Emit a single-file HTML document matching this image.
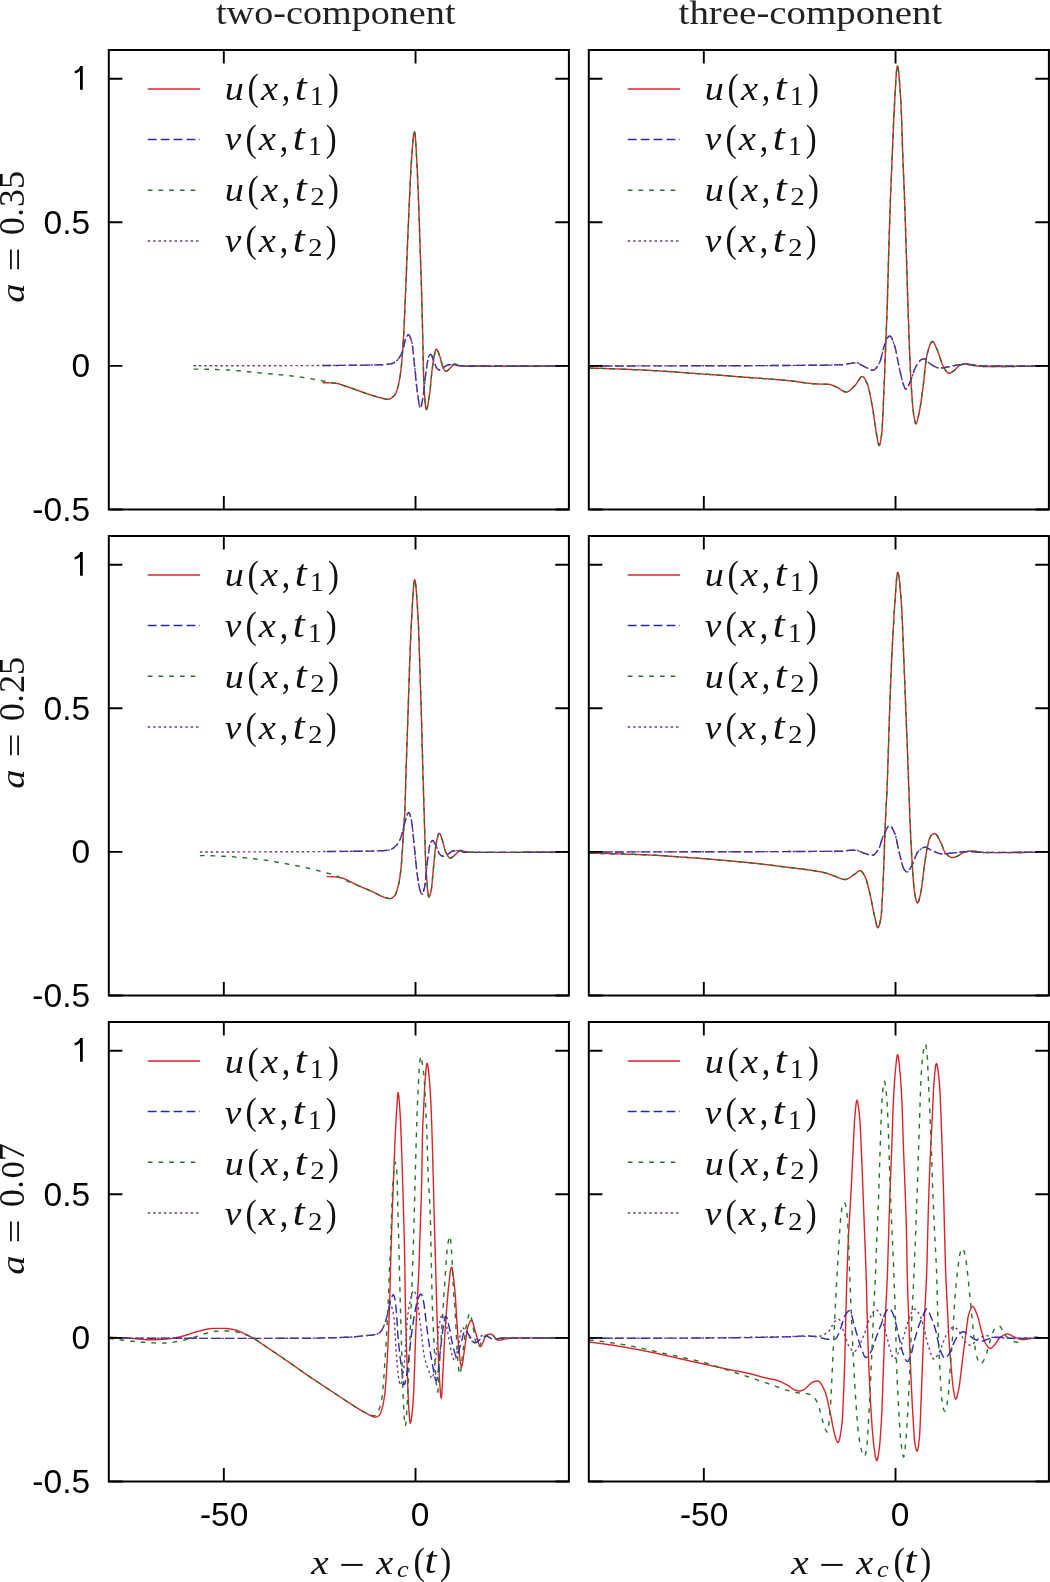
<!DOCTYPE html>
<html><head><meta charset="utf-8"><style>
html,body{margin:0;padding:0;background:#fff;}
svg{display:block;will-change:transform;}
.tl{font-family:"Liberation Sans",sans-serif;font-size:33.5px;fill:#000;}
.ti{font-family:"Liberation Serif",serif;font-size:34px;fill:#222;}
.mt{font-family:"Liberation Serif",serif;font-size:36px;fill:#111;}
</style></head><body>
<svg width="1050" height="1582" viewBox="0 0 1050 1582">
<rect width="1050" height="1582" fill="#fff"/>
<path d="M322.5 382.7 323.0 382.7 323.5 382.7 324.0 382.7 324.5 382.7 325.0 382.7 325.5 382.7 326.0 382.7 326.5 382.8 327.0 382.8 327.5 382.8 328.0 382.8 328.5 382.8 329.0 382.9 329.5 382.9 330.0 382.9 330.5 382.9 331.0 383.0 331.5 383.0 332.0 383.0 332.5 383.0 333.0 383.1 333.5 383.1 334.0 383.1 334.5 383.2 335.0 383.2 335.5 383.2 336.0 383.3 336.5 383.4 337.0 383.5 337.5 383.6 338.0 383.7 338.5 383.8 339.0 383.9 339.5 384.1 340.0 384.2 340.5 384.4 341.0 384.6 341.5 384.7 342.0 384.9 342.5 385.1 343.0 385.3 343.5 385.4 344.0 385.6 344.5 385.8 345.0 386.0 345.5 386.2 346.0 386.3 346.5 386.5 347.0 386.7 347.5 386.8 348.0 387.0 348.5 387.2 349.0 387.3 349.5 387.5 350.0 387.7 350.5 387.8 351.0 388.0 351.5 388.2 352.0 388.4 352.5 388.5 353.0 388.7 353.6 388.9 354.1 389.1 354.6 389.3 355.1 389.4 355.6 389.6 356.1 389.8 356.6 390.0 357.1 390.2 357.6 390.4 358.1 390.5 358.6 390.7 359.1 390.9 359.6 391.1 360.1 391.3 360.6 391.5 361.1 391.7 361.6 391.8 362.1 392.0 362.6 392.2 363.1 392.4 363.6 392.6 364.1 392.7 364.6 392.9 365.1 393.1 365.6 393.3 366.1 393.4 366.6 393.6 367.1 393.8 367.6 393.9 368.1 394.1 368.6 394.3 369.1 394.4 369.6 394.6 370.1 394.7 370.6 394.9 371.1 395.0 371.6 395.2 372.1 395.4 372.6 395.5 373.1 395.7 373.6 395.8 374.1 396.0 374.6 396.1 375.1 396.3 375.6 396.4 376.1 396.6 376.6 396.7 377.1 396.8 377.6 397.0 378.1 397.1 378.6 397.2 379.1 397.4 379.6 397.5 380.1 397.6 380.6 397.8 381.1 397.9 381.6 398.0 382.1 398.2 382.6 398.3 383.1 398.5 383.6 398.6 384.1 398.7 384.6 398.8 385.1 399.0 385.6 399.1 386.1 399.1 386.6 399.2 387.1 399.3 387.6 399.3 388.1 399.3 388.6 399.3 389.1 399.2 389.6 399.0 390.1 398.8 390.6 398.5 391.1 398.2 391.6 397.9 392.1 397.5 392.6 397.1 393.1 396.6 393.6 396.1 394.1 395.6 394.6 395.0 395.1 394.5 395.6 393.6 396.1 392.6 396.6 391.2 397.1 389.7 397.6 388.0 398.1 386.2 398.6 384.2 399.1 381.9 399.6 379.2 400.1 376.1 400.6 372.6 401.1 368.6 401.6 363.6 402.1 357.7 402.6 350.9 403.1 343.8 403.6 335.5 404.1 326.0 404.6 315.0 405.1 303.1 405.6 290.9 406.1 278.8 406.6 266.4 407.1 254.0 407.6 241.9 408.1 229.9 408.6 218.2 409.1 206.9 409.6 195.9 410.1 184.9 410.6 174.4 411.1 165.4 411.6 158.4 412.1 151.6 412.6 145.2 413.1 139.5 413.6 135.1 414.1 132.4 414.6 132.0 415.2 135.4 415.7 141.9 416.2 150.3 416.7 159.2 417.2 168.3 417.7 179.4 418.2 191.8 418.7 204.9 419.2 219.3 419.7 234.8 420.2 249.9 420.7 264.2 421.2 279.1 421.7 296.0 422.2 315.1 422.7 335.7 423.2 360.5 423.7 379.3 424.2 388.6 424.7 396.6 425.2 403.0 425.7 407.5 426.2 409.5 426.7 409.3 427.2 408.0 427.7 405.8 428.2 403.0 428.7 399.9 429.2 396.5 429.7 393.1 430.2 389.1 430.7 384.2 431.2 378.8 431.7 373.5 432.2 368.9 432.7 365.3 433.2 361.8 433.7 358.7 434.2 355.8 434.7 353.5 435.2 351.5 435.7 349.7 436.2 349.1 436.7 349.4 437.2 350.0 437.7 350.9 438.2 352.0 438.7 353.3 439.2 354.7 439.7 356.1 440.2 357.4 440.7 359.2 441.2 361.3 441.7 363.4 442.2 365.2 442.7 366.5 443.2 367.6 443.7 368.6 444.2 369.6 444.7 370.4 445.2 371.0 445.7 371.3 446.2 371.4 446.7 371.2 447.2 371.0 447.7 370.6 448.2 370.1 448.7 369.6 449.2 369.1 449.7 368.5 450.2 368.1 450.7 367.6 451.2 367.1 451.7 366.5 452.2 365.9 452.7 365.3 453.2 364.8 453.7 364.4 454.2 364.2 454.7 364.1 455.2 364.2 455.7 364.3 456.2 364.5 456.7 364.7 457.2 364.9 457.7 365.1 458.2 365.2 458.7 365.4 459.2 365.4 459.7 365.5 460.2 365.6 460.7 365.6 461.2 365.7 461.7 365.8 462.2 365.8 462.7 365.9 463.2 365.9 463.7 366.0 464.2 366.0 464.7 366.1 465.2 366.1 465.7 366.1 466.2 366.2 466.7 366.2 467.2 366.2 467.7 366.3 468.2 366.3 468.7 366.3 469.2 366.3 469.7 366.3 470.2 366.3 470.7 366.3 471.2 366.3 471.7 366.3 472.2 366.3 472.7 366.3 473.2 366.3 473.7 366.3 474.2 366.3 474.7 366.3 475.2 366.3 475.7 366.3 476.2 366.3 476.8 366.3 477.3 366.3 477.8 366.3 478.3 366.3 478.8 366.3 479.3 366.3 479.8 366.3 480.3 366.3 480.8 366.3 481.3 366.3 481.8 366.3 482.3 366.3 482.8 366.3 483.3 366.3 483.8 366.3 484.3 366.3 484.8 366.3 485.3 366.3 485.8 366.3 486.3 366.3 486.8 366.3 487.3 366.3 487.8 366.3 488.3 366.3 488.8 366.3 489.3 366.3 489.8 366.3 490.3 366.3 490.8 366.3 491.3 366.3 491.8 366.3 492.3 366.3 492.8 366.3 493.3 366.3 493.8 366.3 494.3 366.3 494.8 366.3 495.3 366.3 495.8 366.3 496.3 366.3 496.8 366.3 497.3 366.3 497.8 366.3 498.3 366.3 498.8 366.3 499.3 366.3 499.8 366.3 500.3 366.3 500.8 366.3 501.3 366.3 501.8 366.3 502.3 366.3 502.8 366.3 503.3 366.3 503.8 366.3 504.3 366.3 504.8 366.3 505.3 366.3 505.8 366.3 506.3 366.3 506.8 366.3 507.3 366.3 507.8 366.3 508.3 366.3 508.8 366.3 509.3 366.3 509.8 366.3 510.3 366.3 510.8 366.3 511.3 366.3 511.8 366.3 512.3 366.3 512.8 366.3 513.3 366.3 513.8 366.3 514.3 366.3 514.8 366.3 515.3 366.3 515.8 366.3 516.3 366.3 516.8 366.3 517.3 366.3 517.8 366.3 518.3 366.3 518.8 366.3 519.3 366.3 519.8 366.3 520.3 366.3 520.8 366.3 521.3 366.3 521.8 366.3 522.3 366.3 522.8 366.3 523.3 366.3 523.8 366.3 524.3 366.3 524.8 366.2 525.3 366.2 525.8 366.2 526.3 366.2 526.8 366.2 527.3 366.2 527.8 366.2 528.3 366.2 528.8 366.2 529.3 366.2 529.8 366.2 530.3 366.2 530.8 366.2 531.3 366.2 531.8 366.2 532.3 366.2 532.8 366.2 533.3 366.2 533.8 366.2 534.3 366.2 534.8 366.2 535.3 366.2 535.8 366.2 536.3 366.2 536.8 366.2 537.3 366.2 537.8 366.2 538.4 366.2 538.9 366.2 539.4 366.2 539.9 366.2 540.4 366.2 540.9 366.2 541.4 366.2 541.9 366.2 542.4 366.2 542.9 366.2 543.4 366.2 543.9 366.2 544.4 366.2 544.9 366.2 545.4 366.2 545.9 366.2 546.4 366.2 546.9 366.2 547.4 366.2 547.9 366.2 548.4 366.2 548.9 366.1 549.4 366.1 549.9 366.1 550.4 366.1 550.9 366.1 551.4 366.1 551.9 366.1 552.4 366.1 552.9 366.1 553.4 366.1 553.9 366.1 554.4 366.1 554.9 366.1 555.4 366.1 555.9 366.1 556.4 366.1 556.9 366.1 557.4 366.1 557.9 366.1 558.4 366.1 558.9 366.1 559.4 366.1 559.9 366.1 560.4 366.1 560.9 366.1 561.4 366.1 561.9 366.1 562.4 366.1 562.9 366.1 563.4 366.0 563.9 366.0 564.4 366.0 564.9 366.0 565.4 366.0 565.9 366.0 566.4 366.0 566.9 366.0 567.4 366.0 567.9 366.0 568.4 366.0 568.9 366.0" stroke="#dc2428" stroke-width="1.4" fill="none" stroke-linejoin="round"/>
<path d="M322.5 365.5 323.0 365.5 323.5 365.5 324.0 365.5 324.5 365.5 325.0 365.5 325.5 365.5 326.0 365.5 326.5 365.5 327.0 365.5 327.5 365.5 328.0 365.5 328.5 365.5 329.0 365.5 329.5 365.5 330.0 365.5 330.5 365.5 331.0 365.5 331.5 365.5 332.0 365.5 332.5 365.5 333.0 365.5 333.5 365.5 334.0 365.5 334.5 365.5 335.0 365.5 335.5 365.5 336.0 365.5 336.5 365.5 337.0 365.5 337.5 365.5 338.0 365.5 338.5 365.5 339.0 365.4 339.5 365.4 340.0 365.4 340.5 365.4 341.0 365.4 341.5 365.4 342.0 365.4 342.5 365.4 343.0 365.4 343.5 365.4 344.0 365.4 344.5 365.4 345.0 365.4 345.5 365.4 346.0 365.4 346.5 365.4 347.0 365.4 347.5 365.4 348.0 365.4 348.5 365.4 349.0 365.4 349.5 365.4 350.0 365.4 350.5 365.3 351.0 365.3 351.5 365.3 352.0 365.3 352.5 365.3 353.0 365.3 353.6 365.3 354.1 365.3 354.6 365.3 355.1 365.3 355.6 365.3 356.1 365.3 356.6 365.3 357.1 365.3 357.6 365.3 358.1 365.2 358.6 365.2 359.1 365.2 359.6 365.2 360.1 365.2 360.6 365.2 361.1 365.2 361.6 365.2 362.1 365.2 362.6 365.2 363.1 365.2 363.6 365.2 364.1 365.1 364.6 365.1 365.1 365.1 365.6 365.1 366.1 365.1 366.6 365.1 367.1 365.1 367.6 365.1 368.1 365.1 368.6 365.1 369.1 365.1 369.6 365.0 370.1 365.0 370.6 365.0 371.1 365.0 371.6 365.0 372.1 365.0 372.6 365.0 373.1 365.0 373.6 365.0 374.1 364.9 374.6 364.9 375.1 364.9 375.6 364.9 376.1 364.9 376.6 364.9 377.1 364.9 377.6 364.9 378.1 364.8 378.6 364.8 379.1 364.8 379.6 364.8 380.1 364.8 380.6 364.8 381.1 364.8 381.6 364.7 382.1 364.7 382.6 364.7 383.1 364.7 383.6 364.6 384.1 364.6 384.6 364.6 385.1 364.5 385.6 364.5 386.1 364.4 386.6 364.4 387.1 364.3 387.6 364.3 388.1 364.2 388.6 364.2 389.1 364.1 389.6 364.0 390.1 364.0 390.6 363.9 391.1 363.8 391.6 363.7 392.1 363.5 392.6 363.4 393.1 363.1 393.6 362.9 394.1 362.6 394.6 362.2 395.1 361.9 395.6 361.5 396.1 361.1 396.6 360.7 397.1 360.3 397.6 359.8 398.1 359.2 398.6 358.6 399.1 357.9 399.6 357.1 400.1 356.2 400.6 355.3 401.1 354.3 401.6 353.2 402.1 352.1 402.6 350.8 403.1 349.0 403.6 346.9 404.1 344.7 404.6 342.5 405.1 340.5 405.6 339.1 406.1 337.9 406.6 336.8 407.1 335.8 407.6 335.0 408.1 334.6 408.6 334.7 409.1 335.1 409.6 335.9 410.1 336.9 410.6 338.2 411.1 339.6 411.6 341.2 412.1 343.5 412.6 347.2 413.1 351.7 413.6 356.6 414.1 361.5 414.6 366.2 415.2 371.5 415.7 376.9 416.2 382.1 416.7 386.7 417.2 390.5 417.7 394.4 418.2 398.2 418.7 401.7 419.2 404.7 419.7 406.8 420.2 407.8 420.7 407.6 421.2 406.2 421.7 404.0 422.2 401.3 422.7 398.4 423.2 395.5 423.7 391.9 424.2 387.7 424.7 383.2 425.2 378.6 425.7 374.3 426.2 370.6 426.7 367.3 427.2 364.0 427.7 360.9 428.2 358.3 428.7 356.5 429.2 355.6 429.7 354.9 430.2 354.4 430.7 354.3 431.2 354.7 431.7 355.6 432.2 356.9 432.7 358.4 433.2 359.9 433.7 361.2 434.2 362.4 434.7 363.6 435.2 364.8 435.7 366.0 436.2 367.1 436.7 368.0 437.2 368.7 437.7 369.1 438.2 369.4 438.7 369.7 439.2 370.0 439.7 370.1 440.2 370.1 440.7 369.9 441.2 369.7 441.7 369.3 442.2 368.8 442.7 368.3 443.2 367.8 443.7 367.3 444.2 366.9 444.7 366.5 445.2 366.3 445.7 366.0 446.2 365.8 446.7 365.6 447.2 365.4 447.7 365.2 448.2 365.0 448.7 364.8 449.2 364.7 449.7 364.6 450.2 364.6 450.7 364.6 451.2 364.7 451.7 364.8 452.2 364.9 452.7 365.0 453.2 365.1 453.7 365.2 454.2 365.3 454.7 365.3 455.2 365.3 455.7 365.4 456.2 365.4 456.7 365.5 457.2 365.5 457.7 365.5 458.2 365.6 458.7 365.6 459.2 365.6 459.7 365.7 460.2 365.7 460.7 365.7 461.2 365.7 461.7 365.8 462.2 365.8 462.7 365.8 463.2 365.8 463.7 365.9 464.2 365.9 464.7 365.9 465.2 365.9 465.7 365.9 466.2 366.0 466.7 366.0 467.2 366.0 467.7 366.0 468.2 366.0 468.7 366.0 469.2 366.0 469.7 366.0 470.2 366.0 470.7 366.0 471.2 366.0 471.7 366.0 472.2 366.0 472.7 366.0 473.2 366.0 473.7 366.0 474.2 366.0 474.7 366.0 475.2 366.0 475.7 366.0 476.2 366.0 476.8 366.0 477.3 366.0 477.8 366.0 478.3 366.0 478.8 366.0 479.3 366.0 479.8 366.0 480.3 366.0 480.8 366.0 481.3 366.0 481.8 366.0 482.3 366.0 482.8 366.0 483.3 366.0 483.8 366.0 484.3 366.0 484.8 366.0 485.3 366.0 485.8 366.0 486.3 366.0 486.8 366.0 487.3 366.0 487.8 366.0 488.3 366.0 488.8 366.0 489.3 366.0 489.8 366.0 490.3 366.0 490.8 366.0 491.3 366.0 491.8 366.0 492.3 366.0 492.8 366.0 493.3 366.0 493.8 366.0 494.3 366.0 494.8 366.0 495.3 366.0 495.8 366.0 496.3 366.0 496.8 366.0 497.3 366.0 497.8 366.0 498.3 366.0 498.8 366.0 499.3 366.0 499.8 366.0 500.3 366.0 500.8 366.0 501.3 366.0 501.8 366.0 502.3 366.0 502.8 366.0 503.3 366.0 503.8 366.0 504.3 366.0 504.8 366.0 505.3 366.0 505.8 366.0 506.3 366.0 506.8 366.0 507.3 366.0 507.8 366.0 508.3 366.0 508.8 366.0 509.3 366.0 509.8 366.0 510.3 366.0 510.8 366.0 511.3 366.0 511.8 366.0 512.3 366.0 512.8 366.0 513.3 366.0 513.8 366.0 514.3 366.0 514.8 366.0 515.3 366.0 515.8 366.0 516.3 366.0 516.8 366.0 517.3 366.0 517.8 366.0 518.3 366.0 518.8 366.0 519.3 366.0 519.8 366.0 520.3 366.0 520.8 366.0 521.3 366.0 521.8 366.0 522.3 366.0 522.8 366.0 523.3 366.0 523.8 366.0 524.3 366.0 524.8 366.0 525.3 366.0 525.8 366.0 526.3 366.0 526.8 366.0 527.3 366.0 527.8 366.0 528.3 366.0 528.8 366.0 529.3 366.0 529.8 366.0 530.3 366.0 530.8 366.0 531.3 366.0 531.8 366.0 532.3 366.0 532.8 366.0 533.3 366.0 533.8 366.0 534.3 366.0 534.8 366.0 535.3 366.0 535.8 366.0 536.3 366.0 536.8 366.0 537.3 366.0 537.8 366.0 538.4 366.0 538.9 366.0 539.4 366.0 539.9 366.0 540.4 366.0 540.9 366.0 541.4 366.0 541.9 366.0 542.4 366.0 542.9 366.0 543.4 366.0 543.9 366.0 544.4 366.0 544.9 366.0 545.4 366.0 545.9 366.0 546.4 366.0 546.9 366.0 547.4 366.0 547.9 366.0 548.4 366.0 548.9 366.0 549.4 366.0 549.9 366.0 550.4 366.0 550.9 366.0 551.4 366.0 551.9 366.0 552.4 366.0 552.9 366.0 553.4 366.0 553.9 366.0 554.4 366.0 554.9 366.0 555.4 366.0 555.9 366.0 556.4 366.0 556.9 366.0 557.4 366.0 557.9 366.0 558.4 366.0 558.9 366.0 559.4 366.0 559.9 366.0 560.4 366.0 560.9 366.0 561.4 366.0 561.9 366.0 562.4 366.0 562.9 366.0 563.4 366.0 563.9 366.0 564.4 366.0 564.9 366.0 565.4 366.0 565.9 366.0 566.4 366.0 566.9 366.0 567.4 366.0 567.9 366.0 568.4 366.0 568.9 366.0" stroke="#2828b8" stroke-width="1.4" fill="none" stroke-linejoin="round" stroke-dasharray="8.8 4.1"/>
<path d="M193.6 369.1 194.1 369.1 194.6 369.1 195.1 369.1 195.6 369.1 196.1 369.1 196.6 369.1 197.1 369.1 197.6 369.1 198.1 369.1 198.6 369.1 199.1 369.1 199.6 369.1 200.1 369.1 200.6 369.1 201.1 369.2 201.6 369.2 202.1 369.2 202.6 369.2 203.1 369.2 203.6 369.2 204.1 369.2 204.6 369.2 205.1 369.2 205.6 369.2 206.1 369.2 206.6 369.3 207.1 369.3 207.6 369.3 208.1 369.3 208.6 369.3 209.1 369.3 209.6 369.3 210.1 369.3 210.6 369.4 211.1 369.4 211.6 369.4 212.1 369.4 212.6 369.4 213.1 369.4 213.6 369.4 214.1 369.5 214.6 369.5 215.1 369.5 215.6 369.5 216.1 369.5 216.6 369.5 217.1 369.5 217.6 369.6 218.1 369.6 218.6 369.6 219.1 369.6 219.6 369.6 220.1 369.6 220.6 369.7 221.1 369.7 221.6 369.7 222.1 369.7 222.6 369.7 223.1 369.7 223.6 369.8 224.1 369.8 224.6 369.8 225.1 369.8 225.6 369.9 226.1 369.9 226.6 369.9 227.1 369.9 227.6 370.0 228.1 370.0 228.6 370.0 229.1 370.1 229.6 370.1 230.1 370.1 230.6 370.1 231.1 370.2 231.6 370.2 232.1 370.3 232.6 370.3 233.1 370.3 233.6 370.4 234.1 370.4 234.6 370.4 235.1 370.5 235.6 370.5 236.1 370.6 236.6 370.6 237.1 370.7 237.6 370.7 238.1 370.7 238.6 370.8 239.1 370.8 239.6 370.9 240.1 370.9 240.6 371.0 241.1 371.0 241.6 371.1 242.1 371.1 242.6 371.2 243.1 371.2 243.6 371.3 244.1 371.3 244.6 371.4 245.1 371.4 245.6 371.5 246.1 371.5 246.6 371.6 247.1 371.6 247.6 371.7 248.1 371.7 248.6 371.8 249.1 371.8 249.6 371.9 250.1 371.9 250.6 372.0 251.1 372.0 251.6 372.1 252.1 372.1 252.6 372.2 253.1 372.2 253.6 372.3 254.1 372.3 254.6 372.4 255.1 372.4 255.6 372.5 256.1 372.5 256.7 372.6 257.2 372.6 257.7 372.7 258.2 372.7 258.7 372.8 259.2 372.8 259.7 372.9 260.2 372.9 260.7 373.0 261.2 373.0 261.7 373.1 262.2 373.1 262.7 373.2 263.2 373.2 263.7 373.3 264.2 373.3 264.7 373.4 265.2 373.4 265.7 373.5 266.2 373.5 266.7 373.6 267.2 373.6 267.7 373.6 268.2 373.7 268.7 373.7 269.2 373.8 269.7 373.8 270.2 373.9 270.7 373.9 271.2 374.0 271.7 374.0 272.2 374.0 272.7 374.1 273.2 374.1 273.7 374.2 274.2 374.2 274.7 374.3 275.2 374.3 275.7 374.4 276.2 374.4 276.7 374.5 277.2 374.5 277.7 374.6 278.2 374.6 278.7 374.6 279.2 374.7 279.7 374.7 280.2 374.8 280.7 374.8 281.2 374.9 281.7 374.9 282.2 375.0 282.7 375.0 283.2 375.1 283.7 375.1 284.2 375.2 284.7 375.2 285.2 375.3 285.7 375.3 286.2 375.4 286.7 375.4 287.2 375.5 287.7 375.5 288.2 375.6 288.7 375.6 289.2 375.7 289.7 375.8 290.2 375.8 290.7 375.9 291.2 375.9 291.7 376.0 292.2 376.0 292.7 376.1 293.2 376.1 293.7 376.2 294.2 376.3 294.7 376.3 295.2 376.4 295.7 376.4 296.2 376.5 296.7 376.6 297.2 376.6 297.7 376.7 298.2 376.8 298.7 376.8 299.2 376.9 299.7 377.0 300.2 377.0 300.7 377.1 301.2 377.2 301.7 377.2 302.2 377.3 302.7 377.4 303.2 377.5 303.7 377.5 304.2 377.6 304.7 377.7 305.2 377.8 305.7 377.8 306.2 377.9 306.7 378.0 307.2 378.1 307.7 378.2 308.2 378.2 308.7 378.3 309.2 378.4 309.7 378.5 310.2 378.6 310.7 378.6 311.2 378.7 311.7 378.8 312.2 378.9 312.7 379.0 313.2 379.1 313.7 379.1 314.2 379.2 314.7 379.3 315.2 379.4 315.7 379.5 316.2 379.6 316.7 379.7 317.2 379.8 317.7 379.9 318.2 380.0 318.7 380.0 319.2 380.1 319.7 380.2 320.2 380.4 320.7 380.5 321.2 380.6 321.7 380.7 322.2 380.8 322.7 380.9 323.2 381.0 323.7 381.1 324.2 381.2 324.7 381.3 325.2 381.4 325.7 381.5 326.2 381.6 326.7 381.7 327.2 381.8 327.7 381.9 328.2 382.0 328.7 382.0 329.2 382.1 329.7 382.2 330.2 382.3 330.7 382.4 331.2 382.5 331.7 382.6 332.2 382.6 332.7 382.7 333.2 382.8 333.7 382.9 334.2 383.0 334.7 383.1 335.2 383.2 335.7 383.4 336.2 383.5 336.7 383.6 337.2 383.7 337.7 383.9 338.2 384.0 338.7 384.1 339.2 384.3 339.7 384.4 340.2 384.6 340.7 384.7 341.2 384.9 341.7 385.0 342.2 385.2 342.7 385.3 343.2 385.5 343.7 385.6 344.2 385.8 344.7 386.0 345.2 386.1 345.7 386.3 346.2 386.4 346.7 386.6 347.2 386.7 347.7 386.9 348.2 387.1 348.7 387.2 349.2 387.4 349.7 387.6 350.2 387.7 350.7 387.9 351.2 388.1 351.7 388.2 352.2 388.4 352.7 388.6 353.2 388.8 353.7 389.0 354.2 389.1 354.7 389.3 355.2 389.5 355.7 389.7 356.2 389.9 356.7 390.1 357.2 390.2 357.7 390.4 358.2 390.6 358.7 390.8 359.2 391.0 359.7 391.2 360.2 391.4 360.7 391.5 361.2 391.7 361.7 391.9 362.2 392.1 362.7 392.3 363.2 392.4 363.7 392.6 364.2 392.8 364.7 393.0 365.2 393.1 365.7 393.3 366.2 393.5 366.7 393.7 367.2 393.8 367.7 394.0 368.2 394.2 368.7 394.3 369.2 394.5 369.7 394.6 370.2 394.8 370.7 394.9 371.2 395.1 371.7 395.3 372.2 395.4 372.7 395.6 373.2 395.7 373.7 395.9 374.2 396.0 374.7 396.2 375.2 396.3 375.7 396.5 376.2 396.6 376.7 396.7 377.2 396.9 377.7 397.0 378.2 397.2 378.7 397.3 379.2 397.4 379.7 397.5 380.2 397.7 380.7 397.8 381.2 397.9 381.8 398.1 382.3 398.2 382.8 398.4 383.3 398.5 383.8 398.6 384.3 398.8 384.8 398.9 385.3 399.0 385.8 399.1 386.3 399.2 386.8 399.2 387.3 399.3 387.8 399.3 388.3 399.3 388.8 399.2 389.3 399.1 389.8 398.9 390.3 398.7 390.8 398.5 391.3 398.1 391.8 397.8 392.3 397.4 392.8 396.9 393.3 396.5 393.8 396.0 394.3 395.4 394.8 394.9 395.3 394.3 395.8 393.4 396.3 392.2 396.8 390.8 397.3 389.2 397.8 387.5 398.3 385.6 398.8 383.6 399.3 381.2 399.8 378.4 400.3 375.2 400.8 371.5 401.3 367.4 401.8 362.1 402.3 355.9 402.8 349.0 403.3 341.6 403.8 333.0 404.3 323.1 404.8 311.9 405.3 299.8 405.8 287.6 406.3 275.5 406.8 263.1 407.3 250.7 407.8 238.7 408.3 226.8 408.8 215.1 409.3 204.0 409.8 193.0 410.3 182.0 410.8 171.9 411.3 163.5 411.8 156.7 412.3 149.9 412.8 143.6 413.3 138.2 413.8 134.2 414.3 132.0 414.8 132.5 415.3 136.8 415.8 143.9 416.3 152.5 416.8 161.3 417.3 170.9 417.8 182.4 418.3 195.0 418.8 208.3 419.3 223.1 419.8 238.6 420.3 253.4 420.8 267.8 421.3 283.0 421.8 300.5 422.3 319.9 422.8 341.5 423.3 366.1 423.8 381.6 424.3 390.6 424.8 398.3 425.3 404.3 425.8 408.2 426.3 409.6 426.8 409.1 427.3 407.5 427.8 405.2 428.3 402.3 428.8 399.1 429.3 395.7 429.8 392.3 430.3 388.1 430.8 383.0 431.3 377.5 431.8 372.4 432.3 368.1 432.8 364.5 433.3 361.1 433.8 358.0 434.3 355.3 434.8 353.0 435.3 351.1 435.8 349.4 436.3 349.1 436.8 349.5 437.3 350.2 437.8 351.1 438.3 352.3 438.8 353.6 439.3 355.0 439.8 356.4 440.3 357.8 440.8 359.7 441.3 361.7 441.8 363.8 442.3 365.5 442.8 366.7 443.3 367.8 443.8 368.8 444.3 369.8 444.8 370.5 445.3 371.1 445.8 371.4 446.3 371.4 446.8 371.2 447.3 370.9 447.8 370.5 448.3 370.0 448.8 369.5 449.3 369.0 449.8 368.5 450.3 368.0 450.8 367.5 451.3 367.0 451.8 366.4 452.3 365.8 452.8 365.2 453.3 364.7 453.8 364.3 454.3 364.1 454.8 364.1 455.3 364.2 455.8 364.3 456.3 364.5 456.8 364.7 457.3 364.9 457.8 365.1 458.3 365.3 458.8 365.4 459.3 365.5 459.8 365.5 460.3 365.6 460.8 365.7 461.3 365.7 461.8 365.8 462.3 365.8 462.8 365.9 463.3 365.9 463.8 366.0 464.3 366.0 464.8 366.1 465.3 366.1 465.8 366.2 466.3 366.2 466.8 366.2 467.3 366.2 467.8 366.3 468.3 366.3 468.8 366.3 469.3 366.3 469.8 366.3 470.3 366.3 470.8 366.3 471.3 366.3 471.8 366.3 472.3 366.3 472.8 366.3 473.3 366.3 473.8 366.3 474.3 366.3 474.8 366.3 475.3 366.3 475.8 366.3 476.3 366.3 476.8 366.3 477.3 366.3 477.8 366.3 478.3 366.3 478.8 366.3 479.3 366.3 479.8 366.3 480.3 366.3 480.8 366.3 481.3 366.3 481.8 366.3 482.3 366.3 482.8 366.3 483.3 366.3 483.8 366.3 484.3 366.3 484.8 366.3 485.3 366.3 485.8 366.3 486.3 366.3 486.8 366.3 487.3 366.3 487.8 366.3 488.3 366.3 488.8 366.3 489.3 366.3 489.8 366.3 490.3 366.3 490.8 366.3 491.3 366.3 491.8 366.3 492.3 366.3 492.8 366.3 493.3 366.3 493.8 366.3 494.3 366.3 494.8 366.3 495.3 366.3 495.8 366.3 496.3 366.3 496.8 366.3 497.3 366.3 497.8 366.3 498.3 366.3 498.8 366.3 499.3 366.3 499.8 366.3 500.3 366.3 500.8 366.3 501.3 366.3 501.8 366.3 502.3 366.3 502.8 366.3 503.3 366.3 503.8 366.3 504.3 366.3 504.8 366.3 505.3 366.3 505.8 366.3 506.4 366.3 506.9 366.3 507.4 366.3 507.9 366.3 508.4 366.3 508.9 366.3 509.4 366.3 509.9 366.3 510.4 366.3 510.9 366.3 511.4 366.3 511.9 366.3 512.4 366.3 512.9 366.3 513.4 366.3 513.9 366.3 514.4 366.3 514.9 366.3 515.4 366.3 515.9 366.3 516.4 366.3 516.9 366.3 517.4 366.3 517.9 366.3 518.4 366.3 518.9 366.3 519.4 366.3 519.9 366.3 520.4 366.3 520.9 366.3 521.4 366.3 521.9 366.3 522.4 366.3 522.9 366.3 523.4 366.3 523.9 366.3 524.4 366.3 524.9 366.2 525.4 366.2 525.9 366.2 526.4 366.2 526.9 366.2 527.4 366.2 527.9 366.2 528.4 366.2 528.9 366.2 529.4 366.2 529.9 366.2 530.4 366.2 530.9 366.2 531.4 366.2 531.9 366.2 532.4 366.2 532.9 366.2 533.4 366.2 533.9 366.2 534.4 366.2 534.9 366.2 535.4 366.2 535.9 366.2 536.4 366.2 536.9 366.2 537.4 366.2 537.9 366.2 538.4 366.2 538.9 366.2 539.4 366.2 539.9 366.2 540.4 366.2 540.9 366.2 541.4 366.2 541.9 366.2 542.4 366.2 542.9 366.2 543.4 366.2 543.9 366.2 544.4 366.2 544.9 366.2 545.4 366.2 545.9 366.2 546.4 366.2 546.9 366.2 547.4 366.2 547.9 366.2 548.4 366.2 548.9 366.1 549.4 366.1 549.9 366.1 550.4 366.1 550.9 366.1 551.4 366.1 551.9 366.1 552.4 366.1 552.9 366.1 553.4 366.1 553.9 366.1 554.4 366.1 554.9 366.1 555.4 366.1 555.9 366.1 556.4 366.1 556.9 366.1 557.4 366.1 557.9 366.1 558.4 366.1 558.9 366.1 559.4 366.1 559.9 366.1 560.4 366.1 560.9 366.1 561.4 366.1 561.9 366.1 562.4 366.1 562.9 366.1 563.4 366.0 563.9 366.0 564.4 366.0 564.9 366.0 565.4 366.0 565.9 366.0 566.4 366.0 566.9 366.0 567.4 366.0 567.9 366.0 568.4 366.0 568.9 366.0" stroke="#237623" stroke-width="1.4" fill="none" stroke-linejoin="round" stroke-dasharray="4.7 6"/>
<path d="M193.6 365.8 194.1 365.8 194.6 365.8 195.1 365.8 195.6 365.8 196.1 365.8 196.6 365.8 197.1 365.8 197.6 365.8 198.1 365.8 198.6 365.8 199.1 365.8 199.6 365.8 200.1 365.8 200.6 365.8 201.1 365.8 201.6 365.8 202.1 365.8 202.6 365.8 203.1 365.8 203.6 365.8 204.1 365.8 204.6 365.8 205.1 365.8 205.6 365.8 206.1 365.8 206.6 365.8 207.1 365.8 207.6 365.8 208.1 365.8 208.6 365.8 209.1 365.8 209.6 365.8 210.1 365.8 210.6 365.8 211.1 365.8 211.6 365.8 212.1 365.8 212.6 365.8 213.1 365.8 213.6 365.8 214.1 365.8 214.6 365.8 215.1 365.8 215.6 365.8 216.1 365.8 216.6 365.8 217.1 365.8 217.6 365.8 218.1 365.8 218.6 365.8 219.1 365.8 219.6 365.8 220.1 365.8 220.6 365.8 221.1 365.8 221.6 365.8 222.1 365.8 222.6 365.8 223.1 365.8 223.6 365.8 224.1 365.8 224.6 365.8 225.1 365.8 225.6 365.8 226.1 365.8 226.6 365.8 227.1 365.8 227.6 365.8 228.1 365.8 228.6 365.8 229.1 365.8 229.6 365.8 230.1 365.8 230.6 365.8 231.1 365.8 231.6 365.8 232.1 365.8 232.6 365.8 233.1 365.8 233.6 365.8 234.1 365.8 234.6 365.8 235.1 365.8 235.6 365.8 236.1 365.8 236.6 365.8 237.1 365.8 237.6 365.8 238.1 365.8 238.6 365.8 239.1 365.8 239.6 365.8 240.1 365.8 240.6 365.8 241.1 365.7 241.6 365.7 242.1 365.7 242.6 365.7 243.1 365.7 243.6 365.7 244.1 365.7 244.6 365.7 245.1 365.7 245.6 365.7 246.1 365.7 246.6 365.7 247.1 365.7 247.6 365.7 248.1 365.7 248.6 365.7 249.1 365.7 249.6 365.7 250.1 365.7 250.6 365.7 251.1 365.7 251.6 365.7 252.1 365.7 252.6 365.7 253.1 365.7 253.6 365.7 254.1 365.7 254.6 365.7 255.1 365.7 255.6 365.7 256.1 365.7 256.7 365.7 257.2 365.7 257.7 365.7 258.2 365.7 258.7 365.7 259.2 365.7 259.7 365.7 260.2 365.7 260.7 365.7 261.2 365.7 261.7 365.7 262.2 365.7 262.7 365.7 263.2 365.7 263.7 365.7 264.2 365.7 264.7 365.7 265.2 365.7 265.7 365.7 266.2 365.7 266.7 365.7 267.2 365.7 267.7 365.7 268.2 365.7 268.7 365.7 269.2 365.7 269.7 365.7 270.2 365.7 270.7 365.7 271.2 365.7 271.7 365.7 272.2 365.7 272.7 365.7 273.2 365.7 273.7 365.7 274.2 365.7 274.7 365.7 275.2 365.7 275.7 365.7 276.2 365.7 276.7 365.7 277.2 365.7 277.7 365.7 278.2 365.7 278.7 365.7 279.2 365.7 279.7 365.7 280.2 365.7 280.7 365.7 281.2 365.7 281.7 365.7 282.2 365.7 282.7 365.6 283.2 365.6 283.7 365.6 284.2 365.6 284.7 365.6 285.2 365.6 285.7 365.6 286.2 365.6 286.7 365.6 287.2 365.6 287.7 365.6 288.2 365.6 288.7 365.6 289.2 365.6 289.7 365.6 290.2 365.6 290.7 365.6 291.2 365.6 291.7 365.6 292.2 365.6 292.7 365.6 293.2 365.6 293.7 365.6 294.2 365.6 294.7 365.6 295.2 365.6 295.7 365.6 296.2 365.6 296.7 365.6 297.2 365.6 297.7 365.6 298.2 365.6 298.7 365.6 299.2 365.6 299.7 365.6 300.2 365.6 300.7 365.6 301.2 365.6 301.7 365.6 302.2 365.6 302.7 365.6 303.2 365.6 303.7 365.6 304.2 365.6 304.7 365.6 305.2 365.6 305.7 365.6 306.2 365.6 306.7 365.6 307.2 365.6 307.7 365.6 308.2 365.6 308.7 365.6 309.2 365.6 309.7 365.6 310.2 365.6 310.7 365.6 311.2 365.6 311.7 365.6 312.2 365.6 312.7 365.6 313.2 365.6 313.7 365.5 314.2 365.5 314.7 365.5 315.2 365.5 315.7 365.5 316.2 365.5 316.7 365.5 317.2 365.5 317.7 365.5 318.2 365.5 318.7 365.5 319.2 365.5 319.7 365.5 320.2 365.5 320.7 365.5 321.2 365.5 321.7 365.5 322.2 365.5 322.7 365.5 323.2 365.5 323.7 365.5 324.2 365.5 324.7 365.5 325.2 365.5 325.7 365.5 326.2 365.5 326.7 365.5 327.2 365.5 327.7 365.5 328.2 365.5 328.7 365.5 329.2 365.5 329.7 365.5 330.2 365.5 330.7 365.5 331.2 365.4 331.7 365.4 332.2 365.4 332.7 365.4 333.2 365.4 333.7 365.4 334.2 365.4 334.7 365.4 335.2 365.4 335.7 365.4 336.2 365.4 336.7 365.4 337.2 365.4 337.7 365.4 338.2 365.4 338.7 365.4 339.2 365.4 339.7 365.4 340.2 365.4 340.7 365.4 341.2 365.4 341.7 365.4 342.2 365.4 342.7 365.4 343.2 365.4 343.7 365.4 344.2 365.4 344.7 365.4 345.2 365.3 345.7 365.3 346.2 365.3 346.7 365.3 347.2 365.3 347.7 365.3 348.2 365.3 348.7 365.3 349.2 365.3 349.7 365.3 350.2 365.3 350.7 365.3 351.2 365.3 351.7 365.3 352.2 365.3 352.7 365.3 353.2 365.3 353.7 365.3 354.2 365.3 354.7 365.3 355.2 365.2 355.7 365.2 356.2 365.2 356.7 365.2 357.2 365.2 357.7 365.2 358.2 365.2 358.7 365.2 359.2 365.2 359.7 365.2 360.2 365.2 360.7 365.2 361.2 365.2 361.7 365.2 362.2 365.2 362.7 365.1 363.2 365.1 363.7 365.1 364.2 365.1 364.7 365.1 365.2 365.1 365.7 365.1 366.2 365.1 366.7 365.1 367.2 365.1 367.7 365.1 368.2 365.1 368.7 365.0 369.2 365.0 369.7 365.0 370.2 365.0 370.7 365.0 371.2 365.0 371.7 365.0 372.2 365.0 372.7 365.0 373.2 365.0 373.7 364.9 374.2 364.9 374.7 364.9 375.2 364.9 375.7 364.9 376.2 364.9 376.7 364.9 377.2 364.9 377.7 364.9 378.2 364.8 378.7 364.8 379.2 364.8 379.7 364.8 380.2 364.8 380.7 364.8 381.2 364.8 381.8 364.7 382.3 364.7 382.8 364.7 383.3 364.7 383.8 364.6 384.3 364.6 384.8 364.6 385.3 364.5 385.8 364.5 386.3 364.4 386.8 364.4 387.3 364.3 387.8 364.3 388.3 364.2 388.8 364.2 389.3 364.1 389.8 364.0 390.3 363.9 390.8 363.9 391.3 363.8 391.8 363.7 392.3 363.5 392.8 363.3 393.3 363.1 393.8 362.8 394.3 362.5 394.8 362.1 395.3 361.8 395.8 361.4 396.3 361.0 396.8 360.6 397.3 360.2 397.8 359.6 398.3 359.1 398.8 358.4 399.3 357.7 399.8 356.9 400.3 356.0 400.8 355.0 401.3 354.0 401.8 352.9 402.3 351.8 402.8 350.3 403.3 348.5 403.8 346.3 404.3 344.1 404.8 341.9 405.3 340.1 405.8 338.7 406.3 337.6 406.8 336.5 407.3 335.5 407.8 334.9 408.3 334.6 408.8 334.8 409.3 335.3 409.8 336.1 410.3 337.2 410.8 338.5 411.3 340.0 411.8 341.7 412.3 344.4 412.8 348.3 413.3 352.9 413.8 357.9 414.3 362.7 414.8 367.5 415.3 372.8 415.8 378.2 416.3 383.3 416.8 387.7 417.3 391.4 417.8 395.3 418.3 399.1 418.8 402.5 419.3 405.3 419.8 407.2 420.3 407.9 420.8 407.3 421.3 405.7 421.8 403.3 422.3 400.6 422.8 397.7 423.3 394.7 423.8 391.0 424.3 386.7 424.8 382.1 425.3 377.6 425.8 373.4 426.3 369.8 426.8 366.5 427.3 363.3 427.8 360.2 428.3 357.8 428.8 356.2 429.3 355.4 429.8 354.8 430.3 354.4 430.8 354.3 431.3 354.9 431.8 355.9 432.3 357.2 432.8 358.7 433.3 360.2 433.8 361.5 434.3 362.7 434.8 363.8 435.3 365.1 435.8 366.3 436.3 367.3 436.8 368.2 437.3 368.8 437.8 369.2 438.3 369.5 438.8 369.8 439.3 370.0 439.8 370.1 440.3 370.1 440.8 369.9 441.3 369.6 441.8 369.2 442.3 368.7 442.8 368.2 443.3 367.7 443.8 367.2 444.3 366.8 444.8 366.5 445.3 366.2 445.8 366.0 446.3 365.7 446.8 365.5 447.3 365.3 447.8 365.1 448.3 364.9 448.8 364.8 449.3 364.7 449.8 364.6 450.3 364.6 450.8 364.6 451.3 364.7 451.8 364.8 452.3 364.9 452.8 365.0 453.3 365.1 453.8 365.2 454.3 365.3 454.8 365.3 455.3 365.4 455.8 365.4 456.3 365.4 456.8 365.5 457.3 365.5 457.8 365.5 458.3 365.6 458.8 365.6 459.3 365.6 459.8 365.7 460.3 365.7 460.8 365.7 461.3 365.8 461.8 365.8 462.3 365.8 462.8 365.8 463.3 365.8 463.8 365.9 464.3 365.9 464.8 365.9 465.3 365.9 465.8 365.9 466.3 366.0 466.8 366.0 467.3 366.0 467.8 366.0 468.3 366.0 468.8 366.0 469.3 366.0 469.8 366.0 470.3 366.0 470.8 366.0 471.3 366.0 471.8 366.0 472.3 366.0 472.8 366.0 473.3 366.0 473.8 366.0 474.3 366.0 474.8 366.0 475.3 366.0 475.8 366.0 476.3 366.0 476.8 366.0 477.3 366.0 477.8 366.0 478.3 366.0 478.8 366.0 479.3 366.0 479.8 366.0 480.3 366.0 480.8 366.0 481.3 366.0 481.8 366.0 482.3 366.0 482.8 366.0 483.3 366.0 483.8 366.0 484.3 366.0 484.8 366.0 485.3 366.0 485.8 366.0 486.3 366.0 486.8 366.0 487.3 366.0 487.8 366.0 488.3 366.0 488.8 366.0 489.3 366.0 489.8 366.0 490.3 366.0 490.8 366.0 491.3 366.0 491.8 366.0 492.3 366.0 492.8 366.0 493.3 366.0 493.8 366.0 494.3 366.0 494.8 366.0 495.3 366.0 495.8 366.0 496.3 366.0 496.8 366.0 497.3 366.0 497.8 366.0 498.3 366.0 498.8 366.0 499.3 366.0 499.8 366.0 500.3 366.0 500.8 366.0 501.3 366.0 501.8 366.0 502.3 366.0 502.8 366.0 503.3 366.0 503.8 366.0 504.3 366.0 504.8 366.0 505.3 366.0 505.8 366.0 506.4 366.0 506.9 366.0 507.4 366.0 507.9 366.0 508.4 366.0 508.9 366.0 509.4 366.0 509.9 366.0 510.4 366.0 510.9 366.0 511.4 366.0 511.9 366.0 512.4 366.0 512.9 366.0 513.4 366.0 513.9 366.0 514.4 366.0 514.9 366.0 515.4 366.0 515.9 366.0 516.4 366.0 516.9 366.0 517.4 366.0 517.9 366.0 518.4 366.0 518.9 366.0 519.4 366.0 519.9 366.0 520.4 366.0 520.9 366.0 521.4 366.0 521.9 366.0 522.4 366.0 522.9 366.0 523.4 366.0 523.9 366.0 524.4 366.0 524.9 366.0 525.4 366.0 525.9 366.0 526.4 366.0 526.9 366.0 527.4 366.0 527.9 366.0 528.4 366.0 528.9 366.0 529.4 366.0 529.9 366.0 530.4 366.0 530.9 366.0 531.4 366.0 531.9 366.0 532.4 366.0 532.9 366.0 533.4 366.0 533.9 366.0 534.4 366.0 534.9 366.0 535.4 366.0 535.9 366.0 536.4 366.0 536.9 366.0 537.4 366.0 537.9 366.0 538.4 366.0 538.9 366.0 539.4 366.0 539.9 366.0 540.4 366.0 540.9 366.0 541.4 366.0 541.9 366.0 542.4 366.0 542.9 366.0 543.4 366.0 543.9 366.0 544.4 366.0 544.9 366.0 545.4 366.0 545.9 366.0 546.4 366.0 546.9 366.0 547.4 366.0 547.9 366.0 548.4 366.0 548.9 366.0 549.4 366.0 549.9 366.0 550.4 366.0 550.9 366.0 551.4 366.0 551.9 366.0 552.4 366.0 552.9 366.0 553.4 366.0 553.9 366.0 554.4 366.0 554.9 366.0 555.4 366.0 555.9 366.0 556.4 366.0 556.9 366.0 557.4 366.0 557.9 366.0 558.4 366.0 558.9 366.0 559.4 366.0 559.9 366.0 560.4 366.0 560.9 366.0 561.4 366.0 561.9 366.0 562.4 366.0 562.9 366.0 563.4 366.0 563.9 366.0 564.4 366.0 564.9 366.0 565.4 366.0 565.9 366.0 566.4 366.0 566.9 366.0 567.4 366.0 567.9 366.0 568.4 366.0 568.9 366.0" stroke="#763a7e" stroke-width="1.4" fill="none" stroke-linejoin="round" stroke-dasharray="2.4 2.96"/>
<path d="M589.0 368.1 589.5 368.1 590.0 368.1 590.5 368.1 591.0 368.1 591.5 368.2 592.0 368.2 592.5 368.2 593.0 368.2 593.5 368.2 594.0 368.2 594.5 368.2 595.0 368.2 595.5 368.2 596.0 368.3 596.5 368.3 597.0 368.3 597.5 368.3 598.0 368.3 598.5 368.3 599.0 368.3 599.5 368.4 600.0 368.4 600.5 368.4 601.0 368.4 601.5 368.4 602.0 368.4 602.5 368.4 603.0 368.5 603.5 368.5 604.0 368.5 604.5 368.5 605.0 368.5 605.5 368.5 606.0 368.5 606.5 368.6 607.0 368.6 607.5 368.6 608.0 368.6 608.5 368.6 609.0 368.6 609.5 368.7 610.0 368.7 610.5 368.7 611.0 368.7 611.5 368.7 612.0 368.7 612.5 368.8 613.0 368.8 613.5 368.8 614.0 368.8 614.5 368.8 615.0 368.9 615.5 368.9 616.0 368.9 616.5 368.9 617.0 368.9 617.5 368.9 618.0 369.0 618.5 369.0 619.0 369.0 619.5 369.0 620.0 369.0 620.5 369.1 621.0 369.1 621.5 369.1 622.0 369.1 622.5 369.1 623.0 369.2 623.5 369.2 624.0 369.2 624.5 369.2 625.0 369.2 625.5 369.3 626.0 369.3 626.5 369.3 627.0 369.3 627.5 369.3 628.0 369.4 628.5 369.4 629.0 369.4 629.5 369.4 630.0 369.5 630.5 369.5 631.0 369.5 631.5 369.5 632.0 369.5 632.5 369.6 633.0 369.6 633.5 369.6 634.0 369.6 634.5 369.6 635.0 369.7 635.5 369.7 636.0 369.7 636.5 369.7 637.0 369.8 637.5 369.8 638.0 369.8 638.5 369.8 639.0 369.8 639.5 369.9 640.0 369.9 640.5 369.9 641.0 369.9 641.5 370.0 642.0 370.0 642.5 370.0 643.0 370.0 643.5 370.1 644.0 370.1 644.5 370.1 645.0 370.1 645.5 370.2 646.0 370.2 646.5 370.2 647.0 370.2 647.5 370.3 648.0 370.3 648.5 370.3 649.0 370.3 649.5 370.4 650.0 370.4 650.5 370.4 651.0 370.4 651.5 370.5 652.0 370.5 652.5 370.5 653.0 370.6 653.5 370.6 654.0 370.6 654.5 370.6 655.0 370.7 655.5 370.7 656.0 370.7 656.5 370.8 657.0 370.8 657.5 370.8 658.0 370.9 658.5 370.9 659.0 370.9 659.5 371.0 660.0 371.0 660.5 371.0 661.0 371.1 661.5 371.1 662.0 371.1 662.5 371.2 663.0 371.2 663.5 371.2 664.0 371.3 664.5 371.3 665.0 371.3 665.5 371.4 666.0 371.4 666.5 371.4 667.0 371.5 667.5 371.5 668.0 371.5 668.5 371.6 669.0 371.6 669.5 371.6 670.0 371.7 670.5 371.7 671.0 371.7 671.5 371.8 672.0 371.8 672.5 371.8 673.0 371.9 673.5 371.9 674.0 371.9 674.5 372.0 675.0 372.0 675.5 372.0 676.0 372.1 676.5 372.1 677.0 372.2 677.5 372.2 678.0 372.2 678.5 372.3 679.0 372.3 679.5 372.3 680.0 372.4 680.5 372.4 681.0 372.4 681.5 372.5 682.0 372.5 682.5 372.6 683.0 372.6 683.5 372.6 684.0 372.7 684.5 372.7 685.0 372.7 685.5 372.8 686.0 372.8 686.5 372.8 687.0 372.9 687.5 372.9 688.0 373.0 688.5 373.0 689.0 373.0 689.5 373.1 690.0 373.1 690.5 373.1 691.0 373.2 691.5 373.2 692.0 373.2 692.5 373.3 693.0 373.3 693.5 373.3 694.0 373.4 694.5 373.4 695.0 373.5 695.5 373.5 696.0 373.5 696.5 373.6 697.0 373.6 697.5 373.6 698.0 373.7 698.5 373.7 699.0 373.7 699.5 373.8 700.0 373.8 700.5 373.8 701.0 373.9 701.5 373.9 702.0 373.9 702.5 374.0 703.0 374.0 703.5 374.1 704.0 374.1 704.5 374.1 705.0 374.2 705.5 374.2 706.0 374.2 706.5 374.3 707.0 374.3 707.5 374.3 708.0 374.4 708.5 374.4 709.0 374.5 709.5 374.5 710.0 374.5 710.5 374.6 711.0 374.6 711.5 374.6 712.0 374.7 712.5 374.7 713.0 374.7 713.5 374.8 714.0 374.8 714.5 374.9 715.0 374.9 715.5 374.9 716.0 375.0 716.5 375.0 717.0 375.0 717.5 375.1 718.0 375.1 718.5 375.2 719.0 375.2 719.5 375.2 720.0 375.3 720.5 375.3 721.0 375.3 721.5 375.4 722.0 375.4 722.5 375.5 723.0 375.5 723.5 375.5 724.0 375.6 724.5 375.6 725.0 375.7 725.5 375.7 726.0 375.7 726.5 375.8 727.0 375.8 727.5 375.8 728.0 375.9 728.5 375.9 729.0 376.0 729.5 376.0 730.0 376.0 730.5 376.1 731.0 376.1 731.5 376.1 732.0 376.2 732.5 376.2 733.0 376.3 733.5 376.3 734.0 376.3 734.5 376.4 735.0 376.4 735.5 376.5 736.0 376.5 736.5 376.5 737.0 376.6 737.5 376.6 738.0 376.6 738.5 376.7 739.0 376.7 739.5 376.8 740.0 376.8 740.5 376.8 741.0 376.9 741.5 376.9 742.0 377.0 742.5 377.0 743.0 377.0 743.5 377.1 744.0 377.1 744.5 377.2 745.0 377.2 745.5 377.2 746.0 377.3 746.5 377.3 747.0 377.3 747.5 377.4 748.0 377.4 748.5 377.5 749.0 377.5 749.5 377.5 750.0 377.6 750.5 377.6 751.0 377.7 751.5 377.7 752.0 377.7 752.5 377.8 753.0 377.8 753.5 377.8 754.0 377.9 754.5 377.9 755.0 378.0 755.5 378.0 756.0 378.0 756.5 378.1 757.0 378.1 757.5 378.1 758.0 378.2 758.5 378.2 759.0 378.3 759.5 378.3 760.0 378.3 760.5 378.4 761.0 378.4 761.5 378.4 762.0 378.5 762.5 378.5 763.0 378.6 763.5 378.6 764.0 378.6 764.5 378.7 765.0 378.7 765.5 378.7 766.0 378.8 766.5 378.8 767.0 378.8 767.5 378.9 768.0 378.9 768.5 379.0 769.0 379.0 769.5 379.0 770.0 379.1 770.5 379.1 771.0 379.2 771.5 379.2 772.0 379.2 772.5 379.3 773.0 379.3 773.5 379.4 774.0 379.4 774.5 379.4 775.0 379.5 775.5 379.5 776.0 379.6 776.5 379.6 777.0 379.6 777.5 379.7 778.0 379.7 778.5 379.8 779.0 379.8 779.5 379.8 780.0 379.9 780.5 379.9 781.0 380.0 781.5 380.0 782.0 380.1 782.5 380.1 783.0 380.1 783.5 380.2 784.0 380.2 784.5 380.3 785.0 380.3 785.5 380.4 786.0 380.4 786.5 380.5 787.0 380.5 787.5 380.6 788.0 380.6 788.5 380.7 789.0 380.7 789.5 380.7 790.0 380.8 790.5 380.9 791.0 380.9 791.5 381.0 792.0 381.0 792.5 381.1 793.0 381.1 793.5 381.2 794.0 381.3 794.5 381.3 795.0 381.4 795.5 381.5 796.0 381.5 796.5 381.6 797.0 381.7 797.5 381.8 798.0 381.8 798.5 381.9 799.0 382.0 799.5 382.0 800.0 382.1 800.5 382.2 801.0 382.3 801.5 382.3 802.0 382.4 802.5 382.5 803.0 382.5 803.5 382.6 804.0 382.7 804.5 382.7 805.0 382.8 805.5 382.9 806.0 382.9 806.5 383.0 807.0 383.1 807.5 383.1 808.0 383.2 808.5 383.3 809.0 383.3 809.5 383.4 810.0 383.4 810.5 383.5 811.0 383.5 811.5 383.6 812.0 383.6 812.5 383.7 813.0 383.7 813.5 383.8 814.0 383.8 814.5 383.8 815.0 383.9 815.5 383.9 816.0 383.9 816.5 383.9 817.0 384.0 817.5 384.0 818.0 384.0 818.5 384.0 819.0 384.0 819.5 384.0 820.0 384.1 820.5 384.1 821.0 384.1 821.5 384.1 822.0 384.1 822.5 384.1 823.0 384.1 823.5 384.1 824.0 384.2 824.5 384.2 825.0 384.2 825.5 384.2 826.0 384.2 826.5 384.3 827.0 384.3 827.5 384.3 828.0 384.3 828.5 384.4 829.0 384.4 829.5 384.5 830.0 384.5 830.5 384.6 831.0 384.8 831.5 384.9 832.0 385.1 832.5 385.3 833.0 385.5 833.5 385.7 834.0 385.9 834.5 386.2 835.0 386.4 835.5 386.6 836.0 386.9 836.5 387.1 837.0 387.3 837.5 387.5 838.0 387.8 838.5 388.1 839.0 388.4 839.5 388.7 840.0 389.1 840.5 389.4 841.0 389.8 841.5 390.1 842.0 390.4 842.5 390.7 843.0 391.0 843.5 391.3 844.0 391.5 844.5 391.7 845.0 391.9 845.5 392.0 846.0 392.1 846.5 392.1 847.0 392.0 847.5 391.9 848.0 391.7 848.5 391.4 849.0 391.1 849.5 390.8 850.0 390.3 850.5 389.9 851.0 389.4 851.5 389.0 852.0 388.5 852.5 387.9 853.0 387.4 853.5 386.9 854.0 386.4 854.5 385.9 855.0 385.4 855.5 384.9 856.0 384.2 856.5 383.6 857.0 382.8 857.5 382.0 858.0 381.2 858.5 380.4 859.0 379.6 859.5 378.9 860.0 378.2 860.5 377.6 861.0 377.1 861.5 376.8 862.0 376.6 862.5 376.5 863.0 376.7 863.5 377.0 864.0 377.6 864.5 378.3 865.0 379.1 865.5 380.0 866.0 381.1 866.5 382.1 867.0 383.3 867.5 384.4 868.0 385.8 868.5 387.6 869.0 389.6 869.5 391.8 870.0 394.2 870.5 396.8 871.0 399.4 871.5 402.2 872.0 404.9 872.5 407.6 873.0 410.6 873.5 413.9 874.0 417.3 874.5 420.9 875.0 424.4 875.5 427.8 876.0 431.0 876.5 433.9 877.0 436.6 877.5 439.5 878.0 442.3 878.5 444.4 879.0 445.5 879.5 445.2 880.0 443.8 880.5 441.7 881.0 438.9 881.5 435.7 882.0 430.9 882.5 422.8 883.0 412.4 883.5 400.7 884.0 389.0 884.5 377.1 885.0 363.9 885.5 350.3 886.0 337.1 886.5 325.3 887.0 312.9 887.5 297.1 888.0 278.3 888.5 259.4 889.0 242.6 889.5 226.7 890.0 211.6 890.5 197.7 891.0 184.8 891.5 172.6 892.0 160.8 892.5 149.0 893.0 136.9 893.5 124.9 894.0 113.9 894.5 104.4 895.0 95.5 895.5 86.5 896.0 78.1 896.5 71.3 897.0 66.9 897.5 65.7 898.0 67.2 898.5 70.5 899.0 75.3 899.5 81.4 900.0 88.4 900.5 96.2 901.0 104.4 901.5 116.1 902.0 131.9 902.5 148.1 903.0 161.5 903.5 173.6 904.0 185.3 904.5 197.7 905.0 211.7 905.5 227.0 906.0 243.0 906.5 258.8 907.0 275.1 907.5 291.4 908.0 307.1 908.5 322.0 909.0 336.5 909.5 349.5 910.0 361.3 910.5 372.2 911.0 381.8 911.5 389.6 912.0 396.7 912.5 403.1 913.0 408.6 913.5 413.1 914.0 416.3 914.5 419.2 915.0 421.7 915.5 423.3 916.0 423.8 916.5 423.2 917.0 422.0 917.5 420.2 918.0 418.1 918.5 415.7 919.0 413.3 919.5 410.9 920.0 408.3 920.5 405.3 921.0 402.1 921.5 398.6 922.0 394.9 922.5 391.2 923.0 387.4 923.5 383.5 924.0 378.9 924.5 374.1 925.0 369.1 925.5 364.5 926.0 360.4 926.5 357.1 927.0 354.9 927.5 352.9 928.0 351.0 928.5 349.2 929.0 347.6 929.5 346.1 930.0 344.7 930.5 343.6 931.0 342.7 931.5 342.0 932.0 341.6 932.5 341.5 933.0 341.7 933.5 342.2 934.0 342.8 934.5 343.7 935.0 344.7 935.5 345.9 936.0 347.1 936.5 348.3 937.0 349.6 937.5 350.8 938.0 352.0 938.5 353.2 939.0 354.6 939.5 356.1 940.0 357.7 940.5 359.3 941.0 360.8 941.5 362.3 942.0 363.7 942.5 364.8 943.0 365.8 943.5 366.7 944.0 367.5 944.5 368.4 945.0 369.3 945.5 370.1 946.0 370.8 946.5 371.5 947.0 372.1 947.5 372.6 948.0 372.9 948.5 373.2 949.0 373.3 949.5 373.3 950.0 373.2 950.5 373.0 951.0 372.7 951.5 372.4 952.0 372.1 952.5 371.7 953.0 371.3 953.5 371.0 954.0 370.6 954.5 370.2 955.0 369.8 955.5 369.3 956.0 368.8 956.5 368.2 957.0 367.7 957.5 367.1 958.0 366.6 958.5 366.1 959.0 365.7 959.5 365.3 960.0 365.1 960.5 364.9 961.0 364.7 961.5 364.6 962.0 364.4 962.5 364.3 963.0 364.2 963.5 364.1 964.0 364.0 964.5 363.9 965.0 363.8 965.5 363.8 966.0 363.8 966.5 363.8 967.0 363.9 967.5 364.0 968.0 364.1 968.5 364.3 969.0 364.4 969.5 364.6 970.0 364.7 970.5 364.9 971.0 365.0 971.5 365.2 972.0 365.3 972.5 365.4 973.0 365.5 973.5 365.5 974.0 365.6 974.5 365.7 975.0 365.7 975.5 365.8 976.0 365.8 976.5 365.9 977.0 366.0 977.5 366.0 978.0 366.1 978.5 366.1 979.0 366.2 979.5 366.2 980.0 366.3 980.5 366.3 981.0 366.3 981.5 366.4 982.0 366.4 982.5 366.4 983.0 366.5 983.5 366.5 984.0 366.5 984.5 366.5 985.0 366.5 985.5 366.5 986.0 366.5 986.5 366.5 987.0 366.5 987.5 366.5 988.0 366.5 988.5 366.5 989.0 366.5 989.5 366.5 990.0 366.5 990.5 366.5 991.0 366.5 991.5 366.5 992.0 366.5 992.5 366.5 993.0 366.5 993.5 366.5 994.0 366.5 994.5 366.5 995.0 366.5 995.5 366.5 996.0 366.5 996.5 366.5 997.0 366.5 997.5 366.5 998.0 366.5 998.5 366.5 999.0 366.5 999.5 366.5 1000.0 366.5 1000.5 366.5 1001.0 366.5 1001.5 366.5 1002.0 366.5 1002.5 366.5 1003.0 366.5 1003.5 366.5 1004.0 366.5 1004.5 366.5 1005.0 366.5 1005.5 366.5 1006.0 366.5 1006.5 366.5 1007.0 366.5 1007.5 366.5 1008.0 366.5 1008.5 366.5 1009.0 366.5 1009.5 366.5 1010.0 366.5 1010.5 366.5 1011.0 366.5 1011.5 366.5 1012.0 366.5 1012.5 366.5 1013.0 366.5 1013.5 366.5 1014.0 366.5 1014.5 366.5 1015.0 366.4 1015.5 366.4 1016.0 366.4 1016.5 366.4 1017.0 366.4 1017.5 366.4 1018.0 366.4 1018.5 366.4 1019.0 366.4 1019.5 366.4 1020.0 366.4 1020.5 366.4 1021.0 366.4 1021.5 366.4 1022.0 366.4 1022.5 366.4 1023.0 366.4 1023.5 366.4 1024.0 366.4 1024.5 366.4 1025.0 366.4 1025.5 366.4 1026.0 366.4 1026.5 366.4 1027.0 366.4 1027.5 366.4 1028.0 366.3 1028.5 366.3 1029.0 366.3 1029.5 366.3 1030.0 366.3 1030.5 366.3 1031.0 366.3 1031.5 366.3 1032.0 366.3 1032.5 366.3 1033.0 366.3 1033.5 366.3 1034.0 366.3 1034.5 366.3 1035.0 366.3 1035.5 366.3 1036.0 366.2 1036.5 366.2 1037.0 366.2 1037.5 366.2 1038.0 366.2 1038.5 366.2 1039.0 366.2 1039.5 366.2 1040.0 366.2 1040.5 366.2 1041.0 366.2 1041.5 366.2 1042.0 366.1 1042.5 366.1 1043.0 366.1 1043.5 366.1 1044.0 366.1 1044.5 366.1 1045.0 366.1 1045.5 366.1 1046.0 366.1 1046.5 366.1 1047.0 366.0 1047.5 366.0 1048.0 366.0 1048.5 366.0 1049.0 366.0" stroke="#dc2428" stroke-width="1.4" fill="none" stroke-linejoin="round"/>
<path d="M589.0 366.0 589.5 366.0 590.0 366.0 590.5 366.0 591.0 366.0 591.5 366.0 592.0 366.0 592.5 366.0 593.0 366.0 593.5 366.0 594.0 366.0 594.5 366.0 595.0 366.0 595.5 366.0 596.0 366.0 596.5 366.0 597.0 366.0 597.5 366.0 598.0 366.0 598.5 366.0 599.0 366.0 599.5 366.0 600.0 366.0 600.5 366.0 601.0 366.0 601.5 366.0 602.0 366.0 602.5 366.0 603.0 366.0 603.5 366.0 604.0 366.0 604.5 366.0 605.0 366.0 605.5 366.0 606.0 366.0 606.5 366.0 607.0 366.0 607.5 366.0 608.0 366.0 608.5 366.0 609.0 366.0 609.5 366.0 610.0 366.0 610.5 366.0 611.0 366.0 611.5 366.0 612.0 366.0 612.5 366.0 613.0 366.0 613.5 366.0 614.0 366.0 614.5 366.0 615.0 366.0 615.5 366.0 616.0 366.0 616.5 366.0 617.0 366.0 617.5 366.0 618.0 366.0 618.5 366.0 619.0 366.0 619.5 366.0 620.0 366.0 620.5 366.0 621.0 366.0 621.5 366.0 622.0 366.0 622.5 366.0 623.0 366.0 623.5 366.0 624.0 366.0 624.5 366.0 625.0 366.0 625.5 366.0 626.0 366.0 626.5 366.0 627.0 366.0 627.5 366.0 628.0 366.0 628.5 366.0 629.0 366.0 629.5 366.0 630.0 366.0 630.5 366.0 631.0 366.0 631.5 366.0 632.0 366.0 632.5 366.0 633.0 366.0 633.5 366.0 634.0 366.0 634.5 366.0 635.0 366.0 635.5 365.9 636.0 365.9 636.5 365.9 637.0 365.9 637.5 365.9 638.0 365.9 638.5 365.9 639.0 365.9 639.5 365.9 640.0 365.9 640.5 365.9 641.0 365.9 641.5 365.9 642.0 365.9 642.5 365.9 643.0 365.9 643.5 365.9 644.0 365.9 644.5 365.9 645.0 365.9 645.5 365.9 646.0 365.9 646.5 365.9 647.0 365.9 647.5 365.9 648.0 365.9 648.5 365.9 649.0 365.9 649.5 365.9 650.0 365.9 650.5 365.9 651.0 365.9 651.5 365.9 652.0 365.9 652.5 365.9 653.0 365.9 653.5 365.9 654.0 365.9 654.5 365.9 655.0 365.9 655.5 365.9 656.0 365.9 656.5 365.9 657.0 365.9 657.5 365.9 658.0 365.9 658.5 365.9 659.0 365.9 659.5 365.9 660.0 365.9 660.5 365.9 661.0 365.9 661.5 365.9 662.0 365.9 662.5 365.9 663.0 365.9 663.5 365.9 664.0 365.9 664.5 365.9 665.0 365.9 665.5 365.9 666.0 365.9 666.5 365.9 667.0 365.9 667.5 365.9 668.0 365.9 668.5 365.9 669.0 365.9 669.5 365.9 670.0 365.9 670.5 365.9 671.0 365.9 671.5 365.9 672.0 365.9 672.5 365.9 673.0 365.9 673.5 365.9 674.0 365.9 674.5 365.9 675.0 365.9 675.5 365.9 676.0 365.9 676.5 365.9 677.0 365.9 677.5 365.9 678.0 365.9 678.5 365.9 679.0 365.9 679.5 365.9 680.0 365.9 680.5 365.9 681.0 365.8 681.5 365.8 682.0 365.8 682.5 365.8 683.0 365.8 683.5 365.8 684.0 365.8 684.5 365.8 685.0 365.8 685.5 365.8 686.0 365.8 686.5 365.8 687.0 365.8 687.5 365.8 688.0 365.8 688.5 365.8 689.0 365.8 689.5 365.8 690.0 365.8 690.5 365.8 691.0 365.8 691.5 365.8 692.0 365.8 692.5 365.8 693.0 365.8 693.5 365.8 694.0 365.8 694.5 365.8 695.0 365.8 695.5 365.8 696.0 365.8 696.5 365.8 697.0 365.8 697.5 365.8 698.0 365.8 698.5 365.8 699.0 365.8 699.5 365.8 700.0 365.8 700.5 365.8 701.0 365.8 701.5 365.8 702.0 365.8 702.5 365.8 703.0 365.8 703.5 365.8 704.0 365.8 704.5 365.8 705.0 365.8 705.5 365.8 706.0 365.8 706.5 365.8 707.0 365.8 707.5 365.8 708.0 365.8 708.5 365.8 709.0 365.8 709.5 365.8 710.0 365.8 710.5 365.8 711.0 365.8 711.5 365.8 712.0 365.8 712.5 365.8 713.0 365.8 713.5 365.8 714.0 365.8 714.5 365.8 715.0 365.8 715.5 365.8 716.0 365.8 716.5 365.8 717.0 365.8 717.5 365.8 718.0 365.8 718.5 365.7 719.0 365.7 719.5 365.7 720.0 365.7 720.5 365.7 721.0 365.7 721.5 365.7 722.0 365.7 722.5 365.7 723.0 365.7 723.5 365.7 724.0 365.7 724.5 365.7 725.0 365.7 725.5 365.7 726.0 365.7 726.5 365.7 727.0 365.7 727.5 365.7 728.0 365.7 728.5 365.7 729.0 365.7 729.5 365.7 730.0 365.7 730.5 365.7 731.0 365.7 731.5 365.7 732.0 365.7 732.5 365.7 733.0 365.7 733.5 365.7 734.0 365.7 734.5 365.7 735.0 365.7 735.5 365.7 736.0 365.7 736.5 365.7 737.0 365.7 737.5 365.7 738.0 365.7 738.5 365.7 739.0 365.7 739.5 365.7 740.0 365.7 740.5 365.7 741.0 365.7 741.5 365.7 742.0 365.7 742.5 365.7 743.0 365.7 743.5 365.7 744.0 365.7 744.5 365.7 745.0 365.7 745.5 365.7 746.0 365.7 746.5 365.7 747.0 365.7 747.5 365.7 748.0 365.7 748.5 365.7 749.0 365.6 749.5 365.6 750.0 365.6 750.5 365.6 751.0 365.6 751.5 365.6 752.0 365.6 752.5 365.6 753.0 365.6 753.5 365.6 754.0 365.6 754.5 365.6 755.0 365.6 755.5 365.6 756.0 365.6 756.5 365.6 757.0 365.6 757.5 365.6 758.0 365.6 758.5 365.6 759.0 365.6 759.5 365.6 760.0 365.6 760.5 365.6 761.0 365.6 761.5 365.6 762.0 365.6 762.5 365.6 763.0 365.6 763.5 365.6 764.0 365.6 764.5 365.6 765.0 365.6 765.5 365.6 766.0 365.6 766.5 365.6 767.0 365.6 767.5 365.6 768.0 365.6 768.5 365.6 769.0 365.6 769.5 365.6 770.0 365.6 770.5 365.6 771.0 365.6 771.5 365.5 772.0 365.5 772.5 365.5 773.0 365.5 773.5 365.5 774.0 365.5 774.5 365.5 775.0 365.5 775.5 365.5 776.0 365.5 776.5 365.5 777.0 365.5 777.5 365.5 778.0 365.5 778.5 365.5 779.0 365.5 779.5 365.5 780.0 365.5 780.5 365.5 781.0 365.5 781.5 365.5 782.0 365.5 782.5 365.5 783.0 365.5 783.5 365.5 784.0 365.5 784.5 365.5 785.0 365.5 785.5 365.5 786.0 365.5 786.5 365.5 787.0 365.5 787.5 365.5 788.0 365.5 788.5 365.5 789.0 365.4 789.5 365.4 790.0 365.4 790.5 365.4 791.0 365.4 791.5 365.4 792.0 365.4 792.5 365.4 793.0 365.4 793.5 365.4 794.0 365.4 794.5 365.4 795.0 365.4 795.5 365.4 796.0 365.4 796.5 365.4 797.0 365.4 797.5 365.4 798.0 365.4 798.5 365.4 799.0 365.4 799.5 365.4 800.0 365.4 800.5 365.4 801.0 365.4 801.5 365.4 802.0 365.4 802.5 365.4 803.0 365.3 803.5 365.3 804.0 365.3 804.5 365.3 805.0 365.3 805.5 365.3 806.0 365.3 806.5 365.3 807.0 365.3 807.5 365.3 808.0 365.3 808.5 365.3 809.0 365.3 809.5 365.3 810.0 365.3 810.5 365.3 811.0 365.3 811.5 365.3 812.0 365.3 812.5 365.3 813.0 365.3 813.5 365.3 814.0 365.3 814.5 365.3 815.0 365.2 815.5 365.2 816.0 365.2 816.5 365.2 817.0 365.2 817.5 365.2 818.0 365.2 818.5 365.2 819.0 365.2 819.5 365.2 820.0 365.2 820.5 365.2 821.0 365.2 821.5 365.2 822.0 365.2 822.5 365.2 823.0 365.2 823.5 365.2 824.0 365.2 824.5 365.2 825.0 365.1 825.5 365.1 826.0 365.1 826.5 365.1 827.0 365.1 827.5 365.1 828.0 365.1 828.5 365.1 829.0 365.1 829.5 365.1 830.0 365.1 830.5 365.1 831.0 365.1 831.5 365.0 832.0 365.0 832.5 365.0 833.0 365.0 833.5 365.0 834.0 365.0 834.5 365.0 835.0 365.0 835.5 364.9 836.0 364.9 836.5 364.9 837.0 364.9 837.5 364.9 838.0 364.9 838.5 364.9 839.0 364.8 839.5 364.8 840.0 364.8 840.5 364.8 841.0 364.8 841.5 364.7 842.0 364.7 842.5 364.7 843.0 364.7 843.5 364.6 844.0 364.5 844.5 364.5 845.0 364.4 845.5 364.3 846.0 364.2 846.5 364.1 847.0 364.0 847.5 363.9 848.0 363.8 848.5 363.7 849.0 363.6 849.5 363.6 850.0 363.5 850.5 363.4 851.0 363.4 851.5 363.3 852.0 363.2 852.5 363.2 853.0 363.1 853.5 363.0 854.0 363.0 854.5 362.9 855.0 362.9 855.5 362.9 856.0 362.8 856.5 362.8 857.0 362.8 857.5 362.9 858.0 363.0 858.5 363.3 859.0 363.6 859.5 363.9 860.0 364.3 860.5 364.6 861.0 364.9 861.5 365.2 862.0 365.4 862.5 365.7 863.0 365.9 863.5 366.2 864.0 366.5 864.5 366.7 865.0 367.0 865.5 367.2 866.0 367.5 866.5 367.7 867.0 367.9 867.5 368.1 868.0 368.4 868.5 368.6 869.0 368.9 869.5 369.2 870.0 369.4 870.5 369.6 871.0 369.9 871.5 370.0 872.0 370.2 872.5 370.3 873.0 370.3 873.5 370.2 874.0 370.0 874.5 369.7 875.0 369.3 875.5 368.8 876.0 368.2 876.5 367.6 877.0 366.8 877.5 366.0 878.0 365.2 878.5 364.3 879.0 363.4 879.5 362.5 880.0 361.5 880.5 360.2 881.0 358.5 881.5 356.6 882.0 354.6 882.5 352.5 883.0 350.4 883.5 348.4 884.0 346.6 884.5 345.1 885.0 343.9 885.5 342.7 886.0 341.5 886.5 340.3 887.0 339.2 887.5 338.2 888.0 337.3 888.5 336.7 889.0 336.2 889.5 335.9 890.0 336.0 890.5 336.3 891.0 336.9 891.5 337.7 892.0 338.8 892.5 340.0 893.0 341.3 893.5 342.7 894.0 344.1 894.5 345.5 895.0 347.1 895.5 348.9 896.0 351.1 896.5 353.5 897.0 356.1 897.5 358.7 898.0 361.4 898.5 364.0 899.0 366.5 899.5 368.9 900.0 371.1 900.5 373.3 901.0 375.6 901.5 377.8 902.0 379.8 902.5 381.7 903.0 383.4 903.5 384.7 904.0 386.1 904.5 387.3 905.0 388.4 905.5 389.0 906.0 389.1 906.5 388.8 907.0 388.3 907.5 387.5 908.0 386.6 908.5 385.6 909.0 384.4 909.5 383.3 910.0 382.1 910.5 380.9 911.0 379.8 911.5 378.5 912.0 377.1 912.5 375.6 913.0 374.1 913.5 372.5 914.0 371.0 914.5 369.6 915.0 368.3 915.5 367.3 916.0 366.4 916.5 365.6 917.0 364.8 917.5 364.0 918.0 363.2 918.5 362.5 919.0 361.9 919.5 361.3 920.0 360.7 920.5 360.3 921.0 359.9 921.5 359.6 922.0 359.4 922.5 359.2 923.0 359.0 923.5 358.9 924.0 358.8 924.5 358.8 925.0 359.0 925.5 359.3 926.0 359.7 926.5 360.2 927.0 360.7 927.5 361.3 928.0 361.9 928.5 362.4 929.0 362.9 929.5 363.2 930.0 363.6 930.5 364.0 931.0 364.3 931.5 364.6 932.0 365.0 932.5 365.3 933.0 365.6 933.5 365.9 934.0 366.2 934.5 366.4 935.0 366.7 935.5 366.9 936.0 367.1 936.5 367.3 937.0 367.6 937.5 367.7 938.0 367.9 938.5 368.0 939.0 368.1 939.5 368.1 940.0 368.1 940.5 368.1 941.0 368.0 941.5 368.0 942.0 367.9 942.5 367.8 943.0 367.8 943.5 367.7 944.0 367.6 944.5 367.5 945.0 367.4 945.5 367.3 946.0 367.2 946.5 367.1 947.0 367.0 947.5 367.0 948.0 366.9 948.5 366.8 949.0 366.7 949.5 366.6 950.0 366.5 950.5 366.4 951.0 366.3 951.5 366.2 952.0 366.1 952.5 365.9 953.0 365.8 953.5 365.7 954.0 365.6 954.5 365.5 955.0 365.4 955.5 365.3 956.0 365.2 956.5 365.1 957.0 365.0 957.5 364.9 958.0 364.8 958.5 364.8 959.0 364.7 959.5 364.6 960.0 364.6 960.5 364.6 961.0 364.6 961.5 364.5 962.0 364.5 962.5 364.5 963.0 364.5 963.5 364.5 964.0 364.4 964.5 364.4 965.0 364.4 965.5 364.4 966.0 364.4 966.5 364.4 967.0 364.4 967.5 364.4 968.0 364.4 968.5 364.5 969.0 364.5 969.5 364.5 970.0 364.5 970.5 364.6 971.0 364.6 971.5 364.7 972.0 364.7 972.5 364.8 973.0 364.8 973.5 364.9 974.0 364.9 974.5 365.0 975.0 365.1 975.5 365.1 976.0 365.2 976.5 365.2 977.0 365.3 977.5 365.4 978.0 365.4 978.5 365.5 979.0 365.5 979.5 365.6 980.0 365.6 980.5 365.7 981.0 365.7 981.5 365.8 982.0 365.8 982.5 365.8 983.0 365.8 983.5 365.9 984.0 365.9 984.5 365.9 985.0 365.9 985.5 365.9 986.0 365.9 986.5 365.9 987.0 365.9 987.5 365.9 988.0 365.9 988.5 365.9 989.0 365.9 989.5 365.9 990.0 365.9 990.5 365.9 991.0 365.9 991.5 365.9 992.0 365.9 992.5 365.9 993.0 365.9 993.5 365.9 994.0 365.9 994.5 365.9 995.0 365.9 995.5 365.9 996.0 365.9 996.5 365.9 997.0 365.9 997.5 365.9 998.0 365.9 998.5 365.9 999.0 365.9 999.5 365.9 1000.0 365.9 1000.5 365.9 1001.0 365.9 1001.5 366.0 1002.0 366.0 1002.5 366.0 1003.0 366.0 1003.5 366.0 1004.0 366.0 1004.5 366.0 1005.0 366.0 1005.5 366.0 1006.0 366.0 1006.5 366.0 1007.0 366.0 1007.5 366.0 1008.0 366.0 1008.5 366.0 1009.0 366.0 1009.5 366.0 1010.0 366.0 1010.5 366.0 1011.0 366.0 1011.5 366.0 1012.0 366.0 1012.5 366.0 1013.0 366.0 1013.5 366.0 1014.0 366.0 1014.5 366.0 1015.0 366.0 1015.5 366.0 1016.0 366.0 1016.5 366.0 1017.0 366.0 1017.5 366.0 1018.0 366.0 1018.5 366.0 1019.0 366.0 1019.5 366.0 1020.0 366.0 1020.5 366.0 1021.0 366.0 1021.5 366.0 1022.0 366.0 1022.5 366.0 1023.0 366.0 1023.5 366.0 1024.0 366.0 1024.5 366.0 1025.0 366.0 1025.5 366.0 1026.0 366.0 1026.5 366.0 1027.0 366.0 1027.5 366.0 1028.0 366.0 1028.5 366.0 1029.0 366.0 1029.5 366.0 1030.0 366.0 1030.5 366.0 1031.0 366.0 1031.5 366.0 1032.0 366.0 1032.5 366.0 1033.0 366.0 1033.5 366.0 1034.0 366.0 1034.5 366.0 1035.0 366.0 1035.5 366.0 1036.0 366.0 1036.5 366.0 1037.0 366.0 1037.5 366.0 1038.0 366.0 1038.5 366.0 1039.0 366.0 1039.5 366.0 1040.0 366.0 1040.5 366.0 1041.0 366.0 1041.5 366.0 1042.0 366.0 1042.5 366.0 1043.0 366.0 1043.5 366.0 1044.0 366.0 1044.5 366.0 1045.0 366.0 1045.5 366.0 1046.0 366.0 1046.5 366.0 1047.0 366.0 1047.5 366.0 1048.0 366.0 1048.5 366.0 1049.0 366.0" stroke="#2828b8" stroke-width="1.4" fill="none" stroke-linejoin="round" stroke-dasharray="8.8 4.1"/>
<path d="M589.0 368.1 589.5 368.1 590.0 368.1 590.5 368.1 591.0 368.1 591.5 368.2 592.0 368.2 592.5 368.2 593.0 368.2 593.5 368.2 594.0 368.2 594.5 368.2 595.0 368.2 595.5 368.2 596.0 368.3 596.5 368.3 597.0 368.3 597.5 368.3 598.0 368.3 598.5 368.3 599.0 368.3 599.5 368.4 600.0 368.4 600.5 368.4 601.0 368.4 601.5 368.4 602.0 368.4 602.5 368.4 603.0 368.5 603.5 368.5 604.0 368.5 604.5 368.5 605.0 368.5 605.5 368.5 606.0 368.5 606.5 368.6 607.0 368.6 607.5 368.6 608.0 368.6 608.5 368.6 609.0 368.6 609.5 368.7 610.0 368.7 610.5 368.7 611.0 368.7 611.5 368.7 612.0 368.7 612.5 368.8 613.0 368.8 613.5 368.8 614.0 368.8 614.5 368.8 615.0 368.9 615.5 368.9 616.0 368.9 616.5 368.9 617.0 368.9 617.5 368.9 618.0 369.0 618.5 369.0 619.0 369.0 619.5 369.0 620.0 369.0 620.5 369.1 621.0 369.1 621.5 369.1 622.0 369.1 622.5 369.1 623.0 369.2 623.5 369.2 624.0 369.2 624.5 369.2 625.0 369.2 625.5 369.3 626.0 369.3 626.5 369.3 627.0 369.3 627.5 369.3 628.0 369.4 628.5 369.4 629.0 369.4 629.5 369.4 630.0 369.5 630.5 369.5 631.0 369.5 631.5 369.5 632.0 369.5 632.5 369.6 633.0 369.6 633.5 369.6 634.0 369.6 634.5 369.6 635.0 369.7 635.5 369.7 636.0 369.7 636.5 369.7 637.0 369.8 637.5 369.8 638.0 369.8 638.5 369.8 639.0 369.8 639.5 369.9 640.0 369.9 640.5 369.9 641.0 369.9 641.5 370.0 642.0 370.0 642.5 370.0 643.0 370.0 643.5 370.1 644.0 370.1 644.5 370.1 645.0 370.1 645.5 370.2 646.0 370.2 646.5 370.2 647.0 370.2 647.5 370.3 648.0 370.3 648.5 370.3 649.0 370.3 649.5 370.4 650.0 370.4 650.5 370.4 651.0 370.4 651.5 370.5 652.0 370.5 652.5 370.5 653.0 370.6 653.5 370.6 654.0 370.6 654.5 370.6 655.0 370.7 655.5 370.7 656.0 370.7 656.5 370.8 657.0 370.8 657.5 370.8 658.0 370.9 658.5 370.9 659.0 370.9 659.5 371.0 660.0 371.0 660.5 371.0 661.0 371.1 661.5 371.1 662.0 371.1 662.5 371.2 663.0 371.2 663.5 371.2 664.0 371.3 664.5 371.3 665.0 371.3 665.5 371.4 666.0 371.4 666.5 371.4 667.0 371.5 667.5 371.5 668.0 371.5 668.5 371.6 669.0 371.6 669.5 371.6 670.0 371.7 670.5 371.7 671.0 371.7 671.5 371.8 672.0 371.8 672.5 371.8 673.0 371.9 673.5 371.9 674.0 371.9 674.5 372.0 675.0 372.0 675.5 372.0 676.0 372.1 676.5 372.1 677.0 372.2 677.5 372.2 678.0 372.2 678.5 372.3 679.0 372.3 679.5 372.3 680.0 372.4 680.5 372.4 681.0 372.4 681.5 372.5 682.0 372.5 682.5 372.6 683.0 372.6 683.5 372.6 684.0 372.7 684.5 372.7 685.0 372.7 685.5 372.8 686.0 372.8 686.5 372.8 687.0 372.9 687.5 372.9 688.0 373.0 688.5 373.0 689.0 373.0 689.5 373.1 690.0 373.1 690.5 373.1 691.0 373.2 691.5 373.2 692.0 373.2 692.5 373.3 693.0 373.3 693.5 373.3 694.0 373.4 694.5 373.4 695.0 373.5 695.5 373.5 696.0 373.5 696.5 373.6 697.0 373.6 697.5 373.6 698.0 373.7 698.5 373.7 699.0 373.7 699.5 373.8 700.0 373.8 700.5 373.8 701.0 373.9 701.5 373.9 702.0 373.9 702.5 374.0 703.0 374.0 703.5 374.1 704.0 374.1 704.5 374.1 705.0 374.2 705.5 374.2 706.0 374.2 706.5 374.3 707.0 374.3 707.5 374.3 708.0 374.4 708.5 374.4 709.0 374.5 709.5 374.5 710.0 374.5 710.5 374.6 711.0 374.6 711.5 374.6 712.0 374.7 712.5 374.7 713.0 374.7 713.5 374.8 714.0 374.8 714.5 374.9 715.0 374.9 715.5 374.9 716.0 375.0 716.5 375.0 717.0 375.0 717.5 375.1 718.0 375.1 718.5 375.2 719.0 375.2 719.5 375.2 720.0 375.3 720.5 375.3 721.0 375.3 721.5 375.4 722.0 375.4 722.5 375.5 723.0 375.5 723.5 375.5 724.0 375.6 724.5 375.6 725.0 375.7 725.5 375.7 726.0 375.7 726.5 375.8 727.0 375.8 727.5 375.8 728.0 375.9 728.5 375.9 729.0 376.0 729.5 376.0 730.0 376.0 730.5 376.1 731.0 376.1 731.5 376.1 732.0 376.2 732.5 376.2 733.0 376.3 733.5 376.3 734.0 376.3 734.5 376.4 735.0 376.4 735.5 376.5 736.0 376.5 736.5 376.5 737.0 376.6 737.5 376.6 738.0 376.6 738.5 376.7 739.0 376.7 739.5 376.8 740.0 376.8 740.5 376.8 741.0 376.9 741.5 376.9 742.0 377.0 742.5 377.0 743.0 377.0 743.5 377.1 744.0 377.1 744.5 377.2 745.0 377.2 745.5 377.2 746.0 377.3 746.5 377.3 747.0 377.3 747.5 377.4 748.0 377.4 748.5 377.5 749.0 377.5 749.5 377.5 750.0 377.6 750.5 377.6 751.0 377.7 751.5 377.7 752.0 377.7 752.5 377.8 753.0 377.8 753.5 377.8 754.0 377.9 754.5 377.9 755.0 378.0 755.5 378.0 756.0 378.0 756.5 378.1 757.0 378.1 757.5 378.1 758.0 378.2 758.5 378.2 759.0 378.3 759.5 378.3 760.0 378.3 760.5 378.4 761.0 378.4 761.5 378.4 762.0 378.5 762.5 378.5 763.0 378.6 763.5 378.6 764.0 378.6 764.5 378.7 765.0 378.7 765.5 378.7 766.0 378.8 766.5 378.8 767.0 378.8 767.5 378.9 768.0 378.9 768.5 379.0 769.0 379.0 769.5 379.0 770.0 379.1 770.5 379.1 771.0 379.2 771.5 379.2 772.0 379.2 772.5 379.3 773.0 379.3 773.5 379.4 774.0 379.4 774.5 379.4 775.0 379.5 775.5 379.5 776.0 379.6 776.5 379.6 777.0 379.6 777.5 379.7 778.0 379.7 778.5 379.8 779.0 379.8 779.5 379.8 780.0 379.9 780.5 379.9 781.0 380.0 781.5 380.0 782.0 380.1 782.5 380.1 783.0 380.1 783.5 380.2 784.0 380.2 784.5 380.3 785.0 380.3 785.5 380.4 786.0 380.4 786.5 380.5 787.0 380.5 787.5 380.6 788.0 380.6 788.5 380.7 789.0 380.7 789.5 380.7 790.0 380.8 790.5 380.9 791.0 380.9 791.5 381.0 792.0 381.0 792.5 381.1 793.0 381.1 793.5 381.2 794.0 381.3 794.5 381.3 795.0 381.4 795.5 381.5 796.0 381.5 796.5 381.6 797.0 381.7 797.5 381.8 798.0 381.8 798.5 381.9 799.0 382.0 799.5 382.0 800.0 382.1 800.5 382.2 801.0 382.3 801.5 382.3 802.0 382.4 802.5 382.5 803.0 382.5 803.5 382.6 804.0 382.7 804.5 382.7 805.0 382.8 805.5 382.9 806.0 382.9 806.5 383.0 807.0 383.1 807.5 383.1 808.0 383.2 808.5 383.3 809.0 383.3 809.5 383.4 810.0 383.4 810.5 383.5 811.0 383.5 811.5 383.6 812.0 383.6 812.5 383.7 813.0 383.7 813.5 383.8 814.0 383.8 814.5 383.8 815.0 383.9 815.5 383.9 816.0 383.9 816.5 383.9 817.0 384.0 817.5 384.0 818.0 384.0 818.5 384.0 819.0 384.0 819.5 384.0 820.0 384.1 820.5 384.1 821.0 384.1 821.5 384.1 822.0 384.1 822.5 384.1 823.0 384.1 823.5 384.1 824.0 384.2 824.5 384.2 825.0 384.2 825.5 384.2 826.0 384.2 826.5 384.3 827.0 384.3 827.5 384.3 828.0 384.3 828.5 384.4 829.0 384.4 829.5 384.5 830.0 384.5 830.5 384.6 831.0 384.8 831.5 384.9 832.0 385.1 832.5 385.3 833.0 385.5 833.5 385.7 834.0 385.9 834.5 386.2 835.0 386.4 835.5 386.6 836.0 386.9 836.5 387.1 837.0 387.3 837.5 387.5 838.0 387.8 838.5 388.1 839.0 388.4 839.5 388.7 840.0 389.1 840.5 389.4 841.0 389.8 841.5 390.1 842.0 390.4 842.5 390.7 843.0 391.0 843.5 391.3 844.0 391.5 844.5 391.7 845.0 391.9 845.5 392.0 846.0 392.1 846.5 392.1 847.0 392.0 847.5 391.9 848.0 391.7 848.5 391.4 849.0 391.1 849.5 390.8 850.0 390.3 850.5 389.9 851.0 389.4 851.5 389.0 852.0 388.5 852.5 387.9 853.0 387.4 853.5 386.9 854.0 386.4 854.5 385.9 855.0 385.4 855.5 384.9 856.0 384.2 856.5 383.6 857.0 382.8 857.5 382.0 858.0 381.2 858.5 380.4 859.0 379.6 859.5 378.9 860.0 378.2 860.5 377.6 861.0 377.1 861.5 376.8 862.0 376.6 862.5 376.5 863.0 376.7 863.5 377.0 864.0 377.6 864.5 378.3 865.0 379.1 865.5 380.0 866.0 381.1 866.5 382.1 867.0 383.3 867.5 384.4 868.0 385.8 868.5 387.6 869.0 389.6 869.5 391.8 870.0 394.2 870.5 396.8 871.0 399.4 871.5 402.2 872.0 404.9 872.5 407.6 873.0 410.6 873.5 413.9 874.0 417.3 874.5 420.9 875.0 424.4 875.5 427.8 876.0 431.0 876.5 433.9 877.0 436.6 877.5 439.5 878.0 442.3 878.5 444.4 879.0 445.5 879.5 445.2 880.0 443.8 880.5 441.7 881.0 438.9 881.5 435.7 882.0 430.9 882.5 422.8 883.0 412.4 883.5 400.7 884.0 389.0 884.5 377.1 885.0 363.9 885.5 350.3 886.0 337.1 886.5 325.3 887.0 312.9 887.5 297.1 888.0 278.3 888.5 259.4 889.0 242.6 889.5 226.7 890.0 211.6 890.5 197.7 891.0 184.8 891.5 172.6 892.0 160.8 892.5 149.0 893.0 136.9 893.5 124.9 894.0 113.9 894.5 104.4 895.0 95.5 895.5 86.5 896.0 78.1 896.5 71.3 897.0 66.9 897.5 65.7 898.0 67.2 898.5 70.5 899.0 75.3 899.5 81.4 900.0 88.4 900.5 96.2 901.0 104.4 901.5 116.1 902.0 131.9 902.5 148.1 903.0 161.5 903.5 173.6 904.0 185.3 904.5 197.7 905.0 211.7 905.5 227.0 906.0 243.0 906.5 258.8 907.0 275.1 907.5 291.4 908.0 307.1 908.5 322.0 909.0 336.5 909.5 349.5 910.0 361.3 910.5 372.2 911.0 381.8 911.5 389.6 912.0 396.7 912.5 403.1 913.0 408.6 913.5 413.1 914.0 416.3 914.5 419.2 915.0 421.7 915.5 423.3 916.0 423.8 916.5 423.2 917.0 422.0 917.5 420.2 918.0 418.1 918.5 415.7 919.0 413.3 919.5 410.9 920.0 408.3 920.5 405.3 921.0 402.1 921.5 398.6 922.0 394.9 922.5 391.2 923.0 387.4 923.5 383.5 924.0 378.9 924.5 374.1 925.0 369.1 925.5 364.5 926.0 360.4 926.5 357.1 927.0 354.9 927.5 352.9 928.0 351.0 928.5 349.2 929.0 347.6 929.5 346.1 930.0 344.7 930.5 343.6 931.0 342.7 931.5 342.0 932.0 341.6 932.5 341.5 933.0 341.7 933.5 342.2 934.0 342.8 934.5 343.7 935.0 344.7 935.5 345.9 936.0 347.1 936.5 348.3 937.0 349.6 937.5 350.8 938.0 352.0 938.5 353.2 939.0 354.6 939.5 356.1 940.0 357.7 940.5 359.3 941.0 360.8 941.5 362.3 942.0 363.7 942.5 364.8 943.0 365.8 943.5 366.7 944.0 367.5 944.5 368.4 945.0 369.3 945.5 370.1 946.0 370.8 946.5 371.5 947.0 372.1 947.5 372.6 948.0 372.9 948.5 373.2 949.0 373.3 949.5 373.3 950.0 373.2 950.5 373.0 951.0 372.7 951.5 372.4 952.0 372.1 952.5 371.7 953.0 371.3 953.5 371.0 954.0 370.6 954.5 370.2 955.0 369.8 955.5 369.3 956.0 368.8 956.5 368.2 957.0 367.7 957.5 367.1 958.0 366.6 958.5 366.1 959.0 365.7 959.5 365.3 960.0 365.1 960.5 364.9 961.0 364.7 961.5 364.6 962.0 364.4 962.5 364.3 963.0 364.2 963.5 364.1 964.0 364.0 964.5 363.9 965.0 363.8 965.5 363.8 966.0 363.8 966.5 363.8 967.0 363.9 967.5 364.0 968.0 364.1 968.5 364.3 969.0 364.4 969.5 364.6 970.0 364.7 970.5 364.9 971.0 365.0 971.5 365.2 972.0 365.3 972.5 365.4 973.0 365.5 973.5 365.5 974.0 365.6 974.5 365.7 975.0 365.7 975.5 365.8 976.0 365.8 976.5 365.9 977.0 366.0 977.5 366.0 978.0 366.1 978.5 366.1 979.0 366.2 979.5 366.2 980.0 366.3 980.5 366.3 981.0 366.3 981.5 366.4 982.0 366.4 982.5 366.4 983.0 366.5 983.5 366.5 984.0 366.5 984.5 366.5 985.0 366.5 985.5 366.5 986.0 366.5 986.5 366.5 987.0 366.5 987.5 366.5 988.0 366.5 988.5 366.5 989.0 366.5 989.5 366.5 990.0 366.5 990.5 366.5 991.0 366.5 991.5 366.5 992.0 366.5 992.5 366.5 993.0 366.5 993.5 366.5 994.0 366.5 994.5 366.5 995.0 366.5 995.5 366.5 996.0 366.5 996.5 366.5 997.0 366.5 997.5 366.5 998.0 366.5 998.5 366.5 999.0 366.5 999.5 366.5 1000.0 366.5 1000.5 366.5 1001.0 366.5 1001.5 366.5 1002.0 366.5 1002.5 366.5 1003.0 366.5 1003.5 366.5 1004.0 366.5 1004.5 366.5 1005.0 366.5 1005.5 366.5 1006.0 366.5 1006.5 366.5 1007.0 366.5 1007.5 366.5 1008.0 366.5 1008.5 366.5 1009.0 366.5 1009.5 366.5 1010.0 366.5 1010.5 366.5 1011.0 366.5 1011.5 366.5 1012.0 366.5 1012.5 366.5 1013.0 366.5 1013.5 366.5 1014.0 366.5 1014.5 366.5 1015.0 366.4 1015.5 366.4 1016.0 366.4 1016.5 366.4 1017.0 366.4 1017.5 366.4 1018.0 366.4 1018.5 366.4 1019.0 366.4 1019.5 366.4 1020.0 366.4 1020.5 366.4 1021.0 366.4 1021.5 366.4 1022.0 366.4 1022.5 366.4 1023.0 366.4 1023.5 366.4 1024.0 366.4 1024.5 366.4 1025.0 366.4 1025.5 366.4 1026.0 366.4 1026.5 366.4 1027.0 366.4 1027.5 366.4 1028.0 366.3 1028.5 366.3 1029.0 366.3 1029.5 366.3 1030.0 366.3 1030.5 366.3 1031.0 366.3 1031.5 366.3 1032.0 366.3 1032.5 366.3 1033.0 366.3 1033.5 366.3 1034.0 366.3 1034.5 366.3 1035.0 366.3 1035.5 366.3 1036.0 366.2 1036.5 366.2 1037.0 366.2 1037.5 366.2 1038.0 366.2 1038.5 366.2 1039.0 366.2 1039.5 366.2 1040.0 366.2 1040.5 366.2 1041.0 366.2 1041.5 366.2 1042.0 366.1 1042.5 366.1 1043.0 366.1 1043.5 366.1 1044.0 366.1 1044.5 366.1 1045.0 366.1 1045.5 366.1 1046.0 366.1 1046.5 366.1 1047.0 366.0 1047.5 366.0 1048.0 366.0 1048.5 366.0 1049.0 366.0" stroke="#237623" stroke-width="1.4" fill="none" stroke-linejoin="round" stroke-dasharray="4.7 6"/>
<path d="M589.0 366.0 589.5 366.0 590.0 366.0 590.5 366.0 591.0 366.0 591.5 366.0 592.0 366.0 592.5 366.0 593.0 366.0 593.5 366.0 594.0 366.0 594.5 366.0 595.0 366.0 595.5 366.0 596.0 366.0 596.5 366.0 597.0 366.0 597.5 366.0 598.0 366.0 598.5 366.0 599.0 366.0 599.5 366.0 600.0 366.0 600.5 366.0 601.0 366.0 601.5 366.0 602.0 366.0 602.5 366.0 603.0 366.0 603.5 366.0 604.0 366.0 604.5 366.0 605.0 366.0 605.5 366.0 606.0 366.0 606.5 366.0 607.0 366.0 607.5 366.0 608.0 366.0 608.5 366.0 609.0 366.0 609.5 366.0 610.0 366.0 610.5 366.0 611.0 366.0 611.5 366.0 612.0 366.0 612.5 366.0 613.0 366.0 613.5 366.0 614.0 366.0 614.5 366.0 615.0 366.0 615.5 366.0 616.0 366.0 616.5 366.0 617.0 366.0 617.5 366.0 618.0 366.0 618.5 366.0 619.0 366.0 619.5 366.0 620.0 366.0 620.5 366.0 621.0 366.0 621.5 366.0 622.0 366.0 622.5 366.0 623.0 366.0 623.5 366.0 624.0 366.0 624.5 366.0 625.0 366.0 625.5 366.0 626.0 366.0 626.5 366.0 627.0 366.0 627.5 366.0 628.0 366.0 628.5 366.0 629.0 366.0 629.5 366.0 630.0 366.0 630.5 366.0 631.0 366.0 631.5 366.0 632.0 366.0 632.5 366.0 633.0 366.0 633.5 366.0 634.0 366.0 634.5 366.0 635.0 366.0 635.5 365.9 636.0 365.9 636.5 365.9 637.0 365.9 637.5 365.9 638.0 365.9 638.5 365.9 639.0 365.9 639.5 365.9 640.0 365.9 640.5 365.9 641.0 365.9 641.5 365.9 642.0 365.9 642.5 365.9 643.0 365.9 643.5 365.9 644.0 365.9 644.5 365.9 645.0 365.9 645.5 365.9 646.0 365.9 646.5 365.9 647.0 365.9 647.5 365.9 648.0 365.9 648.5 365.9 649.0 365.9 649.5 365.9 650.0 365.9 650.5 365.9 651.0 365.9 651.5 365.9 652.0 365.9 652.5 365.9 653.0 365.9 653.5 365.9 654.0 365.9 654.5 365.9 655.0 365.9 655.5 365.9 656.0 365.9 656.5 365.9 657.0 365.9 657.5 365.9 658.0 365.9 658.5 365.9 659.0 365.9 659.5 365.9 660.0 365.9 660.5 365.9 661.0 365.9 661.5 365.9 662.0 365.9 662.5 365.9 663.0 365.9 663.5 365.9 664.0 365.9 664.5 365.9 665.0 365.9 665.5 365.9 666.0 365.9 666.5 365.9 667.0 365.9 667.5 365.9 668.0 365.9 668.5 365.9 669.0 365.9 669.5 365.9 670.0 365.9 670.5 365.9 671.0 365.9 671.5 365.9 672.0 365.9 672.5 365.9 673.0 365.9 673.5 365.9 674.0 365.9 674.5 365.9 675.0 365.9 675.5 365.9 676.0 365.9 676.5 365.9 677.0 365.9 677.5 365.9 678.0 365.9 678.5 365.9 679.0 365.9 679.5 365.9 680.0 365.9 680.5 365.9 681.0 365.8 681.5 365.8 682.0 365.8 682.5 365.8 683.0 365.8 683.5 365.8 684.0 365.8 684.5 365.8 685.0 365.8 685.5 365.8 686.0 365.8 686.5 365.8 687.0 365.8 687.5 365.8 688.0 365.8 688.5 365.8 689.0 365.8 689.5 365.8 690.0 365.8 690.5 365.8 691.0 365.8 691.5 365.8 692.0 365.8 692.5 365.8 693.0 365.8 693.5 365.8 694.0 365.8 694.5 365.8 695.0 365.8 695.5 365.8 696.0 365.8 696.5 365.8 697.0 365.8 697.5 365.8 698.0 365.8 698.5 365.8 699.0 365.8 699.5 365.8 700.0 365.8 700.5 365.8 701.0 365.8 701.5 365.8 702.0 365.8 702.5 365.8 703.0 365.8 703.5 365.8 704.0 365.8 704.5 365.8 705.0 365.8 705.5 365.8 706.0 365.8 706.5 365.8 707.0 365.8 707.5 365.8 708.0 365.8 708.5 365.8 709.0 365.8 709.5 365.8 710.0 365.8 710.5 365.8 711.0 365.8 711.5 365.8 712.0 365.8 712.5 365.8 713.0 365.8 713.5 365.8 714.0 365.8 714.5 365.8 715.0 365.8 715.5 365.8 716.0 365.8 716.5 365.8 717.0 365.8 717.5 365.8 718.0 365.8 718.5 365.7 719.0 365.7 719.5 365.7 720.0 365.7 720.5 365.7 721.0 365.7 721.5 365.7 722.0 365.7 722.5 365.7 723.0 365.7 723.5 365.7 724.0 365.7 724.5 365.7 725.0 365.7 725.5 365.7 726.0 365.7 726.5 365.7 727.0 365.7 727.5 365.7 728.0 365.7 728.5 365.7 729.0 365.7 729.5 365.7 730.0 365.7 730.5 365.7 731.0 365.7 731.5 365.7 732.0 365.7 732.5 365.7 733.0 365.7 733.5 365.7 734.0 365.7 734.5 365.7 735.0 365.7 735.5 365.7 736.0 365.7 736.5 365.7 737.0 365.7 737.5 365.7 738.0 365.7 738.5 365.7 739.0 365.7 739.5 365.7 740.0 365.7 740.5 365.7 741.0 365.7 741.5 365.7 742.0 365.7 742.5 365.7 743.0 365.7 743.5 365.7 744.0 365.7 744.5 365.7 745.0 365.7 745.5 365.7 746.0 365.7 746.5 365.7 747.0 365.7 747.5 365.7 748.0 365.7 748.5 365.7 749.0 365.6 749.5 365.6 750.0 365.6 750.5 365.6 751.0 365.6 751.5 365.6 752.0 365.6 752.5 365.6 753.0 365.6 753.5 365.6 754.0 365.6 754.5 365.6 755.0 365.6 755.5 365.6 756.0 365.6 756.5 365.6 757.0 365.6 757.5 365.6 758.0 365.6 758.5 365.6 759.0 365.6 759.5 365.6 760.0 365.6 760.5 365.6 761.0 365.6 761.5 365.6 762.0 365.6 762.5 365.6 763.0 365.6 763.5 365.6 764.0 365.6 764.5 365.6 765.0 365.6 765.5 365.6 766.0 365.6 766.5 365.6 767.0 365.6 767.5 365.6 768.0 365.6 768.5 365.6 769.0 365.6 769.5 365.6 770.0 365.6 770.5 365.6 771.0 365.6 771.5 365.5 772.0 365.5 772.5 365.5 773.0 365.5 773.5 365.5 774.0 365.5 774.5 365.5 775.0 365.5 775.5 365.5 776.0 365.5 776.5 365.5 777.0 365.5 777.5 365.5 778.0 365.5 778.5 365.5 779.0 365.5 779.5 365.5 780.0 365.5 780.5 365.5 781.0 365.5 781.5 365.5 782.0 365.5 782.5 365.5 783.0 365.5 783.5 365.5 784.0 365.5 784.5 365.5 785.0 365.5 785.5 365.5 786.0 365.5 786.5 365.5 787.0 365.5 787.5 365.5 788.0 365.5 788.5 365.5 789.0 365.4 789.5 365.4 790.0 365.4 790.5 365.4 791.0 365.4 791.5 365.4 792.0 365.4 792.5 365.4 793.0 365.4 793.5 365.4 794.0 365.4 794.5 365.4 795.0 365.4 795.5 365.4 796.0 365.4 796.5 365.4 797.0 365.4 797.5 365.4 798.0 365.4 798.5 365.4 799.0 365.4 799.5 365.4 800.0 365.4 800.5 365.4 801.0 365.4 801.5 365.4 802.0 365.4 802.5 365.4 803.0 365.3 803.5 365.3 804.0 365.3 804.5 365.3 805.0 365.3 805.5 365.3 806.0 365.3 806.5 365.3 807.0 365.3 807.5 365.3 808.0 365.3 808.5 365.3 809.0 365.3 809.5 365.3 810.0 365.3 810.5 365.3 811.0 365.3 811.5 365.3 812.0 365.3 812.5 365.3 813.0 365.3 813.5 365.3 814.0 365.3 814.5 365.3 815.0 365.2 815.5 365.2 816.0 365.2 816.5 365.2 817.0 365.2 817.5 365.2 818.0 365.2 818.5 365.2 819.0 365.2 819.5 365.2 820.0 365.2 820.5 365.2 821.0 365.2 821.5 365.2 822.0 365.2 822.5 365.2 823.0 365.2 823.5 365.2 824.0 365.2 824.5 365.2 825.0 365.1 825.5 365.1 826.0 365.1 826.5 365.1 827.0 365.1 827.5 365.1 828.0 365.1 828.5 365.1 829.0 365.1 829.5 365.1 830.0 365.1 830.5 365.1 831.0 365.1 831.5 365.0 832.0 365.0 832.5 365.0 833.0 365.0 833.5 365.0 834.0 365.0 834.5 365.0 835.0 365.0 835.5 364.9 836.0 364.9 836.5 364.9 837.0 364.9 837.5 364.9 838.0 364.9 838.5 364.9 839.0 364.8 839.5 364.8 840.0 364.8 840.5 364.8 841.0 364.8 841.5 364.7 842.0 364.7 842.5 364.7 843.0 364.7 843.5 364.6 844.0 364.5 844.5 364.5 845.0 364.4 845.5 364.3 846.0 364.2 846.5 364.1 847.0 364.0 847.5 363.9 848.0 363.8 848.5 363.7 849.0 363.6 849.5 363.6 850.0 363.5 850.5 363.4 851.0 363.4 851.5 363.3 852.0 363.2 852.5 363.2 853.0 363.1 853.5 363.0 854.0 363.0 854.5 362.9 855.0 362.9 855.5 362.9 856.0 362.8 856.5 362.8 857.0 362.8 857.5 362.9 858.0 363.0 858.5 363.3 859.0 363.6 859.5 363.9 860.0 364.3 860.5 364.6 861.0 364.9 861.5 365.2 862.0 365.4 862.5 365.7 863.0 365.9 863.5 366.2 864.0 366.5 864.5 366.7 865.0 367.0 865.5 367.2 866.0 367.5 866.5 367.7 867.0 367.9 867.5 368.1 868.0 368.4 868.5 368.6 869.0 368.9 869.5 369.2 870.0 369.4 870.5 369.6 871.0 369.9 871.5 370.0 872.0 370.2 872.5 370.3 873.0 370.3 873.5 370.2 874.0 370.0 874.5 369.7 875.0 369.3 875.5 368.8 876.0 368.2 876.5 367.6 877.0 366.8 877.5 366.0 878.0 365.2 878.5 364.3 879.0 363.4 879.5 362.5 880.0 361.5 880.5 360.2 881.0 358.5 881.5 356.6 882.0 354.6 882.5 352.5 883.0 350.4 883.5 348.4 884.0 346.6 884.5 345.1 885.0 343.9 885.5 342.7 886.0 341.5 886.5 340.3 887.0 339.2 887.5 338.2 888.0 337.3 888.5 336.7 889.0 336.2 889.5 335.9 890.0 336.0 890.5 336.3 891.0 336.9 891.5 337.7 892.0 338.8 892.5 340.0 893.0 341.3 893.5 342.7 894.0 344.1 894.5 345.5 895.0 347.1 895.5 348.9 896.0 351.1 896.5 353.5 897.0 356.1 897.5 358.7 898.0 361.4 898.5 364.0 899.0 366.5 899.5 368.9 900.0 371.1 900.5 373.3 901.0 375.6 901.5 377.8 902.0 379.8 902.5 381.7 903.0 383.4 903.5 384.7 904.0 386.1 904.5 387.3 905.0 388.4 905.5 389.0 906.0 389.1 906.5 388.8 907.0 388.3 907.5 387.5 908.0 386.6 908.5 385.6 909.0 384.4 909.5 383.3 910.0 382.1 910.5 380.9 911.0 379.8 911.5 378.5 912.0 377.1 912.5 375.6 913.0 374.1 913.5 372.5 914.0 371.0 914.5 369.6 915.0 368.3 915.5 367.3 916.0 366.4 916.5 365.6 917.0 364.8 917.5 364.0 918.0 363.2 918.5 362.5 919.0 361.9 919.5 361.3 920.0 360.7 920.5 360.3 921.0 359.9 921.5 359.6 922.0 359.4 922.5 359.2 923.0 359.0 923.5 358.9 924.0 358.8 924.5 358.8 925.0 359.0 925.5 359.3 926.0 359.7 926.5 360.2 927.0 360.7 927.5 361.3 928.0 361.9 928.5 362.4 929.0 362.9 929.5 363.2 930.0 363.6 930.5 364.0 931.0 364.3 931.5 364.6 932.0 365.0 932.5 365.3 933.0 365.6 933.5 365.9 934.0 366.2 934.5 366.4 935.0 366.7 935.5 366.9 936.0 367.1 936.5 367.3 937.0 367.6 937.5 367.7 938.0 367.9 938.5 368.0 939.0 368.1 939.5 368.1 940.0 368.1 940.5 368.1 941.0 368.0 941.5 368.0 942.0 367.9 942.5 367.8 943.0 367.8 943.5 367.7 944.0 367.6 944.5 367.5 945.0 367.4 945.5 367.3 946.0 367.2 946.5 367.1 947.0 367.0 947.5 367.0 948.0 366.9 948.5 366.8 949.0 366.7 949.5 366.6 950.0 366.5 950.5 366.4 951.0 366.3 951.5 366.2 952.0 366.1 952.5 365.9 953.0 365.8 953.5 365.7 954.0 365.6 954.5 365.5 955.0 365.4 955.5 365.3 956.0 365.2 956.5 365.1 957.0 365.0 957.5 364.9 958.0 364.8 958.5 364.8 959.0 364.7 959.5 364.6 960.0 364.6 960.5 364.6 961.0 364.6 961.5 364.5 962.0 364.5 962.5 364.5 963.0 364.5 963.5 364.5 964.0 364.4 964.5 364.4 965.0 364.4 965.5 364.4 966.0 364.4 966.5 364.4 967.0 364.4 967.5 364.4 968.0 364.4 968.5 364.5 969.0 364.5 969.5 364.5 970.0 364.5 970.5 364.6 971.0 364.6 971.5 364.7 972.0 364.7 972.5 364.8 973.0 364.8 973.5 364.9 974.0 364.9 974.5 365.0 975.0 365.1 975.5 365.1 976.0 365.2 976.5 365.2 977.0 365.3 977.5 365.4 978.0 365.4 978.5 365.5 979.0 365.5 979.5 365.6 980.0 365.6 980.5 365.7 981.0 365.7 981.5 365.8 982.0 365.8 982.5 365.8 983.0 365.8 983.5 365.9 984.0 365.9 984.5 365.9 985.0 365.9 985.5 365.9 986.0 365.9 986.5 365.9 987.0 365.9 987.5 365.9 988.0 365.9 988.5 365.9 989.0 365.9 989.5 365.9 990.0 365.9 990.5 365.9 991.0 365.9 991.5 365.9 992.0 365.9 992.5 365.9 993.0 365.9 993.5 365.9 994.0 365.9 994.5 365.9 995.0 365.9 995.5 365.9 996.0 365.9 996.5 365.9 997.0 365.9 997.5 365.9 998.0 365.9 998.5 365.9 999.0 365.9 999.5 365.9 1000.0 365.9 1000.5 365.9 1001.0 365.9 1001.5 366.0 1002.0 366.0 1002.5 366.0 1003.0 366.0 1003.5 366.0 1004.0 366.0 1004.5 366.0 1005.0 366.0 1005.5 366.0 1006.0 366.0 1006.5 366.0 1007.0 366.0 1007.5 366.0 1008.0 366.0 1008.5 366.0 1009.0 366.0 1009.5 366.0 1010.0 366.0 1010.5 366.0 1011.0 366.0 1011.5 366.0 1012.0 366.0 1012.5 366.0 1013.0 366.0 1013.5 366.0 1014.0 366.0 1014.5 366.0 1015.0 366.0 1015.5 366.0 1016.0 366.0 1016.5 366.0 1017.0 366.0 1017.5 366.0 1018.0 366.0 1018.5 366.0 1019.0 366.0 1019.5 366.0 1020.0 366.0 1020.5 366.0 1021.0 366.0 1021.5 366.0 1022.0 366.0 1022.5 366.0 1023.0 366.0 1023.5 366.0 1024.0 366.0 1024.5 366.0 1025.0 366.0 1025.5 366.0 1026.0 366.0 1026.5 366.0 1027.0 366.0 1027.5 366.0 1028.0 366.0 1028.5 366.0 1029.0 366.0 1029.5 366.0 1030.0 366.0 1030.5 366.0 1031.0 366.0 1031.5 366.0 1032.0 366.0 1032.5 366.0 1033.0 366.0 1033.5 366.0 1034.0 366.0 1034.5 366.0 1035.0 366.0 1035.5 366.0 1036.0 366.0 1036.5 366.0 1037.0 366.0 1037.5 366.0 1038.0 366.0 1038.5 366.0 1039.0 366.0 1039.5 366.0 1040.0 366.0 1040.5 366.0 1041.0 366.0 1041.5 366.0 1042.0 366.0 1042.5 366.0 1043.0 366.0 1043.5 366.0 1044.0 366.0 1044.5 366.0 1045.0 366.0 1045.5 366.0 1046.0 366.0 1046.5 366.0 1047.0 366.0 1047.5 366.0 1048.0 366.0 1048.5 366.0 1049.0 366.0" stroke="#763a7e" stroke-width="1.4" fill="none" stroke-linejoin="round" stroke-dasharray="2.4 2.96"/>
<path d="M326.8 876.5 327.3 876.5 327.8 876.5 328.3 876.5 328.8 876.6 329.3 876.6 329.8 876.6 330.3 876.6 330.8 876.7 331.3 876.7 331.8 876.7 332.3 876.8 332.8 876.8 333.3 876.8 333.8 876.9 334.3 876.9 334.8 876.9 335.3 877.0 335.8 877.0 336.3 877.1 336.8 877.1 337.3 877.2 337.8 877.2 338.3 877.3 338.8 877.3 339.3 877.4 339.8 877.5 340.3 877.6 340.8 877.7 341.3 877.8 341.8 877.9 342.3 878.1 342.8 878.2 343.3 878.4 343.8 878.6 344.3 878.8 344.8 879.0 345.3 879.2 345.8 879.4 346.3 879.6 346.8 879.9 347.3 880.1 347.8 880.3 348.3 880.6 348.8 880.8 349.3 881.1 349.8 881.4 350.3 881.6 350.8 881.9 351.3 882.1 351.8 882.4 352.3 882.7 352.8 882.9 353.3 883.2 353.8 883.5 354.3 883.7 354.8 884.0 355.3 884.2 355.8 884.5 356.3 884.7 356.8 885.0 357.3 885.2 357.8 885.4 358.3 885.6 358.8 885.9 359.3 886.1 359.8 886.3 360.3 886.5 360.8 886.7 361.3 886.9 361.8 887.1 362.3 887.4 362.8 887.6 363.3 887.8 363.8 888.0 364.3 888.2 364.8 888.4 365.3 888.6 365.8 888.8 366.3 889.1 366.8 889.3 367.3 889.5 367.8 889.7 368.3 889.9 368.8 890.1 369.3 890.3 369.8 890.6 370.3 890.8 370.8 891.0 371.3 891.2 371.8 891.4 372.3 891.7 372.8 891.9 373.3 892.1 373.8 892.4 374.3 892.6 374.8 892.8 375.3 893.1 375.8 893.3 376.3 893.6 376.8 893.8 377.3 894.1 377.8 894.4 378.3 894.7 378.8 894.9 379.3 895.2 379.8 895.5 380.3 895.7 380.8 896.0 381.3 896.2 381.8 896.4 382.3 896.6 382.8 896.8 383.3 896.9 383.8 897.1 384.3 897.3 384.8 897.5 385.3 897.6 385.8 897.8 386.3 897.9 386.8 898.1 387.3 898.2 387.8 898.3 388.3 898.4 388.8 898.5 389.3 898.6 389.8 898.6 390.3 898.6 390.8 898.5 391.3 898.4 391.8 898.1 392.3 897.8 392.8 897.4 393.3 897.0 393.8 896.5 394.3 896.0 394.8 895.4 395.3 894.7 395.8 893.8 396.3 892.5 396.8 891.0 397.3 889.4 397.8 887.5 398.3 885.6 398.8 883.4 399.3 880.8 399.8 877.8 400.3 874.3 400.8 870.3 401.3 865.0 401.8 858.6 402.3 851.5 402.8 843.9 403.3 834.9 403.8 826.2 404.3 820.2 404.8 812.3 405.3 797.4 405.8 779.6 406.3 763.5 406.8 749.0 407.3 734.7 407.8 720.1 408.3 704.6 408.8 688.6 409.3 673.4 409.8 659.9 410.3 646.9 410.8 634.9 411.3 624.3 411.8 615.3 412.3 606.1 412.8 597.3 413.3 589.5 413.8 583.4 414.3 580.0 414.8 579.7 415.3 581.8 415.8 585.7 416.3 591.0 416.8 597.7 417.3 605.2 417.8 613.3 418.3 622.0 418.8 634.8 419.3 650.8 419.8 666.9 420.3 681.8 420.8 696.8 421.3 712.7 421.8 730.5 422.3 750.1 422.8 768.9 423.3 785.8 423.8 801.9 424.3 818.3 424.8 836.4 425.3 853.0 425.8 864.4 426.3 873.3 426.8 880.3 427.3 886.2 427.8 891.7 428.3 895.7 428.8 897.1 429.3 896.6 429.8 895.5 430.3 893.9 430.8 892.0 431.3 889.8 431.8 886.0 432.3 880.8 432.8 875.0 433.3 869.3 433.8 864.3 434.3 859.1 434.8 854.0 435.3 849.4 435.8 845.7 436.3 843.0 436.8 840.5 437.3 838.2 437.8 836.2 438.3 834.6 438.8 833.6 439.3 833.3 439.8 833.6 440.3 834.5 440.8 835.7 441.3 837.1 441.8 838.7 442.3 840.3 442.8 841.8 443.3 843.6 443.8 845.6 444.3 847.7 444.8 849.6 445.3 851.1 445.8 852.1 446.3 853.2 446.8 854.2 447.3 855.1 447.8 856.0 448.4 856.7 448.9 857.3 449.4 857.8 449.9 858.0 450.4 858.1 450.9 858.0 451.4 857.8 451.9 857.5 452.4 857.1 452.9 856.7 453.4 856.2 453.9 855.8 454.4 855.3 454.9 854.9 455.4 854.5 455.9 854.1 456.4 853.6 456.9 853.1 457.4 852.6 457.9 852.1 458.4 851.7 458.9 851.3 459.4 850.9 459.9 850.7 460.4 850.5 460.9 850.5 461.4 850.5 461.9 850.6 462.4 850.8 462.9 850.9 463.4 851.1 463.9 851.2 464.4 851.4 464.9 851.6 465.4 851.7 465.9 851.8 466.4 851.9 466.9 851.9 467.4 852.0 467.9 852.0 468.4 852.1 468.9 852.1 469.4 852.2 469.9 852.2 470.4 852.2 470.9 852.3 471.4 852.3 471.9 852.3 472.4 852.3 472.9 852.4 473.4 852.4 473.9 852.4 474.4 852.4 474.9 852.4 475.4 852.4 475.9 852.4 476.4 852.4 476.9 852.4 477.4 852.4 477.9 852.4 478.4 852.4 478.9 852.4 479.4 852.4 479.9 852.4 480.4 852.4 480.9 852.4 481.4 852.4 481.9 852.4 482.4 852.4 482.9 852.4 483.4 852.4 483.9 852.4 484.4 852.4 484.9 852.4 485.4 852.4 485.9 852.4 486.4 852.4 486.9 852.4 487.4 852.4 487.9 852.4 488.4 852.4 488.9 852.4 489.4 852.4 489.9 852.4 490.4 852.4 490.9 852.4 491.4 852.4 491.9 852.4 492.4 852.4 492.9 852.4 493.4 852.4 493.9 852.4 494.4 852.4 494.9 852.4 495.4 852.4 495.9 852.4 496.4 852.4 496.9 852.4 497.4 852.4 497.9 852.4 498.4 852.4 498.9 852.4 499.4 852.4 499.9 852.4 500.4 852.4 500.9 852.4 501.4 852.4 501.9 852.4 502.4 852.4 502.9 852.4 503.4 852.4 503.9 852.4 504.4 852.4 504.9 852.4 505.4 852.4 505.9 852.4 506.4 852.4 506.9 852.4 507.4 852.4 507.9 852.4 508.4 852.4 508.9 852.4 509.4 852.4 509.9 852.4 510.4 852.4 510.9 852.4 511.4 852.4 511.9 852.4 512.4 852.4 512.9 852.4 513.4 852.4 513.9 852.4 514.4 852.4 514.9 852.4 515.4 852.4 515.9 852.4 516.4 852.4 516.9 852.4 517.4 852.4 517.9 852.4 518.4 852.4 518.9 852.4 519.4 852.4 519.9 852.4 520.4 852.4 520.9 852.4 521.4 852.4 521.9 852.4 522.4 852.3 522.9 852.3 523.4 852.3 523.9 852.3 524.4 852.3 524.9 852.3 525.4 852.3 525.9 852.3 526.4 852.3 526.9 852.3 527.4 852.3 527.9 852.3 528.4 852.3 528.9 852.3 529.4 852.3 529.9 852.3 530.4 852.3 530.9 852.3 531.4 852.3 531.9 852.3 532.4 852.3 532.9 852.3 533.4 852.3 533.9 852.3 534.4 852.3 534.9 852.3 535.4 852.3 535.9 852.3 536.4 852.3 536.9 852.3 537.4 852.3 537.9 852.3 538.4 852.3 538.9 852.3 539.4 852.3 539.9 852.3 540.4 852.3 540.9 852.3 541.4 852.3 541.9 852.3 542.4 852.3 542.9 852.2 543.4 852.2 543.9 852.2 544.4 852.2 544.9 852.2 545.4 852.2 545.9 852.2 546.4 852.2 546.9 852.2 547.4 852.2 547.9 852.2 548.4 852.2 548.9 852.2 549.4 852.2 549.9 852.2 550.4 852.2 550.9 852.2 551.4 852.2 551.9 852.2 552.4 852.2 552.9 852.2 553.4 852.2 553.9 852.2 554.4 852.2 554.9 852.2 555.4 852.1 555.9 852.1 556.4 852.1 556.9 852.1 557.4 852.1 557.9 852.1 558.4 852.1 558.9 852.1 559.4 852.1 559.9 852.1 560.4 852.1 560.9 852.1 561.4 852.1 561.9 852.1 562.4 852.1 562.9 852.1 563.4 852.1 563.9 852.1 564.4 852.1 564.9 852.0 565.4 852.0 565.9 852.0 566.4 852.0 566.9 852.0 567.4 852.0 567.9 852.0 568.4 852.0 568.9 852.0" stroke="#dc2428" stroke-width="1.4" fill="none" stroke-linejoin="round"/>
<path d="M326.8 851.5 327.3 851.5 327.8 851.5 328.3 851.5 328.8 851.5 329.3 851.5 329.8 851.5 330.3 851.5 330.8 851.5 331.3 851.5 331.8 851.5 332.3 851.5 332.8 851.5 333.3 851.5 333.8 851.5 334.3 851.5 334.8 851.5 335.3 851.5 335.8 851.5 336.3 851.5 336.8 851.5 337.3 851.5 337.8 851.5 338.3 851.5 338.8 851.5 339.3 851.5 339.8 851.5 340.3 851.5 340.8 851.5 341.3 851.5 341.8 851.5 342.3 851.4 342.8 851.4 343.3 851.4 343.8 851.4 344.3 851.4 344.8 851.4 345.3 851.4 345.8 851.4 346.3 851.4 346.8 851.4 347.3 851.4 347.8 851.4 348.3 851.4 348.8 851.4 349.3 851.4 349.8 851.4 350.3 851.4 350.8 851.4 351.3 851.4 351.8 851.4 352.3 851.4 352.8 851.4 353.3 851.3 353.8 851.3 354.3 851.3 354.8 851.3 355.3 851.3 355.8 851.3 356.3 851.3 356.8 851.3 357.3 851.3 357.8 851.3 358.3 851.3 358.8 851.3 359.3 851.3 359.8 851.3 360.3 851.3 360.8 851.3 361.3 851.2 361.8 851.2 362.3 851.2 362.8 851.2 363.3 851.2 363.8 851.2 364.3 851.2 364.8 851.2 365.3 851.2 365.8 851.2 366.3 851.2 366.8 851.2 367.3 851.1 367.8 851.1 368.3 851.1 368.8 851.1 369.3 851.1 369.8 851.1 370.3 851.1 370.8 851.1 371.3 851.1 371.8 851.1 372.3 851.1 372.8 851.0 373.3 851.0 373.8 851.0 374.3 851.0 374.8 851.0 375.3 851.0 375.8 851.0 376.3 851.0 376.8 851.0 377.3 850.9 377.8 850.9 378.3 850.9 378.8 850.9 379.3 850.9 379.8 850.8 380.3 850.8 380.8 850.8 381.3 850.8 381.8 850.7 382.3 850.7 382.8 850.7 383.3 850.6 383.8 850.6 384.3 850.6 384.8 850.5 385.3 850.5 385.8 850.4 386.3 850.4 386.8 850.3 387.3 850.3 387.8 850.2 388.3 850.1 388.8 850.1 389.3 850.0 389.8 849.9 390.3 849.8 390.8 849.6 391.3 849.3 391.8 849.0 392.3 848.7 392.8 848.4 393.3 848.0 393.8 847.6 394.3 847.2 394.8 846.8 395.3 846.3 395.8 845.9 396.3 845.4 396.8 844.8 397.3 844.2 397.8 843.5 398.3 842.7 398.8 841.9 399.3 841.0 399.8 840.0 400.3 838.9 400.8 837.8 401.3 836.3 401.8 834.5 402.3 832.5 402.8 830.3 403.3 828.2 403.8 826.2 404.3 824.3 404.8 822.7 405.3 821.0 405.8 819.2 406.3 817.5 406.8 815.8 407.3 814.4 407.8 813.3 408.3 812.6 408.8 812.4 409.3 812.9 409.8 814.0 410.3 815.7 410.8 817.8 411.3 820.1 411.8 822.6 412.3 826.3 412.8 830.9 413.3 836.2 413.8 841.3 414.3 846.2 414.8 851.3 415.3 856.6 415.8 861.8 416.3 866.6 416.8 870.9 417.3 874.7 417.8 878.5 418.3 882.0 418.8 885.2 419.3 887.7 419.8 889.6 420.3 891.1 420.8 892.5 421.3 893.6 421.8 894.2 422.3 894.2 422.8 893.4 423.3 892.1 423.8 890.3 424.3 888.3 424.8 885.8 425.3 881.9 425.8 877.1 426.3 871.8 426.8 866.8 427.3 862.3 427.8 858.5 428.3 854.5 428.8 850.7 429.3 847.4 429.8 844.9 430.3 843.5 430.8 842.4 431.3 841.6 431.8 840.9 432.3 840.6 432.8 840.5 433.3 840.9 433.8 841.6 434.3 842.4 434.8 843.4 435.3 844.4 435.8 845.4 436.3 846.4 436.8 847.6 437.3 848.9 437.8 850.2 438.3 851.5 438.8 852.7 439.3 853.7 439.8 854.3 440.3 854.8 440.8 855.3 441.3 855.7 441.8 856.0 442.3 856.2 442.8 856.2 443.3 856.1 443.8 856.0 444.3 855.8 444.8 855.6 445.3 855.4 445.8 855.1 446.3 854.8 446.8 854.6 447.3 854.3 447.8 854.1 448.4 853.8 448.9 853.4 449.4 853.1 449.9 852.7 450.4 852.4 450.9 852.0 451.4 851.7 451.9 851.4 452.4 851.2 452.9 851.0 453.4 851.0 453.9 850.9 454.4 850.8 454.9 850.8 455.4 850.7 455.9 850.7 456.4 850.6 456.9 850.6 457.4 850.5 457.9 850.5 458.4 850.5 458.9 850.5 459.4 850.5 459.9 850.6 460.4 850.8 460.9 851.0 461.4 851.2 461.9 851.4 462.4 851.6 462.9 851.8 463.4 852.0 463.9 852.1 464.4 852.2 464.9 852.2 465.4 852.2 465.9 852.2 466.4 852.3 466.9 852.3 467.4 852.3 467.9 852.3 468.4 852.3 468.9 852.3 469.4 852.3 469.9 852.4 470.4 852.4 470.9 852.4 471.4 852.4 471.9 852.4 472.4 852.4 472.9 852.4 473.4 852.4 473.9 852.4 474.4 852.4 474.9 852.4 475.4 852.4 475.9 852.4 476.4 852.4 476.9 852.4 477.4 852.4 477.9 852.4 478.4 852.4 478.9 852.4 479.4 852.4 479.9 852.4 480.4 852.4 480.9 852.4 481.4 852.4 481.9 852.4 482.4 852.4 482.9 852.4 483.4 852.4 483.9 852.4 484.4 852.4 484.9 852.4 485.4 852.4 485.9 852.4 486.4 852.4 486.9 852.4 487.4 852.4 487.9 852.4 488.4 852.4 488.9 852.4 489.4 852.4 489.9 852.4 490.4 852.4 490.9 852.4 491.4 852.4 491.9 852.4 492.4 852.4 492.9 852.4 493.4 852.4 493.9 852.4 494.4 852.4 494.9 852.4 495.4 852.4 495.9 852.4 496.4 852.4 496.9 852.4 497.4 852.4 497.9 852.4 498.4 852.4 498.9 852.4 499.4 852.4 499.9 852.4 500.4 852.4 500.9 852.4 501.4 852.4 501.9 852.4 502.4 852.4 502.9 852.4 503.4 852.4 503.9 852.4 504.4 852.4 504.9 852.4 505.4 852.4 505.9 852.4 506.4 852.4 506.9 852.4 507.4 852.4 507.9 852.4 508.4 852.4 508.9 852.4 509.4 852.4 509.9 852.4 510.4 852.4 510.9 852.4 511.4 852.4 511.9 852.4 512.4 852.4 512.9 852.4 513.4 852.4 513.9 852.4 514.4 852.4 514.9 852.4 515.4 852.4 515.9 852.4 516.4 852.4 516.9 852.4 517.4 852.4 517.9 852.4 518.4 852.4 518.9 852.4 519.4 852.4 519.9 852.4 520.4 852.4 520.9 852.4 521.4 852.4 521.9 852.4 522.4 852.3 522.9 852.3 523.4 852.3 523.9 852.3 524.4 852.3 524.9 852.3 525.4 852.3 525.9 852.3 526.4 852.3 526.9 852.3 527.4 852.3 527.9 852.3 528.4 852.3 528.9 852.3 529.4 852.3 529.9 852.3 530.4 852.3 530.9 852.3 531.4 852.3 531.9 852.3 532.4 852.3 532.9 852.3 533.4 852.3 533.9 852.3 534.4 852.3 534.9 852.3 535.4 852.3 535.9 852.3 536.4 852.3 536.9 852.3 537.4 852.3 537.9 852.3 538.4 852.3 538.9 852.3 539.4 852.3 539.9 852.3 540.4 852.3 540.9 852.3 541.4 852.3 541.9 852.3 542.4 852.3 542.9 852.2 543.4 852.2 543.9 852.2 544.4 852.2 544.9 852.2 545.4 852.2 545.9 852.2 546.4 852.2 546.9 852.2 547.4 852.2 547.9 852.2 548.4 852.2 548.9 852.2 549.4 852.2 549.9 852.2 550.4 852.2 550.9 852.2 551.4 852.2 551.9 852.2 552.4 852.2 552.9 852.2 553.4 852.2 553.9 852.2 554.4 852.2 554.9 852.2 555.4 852.1 555.9 852.1 556.4 852.1 556.9 852.1 557.4 852.1 557.9 852.1 558.4 852.1 558.9 852.1 559.4 852.1 559.9 852.1 560.4 852.1 560.9 852.1 561.4 852.1 561.9 852.1 562.4 852.1 562.9 852.1 563.4 852.1 563.9 852.1 564.4 852.1 564.9 852.0 565.4 852.0 565.9 852.0 566.4 852.0 566.9 852.0 567.4 852.0 567.9 852.0 568.4 852.0 568.9 852.0" stroke="#2828b8" stroke-width="1.4" fill="none" stroke-linejoin="round" stroke-dasharray="8.8 4.1"/>
<path d="M199.9 855.6 200.4 855.6 200.9 855.6 201.4 855.6 201.9 855.6 202.4 855.6 202.9 855.6 203.4 855.6 203.9 855.6 204.4 855.6 204.9 855.7 205.4 855.7 205.9 855.7 206.4 855.7 206.9 855.7 207.4 855.7 207.9 855.7 208.4 855.7 208.9 855.7 209.4 855.8 209.9 855.8 210.4 855.8 210.9 855.8 211.4 855.8 211.9 855.8 212.4 855.9 212.9 855.9 213.4 855.9 213.9 855.9 214.4 855.9 214.9 855.9 215.4 856.0 215.9 856.0 216.4 856.0 216.9 856.0 217.4 856.0 217.9 856.0 218.4 856.1 218.9 856.1 219.4 856.1 219.9 856.1 220.4 856.1 220.9 856.2 221.4 856.2 221.9 856.2 222.4 856.2 222.9 856.2 223.4 856.3 223.9 856.3 224.4 856.3 224.9 856.3 225.4 856.4 225.9 856.4 226.4 856.4 226.9 856.5 227.4 856.5 227.9 856.5 228.4 856.5 228.9 856.6 229.4 856.6 229.9 856.6 230.4 856.7 230.9 856.7 231.4 856.8 231.9 856.8 232.4 856.8 232.9 856.9 233.4 856.9 233.9 856.9 234.4 857.0 234.9 857.0 235.4 857.1 235.9 857.1 236.4 857.1 236.9 857.2 237.4 857.2 237.9 857.3 238.4 857.3 238.9 857.4 239.4 857.4 239.9 857.4 240.4 857.5 240.9 857.5 241.4 857.6 241.9 857.6 242.4 857.7 242.9 857.7 243.4 857.7 243.9 857.8 244.4 857.8 244.9 857.9 245.4 857.9 245.9 858.0 246.4 858.0 246.9 858.1 247.4 858.1 247.9 858.2 248.4 858.2 248.9 858.3 249.4 858.3 249.9 858.4 250.4 858.4 250.9 858.5 251.4 858.5 251.9 858.6 252.4 858.6 252.9 858.7 253.4 858.7 253.9 858.8 254.4 858.8 254.9 858.9 255.4 859.0 255.9 859.0 256.4 859.1 256.9 859.1 257.4 859.2 257.9 859.2 258.4 859.3 258.9 859.4 259.4 859.4 259.9 859.5 260.4 859.5 260.9 859.6 261.4 859.7 261.9 859.7 262.4 859.8 262.9 859.9 263.4 859.9 263.9 860.0 264.4 860.1 264.9 860.1 265.4 860.2 265.9 860.3 266.4 860.3 266.9 860.4 267.4 860.5 267.9 860.6 268.4 860.6 268.9 860.7 269.4 860.8 269.9 860.9 270.4 861.0 270.9 861.0 271.4 861.1 271.9 861.2 272.4 861.3 272.9 861.4 273.4 861.5 273.9 861.5 274.4 861.6 274.9 861.7 275.4 861.8 275.9 861.9 276.4 862.0 276.9 862.1 277.4 862.2 277.9 862.2 278.4 862.3 278.9 862.4 279.4 862.5 279.9 862.6 280.4 862.7 280.9 862.8 281.4 862.9 281.9 863.0 282.4 863.1 282.9 863.2 283.4 863.2 283.9 863.3 284.4 863.4 284.9 863.5 285.4 863.6 285.9 863.7 286.4 863.8 286.9 863.9 287.4 864.0 287.9 864.1 288.4 864.2 288.9 864.3 289.4 864.4 289.9 864.4 290.4 864.5 290.9 864.6 291.4 864.7 291.9 864.8 292.4 864.9 292.9 865.0 293.4 865.1 293.9 865.2 294.4 865.3 294.9 865.4 295.4 865.5 295.9 865.6 296.4 865.7 296.9 865.8 297.4 865.9 297.9 866.0 298.4 866.1 298.9 866.2 299.4 866.3 299.9 866.4 300.4 866.5 300.9 866.6 301.4 866.7 301.9 866.8 302.4 867.0 302.9 867.1 303.4 867.2 303.9 867.3 304.4 867.4 304.9 867.5 305.4 867.6 305.9 867.7 306.4 867.8 306.9 867.9 307.4 868.1 307.9 868.2 308.4 868.3 308.9 868.4 309.4 868.5 309.9 868.6 310.4 868.8 310.9 868.9 311.4 869.0 311.9 869.1 312.4 869.2 312.9 869.4 313.4 869.5 313.9 869.6 314.4 869.7 314.9 869.9 315.4 870.0 315.9 870.1 316.4 870.2 316.9 870.4 317.4 870.5 317.9 870.6 318.4 870.7 318.9 870.9 319.4 871.0 319.9 871.1 320.4 871.3 320.9 871.4 321.4 871.5 321.9 871.7 322.4 871.8 322.9 871.9 323.4 872.1 323.9 872.2 324.4 872.3 324.9 872.5 325.4 872.6 325.9 872.8 326.4 872.9 326.9 873.0 327.4 873.2 327.9 873.3 328.4 873.4 328.9 873.5 329.4 873.7 329.9 873.8 330.4 873.9 330.9 874.1 331.4 874.2 331.9 874.3 332.4 874.5 332.9 874.6 333.4 874.7 333.9 874.9 334.4 875.0 334.9 875.2 335.4 875.4 335.9 875.6 336.4 875.8 336.9 876.0 337.4 876.2 337.9 876.5 338.4 876.8 338.9 877.2 339.4 877.5 339.9 877.7 340.4 878.0 340.9 878.2 341.4 878.5 341.9 878.7 342.4 879.0 342.9 879.2 343.4 879.4 343.9 879.7 344.4 879.9 344.9 880.1 345.4 880.3 345.9 880.5 346.4 880.8 346.9 881.0 347.4 881.2 347.9 881.4 348.4 881.6 348.9 881.8 349.4 882.0 349.9 882.2 350.4 882.4 350.9 882.6 351.4 882.8 351.9 883.0 352.4 883.2 352.9 883.4 353.4 883.6 353.9 883.8 354.4 884.0 354.9 884.2 355.4 884.4 355.9 884.6 356.4 884.8 356.9 885.0 357.4 885.3 357.9 885.5 358.4 885.7 358.9 885.9 359.4 886.1 359.9 886.3 360.4 886.5 360.9 886.8 361.4 887.0 361.9 887.2 362.4 887.4 362.9 887.6 363.4 887.8 363.9 888.0 364.4 888.2 364.9 888.5 365.4 888.7 365.9 888.9 366.4 889.1 366.9 889.3 367.4 889.5 367.9 889.7 368.4 889.9 368.9 890.2 369.4 890.4 369.9 890.6 370.4 890.8 370.9 891.0 371.4 891.3 371.9 891.5 372.4 891.7 372.9 891.9 373.4 892.2 373.9 892.4 374.4 892.6 374.9 892.9 375.4 893.1 375.9 893.3 376.4 893.6 376.9 893.9 377.4 894.2 377.9 894.4 378.4 894.7 378.9 895.0 379.4 895.3 379.9 895.5 380.4 895.8 380.9 896.0 381.4 896.2 381.9 896.4 382.4 896.6 382.9 896.8 383.4 897.0 383.9 897.1 384.4 897.3 384.9 897.5 385.4 897.7 385.9 897.8 386.4 898.0 386.9 898.1 387.4 898.2 387.9 898.3 388.4 898.4 388.9 898.5 389.4 898.6 389.9 898.6 390.4 898.6 390.9 898.5 391.4 898.3 391.9 898.1 392.4 897.8 392.9 897.4 393.4 896.9 393.9 896.4 394.4 895.9 394.9 895.3 395.4 894.6 395.9 893.6 396.4 892.3 396.9 890.8 397.4 889.1 397.9 887.3 398.4 885.3 398.9 883.1 399.4 880.4 399.9 877.3 400.4 873.8 400.9 869.6 401.4 864.2 401.9 857.6 402.4 850.5 402.9 842.8 403.4 833.7 403.9 825.2 404.4 819.5 404.9 810.6 405.4 795.1 405.9 777.3 406.4 761.6 406.9 747.1 407.4 732.8 407.9 718.1 408.4 702.5 408.9 686.5 409.4 671.5 409.9 658.1 410.4 645.3 410.9 633.4 411.4 623.0 411.9 614.1 412.4 605.0 412.9 596.2 413.4 588.6 413.9 582.8 414.4 579.8 414.9 579.9 415.4 582.2 415.9 586.3 416.4 591.8 416.9 598.6 417.4 606.2 417.9 614.3 418.4 623.3 418.9 636.7 419.4 652.8 419.9 668.8 420.4 683.6 420.9 698.7 421.4 714.7 421.9 732.8 422.4 752.5 422.9 771.0 423.4 787.7 423.9 803.9 424.4 820.3 424.9 838.6 425.4 854.6 425.9 865.6 426.4 874.3 426.9 881.0 427.4 886.9 427.9 892.3 428.4 896.0 428.9 897.1 429.4 896.6 429.9 895.4 430.4 893.7 430.9 891.8 431.4 889.5 431.9 885.5 432.4 880.2 432.9 874.3 433.4 868.7 433.9 863.7 434.4 858.6 434.9 853.5 435.4 848.9 435.9 845.3 436.4 842.7 436.9 840.2 437.4 837.9 437.9 836.0 438.4 834.5 438.9 833.5 439.4 833.3 439.9 833.7 440.4 834.6 440.9 835.8 441.4 837.3 441.9 838.9 442.4 840.4 442.9 841.9 443.4 843.8 443.9 845.8 444.4 847.9 444.9 849.7 445.4 851.2 445.9 852.2 446.4 853.3 446.9 854.3 447.4 855.2 447.9 856.1 448.4 856.8 448.9 857.4 449.4 857.8 449.9 858.1 450.4 858.1 450.9 858.0 451.4 857.7 451.9 857.4 452.4 857.0 452.9 856.6 453.4 856.2 453.9 855.7 454.4 855.3 454.9 854.9 455.4 854.5 455.9 854.1 456.4 853.6 456.9 853.1 457.4 852.6 457.9 852.1 458.4 851.6 458.9 851.2 459.4 850.9 459.9 850.7 460.4 850.5 460.9 850.5 461.4 850.6 461.9 850.6 462.4 850.8 462.9 850.9 463.4 851.1 463.9 851.3 464.4 851.4 464.9 851.6 465.4 851.7 465.9 851.8 466.4 851.9 466.9 851.9 467.4 852.0 467.9 852.0 468.4 852.1 468.9 852.1 469.4 852.2 469.9 852.2 470.4 852.2 470.9 852.3 471.4 852.3 471.9 852.3 472.4 852.3 472.9 852.4 473.4 852.4 473.9 852.4 474.4 852.4 474.9 852.4 475.4 852.4 475.9 852.4 476.4 852.4 476.9 852.4 477.4 852.4 477.9 852.4 478.4 852.4 478.9 852.4 479.4 852.4 479.9 852.4 480.4 852.4 480.9 852.4 481.4 852.4 481.9 852.4 482.4 852.4 482.9 852.4 483.4 852.4 483.9 852.4 484.4 852.4 484.9 852.4 485.4 852.4 485.9 852.4 486.4 852.4 486.9 852.4 487.4 852.4 487.9 852.4 488.4 852.4 488.9 852.4 489.4 852.4 489.9 852.4 490.4 852.4 490.9 852.4 491.4 852.4 491.9 852.4 492.4 852.4 492.9 852.4 493.4 852.4 493.9 852.4 494.4 852.4 494.9 852.4 495.4 852.4 495.9 852.4 496.4 852.4 496.9 852.4 497.4 852.4 497.9 852.4 498.4 852.4 498.9 852.4 499.4 852.4 499.9 852.4 500.4 852.4 500.9 852.4 501.4 852.4 501.9 852.4 502.4 852.4 502.9 852.4 503.4 852.4 503.9 852.4 504.4 852.4 504.9 852.4 505.4 852.4 505.9 852.4 506.4 852.4 506.9 852.4 507.4 852.4 507.9 852.4 508.4 852.4 508.9 852.4 509.4 852.4 509.9 852.4 510.4 852.4 510.9 852.4 511.4 852.4 511.9 852.4 512.4 852.4 512.9 852.4 513.4 852.4 513.9 852.4 514.4 852.4 514.9 852.4 515.4 852.4 515.9 852.4 516.4 852.4 516.9 852.4 517.4 852.4 517.9 852.4 518.4 852.4 518.9 852.4 519.4 852.4 519.9 852.4 520.4 852.4 520.9 852.4 521.4 852.4 521.9 852.4 522.4 852.3 522.9 852.3 523.4 852.3 523.9 852.3 524.4 852.3 524.9 852.3 525.4 852.3 525.9 852.3 526.4 852.3 526.9 852.3 527.4 852.3 527.9 852.3 528.4 852.3 528.9 852.3 529.4 852.3 529.9 852.3 530.4 852.3 530.9 852.3 531.4 852.3 531.9 852.3 532.4 852.3 532.9 852.3 533.4 852.3 533.9 852.3 534.4 852.3 534.9 852.3 535.4 852.3 535.9 852.3 536.4 852.3 536.9 852.3 537.4 852.3 537.9 852.3 538.4 852.3 538.9 852.3 539.4 852.3 539.9 852.3 540.4 852.3 540.9 852.3 541.4 852.3 541.9 852.3 542.4 852.3 542.9 852.2 543.4 852.2 543.9 852.2 544.4 852.2 544.9 852.2 545.4 852.2 545.9 852.2 546.4 852.2 546.9 852.2 547.4 852.2 547.9 852.2 548.4 852.2 548.9 852.2 549.4 852.2 549.9 852.2 550.4 852.2 550.9 852.2 551.4 852.2 551.9 852.2 552.4 852.2 552.9 852.2 553.4 852.2 553.9 852.2 554.4 852.2 554.9 852.2 555.4 852.1 555.9 852.1 556.4 852.1 556.9 852.1 557.4 852.1 557.9 852.1 558.4 852.1 558.9 852.1 559.4 852.1 559.9 852.1 560.4 852.1 560.9 852.1 561.4 852.1 561.9 852.1 562.4 852.1 562.9 852.1 563.4 852.1 563.9 852.1 564.4 852.1 564.9 852.0 565.4 852.0 565.9 852.0 566.4 852.0 566.9 852.0 567.4 852.0 567.9 852.0 568.4 852.0 568.9 852.0" stroke="#237623" stroke-width="1.4" fill="none" stroke-linejoin="round" stroke-dasharray="4.7 6"/>
<path d="M199.9 852.0 200.4 852.0 200.9 852.0 201.4 852.0 201.9 852.0 202.4 852.0 202.9 852.0 203.4 852.0 203.9 852.0 204.4 852.0 204.9 852.0 205.4 852.0 205.9 852.0 206.4 852.0 206.9 852.0 207.4 852.0 207.9 852.0 208.4 852.0 208.9 852.0 209.4 852.0 209.9 852.0 210.4 852.0 210.9 852.0 211.4 852.0 211.9 852.0 212.4 852.0 212.9 852.0 213.4 852.0 213.9 852.0 214.4 852.0 214.9 852.0 215.4 852.0 215.9 852.0 216.4 852.0 216.9 852.0 217.4 852.0 217.9 852.0 218.4 852.0 218.9 852.0 219.4 852.0 219.9 852.0 220.4 852.0 220.9 852.0 221.4 852.0 221.9 852.0 222.4 852.0 222.9 852.0 223.4 852.0 223.9 852.0 224.4 852.0 224.9 852.0 225.4 852.0 225.9 852.0 226.4 852.0 226.9 852.0 227.4 852.0 227.9 852.0 228.4 852.0 228.9 852.0 229.4 852.0 229.9 852.0 230.4 852.0 230.9 852.0 231.4 852.0 231.9 852.0 232.4 852.0 232.9 852.0 233.4 852.0 233.9 852.0 234.4 852.0 234.9 852.0 235.4 852.0 235.9 852.0 236.4 851.9 236.9 851.9 237.4 851.9 237.9 851.9 238.4 851.9 238.9 851.9 239.4 851.9 239.9 851.9 240.4 851.9 240.9 851.9 241.4 851.9 241.9 851.9 242.4 851.9 242.9 851.9 243.4 851.9 243.9 851.9 244.4 851.9 244.9 851.9 245.4 851.9 245.9 851.9 246.4 851.9 246.9 851.9 247.4 851.9 247.9 851.9 248.4 851.9 248.9 851.9 249.4 851.9 249.9 851.9 250.4 851.9 250.9 851.9 251.4 851.9 251.9 851.9 252.4 851.9 252.9 851.9 253.4 851.9 253.9 851.9 254.4 851.9 254.9 851.9 255.4 851.9 255.9 851.9 256.4 851.9 256.9 851.9 257.4 851.9 257.9 851.9 258.4 851.9 258.9 851.9 259.4 851.9 259.9 851.9 260.4 851.9 260.9 851.9 261.4 851.9 261.9 851.9 262.4 851.9 262.9 851.9 263.4 851.9 263.9 851.9 264.4 851.9 264.9 851.9 265.4 851.9 265.9 851.8 266.4 851.8 266.9 851.8 267.4 851.8 267.9 851.8 268.4 851.8 268.9 851.8 269.4 851.8 269.9 851.8 270.4 851.8 270.9 851.8 271.4 851.8 271.9 851.8 272.4 851.8 272.9 851.8 273.4 851.8 273.9 851.8 274.4 851.8 274.9 851.8 275.4 851.8 275.9 851.8 276.4 851.8 276.9 851.8 277.4 851.8 277.9 851.8 278.4 851.8 278.9 851.8 279.4 851.8 279.9 851.8 280.4 851.8 280.9 851.8 281.4 851.8 281.9 851.8 282.4 851.8 282.9 851.8 283.4 851.8 283.9 851.8 284.4 851.8 284.9 851.8 285.4 851.8 285.9 851.8 286.4 851.8 286.9 851.8 287.4 851.8 287.9 851.8 288.4 851.8 288.9 851.8 289.4 851.7 289.9 851.7 290.4 851.7 290.9 851.7 291.4 851.7 291.9 851.7 292.4 851.7 292.9 851.7 293.4 851.7 293.9 851.7 294.4 851.7 294.9 851.7 295.4 851.7 295.9 851.7 296.4 851.7 296.9 851.7 297.4 851.7 297.9 851.7 298.4 851.7 298.9 851.7 299.4 851.7 299.9 851.7 300.4 851.7 300.9 851.7 301.4 851.7 301.9 851.7 302.4 851.7 302.9 851.7 303.4 851.7 303.9 851.7 304.4 851.7 304.9 851.7 305.4 851.7 305.9 851.7 306.4 851.7 306.9 851.7 307.4 851.7 307.9 851.7 308.4 851.7 308.9 851.6 309.4 851.6 309.9 851.6 310.4 851.6 310.9 851.6 311.4 851.6 311.9 851.6 312.4 851.6 312.9 851.6 313.4 851.6 313.9 851.6 314.4 851.6 314.9 851.6 315.4 851.6 315.9 851.6 316.4 851.6 316.9 851.6 317.4 851.6 317.9 851.6 318.4 851.6 318.9 851.6 319.4 851.6 319.9 851.6 320.4 851.6 320.9 851.6 321.4 851.5 321.9 851.5 322.4 851.5 322.9 851.5 323.4 851.5 323.9 851.5 324.4 851.5 324.9 851.5 325.4 851.5 325.9 851.5 326.4 851.5 326.9 851.5 327.4 851.5 327.9 851.5 328.4 851.5 328.9 851.5 329.4 851.5 329.9 851.5 330.4 851.5 330.9 851.5 331.4 851.5 331.9 851.5 332.4 851.5 332.9 851.5 333.4 851.4 333.9 851.4 334.4 851.4 334.9 851.4 335.4 851.4 335.9 851.4 336.4 851.4 336.9 851.4 337.4 851.4 337.9 851.4 338.4 851.4 338.9 851.4 339.4 851.4 339.9 851.4 340.4 851.4 340.9 851.4 341.4 851.4 341.9 851.4 342.4 851.4 342.9 851.4 343.4 851.4 343.9 851.4 344.4 851.4 344.9 851.4 345.4 851.4 345.9 851.4 346.4 851.4 346.9 851.4 347.4 851.4 347.9 851.3 348.4 851.3 348.9 851.3 349.4 851.3 349.9 851.3 350.4 851.3 350.9 851.3 351.4 851.3 351.9 851.3 352.4 851.3 352.9 851.3 353.4 851.3 353.9 851.3 354.4 851.3 354.9 851.3 355.4 851.3 355.9 851.3 356.4 851.3 356.9 851.3 357.4 851.3 357.9 851.3 358.4 851.3 358.9 851.2 359.4 851.2 359.9 851.2 360.4 851.2 360.9 851.2 361.4 851.2 361.9 851.2 362.4 851.2 362.9 851.2 363.4 851.2 363.9 851.2 364.4 851.2 364.9 851.2 365.4 851.2 365.9 851.2 366.4 851.2 366.9 851.1 367.4 851.1 367.9 851.1 368.4 851.1 368.9 851.1 369.4 851.1 369.9 851.1 370.4 851.1 370.9 851.1 371.4 851.1 371.9 851.1 372.4 851.1 372.9 851.0 373.4 851.0 373.9 851.0 374.4 851.0 374.9 851.0 375.4 851.0 375.9 851.0 376.4 851.0 376.9 851.0 377.4 850.9 377.9 850.9 378.4 850.9 378.9 850.9 379.4 850.9 379.9 850.8 380.4 850.8 380.9 850.8 381.4 850.8 381.9 850.7 382.4 850.7 382.9 850.7 383.4 850.6 383.9 850.6 384.4 850.5 384.9 850.5 385.4 850.5 385.9 850.4 386.4 850.4 386.9 850.3 387.4 850.2 387.9 850.2 388.4 850.1 388.9 850.1 389.4 850.0 389.9 849.9 390.4 849.7 390.9 849.5 391.4 849.3 391.9 849.0 392.4 848.7 392.9 848.3 393.4 848.0 393.9 847.6 394.4 847.2 394.9 846.7 395.4 846.3 395.9 845.8 396.4 845.3 396.9 844.7 397.4 844.1 397.9 843.4 398.4 842.6 398.9 841.8 399.4 840.8 399.9 839.8 400.4 838.8 400.9 837.6 401.4 836.1 401.9 834.2 402.4 832.2 402.9 830.1 403.4 827.9 403.9 825.9 404.4 824.1 404.9 822.5 405.4 820.8 405.9 819.0 406.4 817.2 406.9 815.6 407.4 814.3 407.9 813.2 408.4 812.6 408.9 812.4 409.4 813.0 409.9 814.2 410.4 815.9 410.9 818.1 411.4 820.4 411.9 823.0 412.4 826.8 412.9 831.6 413.4 836.8 413.9 841.9 414.4 846.8 414.9 852.0 415.4 857.3 415.9 862.4 416.4 867.2 416.9 871.4 417.4 875.2 417.9 879.0 418.4 882.4 418.9 885.5 419.4 888.0 419.9 889.8 420.4 891.3 420.9 892.7 421.4 893.7 421.9 894.2 422.4 894.1 422.9 893.3 423.4 891.9 423.9 890.1 424.4 888.0 424.9 885.4 425.4 881.4 425.9 876.5 426.4 871.2 426.9 866.2 427.4 861.9 427.9 858.0 428.4 854.0 428.9 850.3 429.4 847.1 429.9 844.7 430.4 843.4 430.9 842.3 431.4 841.5 431.9 840.9 432.4 840.5 432.9 840.6 433.4 841.0 433.9 841.6 434.4 842.5 434.9 843.5 435.4 844.5 435.9 845.5 436.4 846.5 436.9 847.7 437.4 849.0 437.9 850.4 438.4 851.7 438.9 852.8 439.4 853.8 439.9 854.4 440.4 854.9 440.9 855.4 441.4 855.8 441.9 856.0 442.4 856.2 442.9 856.2 443.4 856.1 443.9 856.0 444.4 855.8 444.9 855.6 445.4 855.3 445.9 855.1 446.4 854.8 446.9 854.5 447.4 854.3 447.9 854.0 448.4 853.7 448.9 853.4 449.4 853.0 449.9 852.7 450.4 852.3 450.9 852.0 451.4 851.7 451.9 851.4 452.4 851.2 452.9 851.0 453.4 851.0 453.9 850.9 454.4 850.8 454.9 850.8 455.4 850.7 455.9 850.6 456.4 850.6 456.9 850.6 457.4 850.5 457.9 850.5 458.4 850.5 458.9 850.5 459.4 850.6 459.9 850.7 460.4 850.8 460.9 851.0 461.4 851.2 461.9 851.4 462.4 851.6 462.9 851.8 463.4 852.0 463.9 852.1 464.4 852.2 464.9 852.2 465.4 852.2 465.9 852.3 466.4 852.3 466.9 852.3 467.4 852.3 467.9 852.3 468.4 852.3 468.9 852.3 469.4 852.3 469.9 852.4 470.4 852.4 470.9 852.4 471.4 852.4 471.9 852.4 472.4 852.4 472.9 852.4 473.4 852.4 473.9 852.4 474.4 852.4 474.9 852.4 475.4 852.4 475.9 852.4 476.4 852.4 476.9 852.4 477.4 852.4 477.9 852.4 478.4 852.4 478.9 852.4 479.4 852.4 479.9 852.4 480.4 852.4 480.9 852.4 481.4 852.4 481.9 852.4 482.4 852.4 482.9 852.4 483.4 852.4 483.9 852.4 484.4 852.4 484.9 852.4 485.4 852.4 485.9 852.4 486.4 852.4 486.9 852.4 487.4 852.4 487.9 852.4 488.4 852.4 488.9 852.4 489.4 852.4 489.9 852.4 490.4 852.4 490.9 852.4 491.4 852.4 491.9 852.4 492.4 852.4 492.9 852.4 493.4 852.4 493.9 852.4 494.4 852.4 494.9 852.4 495.4 852.4 495.9 852.4 496.4 852.4 496.9 852.4 497.4 852.4 497.9 852.4 498.4 852.4 498.9 852.4 499.4 852.4 499.9 852.4 500.4 852.4 500.9 852.4 501.4 852.4 501.9 852.4 502.4 852.4 502.9 852.4 503.4 852.4 503.9 852.4 504.4 852.4 504.9 852.4 505.4 852.4 505.9 852.4 506.4 852.4 506.9 852.4 507.4 852.4 507.9 852.4 508.4 852.4 508.9 852.4 509.4 852.4 509.9 852.4 510.4 852.4 510.9 852.4 511.4 852.4 511.9 852.4 512.4 852.4 512.9 852.4 513.4 852.4 513.9 852.4 514.4 852.4 514.9 852.4 515.4 852.4 515.9 852.4 516.4 852.4 516.9 852.4 517.4 852.4 517.9 852.4 518.4 852.4 518.9 852.4 519.4 852.4 519.9 852.4 520.4 852.4 520.9 852.4 521.4 852.4 521.9 852.4 522.4 852.3 522.9 852.3 523.4 852.3 523.9 852.3 524.4 852.3 524.9 852.3 525.4 852.3 525.9 852.3 526.4 852.3 526.9 852.3 527.4 852.3 527.9 852.3 528.4 852.3 528.9 852.3 529.4 852.3 529.9 852.3 530.4 852.3 530.9 852.3 531.4 852.3 531.9 852.3 532.4 852.3 532.9 852.3 533.4 852.3 533.9 852.3 534.4 852.3 534.9 852.3 535.4 852.3 535.9 852.3 536.4 852.3 536.9 852.3 537.4 852.3 537.9 852.3 538.4 852.3 538.9 852.3 539.4 852.3 539.9 852.3 540.4 852.3 540.9 852.3 541.4 852.3 541.9 852.3 542.4 852.3 542.9 852.2 543.4 852.2 543.9 852.2 544.4 852.2 544.9 852.2 545.4 852.2 545.9 852.2 546.4 852.2 546.9 852.2 547.4 852.2 547.9 852.2 548.4 852.2 548.9 852.2 549.4 852.2 549.9 852.2 550.4 852.2 550.9 852.2 551.4 852.2 551.9 852.2 552.4 852.2 552.9 852.2 553.4 852.2 553.9 852.2 554.4 852.2 554.9 852.2 555.4 852.1 555.9 852.1 556.4 852.1 556.9 852.1 557.4 852.1 557.9 852.1 558.4 852.1 558.9 852.1 559.4 852.1 559.9 852.1 560.4 852.1 560.9 852.1 561.4 852.1 561.9 852.1 562.4 852.1 562.9 852.1 563.4 852.1 563.9 852.1 564.4 852.1 564.9 852.0 565.4 852.0 565.9 852.0 566.4 852.0 566.9 852.0 567.4 852.0 567.9 852.0 568.4 852.0 568.9 852.0" stroke="#763a7e" stroke-width="1.4" fill="none" stroke-linejoin="round" stroke-dasharray="2.4 2.96"/>
<path d="M589.0 853.3 589.5 853.3 590.0 853.3 590.5 853.3 591.0 853.3 591.5 853.3 592.0 853.3 592.5 853.3 593.0 853.3 593.5 853.3 594.0 853.3 594.5 853.4 595.0 853.4 595.5 853.4 596.0 853.4 596.5 853.4 597.0 853.4 597.5 853.4 598.0 853.4 598.5 853.4 599.0 853.4 599.5 853.4 600.0 853.4 600.5 853.4 601.0 853.5 601.5 853.5 602.0 853.5 602.5 853.5 603.0 853.5 603.5 853.5 604.0 853.5 604.5 853.5 605.0 853.5 605.5 853.5 606.0 853.6 606.5 853.6 607.0 853.6 607.5 853.6 608.0 853.6 608.5 853.6 609.0 853.6 609.5 853.6 610.0 853.7 610.5 853.7 611.0 853.7 611.5 853.7 612.0 853.7 612.5 853.7 613.0 853.7 613.5 853.7 614.0 853.8 614.5 853.8 615.0 853.8 615.5 853.8 616.0 853.8 616.5 853.8 617.0 853.8 617.5 853.9 618.0 853.9 618.5 853.9 619.0 853.9 619.5 853.9 620.0 853.9 620.5 853.9 621.0 854.0 621.5 854.0 622.0 854.0 622.5 854.0 623.0 854.0 623.5 854.0 624.0 854.1 624.5 854.1 625.0 854.1 625.5 854.1 626.0 854.1 626.5 854.1 627.0 854.2 627.5 854.2 628.0 854.2 628.5 854.2 629.0 854.2 629.5 854.2 630.0 854.3 630.5 854.3 631.0 854.3 631.5 854.3 632.0 854.3 632.5 854.3 633.0 854.4 633.5 854.4 634.0 854.4 634.5 854.4 635.0 854.4 635.5 854.5 636.0 854.5 636.5 854.5 637.0 854.5 637.5 854.5 638.0 854.5 638.5 854.6 639.0 854.6 639.5 854.6 640.0 854.6 640.5 854.6 641.0 854.7 641.5 854.7 642.0 854.7 642.5 854.7 643.0 854.7 643.5 854.7 644.0 854.8 644.5 854.8 645.0 854.8 645.5 854.8 646.0 854.8 646.5 854.9 647.0 854.9 647.5 854.9 648.0 854.9 648.5 855.0 649.0 855.0 649.5 855.0 650.0 855.0 650.5 855.1 651.0 855.1 651.5 855.1 652.0 855.1 652.5 855.2 653.0 855.2 653.5 855.2 654.0 855.2 654.5 855.3 655.0 855.3 655.5 855.3 656.0 855.3 656.5 855.4 657.0 855.4 657.5 855.4 658.0 855.5 658.5 855.5 659.0 855.5 659.5 855.5 660.0 855.6 660.5 855.6 661.0 855.6 661.5 855.7 662.0 855.7 662.5 855.7 663.0 855.8 663.5 855.8 664.0 855.8 664.5 855.9 665.0 855.9 665.5 855.9 666.0 856.0 666.5 856.0 667.0 856.0 667.5 856.1 668.0 856.1 668.5 856.1 669.0 856.2 669.5 856.2 670.0 856.2 670.5 856.3 671.0 856.3 671.5 856.3 672.0 856.4 672.5 856.4 673.0 856.4 673.5 856.5 674.0 856.5 674.5 856.5 675.0 856.6 675.5 856.6 676.0 856.6 676.5 856.7 677.0 856.7 677.5 856.8 678.0 856.8 678.5 856.8 679.0 856.9 679.5 856.9 680.0 856.9 680.5 857.0 681.0 857.0 681.5 857.0 682.0 857.1 682.5 857.1 683.0 857.2 683.5 857.2 684.0 857.2 684.5 857.3 685.0 857.3 685.5 857.3 686.0 857.4 686.5 857.4 687.0 857.5 687.5 857.5 688.0 857.5 688.5 857.6 689.0 857.6 689.5 857.6 690.0 857.7 690.5 857.7 691.0 857.8 691.5 857.8 692.0 857.8 692.5 857.9 693.0 857.9 693.5 857.9 694.0 858.0 694.5 858.0 695.0 858.0 695.5 858.1 696.0 858.1 696.5 858.2 697.0 858.2 697.5 858.2 698.0 858.3 698.5 858.3 699.0 858.3 699.5 858.4 700.0 858.4 700.5 858.5 701.0 858.5 701.5 858.5 702.0 858.6 702.5 858.6 703.0 858.6 703.5 858.7 704.0 858.7 704.5 858.8 705.0 858.8 705.5 858.8 706.0 858.9 706.5 858.9 707.0 859.0 707.5 859.0 708.0 859.0 708.5 859.1 709.0 859.1 709.5 859.2 710.0 859.2 710.5 859.2 711.0 859.3 711.5 859.3 712.0 859.4 712.5 859.4 713.0 859.4 713.5 859.5 714.0 859.5 714.5 859.6 715.0 859.6 715.5 859.6 716.0 859.7 716.5 859.7 717.0 859.8 717.5 859.8 718.0 859.8 718.5 859.9 719.0 859.9 719.5 860.0 720.0 860.0 720.5 860.1 721.0 860.1 721.5 860.1 722.0 860.2 722.5 860.2 723.0 860.3 723.5 860.3 724.0 860.4 724.5 860.4 725.0 860.4 725.5 860.5 726.0 860.5 726.5 860.6 727.0 860.6 727.5 860.7 728.0 860.7 728.5 860.8 729.0 860.8 729.5 860.8 730.0 860.9 730.5 860.9 731.0 861.0 731.5 861.0 732.0 861.1 732.5 861.1 733.0 861.2 733.5 861.2 734.0 861.3 734.5 861.3 735.0 861.3 735.5 861.4 736.0 861.4 736.5 861.5 737.0 861.5 737.5 861.6 738.0 861.6 738.5 861.7 739.0 861.7 739.5 861.8 740.0 861.8 740.5 861.9 741.0 861.9 741.5 862.0 742.0 862.0 742.5 862.1 743.0 862.1 743.5 862.2 744.0 862.2 744.5 862.3 745.0 862.3 745.5 862.3 746.0 862.4 746.5 862.4 747.0 862.5 747.5 862.5 748.0 862.6 748.5 862.6 749.0 862.7 749.5 862.8 750.0 862.8 750.5 862.9 751.0 862.9 751.5 863.0 752.0 863.0 752.5 863.1 753.0 863.1 753.5 863.2 754.0 863.2 754.5 863.3 755.0 863.3 755.5 863.4 756.0 863.4 756.5 863.5 757.0 863.5 757.5 863.6 758.0 863.7 758.5 863.7 759.0 863.8 759.5 863.8 760.0 863.9 760.5 863.9 761.0 864.0 761.5 864.1 762.0 864.1 762.5 864.2 763.0 864.2 763.5 864.3 764.0 864.4 764.5 864.4 765.0 864.5 765.5 864.5 766.0 864.6 766.5 864.6 767.0 864.7 767.5 864.8 768.0 864.8 768.5 864.9 769.0 864.9 769.5 865.0 770.0 865.1 770.5 865.1 771.0 865.2 771.5 865.3 772.0 865.3 772.5 865.4 773.0 865.4 773.5 865.5 774.0 865.6 774.5 865.6 775.0 865.7 775.5 865.8 776.0 865.8 776.5 865.9 777.0 865.9 777.5 866.0 778.0 866.1 778.5 866.1 779.0 866.2 779.5 866.3 780.0 866.3 780.5 866.4 781.0 866.5 781.5 866.5 782.0 866.6 782.5 866.7 783.0 866.7 783.5 866.8 784.0 866.8 784.5 866.9 785.0 867.0 785.5 867.0 786.0 867.1 786.5 867.2 787.0 867.2 787.5 867.3 788.0 867.4 788.5 867.4 789.0 867.5 789.5 867.6 790.0 867.6 790.5 867.7 791.0 867.8 791.5 867.8 792.0 867.9 792.5 867.9 793.0 868.0 793.5 868.1 794.0 868.1 794.5 868.2 795.0 868.3 795.5 868.3 796.0 868.4 796.5 868.4 797.0 868.5 797.5 868.5 798.0 868.6 798.5 868.7 799.0 868.7 799.5 868.8 800.0 868.8 800.5 868.9 801.0 869.0 801.5 869.0 802.0 869.1 802.5 869.2 803.0 869.2 803.5 869.3 804.0 869.3 804.5 869.4 805.0 869.5 805.5 869.5 806.0 869.6 806.5 869.7 807.0 869.7 807.5 869.8 808.0 869.9 808.5 869.9 809.0 870.0 809.5 870.1 810.0 870.1 810.5 870.2 811.0 870.3 811.5 870.3 812.0 870.4 812.5 870.5 813.0 870.6 813.5 870.6 814.0 870.7 814.5 870.8 815.0 870.9 815.5 871.0 816.0 871.0 816.5 871.1 817.0 871.2 817.5 871.3 818.0 871.4 818.5 871.5 819.0 871.6 819.5 871.7 820.0 871.8 820.5 871.8 821.0 871.9 821.5 872.0 822.0 872.1 822.5 872.2 823.0 872.4 823.5 872.5 824.0 872.6 824.5 872.7 825.0 872.8 825.5 873.0 826.0 873.1 826.5 873.3 827.0 873.4 827.5 873.6 828.0 873.7 828.5 873.9 829.0 874.1 829.5 874.3 830.0 874.5 830.5 874.6 831.0 874.8 831.5 875.0 832.0 875.2 832.5 875.4 833.0 875.6 833.5 875.7 834.0 875.9 834.5 876.1 835.0 876.2 835.5 876.4 836.0 876.6 836.5 876.8 837.0 877.1 837.5 877.3 838.0 877.5 838.5 877.7 839.0 877.9 839.5 878.1 840.0 878.3 840.5 878.5 841.0 878.7 841.5 878.9 842.0 879.0 842.5 879.2 843.0 879.3 843.5 879.4 844.0 879.4 844.5 879.5 845.0 879.5 845.5 879.5 846.0 879.4 846.5 879.3 847.0 879.1 847.5 878.9 848.0 878.7 848.5 878.4 849.0 878.1 849.5 877.8 850.0 877.5 850.5 877.1 851.0 876.8 851.5 876.4 852.0 876.0 852.5 875.6 853.0 875.3 853.5 874.9 854.0 874.6 854.5 874.2 855.0 873.9 855.5 873.6 856.0 873.2 856.5 872.7 857.0 872.3 857.5 871.9 858.0 871.5 858.5 871.1 859.0 870.8 859.5 870.7 860.0 870.6 860.5 870.7 861.0 870.9 861.5 871.3 862.0 871.9 862.5 872.5 863.0 873.2 863.5 874.0 864.0 874.8 864.5 875.7 865.0 876.6 865.5 877.7 866.0 879.0 866.5 880.5 867.0 882.2 867.5 884.0 868.0 886.0 868.5 888.0 869.0 890.0 869.5 892.1 870.0 894.1 870.5 896.3 871.0 898.6 871.5 901.1 872.0 903.7 872.5 906.3 873.0 908.9 873.5 911.4 874.0 913.8 874.5 916.0 875.0 918.0 875.5 920.2 876.0 922.5 876.5 924.6 877.0 926.4 877.5 927.5 878.0 927.8 878.5 927.3 879.0 926.2 879.5 924.6 880.0 922.5 880.5 920.0 881.0 917.2 881.5 912.4 882.0 904.7 882.5 894.8 883.0 883.9 883.5 872.7 884.0 859.9 884.5 845.1 885.0 830.7 885.5 818.7 886.0 809.2 886.5 800.2 887.0 789.9 887.5 776.8 888.0 761.2 888.5 745.2 889.0 729.6 889.5 713.9 890.0 699.3 890.5 686.4 891.0 674.5 891.5 663.4 892.0 653.0 892.5 643.1 893.0 633.5 893.5 624.5 894.0 616.0 894.5 608.3 895.0 601.2 895.5 593.8 896.0 586.4 896.5 579.9 897.0 575.0 897.5 572.4 898.0 572.4 898.5 574.2 899.0 577.3 899.5 581.5 900.0 586.7 900.5 592.6 901.0 598.9 901.5 605.5 902.0 614.1 902.5 625.6 903.0 638.4 903.5 651.0 904.0 663.3 904.5 676.1 905.0 689.0 905.5 701.6 906.0 714.2 906.5 726.7 907.0 739.5 907.5 752.6 908.0 766.0 908.5 779.5 909.0 793.1 909.5 807.4 910.0 820.7 910.5 832.1 911.0 842.5 911.5 851.9 912.0 860.3 912.5 868.2 913.0 875.8 913.5 882.6 914.0 888.1 914.5 891.8 915.0 894.7 915.5 897.4 916.0 899.6 916.5 901.4 917.0 902.6 917.5 903.0 918.0 902.6 918.5 901.6 919.0 900.2 919.5 898.3 920.0 896.3 920.5 894.1 921.0 891.7 921.5 888.6 922.0 884.9 922.5 880.9 923.0 876.7 923.5 872.6 924.0 868.7 924.5 865.1 925.0 861.6 925.5 858.1 926.0 854.8 926.5 851.7 927.0 849.0 927.5 846.6 928.0 844.3 928.5 842.1 929.0 840.3 929.5 838.8 930.0 837.7 930.5 836.6 931.0 835.7 931.5 835.0 932.0 834.6 932.5 834.3 933.0 834.1 933.5 833.9 934.0 833.8 934.5 833.7 935.0 833.7 935.5 833.9 936.0 834.2 936.5 834.8 937.0 835.4 937.5 836.2 938.0 837.1 938.5 838.1 939.0 839.0 939.5 840.0 940.0 841.0 940.5 841.9 941.0 842.9 941.5 844.1 942.0 845.3 942.5 846.7 943.0 848.0 943.5 849.3 944.0 850.5 944.5 851.5 945.0 852.4 945.5 853.0 946.0 853.5 946.5 854.1 947.0 854.6 947.5 855.1 948.0 855.5 948.5 855.9 949.0 856.3 949.5 856.7 950.0 857.0 950.5 857.2 951.0 857.4 951.5 857.5 952.0 857.6 952.5 857.6 953.0 857.5 953.5 857.5 954.0 857.4 954.5 857.2 955.0 857.1 955.5 856.9 956.0 856.7 956.5 856.5 957.0 856.3 957.5 856.1 958.0 855.9 958.5 855.7 959.0 855.4 959.5 855.0 960.0 854.7 960.5 854.3 961.0 853.9 961.5 853.6 962.0 853.2 962.5 852.9 963.0 852.6 963.5 852.4 964.0 852.2 964.5 852.1 965.0 851.9 965.5 851.8 966.0 851.7 966.5 851.6 967.0 851.5 967.5 851.4 968.0 851.3 968.5 851.2 969.0 851.2 969.5 851.1 970.0 851.1 970.5 851.0 971.0 851.0 971.5 851.0 972.0 851.0 972.5 851.0 973.0 851.1 973.5 851.1 974.0 851.2 974.5 851.2 975.0 851.3 975.5 851.3 976.0 851.4 976.5 851.5 977.0 851.6 977.5 851.7 978.0 851.8 978.5 851.9 979.0 851.9 979.5 852.0 980.0 852.1 980.5 852.2 981.0 852.3 981.5 852.3 982.0 852.4 982.5 852.5 983.0 852.5 983.5 852.5 984.0 852.6 984.5 852.6 985.0 852.6 985.5 852.6 986.0 852.6 986.5 852.6 987.0 852.6 987.5 852.6 988.0 852.6 988.5 852.6 989.0 852.6 989.5 852.6 990.0 852.6 990.5 852.6 991.0 852.6 991.5 852.6 992.0 852.6 992.5 852.6 993.0 852.6 993.5 852.6 994.0 852.6 994.5 852.6 995.0 852.6 995.5 852.6 996.0 852.6 996.5 852.6 997.0 852.6 997.5 852.6 998.0 852.6 998.5 852.6 999.0 852.6 999.5 852.6 1000.0 852.6 1000.5 852.6 1001.0 852.6 1001.5 852.6 1002.0 852.6 1002.5 852.6 1003.0 852.6 1003.5 852.6 1004.0 852.6 1004.5 852.6 1005.0 852.6 1005.5 852.6 1006.0 852.6 1006.5 852.6 1007.0 852.6 1007.5 852.6 1008.0 852.6 1008.5 852.6 1009.0 852.6 1009.5 852.6 1010.0 852.6 1010.5 852.6 1011.0 852.6 1011.5 852.6 1012.0 852.6 1012.5 852.6 1013.0 852.5 1013.5 852.5 1014.0 852.5 1014.5 852.5 1015.0 852.5 1015.5 852.5 1016.0 852.5 1016.5 852.5 1017.0 852.5 1017.5 852.5 1018.0 852.5 1018.5 852.5 1019.0 852.5 1019.5 852.5 1020.0 852.5 1020.5 852.5 1021.0 852.5 1021.5 852.5 1022.0 852.5 1022.5 852.5 1023.0 852.5 1023.5 852.5 1024.0 852.5 1024.5 852.5 1025.0 852.5 1025.5 852.4 1026.0 852.4 1026.5 852.4 1027.0 852.4 1027.5 852.4 1028.0 852.4 1028.5 852.4 1029.0 852.4 1029.5 852.4 1030.0 852.4 1030.5 852.4 1031.0 852.4 1031.5 852.4 1032.0 852.4 1032.5 852.4 1033.0 852.3 1033.5 852.3 1034.0 852.3 1034.5 852.3 1035.0 852.3 1035.5 852.3 1036.0 852.3 1036.5 852.3 1037.0 852.3 1037.5 852.3 1038.0 852.3 1038.5 852.2 1039.0 852.2 1039.5 852.2 1040.0 852.2 1040.5 852.2 1041.0 852.2 1041.5 852.2 1042.0 852.2 1042.5 852.2 1043.0 852.2 1043.5 852.1 1044.0 852.1 1044.5 852.1 1045.0 852.1 1045.5 852.1 1046.0 852.1 1046.5 852.1 1047.0 852.1 1047.5 852.0 1048.0 852.0 1048.5 852.0 1049.0 852.0" stroke="#dc2428" stroke-width="1.4" fill="none" stroke-linejoin="round"/>
<path d="M589.0 852.0 589.5 852.0 590.0 852.0 590.5 852.0 591.0 852.0 591.5 852.0 592.0 852.0 592.5 852.0 593.0 852.0 593.5 852.0 594.0 852.0 594.5 852.0 595.0 852.0 595.5 852.0 596.0 852.0 596.5 852.0 597.0 852.0 597.5 852.0 598.0 852.0 598.5 852.0 599.0 852.0 599.5 852.0 600.0 852.0 600.5 852.0 601.0 852.0 601.5 852.0 602.0 852.0 602.5 852.0 603.0 852.0 603.5 852.0 604.0 852.0 604.5 852.0 605.0 852.0 605.5 852.0 606.0 852.0 606.5 852.0 607.0 852.0 607.5 852.0 608.0 852.0 608.5 852.0 609.0 852.0 609.5 852.0 610.0 852.0 610.5 852.0 611.0 852.0 611.5 852.0 612.0 852.0 612.5 852.0 613.0 852.0 613.5 852.0 614.0 852.0 614.5 852.0 615.0 852.0 615.5 852.0 616.0 852.0 616.5 852.0 617.0 852.0 617.5 852.0 618.0 852.0 618.5 852.0 619.0 852.0 619.5 852.0 620.0 852.0 620.5 852.0 621.0 852.0 621.5 852.0 622.0 852.0 622.5 852.0 623.0 852.0 623.5 852.0 624.0 852.0 624.5 852.0 625.0 852.0 625.5 852.0 626.0 851.9 626.5 851.9 627.0 851.9 627.5 851.9 628.0 851.9 628.5 851.9 629.0 851.9 629.5 851.9 630.0 851.9 630.5 851.9 631.0 851.9 631.5 851.9 632.0 851.9 632.5 851.9 633.0 851.9 633.5 851.9 634.0 851.9 634.5 851.9 635.0 851.9 635.5 851.9 636.0 851.9 636.5 851.9 637.0 851.9 637.5 851.9 638.0 851.9 638.5 851.9 639.0 851.9 639.5 851.9 640.0 851.9 640.5 851.9 641.0 851.9 641.5 851.9 642.0 851.9 642.5 851.9 643.0 851.9 643.5 851.9 644.0 851.9 644.5 851.9 645.0 851.9 645.5 851.9 646.0 851.9 646.5 851.9 647.0 851.9 647.5 851.9 648.0 851.9 648.5 851.9 649.0 851.9 649.5 851.9 650.0 851.9 650.5 851.9 651.0 851.9 651.5 851.9 652.0 851.9 652.5 851.9 653.0 851.9 653.5 851.9 654.0 851.9 654.5 851.9 655.0 851.9 655.5 851.9 656.0 851.9 656.5 851.9 657.0 851.9 657.5 851.9 658.0 851.9 658.5 851.9 659.0 851.9 659.5 851.9 660.0 851.9 660.5 851.9 661.0 851.9 661.5 851.9 662.0 851.9 662.5 851.9 663.0 851.9 663.5 851.9 664.0 851.9 664.5 851.9 665.0 851.9 665.5 851.9 666.0 851.9 666.5 851.9 667.0 851.9 667.5 851.9 668.0 851.9 668.5 851.9 669.0 851.9 669.5 851.9 670.0 851.9 670.5 851.9 671.0 851.9 671.5 851.9 672.0 851.9 672.5 851.9 673.0 851.9 673.5 851.9 674.0 851.9 674.5 851.9 675.0 851.9 675.5 851.9 676.0 851.9 676.5 851.9 677.0 851.9 677.5 851.9 678.0 851.8 678.5 851.8 679.0 851.8 679.5 851.8 680.0 851.8 680.5 851.8 681.0 851.8 681.5 851.8 682.0 851.8 682.5 851.8 683.0 851.8 683.5 851.8 684.0 851.8 684.5 851.8 685.0 851.8 685.5 851.8 686.0 851.8 686.5 851.8 687.0 851.8 687.5 851.8 688.0 851.8 688.5 851.8 689.0 851.8 689.5 851.8 690.0 851.8 690.5 851.8 691.0 851.8 691.5 851.8 692.0 851.8 692.5 851.8 693.0 851.8 693.5 851.8 694.0 851.8 694.5 851.8 695.0 851.8 695.5 851.8 696.0 851.8 696.5 851.8 697.0 851.8 697.5 851.8 698.0 851.8 698.5 851.8 699.0 851.8 699.5 851.8 700.0 851.8 700.5 851.8 701.0 851.8 701.5 851.8 702.0 851.8 702.5 851.8 703.0 851.8 703.5 851.8 704.0 851.8 704.5 851.8 705.0 851.8 705.5 851.8 706.0 851.8 706.5 851.8 707.0 851.8 707.5 851.8 708.0 851.8 708.5 851.8 709.0 851.8 709.5 851.8 710.0 851.8 710.5 851.8 711.0 851.8 711.5 851.8 712.0 851.8 712.5 851.8 713.0 851.8 713.5 851.8 714.0 851.8 714.5 851.8 715.0 851.8 715.5 851.8 716.0 851.8 716.5 851.8 717.0 851.8 717.5 851.8 718.0 851.8 718.5 851.8 719.0 851.8 719.5 851.8 720.0 851.8 720.5 851.8 721.0 851.8 721.5 851.7 722.0 851.7 722.5 851.7 723.0 851.7 723.5 851.7 724.0 851.7 724.5 851.7 725.0 851.7 725.5 851.7 726.0 851.7 726.5 851.7 727.0 851.7 727.5 851.7 728.0 851.7 728.5 851.7 729.0 851.7 729.5 851.7 730.0 851.7 730.5 851.7 731.0 851.7 731.5 851.7 732.0 851.7 732.5 851.7 733.0 851.7 733.5 851.7 734.0 851.7 734.5 851.7 735.0 851.7 735.5 851.7 736.0 851.7 736.5 851.7 737.0 851.7 737.5 851.7 738.0 851.7 738.5 851.7 739.0 851.7 739.5 851.7 740.0 851.7 740.5 851.7 741.0 851.7 741.5 851.7 742.0 851.7 742.5 851.7 743.0 851.7 743.5 851.7 744.0 851.7 744.5 851.7 745.0 851.7 745.5 851.7 746.0 851.7 746.5 851.7 747.0 851.7 747.5 851.7 748.0 851.7 748.5 851.7 749.0 851.7 749.5 851.7 750.0 851.7 750.5 851.7 751.0 851.7 751.5 851.7 752.0 851.7 752.5 851.7 753.0 851.7 753.5 851.7 754.0 851.7 754.5 851.7 755.0 851.7 755.5 851.7 756.0 851.7 756.5 851.7 757.0 851.7 757.5 851.7 758.0 851.7 758.5 851.7 759.0 851.6 759.5 851.6 760.0 851.6 760.5 851.6 761.0 851.6 761.5 851.6 762.0 851.6 762.5 851.6 763.0 851.6 763.5 851.6 764.0 851.6 764.5 851.6 765.0 851.6 765.5 851.6 766.0 851.6 766.5 851.6 767.0 851.6 767.5 851.6 768.0 851.6 768.5 851.6 769.0 851.6 769.5 851.6 770.0 851.6 770.5 851.6 771.0 851.6 771.5 851.6 772.0 851.6 772.5 851.6 773.0 851.6 773.5 851.6 774.0 851.6 774.5 851.6 775.0 851.6 775.5 851.6 776.0 851.6 776.5 851.6 777.0 851.6 777.5 851.6 778.0 851.6 778.5 851.6 779.0 851.6 779.5 851.6 780.0 851.6 780.5 851.6 781.0 851.6 781.5 851.6 782.0 851.6 782.5 851.6 783.0 851.6 783.5 851.6 784.0 851.6 784.5 851.6 785.0 851.6 785.5 851.6 786.0 851.6 786.5 851.6 787.0 851.6 787.5 851.6 788.0 851.5 788.5 851.5 789.0 851.5 789.5 851.5 790.0 851.5 790.5 851.5 791.0 851.5 791.5 851.5 792.0 851.5 792.5 851.5 793.0 851.5 793.5 851.5 794.0 851.5 794.5 851.5 795.0 851.5 795.5 851.5 796.0 851.5 796.5 851.5 797.0 851.5 797.5 851.5 798.0 851.5 798.5 851.5 799.0 851.5 799.5 851.5 800.0 851.5 800.5 851.5 801.0 851.5 801.5 851.5 802.0 851.5 802.5 851.5 803.0 851.5 803.5 851.5 804.0 851.5 804.5 851.5 805.0 851.5 805.5 851.5 806.0 851.5 806.5 851.5 807.0 851.5 807.5 851.5 808.0 851.5 808.5 851.5 809.0 851.5 809.5 851.5 810.0 851.5 810.5 851.4 811.0 851.4 811.5 851.4 812.0 851.4 812.5 851.4 813.0 851.4 813.5 851.4 814.0 851.4 814.5 851.4 815.0 851.4 815.5 851.4 816.0 851.4 816.5 851.4 817.0 851.4 817.5 851.4 818.0 851.4 818.5 851.4 819.0 851.4 819.5 851.4 820.0 851.4 820.5 851.4 821.0 851.4 821.5 851.4 822.0 851.4 822.5 851.4 823.0 851.4 823.5 851.4 824.0 851.4 824.5 851.4 825.0 851.4 825.5 851.4 826.0 851.4 826.5 851.4 827.0 851.4 827.5 851.4 828.0 851.4 828.5 851.4 829.0 851.4 829.5 851.3 830.0 851.3 830.5 851.3 831.0 851.3 831.5 851.3 832.0 851.3 832.5 851.3 833.0 851.3 833.5 851.3 834.0 851.3 834.5 851.3 835.0 851.3 835.5 851.3 836.0 851.3 836.5 851.3 837.0 851.3 837.5 851.3 838.0 851.3 838.5 851.3 839.0 851.3 839.5 851.2 840.0 851.2 840.5 851.2 841.0 851.2 841.5 851.2 842.0 851.2 842.5 851.2 843.0 851.2 843.5 851.1 844.0 851.1 844.5 851.0 845.0 850.9 845.5 850.9 846.0 850.8 846.5 850.7 847.0 850.6 847.5 850.5 848.0 850.5 848.5 850.4 849.0 850.4 849.5 850.3 850.0 850.3 850.5 850.3 851.0 850.3 851.5 850.3 852.0 850.2 852.5 850.2 853.0 850.2 853.5 850.2 854.0 850.2 854.5 850.2 855.0 850.2 855.5 850.2 856.0 850.2 856.5 850.3 857.0 850.3 857.5 850.4 858.0 850.6 858.5 850.8 859.0 851.0 859.5 851.2 860.0 851.4 860.5 851.6 861.0 851.9 861.5 852.1 862.0 852.3 862.5 852.6 863.0 852.8 863.5 853.0 864.0 853.2 864.5 853.4 865.0 853.5 865.5 853.7 866.0 853.8 866.5 854.0 867.0 854.2 867.5 854.3 868.0 854.5 868.5 854.6 869.0 854.8 869.5 854.9 870.0 855.0 870.5 855.1 871.0 855.2 871.5 855.3 872.0 855.3 872.5 855.3 873.0 855.2 873.5 855.0 874.0 854.7 874.5 854.3 875.0 853.8 875.5 853.2 876.0 852.6 876.5 852.0 877.0 851.3 877.5 850.6 878.0 849.8 878.5 849.1 879.0 848.2 879.5 847.1 880.0 845.7 880.5 844.2 881.0 842.6 881.5 841.0 882.0 839.5 882.5 838.0 883.0 836.6 883.5 835.5 884.0 834.5 884.5 833.4 885.0 832.3 885.5 831.2 886.0 830.2 886.5 829.2 887.0 828.2 887.5 827.4 888.0 826.7 888.5 826.2 889.0 825.8 889.5 825.6 890.0 825.6 890.5 825.9 891.0 826.3 891.5 826.9 892.0 827.7 892.5 828.6 893.0 829.5 893.5 830.6 894.0 831.7 894.5 832.8 895.0 834.0 895.5 835.6 896.0 837.6 896.5 839.7 897.0 842.1 897.5 844.5 898.0 847.0 898.5 849.4 899.0 851.6 899.5 853.7 900.0 855.7 900.5 857.7 901.0 859.8 901.5 861.8 902.0 863.8 902.5 865.5 903.0 867.1 903.5 868.3 904.0 869.1 904.5 869.9 905.0 870.5 905.5 871.1 906.0 871.6 906.5 871.9 907.0 872.0 907.5 871.9 908.0 871.6 908.5 871.1 909.0 870.4 909.5 869.6 910.0 868.8 910.5 867.9 911.0 867.0 911.5 866.1 912.0 865.2 912.5 864.3 913.0 863.2 913.5 862.0 914.0 860.7 914.5 859.4 915.0 858.0 915.5 856.7 916.0 855.4 916.5 854.3 917.0 853.2 917.5 852.4 918.0 851.7 918.5 851.2 919.0 850.7 919.5 850.3 920.0 849.8 920.5 849.4 921.0 849.0 921.5 848.6 922.0 848.3 922.5 848.0 923.0 847.8 923.5 847.6 924.0 847.4 924.5 847.3 925.0 847.3 925.5 847.3 926.0 847.4 926.5 847.6 927.0 847.8 927.5 848.0 928.0 848.3 928.5 848.6 929.0 848.9 929.5 849.2 930.0 849.5 930.5 849.8 931.0 850.0 931.5 850.3 932.0 850.5 932.5 850.7 933.0 850.9 933.5 851.1 934.0 851.4 934.5 851.6 935.0 851.8 935.5 852.0 936.0 852.3 936.5 852.5 937.0 852.7 937.5 852.9 938.0 853.1 938.5 853.2 939.0 853.4 939.5 853.5 940.0 853.6 940.5 853.7 941.0 853.8 941.5 853.8 942.0 853.8 942.5 853.8 943.0 853.8 943.5 853.8 944.0 853.7 944.5 853.7 945.0 853.7 945.5 853.7 946.0 853.6 946.5 853.6 947.0 853.6 947.5 853.5 948.0 853.5 948.5 853.4 949.0 853.4 949.5 853.3 950.0 853.3 950.5 853.2 951.0 853.2 951.5 853.1 952.0 853.1 952.5 853.0 953.0 853.0 953.5 852.9 954.0 852.9 954.5 852.9 955.0 852.8 955.5 852.7 956.0 852.7 956.5 852.6 957.0 852.6 957.5 852.5 958.0 852.4 958.5 852.4 959.0 852.3 959.5 852.2 960.0 852.1 960.5 852.1 961.0 852.0 961.5 851.9 962.0 851.9 962.5 851.8 963.0 851.8 963.5 851.7 964.0 851.7 964.5 851.7 965.0 851.6 965.5 851.6 966.0 851.6 966.5 851.6 967.0 851.6 967.5 851.6 968.0 851.6 968.5 851.6 969.0 851.6 969.5 851.7 970.0 851.7 970.5 851.7 971.0 851.7 971.5 851.7 972.0 851.8 972.5 851.8 973.0 851.8 973.5 851.9 974.0 851.9 974.5 851.9 975.0 852.0 975.5 852.0 976.0 852.0 976.5 852.1 977.0 852.1 977.5 852.1 978.0 852.1 978.5 852.2 979.0 852.2 979.5 852.2 980.0 852.3 980.5 852.3 981.0 852.3 981.5 852.3 982.0 852.3 982.5 852.4 983.0 852.4 983.5 852.4 984.0 852.4 984.5 852.4 985.0 852.4 985.5 852.4 986.0 852.4 986.5 852.4 987.0 852.4 987.5 852.4 988.0 852.4 988.5 852.4 989.0 852.4 989.5 852.4 990.0 852.4 990.5 852.4 991.0 852.4 991.5 852.4 992.0 852.4 992.5 852.4 993.0 852.4 993.5 852.4 994.0 852.4 994.5 852.4 995.0 852.4 995.5 852.4 996.0 852.4 996.5 852.4 997.0 852.4 997.5 852.4 998.0 852.4 998.5 852.4 999.0 852.4 999.5 852.4 1000.0 852.4 1000.5 852.4 1001.0 852.4 1001.5 852.4 1002.0 852.4 1002.5 852.4 1003.0 852.4 1003.5 852.4 1004.0 852.4 1004.5 852.4 1005.0 852.4 1005.5 852.4 1006.0 852.4 1006.5 852.4 1007.0 852.4 1007.5 852.4 1008.0 852.4 1008.5 852.4 1009.0 852.4 1009.5 852.4 1010.0 852.4 1010.5 852.4 1011.0 852.4 1011.5 852.4 1012.0 852.4 1012.5 852.4 1013.0 852.4 1013.5 852.4 1014.0 852.4 1014.5 852.4 1015.0 852.4 1015.5 852.4 1016.0 852.4 1016.5 852.4 1017.0 852.4 1017.5 852.3 1018.0 852.3 1018.5 852.3 1019.0 852.3 1019.5 852.3 1020.0 852.3 1020.5 852.3 1021.0 852.3 1021.5 852.3 1022.0 852.3 1022.5 852.3 1023.0 852.3 1023.5 852.3 1024.0 852.3 1024.5 852.3 1025.0 852.3 1025.5 852.3 1026.0 852.3 1026.5 852.3 1027.0 852.3 1027.5 852.3 1028.0 852.3 1028.5 852.3 1029.0 852.3 1029.5 852.3 1030.0 852.3 1030.5 852.3 1031.0 852.3 1031.5 852.2 1032.0 852.2 1032.5 852.2 1033.0 852.2 1033.5 852.2 1034.0 852.2 1034.5 852.2 1035.0 852.2 1035.5 852.2 1036.0 852.2 1036.5 852.2 1037.0 852.2 1037.5 852.2 1038.0 852.2 1038.5 852.2 1039.0 852.2 1039.5 852.2 1040.0 852.1 1040.5 852.1 1041.0 852.1 1041.5 852.1 1042.0 852.1 1042.5 852.1 1043.0 852.1 1043.5 852.1 1044.0 852.1 1044.5 852.1 1045.0 852.1 1045.5 852.1 1046.0 852.1 1046.5 852.0 1047.0 852.0 1047.5 852.0 1048.0 852.0 1048.5 852.0 1049.0 852.0" stroke="#2828b8" stroke-width="1.4" fill="none" stroke-linejoin="round" stroke-dasharray="8.8 4.1"/>
<path d="M589.0 853.3 589.5 853.3 590.0 853.3 590.5 853.3 591.0 853.3 591.5 853.3 592.0 853.3 592.5 853.3 593.0 853.3 593.5 853.3 594.0 853.3 594.5 853.4 595.0 853.4 595.5 853.4 596.0 853.4 596.5 853.4 597.0 853.4 597.5 853.4 598.0 853.4 598.5 853.4 599.0 853.4 599.5 853.4 600.0 853.4 600.5 853.4 601.0 853.5 601.5 853.5 602.0 853.5 602.5 853.5 603.0 853.5 603.5 853.5 604.0 853.5 604.5 853.5 605.0 853.5 605.5 853.5 606.0 853.6 606.5 853.6 607.0 853.6 607.5 853.6 608.0 853.6 608.5 853.6 609.0 853.6 609.5 853.6 610.0 853.7 610.5 853.7 611.0 853.7 611.5 853.7 612.0 853.7 612.5 853.7 613.0 853.7 613.5 853.7 614.0 853.8 614.5 853.8 615.0 853.8 615.5 853.8 616.0 853.8 616.5 853.8 617.0 853.8 617.5 853.9 618.0 853.9 618.5 853.9 619.0 853.9 619.5 853.9 620.0 853.9 620.5 853.9 621.0 854.0 621.5 854.0 622.0 854.0 622.5 854.0 623.0 854.0 623.5 854.0 624.0 854.1 624.5 854.1 625.0 854.1 625.5 854.1 626.0 854.1 626.5 854.1 627.0 854.2 627.5 854.2 628.0 854.2 628.5 854.2 629.0 854.2 629.5 854.2 630.0 854.3 630.5 854.3 631.0 854.3 631.5 854.3 632.0 854.3 632.5 854.3 633.0 854.4 633.5 854.4 634.0 854.4 634.5 854.4 635.0 854.4 635.5 854.5 636.0 854.5 636.5 854.5 637.0 854.5 637.5 854.5 638.0 854.5 638.5 854.6 639.0 854.6 639.5 854.6 640.0 854.6 640.5 854.6 641.0 854.7 641.5 854.7 642.0 854.7 642.5 854.7 643.0 854.7 643.5 854.7 644.0 854.8 644.5 854.8 645.0 854.8 645.5 854.8 646.0 854.8 646.5 854.9 647.0 854.9 647.5 854.9 648.0 854.9 648.5 855.0 649.0 855.0 649.5 855.0 650.0 855.0 650.5 855.1 651.0 855.1 651.5 855.1 652.0 855.1 652.5 855.2 653.0 855.2 653.5 855.2 654.0 855.2 654.5 855.3 655.0 855.3 655.5 855.3 656.0 855.3 656.5 855.4 657.0 855.4 657.5 855.4 658.0 855.5 658.5 855.5 659.0 855.5 659.5 855.5 660.0 855.6 660.5 855.6 661.0 855.6 661.5 855.7 662.0 855.7 662.5 855.7 663.0 855.8 663.5 855.8 664.0 855.8 664.5 855.9 665.0 855.9 665.5 855.9 666.0 856.0 666.5 856.0 667.0 856.0 667.5 856.1 668.0 856.1 668.5 856.1 669.0 856.2 669.5 856.2 670.0 856.2 670.5 856.3 671.0 856.3 671.5 856.3 672.0 856.4 672.5 856.4 673.0 856.4 673.5 856.5 674.0 856.5 674.5 856.5 675.0 856.6 675.5 856.6 676.0 856.6 676.5 856.7 677.0 856.7 677.5 856.8 678.0 856.8 678.5 856.8 679.0 856.9 679.5 856.9 680.0 856.9 680.5 857.0 681.0 857.0 681.5 857.0 682.0 857.1 682.5 857.1 683.0 857.2 683.5 857.2 684.0 857.2 684.5 857.3 685.0 857.3 685.5 857.3 686.0 857.4 686.5 857.4 687.0 857.5 687.5 857.5 688.0 857.5 688.5 857.6 689.0 857.6 689.5 857.6 690.0 857.7 690.5 857.7 691.0 857.8 691.5 857.8 692.0 857.8 692.5 857.9 693.0 857.9 693.5 857.9 694.0 858.0 694.5 858.0 695.0 858.0 695.5 858.1 696.0 858.1 696.5 858.2 697.0 858.2 697.5 858.2 698.0 858.3 698.5 858.3 699.0 858.3 699.5 858.4 700.0 858.4 700.5 858.5 701.0 858.5 701.5 858.5 702.0 858.6 702.5 858.6 703.0 858.6 703.5 858.7 704.0 858.7 704.5 858.8 705.0 858.8 705.5 858.8 706.0 858.9 706.5 858.9 707.0 859.0 707.5 859.0 708.0 859.0 708.5 859.1 709.0 859.1 709.5 859.2 710.0 859.2 710.5 859.2 711.0 859.3 711.5 859.3 712.0 859.4 712.5 859.4 713.0 859.4 713.5 859.5 714.0 859.5 714.5 859.6 715.0 859.6 715.5 859.6 716.0 859.7 716.5 859.7 717.0 859.8 717.5 859.8 718.0 859.8 718.5 859.9 719.0 859.9 719.5 860.0 720.0 860.0 720.5 860.1 721.0 860.1 721.5 860.1 722.0 860.2 722.5 860.2 723.0 860.3 723.5 860.3 724.0 860.4 724.5 860.4 725.0 860.4 725.5 860.5 726.0 860.5 726.5 860.6 727.0 860.6 727.5 860.7 728.0 860.7 728.5 860.8 729.0 860.8 729.5 860.8 730.0 860.9 730.5 860.9 731.0 861.0 731.5 861.0 732.0 861.1 732.5 861.1 733.0 861.2 733.5 861.2 734.0 861.3 734.5 861.3 735.0 861.3 735.5 861.4 736.0 861.4 736.5 861.5 737.0 861.5 737.5 861.6 738.0 861.6 738.5 861.7 739.0 861.7 739.5 861.8 740.0 861.8 740.5 861.9 741.0 861.9 741.5 862.0 742.0 862.0 742.5 862.1 743.0 862.1 743.5 862.2 744.0 862.2 744.5 862.3 745.0 862.3 745.5 862.3 746.0 862.4 746.5 862.4 747.0 862.5 747.5 862.5 748.0 862.6 748.5 862.6 749.0 862.7 749.5 862.8 750.0 862.8 750.5 862.9 751.0 862.9 751.5 863.0 752.0 863.0 752.5 863.1 753.0 863.1 753.5 863.2 754.0 863.2 754.5 863.3 755.0 863.3 755.5 863.4 756.0 863.4 756.5 863.5 757.0 863.5 757.5 863.6 758.0 863.7 758.5 863.7 759.0 863.8 759.5 863.8 760.0 863.9 760.5 863.9 761.0 864.0 761.5 864.1 762.0 864.1 762.5 864.2 763.0 864.2 763.5 864.3 764.0 864.4 764.5 864.4 765.0 864.5 765.5 864.5 766.0 864.6 766.5 864.6 767.0 864.7 767.5 864.8 768.0 864.8 768.5 864.9 769.0 864.9 769.5 865.0 770.0 865.1 770.5 865.1 771.0 865.2 771.5 865.3 772.0 865.3 772.5 865.4 773.0 865.4 773.5 865.5 774.0 865.6 774.5 865.6 775.0 865.7 775.5 865.8 776.0 865.8 776.5 865.9 777.0 865.9 777.5 866.0 778.0 866.1 778.5 866.1 779.0 866.2 779.5 866.3 780.0 866.3 780.5 866.4 781.0 866.5 781.5 866.5 782.0 866.6 782.5 866.7 783.0 866.7 783.5 866.8 784.0 866.8 784.5 866.9 785.0 867.0 785.5 867.0 786.0 867.1 786.5 867.2 787.0 867.2 787.5 867.3 788.0 867.4 788.5 867.4 789.0 867.5 789.5 867.6 790.0 867.6 790.5 867.7 791.0 867.8 791.5 867.8 792.0 867.9 792.5 867.9 793.0 868.0 793.5 868.1 794.0 868.1 794.5 868.2 795.0 868.3 795.5 868.3 796.0 868.4 796.5 868.4 797.0 868.5 797.5 868.5 798.0 868.6 798.5 868.7 799.0 868.7 799.5 868.8 800.0 868.8 800.5 868.9 801.0 869.0 801.5 869.0 802.0 869.1 802.5 869.2 803.0 869.2 803.5 869.3 804.0 869.3 804.5 869.4 805.0 869.5 805.5 869.5 806.0 869.6 806.5 869.7 807.0 869.7 807.5 869.8 808.0 869.9 808.5 869.9 809.0 870.0 809.5 870.1 810.0 870.1 810.5 870.2 811.0 870.3 811.5 870.3 812.0 870.4 812.5 870.5 813.0 870.6 813.5 870.6 814.0 870.7 814.5 870.8 815.0 870.9 815.5 871.0 816.0 871.0 816.5 871.1 817.0 871.2 817.5 871.3 818.0 871.4 818.5 871.5 819.0 871.6 819.5 871.7 820.0 871.8 820.5 871.8 821.0 871.9 821.5 872.0 822.0 872.1 822.5 872.2 823.0 872.4 823.5 872.5 824.0 872.6 824.5 872.7 825.0 872.8 825.5 873.0 826.0 873.1 826.5 873.3 827.0 873.4 827.5 873.6 828.0 873.7 828.5 873.9 829.0 874.1 829.5 874.3 830.0 874.5 830.5 874.6 831.0 874.8 831.5 875.0 832.0 875.2 832.5 875.4 833.0 875.6 833.5 875.7 834.0 875.9 834.5 876.1 835.0 876.2 835.5 876.4 836.0 876.6 836.5 876.8 837.0 877.1 837.5 877.3 838.0 877.5 838.5 877.7 839.0 877.9 839.5 878.1 840.0 878.3 840.5 878.5 841.0 878.7 841.5 878.9 842.0 879.0 842.5 879.2 843.0 879.3 843.5 879.4 844.0 879.4 844.5 879.5 845.0 879.5 845.5 879.5 846.0 879.4 846.5 879.3 847.0 879.1 847.5 878.9 848.0 878.7 848.5 878.4 849.0 878.1 849.5 877.8 850.0 877.5 850.5 877.1 851.0 876.8 851.5 876.4 852.0 876.0 852.5 875.6 853.0 875.3 853.5 874.9 854.0 874.6 854.5 874.2 855.0 873.9 855.5 873.6 856.0 873.2 856.5 872.7 857.0 872.3 857.5 871.9 858.0 871.5 858.5 871.1 859.0 870.8 859.5 870.7 860.0 870.6 860.5 870.7 861.0 870.9 861.5 871.3 862.0 871.9 862.5 872.5 863.0 873.2 863.5 874.0 864.0 874.8 864.5 875.7 865.0 876.6 865.5 877.7 866.0 879.0 866.5 880.5 867.0 882.2 867.5 884.0 868.0 886.0 868.5 888.0 869.0 890.0 869.5 892.1 870.0 894.1 870.5 896.3 871.0 898.6 871.5 901.1 872.0 903.7 872.5 906.3 873.0 908.9 873.5 911.4 874.0 913.8 874.5 916.0 875.0 918.0 875.5 920.2 876.0 922.5 876.5 924.6 877.0 926.4 877.5 927.5 878.0 927.8 878.5 927.3 879.0 926.2 879.5 924.6 880.0 922.5 880.5 920.0 881.0 917.2 881.5 912.4 882.0 904.7 882.5 894.8 883.0 883.9 883.5 872.7 884.0 859.9 884.5 845.1 885.0 830.7 885.5 818.7 886.0 809.2 886.5 800.2 887.0 789.9 887.5 776.8 888.0 761.2 888.5 745.2 889.0 729.6 889.5 713.9 890.0 699.3 890.5 686.4 891.0 674.5 891.5 663.4 892.0 653.0 892.5 643.1 893.0 633.5 893.5 624.5 894.0 616.0 894.5 608.3 895.0 601.2 895.5 593.8 896.0 586.4 896.5 579.9 897.0 575.0 897.5 572.4 898.0 572.4 898.5 574.2 899.0 577.3 899.5 581.5 900.0 586.7 900.5 592.6 901.0 598.9 901.5 605.5 902.0 614.1 902.5 625.6 903.0 638.4 903.5 651.0 904.0 663.3 904.5 676.1 905.0 689.0 905.5 701.6 906.0 714.2 906.5 726.7 907.0 739.5 907.5 752.6 908.0 766.0 908.5 779.5 909.0 793.1 909.5 807.4 910.0 820.7 910.5 832.1 911.0 842.5 911.5 851.9 912.0 860.3 912.5 868.2 913.0 875.8 913.5 882.6 914.0 888.1 914.5 891.8 915.0 894.7 915.5 897.4 916.0 899.6 916.5 901.4 917.0 902.6 917.5 903.0 918.0 902.6 918.5 901.6 919.0 900.2 919.5 898.3 920.0 896.3 920.5 894.1 921.0 891.7 921.5 888.6 922.0 884.9 922.5 880.9 923.0 876.7 923.5 872.6 924.0 868.7 924.5 865.1 925.0 861.6 925.5 858.1 926.0 854.8 926.5 851.7 927.0 849.0 927.5 846.6 928.0 844.3 928.5 842.1 929.0 840.3 929.5 838.8 930.0 837.7 930.5 836.6 931.0 835.7 931.5 835.0 932.0 834.6 932.5 834.3 933.0 834.1 933.5 833.9 934.0 833.8 934.5 833.7 935.0 833.7 935.5 833.9 936.0 834.2 936.5 834.8 937.0 835.4 937.5 836.2 938.0 837.1 938.5 838.1 939.0 839.0 939.5 840.0 940.0 841.0 940.5 841.9 941.0 842.9 941.5 844.1 942.0 845.3 942.5 846.7 943.0 848.0 943.5 849.3 944.0 850.5 944.5 851.5 945.0 852.4 945.5 853.0 946.0 853.5 946.5 854.1 947.0 854.6 947.5 855.1 948.0 855.5 948.5 855.9 949.0 856.3 949.5 856.7 950.0 857.0 950.5 857.2 951.0 857.4 951.5 857.5 952.0 857.6 952.5 857.6 953.0 857.5 953.5 857.5 954.0 857.4 954.5 857.2 955.0 857.1 955.5 856.9 956.0 856.7 956.5 856.5 957.0 856.3 957.5 856.1 958.0 855.9 958.5 855.7 959.0 855.4 959.5 855.0 960.0 854.7 960.5 854.3 961.0 853.9 961.5 853.6 962.0 853.2 962.5 852.9 963.0 852.6 963.5 852.4 964.0 852.2 964.5 852.1 965.0 851.9 965.5 851.8 966.0 851.7 966.5 851.6 967.0 851.5 967.5 851.4 968.0 851.3 968.5 851.2 969.0 851.2 969.5 851.1 970.0 851.1 970.5 851.0 971.0 851.0 971.5 851.0 972.0 851.0 972.5 851.0 973.0 851.1 973.5 851.1 974.0 851.2 974.5 851.2 975.0 851.3 975.5 851.3 976.0 851.4 976.5 851.5 977.0 851.6 977.5 851.7 978.0 851.8 978.5 851.9 979.0 851.9 979.5 852.0 980.0 852.1 980.5 852.2 981.0 852.3 981.5 852.3 982.0 852.4 982.5 852.5 983.0 852.5 983.5 852.5 984.0 852.6 984.5 852.6 985.0 852.6 985.5 852.6 986.0 852.6 986.5 852.6 987.0 852.6 987.5 852.6 988.0 852.6 988.5 852.6 989.0 852.6 989.5 852.6 990.0 852.6 990.5 852.6 991.0 852.6 991.5 852.6 992.0 852.6 992.5 852.6 993.0 852.6 993.5 852.6 994.0 852.6 994.5 852.6 995.0 852.6 995.5 852.6 996.0 852.6 996.5 852.6 997.0 852.6 997.5 852.6 998.0 852.6 998.5 852.6 999.0 852.6 999.5 852.6 1000.0 852.6 1000.5 852.6 1001.0 852.6 1001.5 852.6 1002.0 852.6 1002.5 852.6 1003.0 852.6 1003.5 852.6 1004.0 852.6 1004.5 852.6 1005.0 852.6 1005.5 852.6 1006.0 852.6 1006.5 852.6 1007.0 852.6 1007.5 852.6 1008.0 852.6 1008.5 852.6 1009.0 852.6 1009.5 852.6 1010.0 852.6 1010.5 852.6 1011.0 852.6 1011.5 852.6 1012.0 852.6 1012.5 852.6 1013.0 852.5 1013.5 852.5 1014.0 852.5 1014.5 852.5 1015.0 852.5 1015.5 852.5 1016.0 852.5 1016.5 852.5 1017.0 852.5 1017.5 852.5 1018.0 852.5 1018.5 852.5 1019.0 852.5 1019.5 852.5 1020.0 852.5 1020.5 852.5 1021.0 852.5 1021.5 852.5 1022.0 852.5 1022.5 852.5 1023.0 852.5 1023.5 852.5 1024.0 852.5 1024.5 852.5 1025.0 852.5 1025.5 852.4 1026.0 852.4 1026.5 852.4 1027.0 852.4 1027.5 852.4 1028.0 852.4 1028.5 852.4 1029.0 852.4 1029.5 852.4 1030.0 852.4 1030.5 852.4 1031.0 852.4 1031.5 852.4 1032.0 852.4 1032.5 852.4 1033.0 852.3 1033.5 852.3 1034.0 852.3 1034.5 852.3 1035.0 852.3 1035.5 852.3 1036.0 852.3 1036.5 852.3 1037.0 852.3 1037.5 852.3 1038.0 852.3 1038.5 852.2 1039.0 852.2 1039.5 852.2 1040.0 852.2 1040.5 852.2 1041.0 852.2 1041.5 852.2 1042.0 852.2 1042.5 852.2 1043.0 852.2 1043.5 852.1 1044.0 852.1 1044.5 852.1 1045.0 852.1 1045.5 852.1 1046.0 852.1 1046.5 852.1 1047.0 852.1 1047.5 852.0 1048.0 852.0 1048.5 852.0 1049.0 852.0" stroke="#237623" stroke-width="1.4" fill="none" stroke-linejoin="round" stroke-dasharray="4.7 6"/>
<path d="M589.0 852.0 589.5 852.0 590.0 852.0 590.5 852.0 591.0 852.0 591.5 852.0 592.0 852.0 592.5 852.0 593.0 852.0 593.5 852.0 594.0 852.0 594.5 852.0 595.0 852.0 595.5 852.0 596.0 852.0 596.5 852.0 597.0 852.0 597.5 852.0 598.0 852.0 598.5 852.0 599.0 852.0 599.5 852.0 600.0 852.0 600.5 852.0 601.0 852.0 601.5 852.0 602.0 852.0 602.5 852.0 603.0 852.0 603.5 852.0 604.0 852.0 604.5 852.0 605.0 852.0 605.5 852.0 606.0 852.0 606.5 852.0 607.0 852.0 607.5 852.0 608.0 852.0 608.5 852.0 609.0 852.0 609.5 852.0 610.0 852.0 610.5 852.0 611.0 852.0 611.5 852.0 612.0 852.0 612.5 852.0 613.0 852.0 613.5 852.0 614.0 852.0 614.5 852.0 615.0 852.0 615.5 852.0 616.0 852.0 616.5 852.0 617.0 852.0 617.5 852.0 618.0 852.0 618.5 852.0 619.0 852.0 619.5 852.0 620.0 852.0 620.5 852.0 621.0 852.0 621.5 852.0 622.0 852.0 622.5 852.0 623.0 852.0 623.5 852.0 624.0 852.0 624.5 852.0 625.0 852.0 625.5 852.0 626.0 851.9 626.5 851.9 627.0 851.9 627.5 851.9 628.0 851.9 628.5 851.9 629.0 851.9 629.5 851.9 630.0 851.9 630.5 851.9 631.0 851.9 631.5 851.9 632.0 851.9 632.5 851.9 633.0 851.9 633.5 851.9 634.0 851.9 634.5 851.9 635.0 851.9 635.5 851.9 636.0 851.9 636.5 851.9 637.0 851.9 637.5 851.9 638.0 851.9 638.5 851.9 639.0 851.9 639.5 851.9 640.0 851.9 640.5 851.9 641.0 851.9 641.5 851.9 642.0 851.9 642.5 851.9 643.0 851.9 643.5 851.9 644.0 851.9 644.5 851.9 645.0 851.9 645.5 851.9 646.0 851.9 646.5 851.9 647.0 851.9 647.5 851.9 648.0 851.9 648.5 851.9 649.0 851.9 649.5 851.9 650.0 851.9 650.5 851.9 651.0 851.9 651.5 851.9 652.0 851.9 652.5 851.9 653.0 851.9 653.5 851.9 654.0 851.9 654.5 851.9 655.0 851.9 655.5 851.9 656.0 851.9 656.5 851.9 657.0 851.9 657.5 851.9 658.0 851.9 658.5 851.9 659.0 851.9 659.5 851.9 660.0 851.9 660.5 851.9 661.0 851.9 661.5 851.9 662.0 851.9 662.5 851.9 663.0 851.9 663.5 851.9 664.0 851.9 664.5 851.9 665.0 851.9 665.5 851.9 666.0 851.9 666.5 851.9 667.0 851.9 667.5 851.9 668.0 851.9 668.5 851.9 669.0 851.9 669.5 851.9 670.0 851.9 670.5 851.9 671.0 851.9 671.5 851.9 672.0 851.9 672.5 851.9 673.0 851.9 673.5 851.9 674.0 851.9 674.5 851.9 675.0 851.9 675.5 851.9 676.0 851.9 676.5 851.9 677.0 851.9 677.5 851.9 678.0 851.8 678.5 851.8 679.0 851.8 679.5 851.8 680.0 851.8 680.5 851.8 681.0 851.8 681.5 851.8 682.0 851.8 682.5 851.8 683.0 851.8 683.5 851.8 684.0 851.8 684.5 851.8 685.0 851.8 685.5 851.8 686.0 851.8 686.5 851.8 687.0 851.8 687.5 851.8 688.0 851.8 688.5 851.8 689.0 851.8 689.5 851.8 690.0 851.8 690.5 851.8 691.0 851.8 691.5 851.8 692.0 851.8 692.5 851.8 693.0 851.8 693.5 851.8 694.0 851.8 694.5 851.8 695.0 851.8 695.5 851.8 696.0 851.8 696.5 851.8 697.0 851.8 697.5 851.8 698.0 851.8 698.5 851.8 699.0 851.8 699.5 851.8 700.0 851.8 700.5 851.8 701.0 851.8 701.5 851.8 702.0 851.8 702.5 851.8 703.0 851.8 703.5 851.8 704.0 851.8 704.5 851.8 705.0 851.8 705.5 851.8 706.0 851.8 706.5 851.8 707.0 851.8 707.5 851.8 708.0 851.8 708.5 851.8 709.0 851.8 709.5 851.8 710.0 851.8 710.5 851.8 711.0 851.8 711.5 851.8 712.0 851.8 712.5 851.8 713.0 851.8 713.5 851.8 714.0 851.8 714.5 851.8 715.0 851.8 715.5 851.8 716.0 851.8 716.5 851.8 717.0 851.8 717.5 851.8 718.0 851.8 718.5 851.8 719.0 851.8 719.5 851.8 720.0 851.8 720.5 851.8 721.0 851.8 721.5 851.7 722.0 851.7 722.5 851.7 723.0 851.7 723.5 851.7 724.0 851.7 724.5 851.7 725.0 851.7 725.5 851.7 726.0 851.7 726.5 851.7 727.0 851.7 727.5 851.7 728.0 851.7 728.5 851.7 729.0 851.7 729.5 851.7 730.0 851.7 730.5 851.7 731.0 851.7 731.5 851.7 732.0 851.7 732.5 851.7 733.0 851.7 733.5 851.7 734.0 851.7 734.5 851.7 735.0 851.7 735.5 851.7 736.0 851.7 736.5 851.7 737.0 851.7 737.5 851.7 738.0 851.7 738.5 851.7 739.0 851.7 739.5 851.7 740.0 851.7 740.5 851.7 741.0 851.7 741.5 851.7 742.0 851.7 742.5 851.7 743.0 851.7 743.5 851.7 744.0 851.7 744.5 851.7 745.0 851.7 745.5 851.7 746.0 851.7 746.5 851.7 747.0 851.7 747.5 851.7 748.0 851.7 748.5 851.7 749.0 851.7 749.5 851.7 750.0 851.7 750.5 851.7 751.0 851.7 751.5 851.7 752.0 851.7 752.5 851.7 753.0 851.7 753.5 851.7 754.0 851.7 754.5 851.7 755.0 851.7 755.5 851.7 756.0 851.7 756.5 851.7 757.0 851.7 757.5 851.7 758.0 851.7 758.5 851.7 759.0 851.6 759.5 851.6 760.0 851.6 760.5 851.6 761.0 851.6 761.5 851.6 762.0 851.6 762.5 851.6 763.0 851.6 763.5 851.6 764.0 851.6 764.5 851.6 765.0 851.6 765.5 851.6 766.0 851.6 766.5 851.6 767.0 851.6 767.5 851.6 768.0 851.6 768.5 851.6 769.0 851.6 769.5 851.6 770.0 851.6 770.5 851.6 771.0 851.6 771.5 851.6 772.0 851.6 772.5 851.6 773.0 851.6 773.5 851.6 774.0 851.6 774.5 851.6 775.0 851.6 775.5 851.6 776.0 851.6 776.5 851.6 777.0 851.6 777.5 851.6 778.0 851.6 778.5 851.6 779.0 851.6 779.5 851.6 780.0 851.6 780.5 851.6 781.0 851.6 781.5 851.6 782.0 851.6 782.5 851.6 783.0 851.6 783.5 851.6 784.0 851.6 784.5 851.6 785.0 851.6 785.5 851.6 786.0 851.6 786.5 851.6 787.0 851.6 787.5 851.6 788.0 851.5 788.5 851.5 789.0 851.5 789.5 851.5 790.0 851.5 790.5 851.5 791.0 851.5 791.5 851.5 792.0 851.5 792.5 851.5 793.0 851.5 793.5 851.5 794.0 851.5 794.5 851.5 795.0 851.5 795.5 851.5 796.0 851.5 796.5 851.5 797.0 851.5 797.5 851.5 798.0 851.5 798.5 851.5 799.0 851.5 799.5 851.5 800.0 851.5 800.5 851.5 801.0 851.5 801.5 851.5 802.0 851.5 802.5 851.5 803.0 851.5 803.5 851.5 804.0 851.5 804.5 851.5 805.0 851.5 805.5 851.5 806.0 851.5 806.5 851.5 807.0 851.5 807.5 851.5 808.0 851.5 808.5 851.5 809.0 851.5 809.5 851.5 810.0 851.5 810.5 851.4 811.0 851.4 811.5 851.4 812.0 851.4 812.5 851.4 813.0 851.4 813.5 851.4 814.0 851.4 814.5 851.4 815.0 851.4 815.5 851.4 816.0 851.4 816.5 851.4 817.0 851.4 817.5 851.4 818.0 851.4 818.5 851.4 819.0 851.4 819.5 851.4 820.0 851.4 820.5 851.4 821.0 851.4 821.5 851.4 822.0 851.4 822.5 851.4 823.0 851.4 823.5 851.4 824.0 851.4 824.5 851.4 825.0 851.4 825.5 851.4 826.0 851.4 826.5 851.4 827.0 851.4 827.5 851.4 828.0 851.4 828.5 851.4 829.0 851.4 829.5 851.3 830.0 851.3 830.5 851.3 831.0 851.3 831.5 851.3 832.0 851.3 832.5 851.3 833.0 851.3 833.5 851.3 834.0 851.3 834.5 851.3 835.0 851.3 835.5 851.3 836.0 851.3 836.5 851.3 837.0 851.3 837.5 851.3 838.0 851.3 838.5 851.3 839.0 851.3 839.5 851.2 840.0 851.2 840.5 851.2 841.0 851.2 841.5 851.2 842.0 851.2 842.5 851.2 843.0 851.2 843.5 851.1 844.0 851.1 844.5 851.0 845.0 850.9 845.5 850.9 846.0 850.8 846.5 850.7 847.0 850.6 847.5 850.5 848.0 850.5 848.5 850.4 849.0 850.4 849.5 850.3 850.0 850.3 850.5 850.3 851.0 850.3 851.5 850.3 852.0 850.2 852.5 850.2 853.0 850.2 853.5 850.2 854.0 850.2 854.5 850.2 855.0 850.2 855.5 850.2 856.0 850.2 856.5 850.3 857.0 850.3 857.5 850.4 858.0 850.6 858.5 850.8 859.0 851.0 859.5 851.2 860.0 851.4 860.5 851.6 861.0 851.9 861.5 852.1 862.0 852.3 862.5 852.6 863.0 852.8 863.5 853.0 864.0 853.2 864.5 853.4 865.0 853.5 865.5 853.7 866.0 853.8 866.5 854.0 867.0 854.2 867.5 854.3 868.0 854.5 868.5 854.6 869.0 854.8 869.5 854.9 870.0 855.0 870.5 855.1 871.0 855.2 871.5 855.3 872.0 855.3 872.5 855.3 873.0 855.2 873.5 855.0 874.0 854.7 874.5 854.3 875.0 853.8 875.5 853.2 876.0 852.6 876.5 852.0 877.0 851.3 877.5 850.6 878.0 849.8 878.5 849.1 879.0 848.2 879.5 847.1 880.0 845.7 880.5 844.2 881.0 842.6 881.5 841.0 882.0 839.5 882.5 838.0 883.0 836.6 883.5 835.5 884.0 834.5 884.5 833.4 885.0 832.3 885.5 831.2 886.0 830.2 886.5 829.2 887.0 828.2 887.5 827.4 888.0 826.7 888.5 826.2 889.0 825.8 889.5 825.6 890.0 825.6 890.5 825.9 891.0 826.3 891.5 826.9 892.0 827.7 892.5 828.6 893.0 829.5 893.5 830.6 894.0 831.7 894.5 832.8 895.0 834.0 895.5 835.6 896.0 837.6 896.5 839.7 897.0 842.1 897.5 844.5 898.0 847.0 898.5 849.4 899.0 851.6 899.5 853.7 900.0 855.7 900.5 857.7 901.0 859.8 901.5 861.8 902.0 863.8 902.5 865.5 903.0 867.1 903.5 868.3 904.0 869.1 904.5 869.9 905.0 870.5 905.5 871.1 906.0 871.6 906.5 871.9 907.0 872.0 907.5 871.9 908.0 871.6 908.5 871.1 909.0 870.4 909.5 869.6 910.0 868.8 910.5 867.9 911.0 867.0 911.5 866.1 912.0 865.2 912.5 864.3 913.0 863.2 913.5 862.0 914.0 860.7 914.5 859.4 915.0 858.0 915.5 856.7 916.0 855.4 916.5 854.3 917.0 853.2 917.5 852.4 918.0 851.7 918.5 851.2 919.0 850.7 919.5 850.3 920.0 849.8 920.5 849.4 921.0 849.0 921.5 848.6 922.0 848.3 922.5 848.0 923.0 847.8 923.5 847.6 924.0 847.4 924.5 847.3 925.0 847.3 925.5 847.3 926.0 847.4 926.5 847.6 927.0 847.8 927.5 848.0 928.0 848.3 928.5 848.6 929.0 848.9 929.5 849.2 930.0 849.5 930.5 849.8 931.0 850.0 931.5 850.3 932.0 850.5 932.5 850.7 933.0 850.9 933.5 851.1 934.0 851.4 934.5 851.6 935.0 851.8 935.5 852.0 936.0 852.3 936.5 852.5 937.0 852.7 937.5 852.9 938.0 853.1 938.5 853.2 939.0 853.4 939.5 853.5 940.0 853.6 940.5 853.7 941.0 853.8 941.5 853.8 942.0 853.8 942.5 853.8 943.0 853.8 943.5 853.8 944.0 853.7 944.5 853.7 945.0 853.7 945.5 853.7 946.0 853.6 946.5 853.6 947.0 853.6 947.5 853.5 948.0 853.5 948.5 853.4 949.0 853.4 949.5 853.3 950.0 853.3 950.5 853.2 951.0 853.2 951.5 853.1 952.0 853.1 952.5 853.0 953.0 853.0 953.5 852.9 954.0 852.9 954.5 852.9 955.0 852.8 955.5 852.7 956.0 852.7 956.5 852.6 957.0 852.6 957.5 852.5 958.0 852.4 958.5 852.4 959.0 852.3 959.5 852.2 960.0 852.1 960.5 852.1 961.0 852.0 961.5 851.9 962.0 851.9 962.5 851.8 963.0 851.8 963.5 851.7 964.0 851.7 964.5 851.7 965.0 851.6 965.5 851.6 966.0 851.6 966.5 851.6 967.0 851.6 967.5 851.6 968.0 851.6 968.5 851.6 969.0 851.6 969.5 851.7 970.0 851.7 970.5 851.7 971.0 851.7 971.5 851.7 972.0 851.8 972.5 851.8 973.0 851.8 973.5 851.9 974.0 851.9 974.5 851.9 975.0 852.0 975.5 852.0 976.0 852.0 976.5 852.1 977.0 852.1 977.5 852.1 978.0 852.1 978.5 852.2 979.0 852.2 979.5 852.2 980.0 852.3 980.5 852.3 981.0 852.3 981.5 852.3 982.0 852.3 982.5 852.4 983.0 852.4 983.5 852.4 984.0 852.4 984.5 852.4 985.0 852.4 985.5 852.4 986.0 852.4 986.5 852.4 987.0 852.4 987.5 852.4 988.0 852.4 988.5 852.4 989.0 852.4 989.5 852.4 990.0 852.4 990.5 852.4 991.0 852.4 991.5 852.4 992.0 852.4 992.5 852.4 993.0 852.4 993.5 852.4 994.0 852.4 994.5 852.4 995.0 852.4 995.5 852.4 996.0 852.4 996.5 852.4 997.0 852.4 997.5 852.4 998.0 852.4 998.5 852.4 999.0 852.4 999.5 852.4 1000.0 852.4 1000.5 852.4 1001.0 852.4 1001.5 852.4 1002.0 852.4 1002.5 852.4 1003.0 852.4 1003.5 852.4 1004.0 852.4 1004.5 852.4 1005.0 852.4 1005.5 852.4 1006.0 852.4 1006.5 852.4 1007.0 852.4 1007.5 852.4 1008.0 852.4 1008.5 852.4 1009.0 852.4 1009.5 852.4 1010.0 852.4 1010.5 852.4 1011.0 852.4 1011.5 852.4 1012.0 852.4 1012.5 852.4 1013.0 852.4 1013.5 852.4 1014.0 852.4 1014.5 852.4 1015.0 852.4 1015.5 852.4 1016.0 852.4 1016.5 852.4 1017.0 852.4 1017.5 852.3 1018.0 852.3 1018.5 852.3 1019.0 852.3 1019.5 852.3 1020.0 852.3 1020.5 852.3 1021.0 852.3 1021.5 852.3 1022.0 852.3 1022.5 852.3 1023.0 852.3 1023.5 852.3 1024.0 852.3 1024.5 852.3 1025.0 852.3 1025.5 852.3 1026.0 852.3 1026.5 852.3 1027.0 852.3 1027.5 852.3 1028.0 852.3 1028.5 852.3 1029.0 852.3 1029.5 852.3 1030.0 852.3 1030.5 852.3 1031.0 852.3 1031.5 852.2 1032.0 852.2 1032.5 852.2 1033.0 852.2 1033.5 852.2 1034.0 852.2 1034.5 852.2 1035.0 852.2 1035.5 852.2 1036.0 852.2 1036.5 852.2 1037.0 852.2 1037.5 852.2 1038.0 852.2 1038.5 852.2 1039.0 852.2 1039.5 852.2 1040.0 852.1 1040.5 852.1 1041.0 852.1 1041.5 852.1 1042.0 852.1 1042.5 852.1 1043.0 852.1 1043.5 852.1 1044.0 852.1 1044.5 852.1 1045.0 852.1 1045.5 852.1 1046.0 852.1 1046.5 852.0 1047.0 852.0 1047.5 852.0 1048.0 852.0 1048.5 852.0 1049.0 852.0" stroke="#763a7e" stroke-width="1.4" fill="none" stroke-linejoin="round" stroke-dasharray="2.4 2.96"/>
<path d="M109.0 1337.2 109.5 1337.2 110.0 1337.2 110.5 1337.3 111.0 1337.3 111.5 1337.3 112.0 1337.3 112.5 1337.4 113.0 1337.4 113.5 1337.4 114.0 1337.4 114.5 1337.5 115.0 1337.5 115.5 1337.5 116.0 1337.5 116.5 1337.5 117.0 1337.6 117.5 1337.6 118.0 1337.6 118.5 1337.7 119.0 1337.7 119.5 1337.7 120.0 1337.7 120.5 1337.8 121.0 1337.8 121.5 1337.8 122.0 1337.8 122.5 1337.9 123.0 1337.9 123.5 1337.9 124.0 1337.9 124.5 1338.0 125.0 1338.0 125.5 1338.0 126.0 1338.1 126.5 1338.1 127.0 1338.1 127.5 1338.2 128.0 1338.2 128.5 1338.2 129.0 1338.2 129.5 1338.3 130.0 1338.3 130.5 1338.3 131.0 1338.4 131.5 1338.4 132.0 1338.4 132.5 1338.5 133.0 1338.5 133.5 1338.6 134.0 1338.6 134.5 1338.6 135.0 1338.7 135.5 1338.7 136.0 1338.8 136.5 1338.8 137.0 1338.9 137.5 1338.9 138.0 1339.0 138.5 1339.0 139.0 1339.1 139.5 1339.1 140.0 1339.2 140.5 1339.2 141.0 1339.3 141.5 1339.3 142.0 1339.3 142.5 1339.4 143.0 1339.4 143.5 1339.5 144.0 1339.5 144.5 1339.5 145.0 1339.6 145.5 1339.6 146.0 1339.6 146.5 1339.7 147.0 1339.7 147.5 1339.7 148.0 1339.7 148.5 1339.8 149.0 1339.8 149.5 1339.8 150.0 1339.8 150.5 1339.8 151.0 1339.8 151.5 1339.8 152.0 1339.8 152.5 1339.8 153.0 1339.8 153.5 1339.8 154.0 1339.8 154.5 1339.7 155.0 1339.7 155.5 1339.7 156.0 1339.7 156.5 1339.7 157.0 1339.6 157.5 1339.6 158.0 1339.6 158.5 1339.6 159.0 1339.5 159.5 1339.5 160.0 1339.5 160.5 1339.4 161.0 1339.4 161.5 1339.4 162.0 1339.3 162.5 1339.3 163.0 1339.3 163.5 1339.2 164.0 1339.2 164.5 1339.2 165.0 1339.1 165.5 1339.1 166.0 1339.0 166.6 1339.0 167.1 1339.0 167.6 1338.9 168.1 1338.9 168.6 1338.8 169.1 1338.8 169.6 1338.7 170.1 1338.6 170.6 1338.6 171.1 1338.5 171.6 1338.4 172.1 1338.4 172.6 1338.3 173.1 1338.2 173.6 1338.1 174.1 1338.0 174.6 1337.9 175.1 1337.8 175.6 1337.7 176.1 1337.6 176.6 1337.5 177.1 1337.4 177.6 1337.3 178.1 1337.2 178.6 1337.1 179.1 1337.0 179.6 1336.9 180.1 1336.7 180.6 1336.6 181.1 1336.5 181.6 1336.4 182.1 1336.3 182.6 1336.2 183.1 1336.0 183.6 1335.9 184.1 1335.8 184.6 1335.6 185.1 1335.5 185.6 1335.3 186.1 1335.2 186.6 1335.0 187.1 1334.8 187.6 1334.7 188.1 1334.5 188.6 1334.3 189.1 1334.1 189.6 1334.0 190.1 1333.8 190.6 1333.6 191.1 1333.4 191.6 1333.3 192.1 1333.1 192.6 1332.9 193.1 1332.7 193.6 1332.6 194.1 1332.4 194.6 1332.3 195.1 1332.1 195.6 1332.0 196.1 1331.8 196.6 1331.7 197.1 1331.6 197.6 1331.5 198.1 1331.3 198.6 1331.2 199.1 1331.1 199.6 1331.0 200.1 1330.8 200.6 1330.7 201.1 1330.6 201.6 1330.4 202.1 1330.3 202.6 1330.2 203.1 1330.1 203.6 1329.9 204.1 1329.8 204.6 1329.7 205.1 1329.6 205.6 1329.5 206.1 1329.3 206.6 1329.2 207.1 1329.1 207.6 1329.0 208.1 1329.0 208.6 1328.9 209.1 1328.8 209.6 1328.7 210.1 1328.6 210.6 1328.6 211.1 1328.5 211.6 1328.5 212.1 1328.5 212.6 1328.4 213.1 1328.4 213.6 1328.4 214.1 1328.4 214.6 1328.4 215.1 1328.4 215.6 1328.4 216.1 1328.4 216.6 1328.4 217.1 1328.4 217.6 1328.4 218.1 1328.4 218.6 1328.4 219.1 1328.4 219.6 1328.4 220.1 1328.4 220.6 1328.4 221.1 1328.4 221.6 1328.4 222.1 1328.4 222.6 1328.4 223.1 1328.4 223.6 1328.4 224.1 1328.4 224.6 1328.4 225.1 1328.4 225.6 1328.4 226.1 1328.5 226.6 1328.5 227.1 1328.5 227.6 1328.6 228.1 1328.7 228.6 1328.7 229.1 1328.8 229.6 1328.9 230.1 1329.0 230.6 1329.1 231.1 1329.1 231.6 1329.2 232.1 1329.3 232.6 1329.4 233.1 1329.5 233.6 1329.6 234.1 1329.8 234.6 1329.9 235.1 1330.0 235.6 1330.1 236.1 1330.2 236.6 1330.4 237.1 1330.5 237.6 1330.7 238.1 1330.9 238.6 1331.1 239.1 1331.3 239.6 1331.5 240.1 1331.7 240.6 1331.9 241.1 1332.2 241.6 1332.4 242.1 1332.6 242.6 1332.8 243.1 1333.1 243.6 1333.3 244.1 1333.6 244.6 1333.8 245.1 1334.0 245.6 1334.2 246.1 1334.5 246.6 1334.7 247.1 1335.0 247.6 1335.2 248.1 1335.4 248.6 1335.7 249.1 1335.9 249.6 1336.2 250.1 1336.5 250.6 1336.7 251.1 1337.0 251.6 1337.3 252.1 1337.5 252.6 1337.8 253.1 1338.1 253.6 1338.4 254.1 1338.7 254.6 1339.0 255.1 1339.3 255.6 1339.6 256.1 1339.9 256.6 1340.2 257.1 1340.5 257.6 1340.9 258.1 1341.2 258.6 1341.6 259.1 1341.9 259.6 1342.2 260.1 1342.6 260.6 1343.0 261.1 1343.3 261.6 1343.7 262.1 1344.0 262.6 1344.4 263.1 1344.7 263.6 1345.1 264.1 1345.4 264.6 1345.7 265.1 1346.1 265.6 1346.4 266.1 1346.7 266.6 1347.1 267.1 1347.4 267.6 1347.7 268.1 1348.1 268.6 1348.4 269.1 1348.7 269.6 1349.1 270.1 1349.4 270.6 1349.7 271.1 1350.1 271.6 1350.4 272.1 1350.7 272.6 1351.1 273.1 1351.4 273.6 1351.8 274.1 1352.1 274.6 1352.4 275.1 1352.8 275.6 1353.1 276.1 1353.4 276.6 1353.8 277.1 1354.1 277.6 1354.5 278.1 1354.8 278.6 1355.1 279.1 1355.5 279.6 1355.8 280.1 1356.2 280.6 1356.5 281.1 1356.8 281.7 1357.2 282.2 1357.5 282.7 1357.9 283.2 1358.2 283.7 1358.6 284.2 1358.9 284.7 1359.3 285.2 1359.6 285.7 1360.0 286.2 1360.3 286.7 1360.6 287.2 1361.0 287.7 1361.3 288.2 1361.7 288.7 1362.0 289.2 1362.4 289.7 1362.7 290.2 1363.1 290.7 1363.4 291.2 1363.8 291.7 1364.1 292.2 1364.5 292.7 1364.8 293.2 1365.2 293.7 1365.5 294.2 1365.9 294.7 1366.2 295.2 1366.6 295.7 1366.9 296.2 1367.3 296.7 1367.7 297.2 1368.0 297.7 1368.4 298.2 1368.7 298.7 1369.1 299.2 1369.4 299.7 1369.8 300.2 1370.1 300.7 1370.5 301.2 1370.9 301.7 1371.2 302.2 1371.6 302.7 1371.9 303.2 1372.3 303.7 1372.6 304.2 1373.0 304.7 1373.3 305.2 1373.7 305.7 1374.0 306.2 1374.4 306.7 1374.7 307.2 1375.0 307.7 1375.4 308.2 1375.7 308.7 1376.1 309.2 1376.4 309.7 1376.7 310.2 1377.1 310.7 1377.4 311.2 1377.7 311.7 1378.1 312.2 1378.4 312.7 1378.7 313.2 1379.1 313.7 1379.4 314.2 1379.7 314.7 1380.1 315.2 1380.4 315.7 1380.7 316.2 1381.1 316.7 1381.4 317.2 1381.7 317.7 1382.0 318.2 1382.4 318.7 1382.7 319.2 1383.0 319.7 1383.4 320.2 1383.7 320.7 1384.0 321.2 1384.4 321.7 1384.7 322.2 1385.0 322.7 1385.4 323.2 1385.7 323.7 1386.0 324.2 1386.4 324.7 1386.7 325.2 1387.0 325.7 1387.4 326.2 1387.7 326.7 1388.0 327.2 1388.4 327.7 1388.7 328.2 1389.0 328.7 1389.4 329.2 1389.7 329.7 1390.0 330.2 1390.3 330.7 1390.7 331.2 1391.0 331.7 1391.3 332.2 1391.7 332.7 1392.0 333.2 1392.3 333.7 1392.7 334.2 1393.0 334.7 1393.3 335.2 1393.7 335.7 1394.0 336.2 1394.3 336.7 1394.7 337.2 1395.0 337.7 1395.3 338.2 1395.7 338.7 1396.0 339.2 1396.3 339.7 1396.7 340.2 1397.0 340.7 1397.3 341.2 1397.7 341.7 1398.0 342.2 1398.3 342.7 1398.7 343.2 1399.0 343.7 1399.3 344.2 1399.6 344.7 1400.0 345.2 1400.3 345.7 1400.6 346.2 1401.0 346.7 1401.3 347.2 1401.6 347.7 1401.9 348.2 1402.3 348.7 1402.6 349.2 1402.9 349.7 1403.2 350.2 1403.5 350.7 1403.9 351.2 1404.2 351.7 1404.5 352.2 1404.8 352.7 1405.1 353.2 1405.5 353.7 1405.8 354.2 1406.1 354.7 1406.4 355.2 1406.7 355.7 1407.1 356.2 1407.4 356.7 1407.7 357.2 1408.0 357.7 1408.3 358.2 1408.6 358.7 1408.9 359.2 1409.3 359.7 1409.6 360.2 1409.8 360.7 1410.1 361.2 1410.4 361.7 1410.7 362.2 1411.0 362.7 1411.3 363.2 1411.5 363.7 1411.8 364.2 1412.1 364.7 1412.3 365.2 1412.6 365.7 1412.9 366.2 1413.2 366.7 1413.4 367.2 1413.7 367.7 1414.0 368.2 1414.3 368.7 1414.6 369.2 1414.9 369.7 1415.2 370.2 1415.4 370.7 1415.7 371.2 1415.9 371.7 1416.2 372.2 1416.4 372.7 1416.5 373.2 1416.7 373.7 1416.8 374.2 1417.0 374.7 1417.0 375.2 1417.1 375.7 1417.1 376.2 1417.0 376.7 1416.9 377.2 1416.7 377.7 1416.4 378.2 1416.1 378.7 1415.7 379.2 1415.2 379.7 1414.7 380.2 1413.9 380.7 1412.7 381.2 1411.2 381.7 1409.6 382.2 1407.9 382.7 1406.0 383.2 1403.8 383.7 1401.2 384.2 1398.2 384.7 1394.7 385.2 1390.1 385.7 1384.1 386.2 1377.1 386.7 1369.5 387.2 1360.8 387.7 1350.5 388.2 1339.3 388.7 1327.9 389.2 1315.9 389.7 1301.4 390.2 1280.5 390.7 1261.3 391.2 1244.9 391.7 1229.3 392.2 1214.5 392.7 1200.4 393.2 1187.4 393.7 1174.7 394.2 1161.2 394.7 1147.1 395.2 1136.2 395.7 1126.2 396.2 1116.6 396.8 1108.0 397.3 1099.1 397.8 1093.1 398.3 1092.7 398.8 1096.1 399.3 1101.8 399.8 1108.9 400.3 1116.6 400.8 1127.6 401.3 1141.1 401.8 1155.4 402.3 1170.2 402.8 1186.3 403.3 1203.5 403.8 1221.2 404.3 1239.5 404.8 1264.5 405.3 1300.6 405.8 1323.2 406.3 1341.0 406.8 1356.1 407.3 1371.8 407.8 1386.6 408.3 1399.5 408.8 1408.8 409.3 1415.6 409.8 1420.9 410.3 1423.3 410.8 1422.3 411.3 1419.6 411.8 1415.7 412.3 1411.5 412.8 1406.1 413.3 1399.0 413.8 1389.3 414.3 1375.4 414.8 1360.7 415.3 1345.0 415.8 1331.7 416.3 1321.1 416.8 1311.4 417.3 1301.5 417.8 1291.8 418.3 1281.9 418.8 1270.8 419.3 1256.7 419.8 1240.9 420.3 1226.5 420.8 1212.7 421.3 1197.2 421.8 1177.7 422.3 1142.7 422.8 1123.8 423.3 1115.6 423.8 1105.3 424.3 1094.7 424.8 1084.2 425.3 1077.0 425.8 1071.4 426.3 1066.7 426.8 1063.8 427.3 1063.4 427.8 1065.4 428.3 1069.1 428.8 1073.8 429.3 1078.9 429.8 1084.8 430.3 1092.5 430.8 1101.5 431.3 1112.8 431.8 1126.7 432.3 1142.9 432.8 1160.8 433.3 1179.5 433.8 1199.5 434.3 1219.4 434.8 1237.7 435.3 1255.4 435.8 1273.1 436.3 1290.7 436.8 1307.9 437.3 1324.4 437.8 1340.5 438.3 1354.7 438.8 1366.6 439.3 1376.6 439.8 1384.3 440.3 1391.5 440.8 1396.9 441.3 1398.4 441.8 1394.1 442.3 1385.4 442.8 1374.7 443.3 1364.5 443.8 1354.4 444.3 1343.8 444.8 1334.8 445.3 1327.2 445.8 1320.3 446.3 1313.8 446.8 1307.3 447.3 1301.0 447.8 1295.1 448.3 1289.9 448.8 1285.3 449.3 1280.5 449.8 1275.9 450.3 1271.9 450.8 1268.8 451.3 1267.2 451.8 1267.3 452.3 1268.9 452.8 1271.8 453.3 1275.6 453.8 1280.0 454.3 1284.7 454.8 1289.5 455.3 1295.7 455.8 1303.5 456.3 1312.0 456.8 1320.4 457.3 1327.9 457.8 1335.2 458.3 1342.4 458.8 1348.7 459.3 1353.6 459.8 1358.1 460.3 1362.3 460.8 1365.4 461.3 1366.9 461.8 1366.3 462.3 1364.3 462.8 1361.3 463.3 1357.8 463.8 1354.2 464.3 1351.0 464.8 1347.6 465.3 1343.8 465.8 1339.8 466.3 1335.9 466.8 1332.3 467.3 1329.3 467.8 1327.0 468.3 1325.5 468.8 1324.2 469.3 1323.0 469.8 1321.9 470.3 1321.0 470.8 1320.4 471.3 1320.1 471.8 1320.2 472.3 1321.0 472.8 1322.3 473.3 1324.0 473.8 1326.0 474.3 1328.0 474.8 1330.0 475.3 1331.8 475.8 1333.4 476.3 1335.0 476.8 1336.8 477.3 1338.7 477.8 1340.5 478.3 1342.2 478.8 1343.8 479.3 1345.1 479.8 1346.0 480.3 1346.5 480.8 1346.6 481.3 1346.1 481.8 1345.3 482.3 1344.2 482.8 1342.9 483.3 1341.6 483.8 1340.2 484.3 1338.9 484.8 1337.8 485.3 1336.9 485.8 1336.4 486.3 1336.0 486.8 1335.6 487.3 1335.3 487.8 1335.0 488.3 1334.7 488.8 1334.4 489.3 1334.2 489.8 1334.1 490.3 1334.0 490.8 1334.0 491.3 1334.1 491.8 1334.4 492.3 1334.7 492.8 1335.2 493.3 1335.7 493.8 1336.3 494.3 1336.9 494.8 1337.6 495.3 1338.2 495.8 1338.7 496.3 1339.3 496.8 1339.7 497.3 1340.0 497.8 1340.2 498.3 1340.3 498.8 1340.3 499.3 1340.2 499.8 1340.2 500.3 1340.1 500.8 1340.0 501.3 1339.8 501.8 1339.7 502.3 1339.6 502.8 1339.5 503.3 1339.3 503.8 1339.2 504.3 1339.1 504.8 1339.1 505.3 1339.0 505.8 1338.9 506.3 1338.9 506.8 1338.8 507.3 1338.7 507.8 1338.6 508.3 1338.6 508.8 1338.5 509.3 1338.4 509.8 1338.4 510.3 1338.3 510.8 1338.3 511.3 1338.2 511.9 1338.2 512.4 1338.1 512.9 1338.1 513.4 1338.0 513.9 1338.0 514.4 1338.0 514.9 1338.0 515.4 1338.0 515.9 1338.0 516.4 1338.0 516.9 1338.0 517.4 1338.0 517.9 1338.0 518.4 1338.0 518.9 1338.0 519.4 1338.0 519.9 1338.0 520.4 1338.0 520.9 1338.0 521.4 1338.0 521.9 1338.0 522.4 1338.0 522.9 1338.0 523.4 1338.0 523.9 1338.0 524.4 1338.0 524.9 1338.0 525.4 1338.0 525.9 1338.0 526.4 1338.0 526.9 1338.0 527.4 1338.0 527.9 1338.0 528.4 1337.9 528.9 1337.9 529.4 1337.9 529.9 1337.9 530.4 1337.9 530.9 1337.9 531.4 1337.9 531.9 1337.9 532.4 1337.9 532.9 1337.9 533.4 1337.9 533.9 1337.9 534.4 1337.9 534.9 1337.9 535.4 1337.9 535.9 1337.9 536.4 1337.9 536.9 1337.9 537.4 1337.9 537.9 1337.9 538.4 1337.9 538.9 1337.9 539.4 1337.9 539.9 1337.9 540.4 1337.9 540.9 1337.9 541.4 1337.9 541.9 1337.9 542.4 1337.9 542.9 1337.9 543.4 1337.9 543.9 1337.9 544.4 1337.9 544.9 1337.9 545.4 1337.9 545.9 1337.9 546.4 1337.9 546.9 1337.9 547.4 1337.9 547.9 1337.9 548.4 1337.9 548.9 1337.9 549.4 1337.9 549.9 1337.9 550.4 1337.9 550.9 1337.9 551.4 1337.9 551.9 1337.9 552.4 1337.9 552.9 1337.9 553.4 1337.9 553.9 1337.9 554.4 1337.9 554.9 1337.9 555.4 1337.9 555.9 1337.9 556.4 1337.9 556.9 1337.9 557.4 1337.9 557.9 1337.9 558.4 1337.9 558.9 1337.9 559.4 1337.9 559.9 1337.9 560.4 1337.9 560.9 1337.9 561.4 1337.9 561.9 1337.9 562.4 1337.9 562.9 1337.9 563.4 1337.9 563.9 1337.9 564.4 1337.9 564.9 1337.9 565.4 1337.9 565.9 1337.9 566.4 1337.9 566.9 1337.9 567.4 1337.9 567.9 1337.9 568.4 1337.9 568.9 1337.9" stroke="#dc2428" stroke-width="1.4" fill="none" stroke-linejoin="round"/>
<path d="M109.0 1337.9 109.5 1337.9 110.0 1337.9 110.5 1337.9 111.0 1337.9 111.5 1337.9 112.0 1337.9 112.5 1337.9 113.0 1337.9 113.5 1337.9 114.0 1337.9 114.5 1337.9 115.0 1337.9 115.5 1338.0 116.0 1338.0 116.5 1338.0 117.0 1338.0 117.5 1338.0 118.0 1338.0 118.5 1338.0 119.0 1338.0 119.5 1338.0 120.0 1338.0 120.5 1338.0 121.0 1338.0 121.5 1338.0 122.0 1338.0 122.5 1338.0 123.0 1338.0 123.5 1338.0 124.0 1338.0 124.5 1338.0 125.0 1338.0 125.5 1338.0 126.0 1338.0 126.5 1338.0 127.0 1338.0 127.5 1338.0 128.0 1338.0 128.5 1338.1 129.0 1338.1 129.5 1338.1 130.0 1338.1 130.5 1338.1 131.0 1338.1 131.5 1338.1 132.0 1338.1 132.5 1338.1 133.0 1338.1 133.5 1338.1 134.0 1338.1 134.5 1338.1 135.0 1338.1 135.5 1338.1 136.0 1338.1 136.5 1338.1 137.0 1338.1 137.5 1338.1 138.0 1338.1 138.5 1338.1 139.0 1338.1 139.5 1338.1 140.0 1338.1 140.5 1338.1 141.0 1338.1 141.5 1338.1 142.0 1338.1 142.5 1338.1 143.0 1338.1 143.5 1338.1 144.0 1338.1 144.5 1338.1 145.0 1338.2 145.5 1338.2 146.0 1338.2 146.5 1338.2 147.0 1338.2 147.5 1338.2 148.0 1338.2 148.5 1338.2 149.0 1338.2 149.5 1338.2 150.0 1338.2 150.5 1338.2 151.0 1338.2 151.5 1338.2 152.0 1338.2 152.5 1338.2 153.0 1338.2 153.5 1338.2 154.0 1338.2 154.5 1338.2 155.0 1338.2 155.5 1338.2 156.0 1338.2 156.5 1338.2 157.0 1338.2 157.5 1338.2 158.0 1338.2 158.5 1338.2 159.0 1338.2 159.5 1338.2 160.0 1338.2 160.5 1338.2 161.0 1338.2 161.5 1338.2 162.0 1338.2 162.5 1338.2 163.0 1338.2 163.5 1338.2 164.0 1338.2 164.5 1338.2 165.0 1338.2 165.5 1338.3 166.0 1338.3 166.6 1338.3 167.1 1338.3 167.6 1338.3 168.1 1338.3 168.6 1338.3 169.1 1338.3 169.6 1338.3 170.1 1338.3 170.6 1338.3 171.1 1338.3 171.6 1338.3 172.1 1338.3 172.6 1338.3 173.1 1338.3 173.6 1338.3 174.1 1338.3 174.6 1338.3 175.1 1338.3 175.6 1338.3 176.1 1338.3 176.6 1338.3 177.1 1338.3 177.6 1338.3 178.1 1338.3 178.6 1338.3 179.1 1338.3 179.6 1338.3 180.1 1338.3 180.6 1338.3 181.1 1338.3 181.6 1338.3 182.1 1338.3 182.6 1338.3 183.1 1338.3 183.6 1338.3 184.1 1338.3 184.6 1338.3 185.1 1338.3 185.6 1338.3 186.1 1338.3 186.6 1338.3 187.1 1338.3 187.6 1338.3 188.1 1338.3 188.6 1338.3 189.1 1338.3 189.6 1338.3 190.1 1338.3 190.6 1338.3 191.1 1338.3 191.6 1338.3 192.1 1338.3 192.6 1338.3 193.1 1338.3 193.6 1338.3 194.1 1338.3 194.6 1338.3 195.1 1338.3 195.6 1338.3 196.1 1338.3 196.6 1338.3 197.1 1338.3 197.6 1338.3 198.1 1338.4 198.6 1338.4 199.1 1338.4 199.6 1338.4 200.1 1338.4 200.6 1338.4 201.1 1338.4 201.6 1338.4 202.1 1338.4 202.6 1338.4 203.1 1338.4 203.6 1338.4 204.1 1338.4 204.6 1338.4 205.1 1338.4 205.6 1338.4 206.1 1338.4 206.6 1338.4 207.1 1338.4 207.6 1338.4 208.1 1338.4 208.6 1338.4 209.1 1338.4 209.6 1338.4 210.1 1338.4 210.6 1338.4 211.1 1338.4 211.6 1338.4 212.1 1338.4 212.6 1338.4 213.1 1338.4 213.6 1338.4 214.1 1338.4 214.6 1338.4 215.1 1338.4 215.6 1338.4 216.1 1338.4 216.6 1338.4 217.1 1338.4 217.6 1338.4 218.1 1338.4 218.6 1338.4 219.1 1338.4 219.6 1338.4 220.1 1338.4 220.6 1338.4 221.1 1338.4 221.6 1338.4 222.1 1338.4 222.6 1338.4 223.1 1338.4 223.6 1338.4 224.1 1338.4 224.6 1338.4 225.1 1338.4 225.6 1338.4 226.1 1338.4 226.6 1338.4 227.1 1338.4 227.6 1338.4 228.1 1338.4 228.6 1338.4 229.1 1338.4 229.6 1338.4 230.1 1338.4 230.6 1338.4 231.1 1338.4 231.6 1338.4 232.1 1338.4 232.6 1338.4 233.1 1338.4 233.6 1338.4 234.1 1338.4 234.6 1338.4 235.1 1338.4 235.6 1338.4 236.1 1338.4 236.6 1338.4 237.1 1338.4 237.6 1338.4 238.1 1338.4 238.6 1338.4 239.1 1338.4 239.6 1338.4 240.1 1338.4 240.6 1338.4 241.1 1338.4 241.6 1338.4 242.1 1338.4 242.6 1338.4 243.1 1338.4 243.6 1338.4 244.1 1338.4 244.6 1338.4 245.1 1338.4 245.6 1338.4 246.1 1338.4 246.6 1338.4 247.1 1338.4 247.6 1338.4 248.1 1338.4 248.6 1338.4 249.1 1338.4 249.6 1338.4 250.1 1338.4 250.6 1338.4 251.1 1338.4 251.6 1338.4 252.1 1338.4 252.6 1338.4 253.1 1338.4 253.6 1338.4 254.1 1338.4 254.6 1338.4 255.1 1338.4 255.6 1338.4 256.1 1338.4 256.6 1338.4 257.1 1338.4 257.6 1338.4 258.1 1338.4 258.6 1338.4 259.1 1338.4 259.6 1338.4 260.1 1338.4 260.6 1338.4 261.1 1338.4 261.6 1338.4 262.1 1338.4 262.6 1338.4 263.1 1338.4 263.6 1338.4 264.1 1338.4 264.6 1338.4 265.1 1338.4 265.6 1338.4 266.1 1338.4 266.6 1338.4 267.1 1338.4 267.6 1338.4 268.1 1338.4 268.6 1338.4 269.1 1338.4 269.6 1338.4 270.1 1338.4 270.6 1338.4 271.1 1338.4 271.6 1338.4 272.1 1338.4 272.6 1338.4 273.1 1338.4 273.6 1338.4 274.1 1338.4 274.6 1338.4 275.1 1338.4 275.6 1338.4 276.1 1338.4 276.6 1338.4 277.1 1338.4 277.6 1338.3 278.1 1338.3 278.6 1338.3 279.1 1338.3 279.6 1338.3 280.1 1338.3 280.6 1338.3 281.1 1338.3 281.7 1338.3 282.2 1338.3 282.7 1338.3 283.2 1338.3 283.7 1338.3 284.2 1338.3 284.7 1338.3 285.2 1338.3 285.7 1338.3 286.2 1338.3 286.7 1338.3 287.2 1338.3 287.7 1338.3 288.2 1338.3 288.7 1338.3 289.2 1338.3 289.7 1338.3 290.2 1338.3 290.7 1338.3 291.2 1338.3 291.7 1338.3 292.2 1338.3 292.7 1338.3 293.2 1338.3 293.7 1338.3 294.2 1338.3 294.7 1338.3 295.2 1338.3 295.7 1338.3 296.2 1338.3 296.7 1338.3 297.2 1338.3 297.7 1338.3 298.2 1338.3 298.7 1338.3 299.2 1338.2 299.7 1338.2 300.2 1338.2 300.7 1338.2 301.2 1338.2 301.7 1338.2 302.2 1338.2 302.7 1338.2 303.2 1338.2 303.7 1338.2 304.2 1338.2 304.7 1338.2 305.2 1338.2 305.7 1338.2 306.2 1338.2 306.7 1338.2 307.2 1338.2 307.7 1338.2 308.2 1338.2 308.7 1338.2 309.2 1338.2 309.7 1338.2 310.2 1338.2 310.7 1338.2 311.2 1338.2 311.7 1338.2 312.2 1338.2 312.7 1338.1 313.2 1338.1 313.7 1338.1 314.2 1338.1 314.7 1338.1 315.2 1338.1 315.7 1338.1 316.2 1338.1 316.7 1338.1 317.2 1338.1 317.7 1338.1 318.2 1338.1 318.7 1338.1 319.2 1338.1 319.7 1338.0 320.2 1338.0 320.7 1338.0 321.2 1338.0 321.7 1338.0 322.2 1338.0 322.7 1338.0 323.2 1338.0 323.7 1338.0 324.2 1338.0 324.7 1337.9 325.2 1337.9 325.7 1337.9 326.2 1337.9 326.7 1337.9 327.2 1337.9 327.7 1337.9 328.2 1337.9 328.7 1337.8 329.2 1337.8 329.7 1337.8 330.2 1337.8 330.7 1337.8 331.2 1337.8 331.7 1337.8 332.2 1337.8 332.7 1337.7 333.2 1337.7 333.7 1337.7 334.2 1337.7 334.7 1337.7 335.2 1337.7 335.7 1337.6 336.2 1337.6 336.7 1337.6 337.2 1337.6 337.7 1337.6 338.2 1337.6 338.7 1337.5 339.2 1337.5 339.7 1337.5 340.2 1337.5 340.7 1337.5 341.2 1337.5 341.7 1337.4 342.2 1337.4 342.7 1337.4 343.2 1337.4 343.7 1337.4 344.2 1337.3 344.7 1337.3 345.2 1337.3 345.7 1337.3 346.2 1337.3 346.7 1337.2 347.2 1337.2 347.7 1337.2 348.2 1337.2 348.7 1337.2 349.2 1337.1 349.7 1337.1 350.2 1337.1 350.7 1337.1 351.2 1337.0 351.7 1337.0 352.2 1337.0 352.7 1336.9 353.2 1336.9 353.7 1336.9 354.2 1336.8 354.7 1336.8 355.2 1336.7 355.7 1336.7 356.2 1336.6 356.7 1336.6 357.2 1336.5 357.7 1336.5 358.2 1336.4 358.7 1336.4 359.2 1336.3 359.7 1336.3 360.2 1336.2 360.7 1336.1 361.2 1336.1 361.7 1336.0 362.2 1336.0 362.7 1335.9 363.2 1335.9 363.7 1335.8 364.2 1335.8 364.7 1335.7 365.2 1335.7 365.7 1335.6 366.2 1335.6 366.7 1335.6 367.2 1335.5 367.7 1335.5 368.2 1335.4 368.7 1335.4 369.2 1335.4 369.7 1335.3 370.2 1335.3 370.7 1335.2 371.2 1335.2 371.7 1335.1 372.2 1335.0 372.7 1335.0 373.2 1334.9 373.7 1334.8 374.2 1334.7 374.7 1334.6 375.2 1334.5 375.7 1334.3 376.2 1334.2 376.7 1334.0 377.2 1333.8 377.7 1333.6 378.2 1333.4 378.7 1333.1 379.2 1332.8 379.7 1332.5 380.2 1332.2 380.7 1331.6 381.2 1331.0 381.7 1330.2 382.2 1329.3 382.7 1328.3 383.2 1327.3 383.7 1326.2 384.2 1325.1 384.7 1323.9 385.2 1322.5 385.7 1321.0 386.2 1319.3 386.7 1317.6 387.2 1315.8 387.7 1313.8 388.2 1311.4 388.7 1308.9 389.2 1306.4 389.7 1304.1 390.2 1302.0 390.7 1300.4 391.2 1298.8 391.7 1297.3 392.2 1296.0 392.7 1295.1 393.2 1294.7 393.7 1295.1 394.2 1296.3 394.7 1298.1 395.2 1300.4 395.7 1304.0 396.2 1310.3 396.8 1317.3 397.3 1325.6 397.8 1333.7 398.3 1339.9 398.8 1345.2 399.3 1350.0 399.8 1354.4 400.3 1358.5 400.8 1362.4 401.3 1366.1 401.8 1369.8 402.3 1374.1 402.8 1378.6 403.3 1382.4 403.8 1384.7 404.3 1384.8 404.8 1383.7 405.3 1381.8 405.8 1379.3 406.3 1376.4 406.8 1373.5 407.3 1370.4 407.8 1366.6 408.3 1362.3 408.8 1357.8 409.3 1353.4 409.8 1349.1 410.3 1344.6 410.8 1340.1 411.3 1335.8 411.8 1331.9 412.3 1328.3 412.8 1324.9 413.3 1321.7 413.8 1318.6 414.3 1315.7 414.8 1312.9 415.3 1310.2 415.8 1307.5 416.3 1304.9 416.8 1302.5 417.3 1300.6 417.8 1299.2 418.3 1298.0 418.8 1296.8 419.3 1295.8 419.8 1295.0 420.3 1294.5 420.8 1294.2 421.3 1294.4 421.8 1295.2 422.3 1296.6 422.8 1298.4 423.3 1300.5 423.8 1302.8 424.3 1306.1 424.8 1310.6 425.3 1314.7 425.8 1318.9 426.3 1323.0 426.8 1327.1 427.3 1331.0 427.8 1334.7 428.3 1338.4 428.8 1342.0 429.3 1345.4 429.8 1348.8 430.3 1352.0 430.8 1355.1 431.3 1357.9 431.8 1360.7 432.3 1363.7 432.8 1366.7 433.3 1369.7 433.8 1372.5 434.3 1375.1 434.8 1377.3 435.3 1379.0 435.8 1380.2 436.3 1380.8 436.8 1380.2 437.3 1378.0 437.8 1374.6 438.3 1370.1 438.8 1365.2 439.3 1360.1 439.8 1355.2 440.3 1351.0 440.8 1346.7 441.3 1342.2 441.8 1337.7 442.3 1333.3 442.8 1329.5 443.3 1326.4 443.8 1323.8 444.3 1321.1 444.8 1318.8 445.3 1317.1 445.8 1316.3 446.3 1316.6 446.8 1317.6 447.3 1319.2 447.8 1321.2 448.3 1323.4 448.8 1325.6 449.3 1327.6 449.8 1330.0 450.3 1332.6 450.8 1335.4 451.3 1338.2 451.8 1340.9 452.3 1343.3 452.8 1345.4 453.3 1347.4 453.8 1349.4 454.3 1351.4 454.8 1353.2 455.3 1354.8 455.8 1356.0 456.3 1356.7 456.8 1356.7 457.3 1356.1 457.8 1354.9 458.3 1353.2 458.8 1351.3 459.3 1349.4 459.8 1347.4 460.3 1345.7 460.8 1344.1 461.3 1342.3 461.8 1340.4 462.3 1338.4 462.8 1336.4 463.3 1334.6 463.8 1333.0 464.3 1331.7 464.8 1330.7 465.3 1330.2 465.8 1330.3 466.3 1330.6 466.8 1331.3 467.3 1332.1 467.8 1333.0 468.3 1333.9 468.8 1334.7 469.3 1335.5 469.8 1336.2 470.3 1337.0 470.8 1337.9 471.3 1338.8 471.8 1339.7 472.3 1340.5 472.8 1341.3 473.3 1341.9 473.8 1342.4 474.3 1342.8 474.8 1342.9 475.3 1342.9 475.8 1342.7 476.3 1342.5 476.8 1342.2 477.3 1341.8 477.8 1341.4 478.3 1341.0 478.8 1340.5 479.3 1340.1 479.8 1339.7 480.3 1339.3 480.8 1339.0 481.3 1338.6 481.8 1338.2 482.3 1337.8 482.8 1337.3 483.3 1337.0 483.8 1336.6 484.3 1336.3 484.8 1336.1 485.3 1335.9 485.8 1335.9 486.3 1336.0 486.8 1336.1 487.3 1336.3 487.8 1336.5 488.3 1336.8 488.8 1337.1 489.3 1337.4 489.8 1337.7 490.3 1338.0 490.8 1338.3 491.3 1338.6 491.8 1338.8 492.3 1339.0 492.8 1339.1 493.3 1339.1 493.8 1339.1 494.3 1339.1 494.8 1339.0 495.3 1339.0 495.8 1338.9 496.3 1338.9 496.8 1338.8 497.3 1338.7 497.8 1338.6 498.3 1338.6 498.8 1338.5 499.3 1338.4 499.8 1338.3 500.3 1338.2 500.8 1338.1 501.3 1338.1 501.8 1338.0 502.3 1337.9 502.8 1337.9 503.3 1337.8 503.8 1337.8 504.3 1337.8 504.8 1337.8 505.3 1337.8 505.8 1337.8 506.3 1337.8 506.8 1337.8 507.3 1337.8 507.8 1337.8 508.3 1337.9 508.8 1337.9 509.3 1337.9 509.8 1337.9 510.3 1337.9 510.8 1337.9 511.3 1337.9 511.9 1338.0 512.4 1338.0 512.9 1338.0 513.4 1338.0 513.9 1338.0 514.4 1338.0 514.9 1338.0 515.4 1338.0 515.9 1338.0 516.4 1338.0 516.9 1338.0 517.4 1338.0 517.9 1338.0 518.4 1338.0 518.9 1338.0 519.4 1338.0 519.9 1338.0 520.4 1338.0 520.9 1338.0 521.4 1338.0 521.9 1338.0 522.4 1338.0 522.9 1338.0 523.4 1338.0 523.9 1338.0 524.4 1338.0 524.9 1338.0 525.4 1338.0 525.9 1338.0 526.4 1338.0 526.9 1338.0 527.4 1338.0 527.9 1338.0 528.4 1338.0 528.9 1338.0 529.4 1338.0 529.9 1338.0 530.4 1338.0 530.9 1338.0 531.4 1338.0 531.9 1338.0 532.4 1338.0 532.9 1338.0 533.4 1338.0 533.9 1338.0 534.4 1338.0 534.9 1338.0 535.4 1338.0 535.9 1338.0 536.4 1338.0 536.9 1338.0 537.4 1338.0 537.9 1338.0 538.4 1338.0 538.9 1338.0 539.4 1338.0 539.9 1338.0 540.4 1338.0 540.9 1338.0 541.4 1338.0 541.9 1338.0 542.4 1338.0 542.9 1338.0 543.4 1338.0 543.9 1338.0 544.4 1338.0 544.9 1338.0 545.4 1338.0 545.9 1338.0 546.4 1338.0 546.9 1338.0 547.4 1338.0 547.9 1338.0 548.4 1338.0 548.9 1338.0 549.4 1338.0 549.9 1338.0 550.4 1338.0 550.9 1338.0 551.4 1338.0 551.9 1338.0 552.4 1338.0 552.9 1338.0 553.4 1338.0 553.9 1338.0 554.4 1338.0 554.9 1338.0 555.4 1338.0 555.9 1338.0 556.4 1338.0 556.9 1338.0 557.4 1338.0 557.9 1337.9 558.4 1337.9 558.9 1337.9 559.4 1337.9 559.9 1337.9 560.4 1337.9 560.9 1337.9 561.4 1337.9 561.9 1337.9 562.4 1337.9 562.9 1337.9 563.4 1337.9 563.9 1337.9 564.4 1337.9 564.9 1337.9 565.4 1337.9 565.9 1337.9 566.4 1337.9 566.9 1337.9 567.4 1337.9 567.9 1337.9 568.4 1337.9 568.9 1337.9" stroke="#2828b8" stroke-width="1.4" fill="none" stroke-linejoin="round" stroke-dasharray="8.8 4.1"/>
<path d="M109.0 1338.3 109.5 1338.4 110.0 1338.4 110.5 1338.5 111.0 1338.6 111.5 1338.7 112.0 1338.7 112.5 1338.8 113.0 1338.9 113.5 1339.0 114.0 1339.0 114.5 1339.1 115.0 1339.2 115.5 1339.2 116.0 1339.3 116.5 1339.4 117.0 1339.4 117.5 1339.5 118.0 1339.6 118.5 1339.6 119.0 1339.7 119.5 1339.8 120.0 1339.8 120.5 1339.9 121.0 1340.0 121.5 1340.0 122.0 1340.1 122.5 1340.1 123.0 1340.2 123.5 1340.3 124.0 1340.3 124.5 1340.4 125.0 1340.4 125.5 1340.5 126.0 1340.6 126.5 1340.6 127.0 1340.7 127.5 1340.7 128.0 1340.8 128.5 1340.8 129.0 1340.9 129.5 1340.9 130.0 1341.0 130.5 1341.1 131.0 1341.1 131.5 1341.2 132.0 1341.2 132.5 1341.3 133.0 1341.3 133.5 1341.4 134.0 1341.4 134.5 1341.5 135.0 1341.5 135.5 1341.6 136.0 1341.6 136.5 1341.7 137.0 1341.7 137.5 1341.8 138.0 1341.8 138.5 1341.9 139.0 1341.9 139.5 1342.0 140.0 1342.0 140.5 1342.1 141.0 1342.1 141.5 1342.1 142.0 1342.2 142.5 1342.2 143.0 1342.3 143.5 1342.3 144.0 1342.3 144.5 1342.4 145.0 1342.4 145.5 1342.4 146.0 1342.5 146.5 1342.5 147.0 1342.5 147.5 1342.5 148.0 1342.6 148.5 1342.6 149.0 1342.6 149.5 1342.7 150.0 1342.7 150.5 1342.7 151.0 1342.7 151.5 1342.8 152.0 1342.8 152.5 1342.8 153.0 1342.9 153.5 1342.9 154.0 1342.9 154.5 1342.9 155.0 1342.9 155.5 1343.0 156.0 1343.0 156.5 1343.0 157.0 1343.0 157.5 1343.0 158.0 1343.1 158.5 1343.1 159.0 1343.1 159.5 1343.1 160.0 1343.1 160.5 1343.1 161.0 1343.1 161.5 1343.1 162.0 1343.1 162.5 1343.1 163.0 1343.1 163.5 1343.1 164.0 1343.0 164.5 1343.0 165.0 1343.0 165.5 1343.0 166.0 1342.9 166.6 1342.9 167.1 1342.8 167.6 1342.8 168.1 1342.7 168.6 1342.7 169.1 1342.6 169.6 1342.6 170.1 1342.5 170.6 1342.5 171.1 1342.4 171.6 1342.3 172.1 1342.3 172.6 1342.2 173.1 1342.1 173.6 1342.1 174.1 1342.0 174.6 1341.9 175.1 1341.9 175.6 1341.8 176.1 1341.7 176.6 1341.6 177.1 1341.6 177.6 1341.5 178.1 1341.4 178.6 1341.3 179.1 1341.3 179.6 1341.2 180.1 1341.1 180.6 1341.0 181.1 1340.9 181.6 1340.8 182.1 1340.7 182.6 1340.6 183.1 1340.4 183.6 1340.3 184.1 1340.2 184.6 1340.1 185.1 1339.9 185.6 1339.8 186.1 1339.7 186.6 1339.5 187.1 1339.4 187.6 1339.3 188.1 1339.1 188.6 1339.0 189.1 1338.8 189.6 1338.7 190.1 1338.5 190.6 1338.4 191.1 1338.2 191.6 1338.1 192.1 1337.9 192.6 1337.8 193.1 1337.6 193.6 1337.5 194.1 1337.3 194.6 1337.2 195.1 1337.0 195.6 1336.8 196.1 1336.7 196.6 1336.5 197.1 1336.3 197.6 1336.1 198.1 1335.9 198.6 1335.7 199.1 1335.5 199.6 1335.3 200.1 1335.2 200.6 1335.0 201.1 1334.8 201.6 1334.6 202.1 1334.5 202.6 1334.3 203.1 1334.1 203.6 1334.0 204.1 1333.8 204.6 1333.7 205.1 1333.6 205.6 1333.5 206.1 1333.3 206.6 1333.2 207.1 1333.1 207.6 1333.0 208.1 1332.9 208.6 1332.8 209.1 1332.6 209.6 1332.5 210.1 1332.4 210.6 1332.3 211.1 1332.2 211.6 1332.1 212.1 1332.0 212.6 1331.9 213.1 1331.8 213.6 1331.7 214.1 1331.6 214.6 1331.5 215.1 1331.4 215.6 1331.3 216.1 1331.3 216.6 1331.2 217.1 1331.2 217.6 1331.1 218.1 1331.1 218.6 1331.0 219.1 1331.0 219.6 1331.0 220.1 1331.0 220.6 1331.0 221.1 1331.0 221.6 1331.0 222.1 1331.0 222.6 1331.0 223.1 1331.0 223.6 1331.0 224.1 1331.0 224.6 1331.0 225.1 1331.0 225.6 1331.0 226.1 1331.0 226.6 1331.0 227.1 1331.0 227.6 1331.0 228.1 1331.0 228.6 1331.0 229.1 1331.0 229.6 1331.0 230.1 1331.0 230.6 1331.0 231.1 1331.0 231.6 1331.0 232.1 1331.1 232.6 1331.1 233.1 1331.2 233.6 1331.3 234.1 1331.3 234.6 1331.4 235.1 1331.5 235.6 1331.6 236.1 1331.8 236.6 1331.9 237.1 1332.0 237.6 1332.1 238.1 1332.3 238.6 1332.4 239.1 1332.6 239.6 1332.7 240.1 1332.8 240.6 1333.0 241.1 1333.1 241.6 1333.2 242.1 1333.4 242.6 1333.5 243.1 1333.7 243.6 1333.9 244.1 1334.0 244.6 1334.2 245.1 1334.4 245.6 1334.6 246.1 1334.8 246.6 1335.0 247.1 1335.2 247.6 1335.4 248.1 1335.7 248.6 1335.9 249.1 1336.1 249.6 1336.3 250.1 1336.6 250.6 1336.8 251.1 1337.0 251.6 1337.3 252.1 1337.6 252.6 1337.8 253.1 1338.1 253.6 1338.4 254.1 1338.7 254.6 1339.0 255.1 1339.3 255.6 1339.6 256.1 1339.9 256.6 1340.2 257.1 1340.5 257.6 1340.9 258.1 1341.2 258.6 1341.6 259.1 1341.9 259.6 1342.3 260.1 1342.6 260.6 1343.0 261.1 1343.3 261.6 1343.7 262.1 1344.0 262.6 1344.4 263.1 1344.7 263.6 1345.1 264.1 1345.4 264.6 1345.7 265.1 1346.1 265.6 1346.4 266.1 1346.7 266.6 1347.1 267.1 1347.4 267.6 1347.7 268.1 1348.1 268.6 1348.4 269.1 1348.7 269.6 1349.1 270.1 1349.4 270.6 1349.7 271.1 1350.1 271.6 1350.4 272.1 1350.7 272.6 1351.1 273.1 1351.4 273.6 1351.8 274.1 1352.1 274.6 1352.4 275.1 1352.8 275.6 1353.1 276.1 1353.4 276.6 1353.8 277.1 1354.1 277.6 1354.5 278.1 1354.8 278.6 1355.1 279.1 1355.5 279.6 1355.8 280.1 1356.2 280.6 1356.5 281.1 1356.8 281.7 1357.2 282.2 1357.5 282.7 1357.9 283.2 1358.2 283.7 1358.6 284.2 1358.9 284.7 1359.3 285.2 1359.6 285.7 1360.0 286.2 1360.3 286.7 1360.6 287.2 1361.0 287.7 1361.3 288.2 1361.7 288.7 1362.0 289.2 1362.4 289.7 1362.7 290.2 1363.1 290.7 1363.4 291.2 1363.8 291.7 1364.1 292.2 1364.5 292.7 1364.8 293.2 1365.2 293.7 1365.5 294.2 1365.9 294.7 1366.2 295.2 1366.6 295.7 1366.9 296.2 1367.3 296.7 1367.7 297.2 1368.0 297.7 1368.4 298.2 1368.7 298.7 1369.1 299.2 1369.4 299.7 1369.8 300.2 1370.1 300.7 1370.5 301.2 1370.9 301.7 1371.2 302.2 1371.6 302.7 1371.9 303.2 1372.3 303.7 1372.6 304.2 1373.0 304.7 1373.3 305.2 1373.7 305.7 1374.0 306.2 1374.4 306.7 1374.7 307.2 1375.0 307.7 1375.4 308.2 1375.7 308.7 1376.1 309.2 1376.4 309.7 1376.7 310.2 1377.1 310.7 1377.4 311.2 1377.7 311.7 1378.1 312.2 1378.4 312.7 1378.7 313.2 1379.1 313.7 1379.4 314.2 1379.7 314.7 1380.1 315.2 1380.4 315.7 1380.7 316.2 1381.1 316.7 1381.4 317.2 1381.7 317.7 1382.0 318.2 1382.4 318.7 1382.7 319.2 1383.0 319.7 1383.4 320.2 1383.7 320.7 1384.0 321.2 1384.4 321.7 1384.7 322.2 1385.0 322.7 1385.4 323.2 1385.7 323.7 1386.0 324.2 1386.4 324.7 1386.7 325.2 1387.0 325.7 1387.4 326.2 1387.7 326.7 1388.0 327.2 1388.4 327.7 1388.7 328.2 1389.0 328.7 1389.4 329.2 1389.7 329.7 1390.0 330.2 1390.3 330.7 1390.7 331.2 1391.0 331.7 1391.3 332.2 1391.7 332.7 1392.0 333.2 1392.3 333.7 1392.7 334.2 1393.0 334.7 1393.3 335.2 1393.7 335.7 1394.0 336.2 1394.3 336.7 1394.7 337.2 1395.0 337.7 1395.3 338.2 1395.7 338.7 1396.0 339.2 1396.3 339.7 1396.7 340.2 1397.0 340.7 1397.3 341.2 1397.7 341.7 1398.0 342.2 1398.3 342.7 1398.7 343.2 1399.0 343.7 1399.3 344.2 1399.6 344.7 1400.0 345.2 1400.3 345.7 1400.6 346.2 1401.0 346.7 1401.3 347.2 1401.6 347.7 1401.9 348.2 1402.3 348.7 1402.6 349.2 1402.9 349.7 1403.2 350.2 1403.5 350.7 1403.9 351.2 1404.2 351.7 1404.5 352.2 1404.8 352.7 1405.2 353.2 1405.5 353.7 1405.8 354.2 1406.2 354.7 1406.5 355.2 1406.8 355.7 1407.1 356.2 1407.5 356.7 1407.8 357.2 1408.1 357.7 1408.4 358.2 1408.8 358.7 1409.1 359.2 1409.4 359.7 1409.7 360.2 1410.0 360.7 1410.3 361.2 1410.5 361.7 1410.8 362.2 1411.1 362.7 1411.3 363.2 1411.6 363.7 1411.8 364.2 1412.1 364.7 1412.3 365.2 1412.5 365.7 1412.8 366.2 1413.0 366.7 1413.3 367.2 1413.5 367.7 1413.7 368.2 1414.0 368.7 1414.2 369.2 1414.4 369.7 1414.6 370.2 1414.8 370.7 1415.0 371.2 1415.2 371.7 1415.3 372.2 1415.5 372.7 1415.6 373.2 1415.6 373.7 1415.7 374.2 1415.7 374.7 1415.6 375.2 1415.4 375.7 1415.0 376.2 1414.5 376.7 1413.8 377.2 1413.1 377.7 1412.4 378.2 1411.6 378.7 1410.5 379.2 1409.1 379.7 1407.6 380.2 1405.9 380.7 1404.1 381.2 1402.1 381.7 1399.6 382.2 1396.3 382.7 1391.6 383.2 1385.7 383.7 1379.1 384.2 1372.2 384.7 1365.2 385.2 1357.7 385.7 1349.6 386.2 1341.0 386.7 1332.2 387.2 1323.0 387.7 1313.0 388.2 1302.0 388.7 1287.9 389.2 1273.6 389.7 1264.1 390.2 1256.4 390.7 1243.6 391.2 1227.2 391.7 1211.1 392.2 1197.9 392.7 1186.7 393.2 1178.7 393.7 1172.7 394.2 1167.5 394.7 1163.6 395.2 1162.0 395.7 1162.9 396.2 1165.8 396.8 1170.8 397.3 1185.5 397.8 1206.1 398.3 1225.5 398.8 1242.7 399.3 1263.8 399.8 1285.4 400.3 1305.1 400.8 1321.1 401.3 1336.8 401.8 1354.5 402.3 1371.6 402.8 1388.6 403.3 1401.0 403.8 1410.0 404.3 1417.9 404.8 1423.6 405.3 1426.0 405.8 1424.1 406.3 1418.6 406.8 1411.2 407.3 1403.4 407.8 1394.2 408.3 1383.0 408.8 1371.0 409.3 1358.0 409.8 1343.7 410.3 1329.5 410.8 1316.2 411.3 1303.0 411.8 1289.8 412.3 1276.1 412.8 1262.2 413.3 1247.4 413.8 1231.0 414.3 1212.3 414.8 1192.8 415.3 1174.0 415.8 1156.0 416.3 1138.4 416.8 1120.8 417.3 1106.9 417.8 1097.6 418.3 1086.3 418.8 1076.9 419.3 1066.7 419.8 1061.4 420.3 1057.7 420.8 1056.1 421.3 1057.2 421.8 1060.0 422.3 1063.8 422.8 1067.6 423.3 1071.0 423.8 1074.7 424.3 1080.1 424.8 1090.0 425.3 1099.4 425.8 1110.5 426.3 1120.2 426.8 1129.8 427.3 1146.5 427.8 1166.5 428.3 1180.2 428.8 1188.4 429.3 1195.1 429.8 1203.0 430.3 1215.6 430.8 1238.2 431.3 1262.4 431.8 1283.7 432.3 1303.7 432.8 1318.5 433.3 1329.4 433.8 1338.7 434.3 1347.6 434.8 1357.5 435.3 1368.1 435.8 1377.2 436.3 1383.2 436.8 1388.3 437.3 1391.8 437.8 1392.1 438.3 1387.5 438.8 1379.3 439.3 1369.2 439.8 1359.0 440.3 1350.3 440.8 1342.7 441.3 1335.1 441.8 1327.6 442.3 1320.0 442.8 1312.4 443.3 1304.6 443.8 1296.8 444.3 1289.0 444.8 1281.5 445.3 1274.5 445.8 1267.4 446.3 1260.3 446.8 1253.6 447.3 1248.1 447.8 1244.2 448.3 1241.5 448.8 1239.0 449.3 1237.1 449.8 1236.1 450.3 1236.9 450.8 1241.4 451.3 1247.9 451.8 1255.2 452.3 1265.4 452.8 1276.7 453.3 1286.8 453.8 1294.3 454.3 1300.6 454.8 1306.7 455.3 1313.8 455.8 1323.5 456.3 1334.8 456.8 1345.4 457.3 1353.0 457.8 1359.2 458.3 1365.1 458.8 1370.0 459.3 1373.3 459.8 1374.5 460.3 1373.4 460.8 1370.5 461.3 1366.3 461.8 1361.6 462.3 1356.7 462.8 1352.4 463.3 1348.6 463.8 1344.6 464.3 1340.5 464.8 1336.4 465.3 1332.5 465.8 1329.0 466.3 1325.9 466.8 1323.4 467.3 1321.0 467.8 1318.7 468.3 1316.6 468.8 1314.9 469.3 1313.7 469.8 1313.1 470.3 1313.5 470.8 1315.0 471.3 1317.2 471.8 1319.9 472.3 1322.7 472.8 1325.5 473.3 1328.1 473.8 1331.1 474.3 1334.3 474.8 1337.6 475.3 1340.5 475.8 1342.9 476.3 1344.4 476.8 1345.6 477.3 1346.6 477.8 1347.2 478.3 1347.3 478.8 1346.9 479.3 1346.3 479.8 1345.5 480.3 1344.6 480.8 1343.5 481.3 1342.4 481.8 1341.3 482.3 1340.4 482.8 1339.6 483.3 1339.0 483.8 1338.4 484.3 1337.9 484.8 1337.4 485.3 1336.8 485.8 1336.3 486.3 1335.8 486.8 1335.4 487.3 1334.9 487.8 1334.5 488.3 1334.2 488.8 1333.9 489.3 1333.7 489.8 1333.5 490.3 1333.4 490.8 1333.4 491.3 1333.5 491.8 1333.8 492.3 1334.2 492.8 1334.7 493.3 1335.3 493.8 1336.0 494.3 1336.6 494.8 1337.3 495.3 1338.0 495.8 1338.6 496.3 1339.2 496.8 1339.6 497.3 1340.0 497.8 1340.2 498.3 1340.3 498.8 1340.2 499.3 1340.1 499.8 1339.9 500.3 1339.7 500.8 1339.4 501.3 1339.1 501.8 1338.8 502.3 1338.5 502.8 1338.3 503.3 1338.1 503.8 1337.9 504.3 1337.8 504.8 1337.8 505.3 1337.8 505.8 1337.8 506.3 1337.8 506.8 1337.8 507.3 1337.8 507.8 1337.8 508.3 1337.9 508.8 1337.9 509.3 1337.9 509.8 1337.9 510.3 1337.9 510.8 1337.9 511.3 1337.9 511.9 1338.0 512.4 1338.0 512.9 1338.0 513.4 1338.0 513.9 1338.0 514.4 1338.0 514.9 1338.0 515.4 1338.0 515.9 1338.0 516.4 1338.0 516.9 1338.0 517.4 1338.0 517.9 1338.0 518.4 1338.0 518.9 1338.0 519.4 1338.0 519.9 1338.0 520.4 1338.0 520.9 1338.0 521.4 1338.0 521.9 1338.0 522.4 1338.0 522.9 1338.0 523.4 1338.0 523.9 1338.0 524.4 1338.0 524.9 1338.0 525.4 1338.0 525.9 1338.0 526.4 1338.0 526.9 1338.0 527.4 1338.0 527.9 1338.0 528.4 1338.0 528.9 1338.0 529.4 1338.0 529.9 1338.0 530.4 1338.0 530.9 1338.0 531.4 1338.0 531.9 1338.0 532.4 1338.0 532.9 1338.0 533.4 1338.0 533.9 1338.0 534.4 1338.0 534.9 1338.0 535.4 1338.0 535.9 1338.0 536.4 1338.0 536.9 1338.0 537.4 1338.0 537.9 1338.0 538.4 1338.0 538.9 1338.0 539.4 1338.0 539.9 1338.0 540.4 1338.0 540.9 1338.0 541.4 1338.0 541.9 1338.0 542.4 1338.0 542.9 1338.0 543.4 1338.0 543.9 1338.0 544.4 1338.0 544.9 1338.0 545.4 1338.0 545.9 1338.0 546.4 1338.0 546.9 1338.0 547.4 1338.0 547.9 1338.0 548.4 1338.0 548.9 1338.0 549.4 1338.0 549.9 1338.0 550.4 1338.0 550.9 1338.0 551.4 1338.0 551.9 1338.0 552.4 1338.0 552.9 1338.0 553.4 1338.0 553.9 1338.0 554.4 1338.0 554.9 1338.0 555.4 1338.0 555.9 1338.0 556.4 1338.0 556.9 1338.0 557.4 1338.0 557.9 1337.9 558.4 1337.9 558.9 1337.9 559.4 1337.9 559.9 1337.9 560.4 1337.9 560.9 1337.9 561.4 1337.9 561.9 1337.9 562.4 1337.9 562.9 1337.9 563.4 1337.9 563.9 1337.9 564.4 1337.9 564.9 1337.9 565.4 1337.9 565.9 1337.9 566.4 1337.9 566.9 1337.9 567.4 1337.9 567.9 1337.9 568.4 1337.9 568.9 1337.9" stroke="#237623" stroke-width="1.4" fill="none" stroke-linejoin="round" stroke-dasharray="4.7 6"/>
<path d="M109.0 1337.9 109.5 1337.9 110.0 1337.9 110.5 1337.9 111.0 1337.9 111.5 1337.9 112.0 1337.9 112.5 1337.9 113.0 1337.9 113.5 1337.9 114.0 1337.9 114.5 1337.9 115.0 1337.9 115.5 1338.0 116.0 1338.0 116.5 1338.0 117.0 1338.0 117.5 1338.0 118.0 1338.0 118.5 1338.0 119.0 1338.0 119.5 1338.0 120.0 1338.0 120.5 1338.0 121.0 1338.0 121.5 1338.0 122.0 1338.0 122.5 1338.0 123.0 1338.0 123.5 1338.0 124.0 1338.0 124.5 1338.0 125.0 1338.0 125.5 1338.0 126.0 1338.0 126.5 1338.0 127.0 1338.0 127.5 1338.0 128.0 1338.0 128.5 1338.1 129.0 1338.1 129.5 1338.1 130.0 1338.1 130.5 1338.1 131.0 1338.1 131.5 1338.1 132.0 1338.1 132.5 1338.1 133.0 1338.1 133.5 1338.1 134.0 1338.1 134.5 1338.1 135.0 1338.1 135.5 1338.1 136.0 1338.1 136.5 1338.1 137.0 1338.1 137.5 1338.1 138.0 1338.1 138.5 1338.1 139.0 1338.1 139.5 1338.1 140.0 1338.1 140.5 1338.1 141.0 1338.1 141.5 1338.1 142.0 1338.1 142.5 1338.1 143.0 1338.1 143.5 1338.1 144.0 1338.1 144.5 1338.1 145.0 1338.2 145.5 1338.2 146.0 1338.2 146.5 1338.2 147.0 1338.2 147.5 1338.2 148.0 1338.2 148.5 1338.2 149.0 1338.2 149.5 1338.2 150.0 1338.2 150.5 1338.2 151.0 1338.2 151.5 1338.2 152.0 1338.2 152.5 1338.2 153.0 1338.2 153.5 1338.2 154.0 1338.2 154.5 1338.2 155.0 1338.2 155.5 1338.2 156.0 1338.2 156.5 1338.2 157.0 1338.2 157.5 1338.2 158.0 1338.2 158.5 1338.2 159.0 1338.2 159.5 1338.2 160.0 1338.2 160.5 1338.2 161.0 1338.2 161.5 1338.2 162.0 1338.2 162.5 1338.2 163.0 1338.2 163.5 1338.2 164.0 1338.2 164.5 1338.2 165.0 1338.2 165.5 1338.3 166.0 1338.3 166.6 1338.3 167.1 1338.3 167.6 1338.3 168.1 1338.3 168.6 1338.3 169.1 1338.3 169.6 1338.3 170.1 1338.3 170.6 1338.3 171.1 1338.3 171.6 1338.3 172.1 1338.3 172.6 1338.3 173.1 1338.3 173.6 1338.3 174.1 1338.3 174.6 1338.3 175.1 1338.3 175.6 1338.3 176.1 1338.3 176.6 1338.3 177.1 1338.3 177.6 1338.3 178.1 1338.3 178.6 1338.3 179.1 1338.3 179.6 1338.3 180.1 1338.3 180.6 1338.3 181.1 1338.3 181.6 1338.3 182.1 1338.3 182.6 1338.3 183.1 1338.3 183.6 1338.3 184.1 1338.3 184.6 1338.3 185.1 1338.3 185.6 1338.3 186.1 1338.3 186.6 1338.3 187.1 1338.3 187.6 1338.3 188.1 1338.3 188.6 1338.3 189.1 1338.3 189.6 1338.3 190.1 1338.3 190.6 1338.3 191.1 1338.3 191.6 1338.3 192.1 1338.3 192.6 1338.3 193.1 1338.3 193.6 1338.3 194.1 1338.3 194.6 1338.3 195.1 1338.3 195.6 1338.3 196.1 1338.3 196.6 1338.3 197.1 1338.3 197.6 1338.3 198.1 1338.4 198.6 1338.4 199.1 1338.4 199.6 1338.4 200.1 1338.4 200.6 1338.4 201.1 1338.4 201.6 1338.4 202.1 1338.4 202.6 1338.4 203.1 1338.4 203.6 1338.4 204.1 1338.4 204.6 1338.4 205.1 1338.4 205.6 1338.4 206.1 1338.4 206.6 1338.4 207.1 1338.4 207.6 1338.4 208.1 1338.4 208.6 1338.4 209.1 1338.4 209.6 1338.4 210.1 1338.4 210.6 1338.4 211.1 1338.4 211.6 1338.4 212.1 1338.4 212.6 1338.4 213.1 1338.4 213.6 1338.4 214.1 1338.4 214.6 1338.4 215.1 1338.4 215.6 1338.4 216.1 1338.4 216.6 1338.4 217.1 1338.4 217.6 1338.4 218.1 1338.4 218.6 1338.4 219.1 1338.4 219.6 1338.4 220.1 1338.4 220.6 1338.4 221.1 1338.4 221.6 1338.4 222.1 1338.4 222.6 1338.4 223.1 1338.4 223.6 1338.4 224.1 1338.4 224.6 1338.4 225.1 1338.4 225.6 1338.4 226.1 1338.4 226.6 1338.4 227.1 1338.4 227.6 1338.4 228.1 1338.4 228.6 1338.4 229.1 1338.4 229.6 1338.4 230.1 1338.4 230.6 1338.4 231.1 1338.4 231.6 1338.4 232.1 1338.4 232.6 1338.4 233.1 1338.4 233.6 1338.4 234.1 1338.4 234.6 1338.4 235.1 1338.4 235.6 1338.4 236.1 1338.4 236.6 1338.4 237.1 1338.4 237.6 1338.4 238.1 1338.4 238.6 1338.4 239.1 1338.4 239.6 1338.4 240.1 1338.4 240.6 1338.4 241.1 1338.4 241.6 1338.4 242.1 1338.4 242.6 1338.4 243.1 1338.4 243.6 1338.4 244.1 1338.4 244.6 1338.4 245.1 1338.4 245.6 1338.4 246.1 1338.4 246.6 1338.4 247.1 1338.4 247.6 1338.4 248.1 1338.4 248.6 1338.4 249.1 1338.4 249.6 1338.4 250.1 1338.4 250.6 1338.4 251.1 1338.4 251.6 1338.4 252.1 1338.4 252.6 1338.4 253.1 1338.4 253.6 1338.4 254.1 1338.4 254.6 1338.4 255.1 1338.4 255.6 1338.4 256.1 1338.4 256.6 1338.4 257.1 1338.4 257.6 1338.4 258.1 1338.4 258.6 1338.4 259.1 1338.4 259.6 1338.4 260.1 1338.4 260.6 1338.4 261.1 1338.4 261.6 1338.4 262.1 1338.4 262.6 1338.4 263.1 1338.4 263.6 1338.4 264.1 1338.4 264.6 1338.4 265.1 1338.4 265.6 1338.4 266.1 1338.4 266.6 1338.4 267.1 1338.4 267.6 1338.4 268.1 1338.4 268.6 1338.4 269.1 1338.4 269.6 1338.4 270.1 1338.4 270.6 1338.4 271.1 1338.4 271.6 1338.4 272.1 1338.4 272.6 1338.4 273.1 1338.4 273.6 1338.4 274.1 1338.4 274.6 1338.4 275.1 1338.4 275.6 1338.4 276.1 1338.4 276.6 1338.4 277.1 1338.4 277.6 1338.3 278.1 1338.3 278.6 1338.3 279.1 1338.3 279.6 1338.3 280.1 1338.3 280.6 1338.3 281.1 1338.3 281.7 1338.3 282.2 1338.3 282.7 1338.3 283.2 1338.3 283.7 1338.3 284.2 1338.3 284.7 1338.3 285.2 1338.3 285.7 1338.3 286.2 1338.3 286.7 1338.3 287.2 1338.3 287.7 1338.3 288.2 1338.3 288.7 1338.3 289.2 1338.3 289.7 1338.3 290.2 1338.3 290.7 1338.3 291.2 1338.3 291.7 1338.3 292.2 1338.3 292.7 1338.3 293.2 1338.3 293.7 1338.3 294.2 1338.3 294.7 1338.3 295.2 1338.3 295.7 1338.3 296.2 1338.3 296.7 1338.3 297.2 1338.3 297.7 1338.3 298.2 1338.3 298.7 1338.3 299.2 1338.2 299.7 1338.2 300.2 1338.2 300.7 1338.2 301.2 1338.2 301.7 1338.2 302.2 1338.2 302.7 1338.2 303.2 1338.2 303.7 1338.2 304.2 1338.2 304.7 1338.2 305.2 1338.2 305.7 1338.2 306.2 1338.2 306.7 1338.2 307.2 1338.2 307.7 1338.2 308.2 1338.2 308.7 1338.2 309.2 1338.2 309.7 1338.2 310.2 1338.2 310.7 1338.2 311.2 1338.2 311.7 1338.2 312.2 1338.2 312.7 1338.1 313.2 1338.1 313.7 1338.1 314.2 1338.1 314.7 1338.1 315.2 1338.1 315.7 1338.1 316.2 1338.1 316.7 1338.1 317.2 1338.1 317.7 1338.1 318.2 1338.1 318.7 1338.1 319.2 1338.1 319.7 1338.0 320.2 1338.0 320.7 1338.0 321.2 1338.0 321.7 1338.0 322.2 1338.0 322.7 1338.0 323.2 1338.0 323.7 1338.0 324.2 1338.0 324.7 1337.9 325.2 1337.9 325.7 1337.9 326.2 1337.9 326.7 1337.9 327.2 1337.9 327.7 1337.9 328.2 1337.9 328.7 1337.8 329.2 1337.8 329.7 1337.8 330.2 1337.8 330.7 1337.8 331.2 1337.8 331.7 1337.8 332.2 1337.8 332.7 1337.7 333.2 1337.7 333.7 1337.7 334.2 1337.7 334.7 1337.7 335.2 1337.7 335.7 1337.6 336.2 1337.6 336.7 1337.6 337.2 1337.6 337.7 1337.6 338.2 1337.6 338.7 1337.5 339.2 1337.5 339.7 1337.5 340.2 1337.5 340.7 1337.5 341.2 1337.5 341.7 1337.4 342.2 1337.4 342.7 1337.4 343.2 1337.4 343.7 1337.4 344.2 1337.3 344.7 1337.3 345.2 1337.3 345.7 1337.3 346.2 1337.3 346.7 1337.2 347.2 1337.2 347.7 1337.2 348.2 1337.2 348.7 1337.2 349.2 1337.1 349.7 1337.1 350.2 1337.1 350.7 1337.1 351.2 1337.0 351.7 1337.0 352.2 1337.0 352.7 1336.9 353.2 1336.9 353.7 1336.9 354.2 1336.8 354.7 1336.8 355.2 1336.7 355.7 1336.7 356.2 1336.6 356.7 1336.6 357.2 1336.5 357.7 1336.5 358.2 1336.4 358.7 1336.4 359.2 1336.3 359.7 1336.3 360.2 1336.2 360.7 1336.1 361.2 1336.1 361.7 1336.0 362.2 1336.0 362.7 1335.9 363.2 1335.9 363.7 1335.8 364.2 1335.8 364.7 1335.7 365.2 1335.7 365.7 1335.6 366.2 1335.6 366.7 1335.6 367.2 1335.5 367.7 1335.5 368.2 1335.4 368.7 1335.4 369.2 1335.4 369.7 1335.3 370.2 1335.3 370.7 1335.2 371.2 1335.2 371.7 1335.1 372.2 1335.0 372.7 1335.0 373.2 1334.9 373.7 1334.8 374.2 1334.7 374.7 1334.6 375.2 1334.5 375.7 1334.3 376.2 1334.2 376.7 1334.0 377.2 1333.8 377.7 1333.6 378.2 1333.4 378.7 1333.1 379.2 1332.8 379.7 1332.5 380.2 1332.2 380.7 1331.6 381.2 1331.0 381.7 1330.2 382.2 1329.3 382.7 1328.3 383.2 1327.3 383.7 1326.2 384.2 1325.1 384.7 1323.9 385.2 1322.4 385.7 1320.9 386.2 1319.2 386.7 1317.6 387.2 1315.9 387.7 1313.8 388.2 1311.3 388.7 1308.7 389.2 1306.4 389.7 1304.7 390.2 1304.0 390.7 1304.3 391.2 1305.2 391.7 1306.7 392.2 1308.5 392.7 1310.5 393.2 1312.7 393.7 1315.7 394.2 1319.8 394.7 1325.6 395.2 1336.9 395.7 1345.2 396.2 1351.8 396.8 1358.3 397.3 1365.4 397.8 1371.4 398.3 1375.4 398.8 1378.9 399.3 1382.0 399.8 1384.1 400.3 1385.0 400.8 1384.5 401.3 1383.0 401.8 1380.7 402.3 1377.9 402.8 1374.8 403.3 1371.7 403.8 1368.2 404.3 1364.0 404.8 1358.9 405.3 1352.8 405.8 1342.8 406.3 1333.2 406.8 1325.7 407.3 1319.4 407.8 1314.7 408.3 1311.1 408.8 1308.0 409.3 1305.4 409.8 1303.1 410.3 1300.9 410.8 1298.8 411.3 1296.6 411.8 1294.5 412.3 1292.7 412.8 1291.3 413.3 1290.6 413.8 1290.6 414.3 1291.0 414.8 1291.7 415.3 1292.7 415.8 1294.0 416.3 1295.4 416.8 1297.0 417.3 1299.3 417.8 1302.9 418.3 1307.1 418.8 1311.6 419.3 1315.8 419.8 1319.8 420.3 1323.9 420.8 1328.0 421.3 1332.2 421.8 1336.3 422.3 1340.8 422.8 1345.5 423.3 1349.9 423.8 1353.8 424.3 1356.6 424.8 1358.8 425.3 1360.8 425.8 1362.5 426.3 1364.0 426.8 1365.5 427.3 1366.8 427.8 1368.1 428.3 1369.3 428.8 1370.6 429.3 1372.1 429.8 1373.7 430.3 1375.2 430.8 1376.6 431.3 1377.7 431.8 1378.2 432.3 1378.1 432.8 1377.0 433.3 1374.9 433.8 1372.1 434.3 1368.7 434.8 1364.8 435.3 1360.8 435.8 1356.6 436.3 1352.6 436.8 1348.2 437.3 1342.7 437.8 1336.7 438.3 1331.2 438.8 1327.1 439.3 1324.3 439.8 1321.8 440.3 1319.4 440.8 1317.5 441.3 1316.0 441.8 1315.2 442.3 1315.0 442.8 1315.4 443.3 1316.0 443.8 1316.9 444.3 1317.9 444.8 1319.1 445.3 1320.3 445.8 1322.0 446.3 1324.1 446.8 1326.7 447.3 1329.5 447.8 1332.4 448.3 1335.3 448.8 1338.0 449.3 1340.7 449.8 1343.5 450.3 1346.4 450.8 1349.3 451.3 1351.9 451.8 1354.1 452.3 1355.8 452.8 1357.2 453.3 1358.6 453.8 1359.7 454.3 1360.4 454.8 1360.6 455.3 1359.9 455.8 1358.5 456.3 1356.5 456.8 1354.0 457.3 1351.4 457.8 1348.7 458.3 1346.3 458.8 1344.0 459.3 1341.2 459.8 1338.1 460.3 1335.1 460.8 1332.2 461.3 1329.9 461.8 1328.3 462.3 1327.7 462.8 1327.8 463.3 1328.1 463.8 1328.6 464.3 1329.3 464.8 1330.0 465.3 1330.7 465.8 1331.5 466.3 1332.2 466.8 1332.8 467.3 1333.6 467.8 1334.4 468.3 1335.3 468.8 1336.2 469.3 1337.1 469.8 1338.1 470.3 1338.9 470.8 1339.7 471.3 1340.4 471.8 1341.0 472.3 1341.4 472.8 1341.6 473.3 1341.6 473.8 1341.4 474.3 1341.2 474.8 1340.9 475.3 1340.6 475.8 1340.2 476.3 1339.8 476.8 1339.4 477.3 1339.0 477.8 1338.6 478.3 1338.3 478.8 1337.9 479.3 1337.6 479.8 1337.2 480.3 1336.8 480.8 1336.4 481.3 1336.0 481.8 1335.6 482.3 1335.3 482.8 1335.0 483.3 1334.8 483.8 1334.7 484.3 1334.6 484.8 1334.6 485.3 1334.7 485.8 1334.9 486.3 1335.2 486.8 1335.5 487.3 1335.8 487.8 1336.1 488.3 1336.5 488.8 1336.9 489.3 1337.3 489.8 1337.6 490.3 1338.0 490.8 1338.3 491.3 1338.6 491.8 1338.8 492.3 1338.9 492.8 1339.0 493.3 1339.0 493.8 1339.0 494.3 1339.0 494.8 1338.9 495.3 1338.9 495.8 1338.8 496.3 1338.8 496.8 1338.7 497.3 1338.6 497.8 1338.5 498.3 1338.5 498.8 1338.4 499.3 1338.3 499.8 1338.2 500.3 1338.2 500.8 1338.1 501.3 1338.0 501.8 1338.0 502.3 1337.9 502.8 1337.9 503.3 1337.8 503.8 1337.8 504.3 1337.8 504.8 1337.8 505.3 1337.8 505.8 1337.8 506.3 1337.8 506.8 1337.8 507.3 1337.8 507.8 1337.8 508.3 1337.9 508.8 1337.9 509.3 1337.9 509.8 1337.9 510.3 1337.9 510.8 1337.9 511.3 1337.9 511.9 1338.0 512.4 1338.0 512.9 1338.0 513.4 1338.0 513.9 1338.0 514.4 1338.0 514.9 1338.0 515.4 1338.0 515.9 1338.0 516.4 1338.0 516.9 1338.0 517.4 1338.0 517.9 1338.0 518.4 1338.0 518.9 1338.0 519.4 1338.0 519.9 1338.0 520.4 1338.0 520.9 1338.0 521.4 1338.0 521.9 1338.0 522.4 1338.0 522.9 1338.0 523.4 1338.0 523.9 1338.0 524.4 1338.0 524.9 1338.0 525.4 1338.0 525.9 1338.0 526.4 1338.0 526.9 1338.0 527.4 1338.0 527.9 1338.0 528.4 1338.0 528.9 1338.0 529.4 1338.0 529.9 1338.0 530.4 1338.0 530.9 1338.0 531.4 1338.0 531.9 1338.0 532.4 1338.0 532.9 1338.0 533.4 1338.0 533.9 1338.0 534.4 1338.0 534.9 1338.0 535.4 1338.0 535.9 1338.0 536.4 1338.0 536.9 1338.0 537.4 1338.0 537.9 1338.0 538.4 1338.0 538.9 1338.0 539.4 1338.0 539.9 1338.0 540.4 1338.0 540.9 1338.0 541.4 1338.0 541.9 1338.0 542.4 1338.0 542.9 1338.0 543.4 1338.0 543.9 1338.0 544.4 1338.0 544.9 1338.0 545.4 1338.0 545.9 1338.0 546.4 1338.0 546.9 1338.0 547.4 1338.0 547.9 1338.0 548.4 1338.0 548.9 1338.0 549.4 1338.0 549.9 1338.0 550.4 1338.0 550.9 1338.0 551.4 1338.0 551.9 1338.0 552.4 1338.0 552.9 1338.0 553.4 1338.0 553.9 1338.0 554.4 1338.0 554.9 1338.0 555.4 1338.0 555.9 1338.0 556.4 1338.0 556.9 1338.0 557.4 1338.0 557.9 1337.9 558.4 1337.9 558.9 1337.9 559.4 1337.9 559.9 1337.9 560.4 1337.9 560.9 1337.9 561.4 1337.9 561.9 1337.9 562.4 1337.9 562.9 1337.9 563.4 1337.9 563.9 1337.9 564.4 1337.9 564.9 1337.9 565.4 1337.9 565.9 1337.9 566.4 1337.9 566.9 1337.9 567.4 1337.9 567.9 1337.9 568.4 1337.9 568.9 1337.9" stroke="#763a7e" stroke-width="1.4" fill="none" stroke-linejoin="round" stroke-dasharray="2.4 2.96"/>
<path d="M589.0 1342.1 589.5 1342.2 590.0 1342.2 590.5 1342.3 591.0 1342.3 591.5 1342.4 592.0 1342.4 592.5 1342.5 593.0 1342.6 593.5 1342.6 594.0 1342.7 594.5 1342.7 595.0 1342.8 595.5 1342.9 596.0 1342.9 596.5 1343.0 597.0 1343.0 597.5 1343.1 598.0 1343.2 598.5 1343.2 599.0 1343.3 599.5 1343.4 600.0 1343.4 600.5 1343.5 601.0 1343.6 601.5 1343.6 602.0 1343.7 602.5 1343.8 603.0 1343.8 603.5 1343.9 604.0 1344.0 604.5 1344.0 605.0 1344.1 605.5 1344.2 606.0 1344.2 606.5 1344.3 607.0 1344.4 607.5 1344.5 608.0 1344.5 608.5 1344.6 609.0 1344.7 609.5 1344.7 610.0 1344.8 610.5 1344.9 611.0 1345.0 611.5 1345.0 612.0 1345.1 612.5 1345.2 613.0 1345.3 613.5 1345.3 614.0 1345.4 614.5 1345.5 615.0 1345.6 615.5 1345.7 616.0 1345.7 616.5 1345.8 617.0 1345.9 617.5 1346.0 618.0 1346.1 618.5 1346.1 619.0 1346.2 619.5 1346.3 620.0 1346.4 620.5 1346.5 621.0 1346.6 621.5 1346.6 622.0 1346.7 622.5 1346.8 623.0 1346.9 623.5 1347.0 624.0 1347.1 624.5 1347.2 625.0 1347.2 625.5 1347.3 626.0 1347.4 626.5 1347.5 627.0 1347.6 627.5 1347.7 628.0 1347.8 628.5 1347.9 629.0 1348.0 629.5 1348.0 630.0 1348.1 630.5 1348.2 631.0 1348.3 631.5 1348.4 632.0 1348.5 632.5 1348.6 633.0 1348.7 633.5 1348.8 634.0 1348.9 634.5 1349.0 635.0 1349.1 635.5 1349.1 636.0 1349.2 636.5 1349.3 637.0 1349.4 637.5 1349.5 638.0 1349.6 638.5 1349.7 639.0 1349.8 639.5 1349.9 640.0 1350.0 640.5 1350.1 641.0 1350.2 641.5 1350.3 642.0 1350.4 642.5 1350.5 643.0 1350.6 643.5 1350.7 644.0 1350.8 644.5 1350.9 645.0 1351.0 645.5 1351.1 646.0 1351.2 646.5 1351.3 647.0 1351.4 647.5 1351.5 648.0 1351.6 648.5 1351.7 649.0 1351.8 649.5 1351.9 650.0 1352.0 650.5 1352.1 651.0 1352.2 651.5 1352.3 652.0 1352.4 652.5 1352.5 653.0 1352.6 653.5 1352.7 654.0 1352.8 654.5 1352.9 655.0 1353.0 655.5 1353.2 656.0 1353.3 656.5 1353.4 657.0 1353.5 657.5 1353.6 658.0 1353.7 658.5 1353.8 659.0 1353.9 659.5 1354.0 660.0 1354.1 660.5 1354.2 661.0 1354.3 661.5 1354.5 662.0 1354.6 662.5 1354.7 663.0 1354.8 663.5 1354.9 664.0 1355.0 664.5 1355.1 665.0 1355.2 665.5 1355.4 666.0 1355.5 666.5 1355.6 667.0 1355.7 667.5 1355.8 668.0 1355.9 668.5 1356.1 669.0 1356.2 669.5 1356.3 670.0 1356.4 670.5 1356.5 671.0 1356.6 671.5 1356.7 672.0 1356.9 672.5 1357.0 673.0 1357.1 673.5 1357.2 674.0 1357.3 674.5 1357.4 675.0 1357.6 675.5 1357.7 676.0 1357.8 676.5 1357.9 677.0 1358.0 677.5 1358.1 678.0 1358.3 678.5 1358.4 679.0 1358.5 679.5 1358.6 680.0 1358.7 680.5 1358.8 681.0 1358.9 681.5 1359.0 682.0 1359.2 682.5 1359.3 683.0 1359.4 683.5 1359.5 684.0 1359.6 684.5 1359.7 685.0 1359.8 685.5 1359.9 686.0 1360.1 686.5 1360.2 687.0 1360.3 687.5 1360.4 688.0 1360.5 688.5 1360.6 689.0 1360.7 689.5 1360.8 690.0 1361.0 690.5 1361.1 691.0 1361.2 691.5 1361.3 692.0 1361.4 692.5 1361.5 693.0 1361.6 693.5 1361.7 694.0 1361.8 694.5 1362.0 695.0 1362.1 695.5 1362.2 696.0 1362.3 696.5 1362.4 697.0 1362.5 697.5 1362.6 698.0 1362.7 698.5 1362.8 699.0 1362.9 699.5 1363.1 700.0 1363.2 700.5 1363.3 701.0 1363.4 701.5 1363.5 702.0 1363.6 702.5 1363.7 703.0 1363.8 703.5 1363.9 704.0 1364.1 704.5 1364.2 705.0 1364.3 705.5 1364.4 706.0 1364.5 706.5 1364.6 707.0 1364.7 707.5 1364.8 708.0 1364.9 708.5 1365.1 709.0 1365.2 709.5 1365.3 710.0 1365.4 710.5 1365.5 711.0 1365.6 711.5 1365.7 712.0 1365.8 712.5 1365.9 713.0 1366.1 713.5 1366.2 714.0 1366.3 714.5 1366.4 715.0 1366.5 715.5 1366.6 716.0 1366.7 716.5 1366.8 717.0 1366.9 717.5 1367.0 718.0 1367.2 718.5 1367.3 719.0 1367.4 719.5 1367.5 720.0 1367.6 720.5 1367.7 721.0 1367.8 721.5 1367.9 722.0 1368.0 722.5 1368.1 723.0 1368.2 723.5 1368.3 724.0 1368.5 724.5 1368.6 725.0 1368.7 725.5 1368.8 726.0 1368.9 726.5 1369.0 727.0 1369.1 727.5 1369.2 728.0 1369.3 728.5 1369.4 729.0 1369.5 729.5 1369.6 730.0 1369.7 730.5 1369.8 731.0 1369.9 731.5 1370.0 732.0 1370.1 732.5 1370.2 733.0 1370.3 733.5 1370.4 734.0 1370.5 734.5 1370.6 735.0 1370.7 735.5 1370.8 736.0 1370.8 736.5 1370.9 737.0 1371.0 737.5 1371.1 738.0 1371.2 738.5 1371.3 739.0 1371.4 739.5 1371.5 740.0 1371.6 740.5 1371.7 741.0 1371.8 741.5 1371.9 742.0 1372.0 742.5 1372.1 743.0 1372.2 743.5 1372.3 744.0 1372.4 744.5 1372.5 745.0 1372.6 745.5 1372.7 746.0 1372.8 746.5 1372.9 747.0 1373.1 747.5 1373.2 748.0 1373.3 748.5 1373.4 749.0 1373.5 749.5 1373.6 750.0 1373.7 750.5 1373.9 751.0 1374.0 751.5 1374.1 752.0 1374.2 752.5 1374.4 753.0 1374.5 753.5 1374.6 754.0 1374.8 754.5 1374.9 755.0 1375.0 755.5 1375.2 756.0 1375.3 756.5 1375.4 757.0 1375.6 757.5 1375.7 758.0 1375.9 758.5 1376.0 759.0 1376.1 759.5 1376.3 760.0 1376.4 760.5 1376.6 761.0 1376.7 761.5 1376.8 762.0 1377.0 762.5 1377.1 763.0 1377.2 763.5 1377.4 764.0 1377.5 764.5 1377.6 765.0 1377.7 765.5 1377.9 766.0 1378.0 766.5 1378.1 767.0 1378.2 767.5 1378.3 768.0 1378.5 768.5 1378.6 769.0 1378.7 769.5 1378.8 770.0 1378.9 770.5 1378.9 771.0 1379.0 771.5 1379.1 772.0 1379.2 772.5 1379.3 773.0 1379.4 773.5 1379.5 774.0 1379.6 774.5 1379.7 775.0 1379.8 775.5 1380.0 776.0 1380.1 776.5 1380.2 777.0 1380.4 777.5 1380.5 778.0 1380.7 778.5 1380.9 779.0 1381.1 779.5 1381.3 780.0 1381.5 780.5 1381.7 781.0 1381.9 781.5 1382.1 782.0 1382.3 782.5 1382.6 783.0 1382.8 783.5 1383.1 784.0 1383.3 784.5 1383.6 785.0 1383.8 785.5 1384.1 786.0 1384.4 786.5 1384.6 787.0 1384.9 787.5 1385.2 788.0 1385.5 788.5 1385.8 789.0 1386.1 789.5 1386.5 790.0 1386.9 790.5 1387.3 791.0 1387.7 791.5 1388.1 792.0 1388.4 792.5 1388.8 793.0 1389.1 793.5 1389.4 794.0 1389.6 794.5 1389.8 795.0 1390.0 795.5 1390.2 796.0 1390.3 796.5 1390.5 797.0 1390.7 797.5 1390.8 798.0 1390.9 798.5 1391.0 799.0 1391.0 799.5 1391.0 800.0 1391.0 800.5 1390.9 801.0 1390.8 801.5 1390.6 802.0 1390.4 802.5 1390.3 803.0 1390.0 803.5 1389.8 804.0 1389.6 804.5 1389.3 805.0 1389.0 805.5 1388.5 806.0 1388.0 806.5 1387.5 807.0 1387.0 807.5 1386.4 808.0 1386.0 808.5 1385.5 809.0 1385.1 809.5 1384.6 810.0 1384.1 810.5 1383.7 811.0 1383.2 811.5 1382.8 812.0 1382.5 812.5 1382.2 813.0 1382.0 813.5 1381.8 814.0 1381.7 814.5 1381.5 815.0 1381.4 815.5 1381.3 816.0 1381.2 816.5 1381.1 817.0 1381.0 817.5 1381.0 818.0 1381.0 818.5 1381.1 819.0 1381.4 819.5 1381.8 820.0 1382.3 820.5 1382.9 821.0 1383.6 821.5 1384.4 822.0 1385.3 822.5 1386.2 823.0 1387.1 823.5 1388.1 824.0 1389.2 824.5 1390.2 825.0 1391.3 825.5 1392.7 826.0 1394.4 826.5 1396.2 827.0 1398.2 827.5 1400.3 828.0 1402.6 828.5 1404.9 829.0 1407.2 829.5 1409.5 830.0 1411.8 830.5 1414.1 831.0 1416.6 831.5 1419.3 832.0 1422.0 832.5 1424.7 833.0 1427.3 833.5 1429.7 834.0 1431.7 834.5 1433.6 835.0 1435.5 835.5 1437.3 836.0 1439.0 836.5 1440.5 837.0 1441.7 837.5 1442.4 838.0 1442.6 838.5 1442.1 839.0 1441.0 839.5 1439.2 840.0 1437.0 840.5 1434.3 841.0 1431.2 841.5 1427.8 842.0 1423.6 842.5 1416.7 843.0 1407.2 843.5 1395.8 844.0 1383.1 844.5 1369.6 845.0 1352.3 845.5 1330.7 846.0 1308.8 846.5 1290.4 847.0 1274.6 847.5 1260.0 848.0 1246.9 848.5 1235.8 849.0 1226.2 849.5 1217.7 850.0 1209.7 850.5 1201.4 851.0 1192.4 851.5 1182.7 852.0 1172.6 852.5 1162.4 853.0 1152.3 853.5 1141.1 854.0 1130.2 854.5 1121.2 855.0 1114.9 855.5 1109.2 856.0 1104.3 856.5 1101.1 857.0 1100.2 857.5 1101.3 858.0 1103.8 858.5 1107.3 859.0 1111.6 859.5 1116.5 860.0 1122.3 860.5 1131.4 861.0 1142.5 861.5 1154.1 862.0 1165.8 862.5 1178.6 863.0 1191.7 863.5 1204.7 864.0 1217.9 864.5 1231.1 865.0 1244.0 865.5 1256.8 866.0 1270.7 866.5 1287.0 867.0 1307.5 867.5 1327.3 868.0 1342.9 868.5 1357.0 869.0 1369.7 869.5 1381.1 870.0 1391.5 870.5 1401.3 871.0 1410.3 871.5 1418.4 872.0 1425.4 872.5 1431.7 873.0 1437.5 873.5 1442.7 874.0 1447.2 874.5 1450.7 875.0 1453.8 875.5 1456.7 876.0 1459.1 876.5 1460.5 877.0 1460.7 877.5 1459.4 878.0 1457.0 878.5 1454.0 879.0 1450.7 879.5 1446.7 880.0 1441.4 880.5 1434.9 881.0 1427.4 881.5 1419.1 882.0 1408.3 882.5 1394.5 883.0 1379.8 883.5 1365.8 884.0 1352.0 884.5 1338.2 885.0 1325.1 885.5 1313.5 886.0 1303.9 886.5 1294.9 887.0 1284.7 887.5 1271.7 888.0 1255.4 888.5 1238.2 889.0 1222.4 889.5 1207.3 890.0 1192.8 890.5 1179.0 891.0 1166.4 891.5 1154.2 892.0 1141.0 892.5 1125.5 893.0 1110.7 893.5 1099.6 894.0 1090.1 894.5 1081.9 895.0 1075.3 895.5 1069.8 896.0 1064.5 896.5 1059.8 897.0 1056.3 897.5 1054.7 898.0 1055.4 898.5 1057.9 899.0 1061.9 899.5 1066.8 900.0 1072.1 900.5 1077.7 901.0 1084.8 901.5 1093.5 902.0 1103.7 902.5 1117.2 903.0 1134.4 903.5 1149.3 904.0 1161.8 904.5 1173.9 905.0 1187.0 905.5 1200.2 906.0 1214.6 906.5 1232.7 907.0 1260.1 907.5 1283.7 908.0 1299.2 908.5 1312.5 909.0 1326.3 909.5 1340.2 910.0 1353.7 910.5 1366.2 911.0 1377.7 911.5 1388.7 912.0 1399.1 912.5 1408.8 913.0 1417.5 913.5 1425.6 914.0 1433.5 914.5 1440.1 915.0 1444.3 915.5 1446.9 916.0 1449.0 916.5 1450.6 917.0 1451.3 917.5 1450.8 918.0 1448.8 918.5 1445.6 919.0 1441.6 919.5 1436.9 920.0 1428.4 920.5 1416.1 921.0 1402.7 921.5 1390.0 922.0 1376.8 922.5 1363.2 923.0 1350.4 923.5 1338.8 924.0 1327.9 924.5 1317.4 925.0 1307.1 925.5 1297.4 926.0 1288.3 926.5 1277.6 927.0 1261.9 927.5 1241.7 928.0 1222.6 928.5 1204.1 929.0 1188.5 929.5 1175.2 930.0 1163.2 930.5 1152.0 931.0 1141.8 931.5 1132.1 932.0 1122.4 932.5 1112.2 933.0 1100.8 933.5 1090.1 934.0 1081.8 934.5 1076.2 935.0 1071.1 935.5 1066.9 936.0 1064.2 936.5 1063.5 937.0 1064.5 937.5 1066.8 938.0 1070.1 938.5 1074.1 939.0 1078.7 939.5 1084.2 940.0 1093.0 940.5 1104.1 941.0 1116.1 941.5 1129.1 942.0 1144.1 942.5 1159.4 943.0 1174.6 943.5 1190.8 944.0 1209.9 944.5 1230.0 945.0 1249.0 945.5 1266.8 946.0 1280.4 946.5 1290.8 947.0 1300.1 947.5 1310.0 948.0 1320.7 948.5 1330.9 949.0 1339.4 949.5 1346.8 950.0 1353.5 950.5 1359.6 951.0 1365.5 951.5 1371.2 952.0 1376.8 952.5 1382.0 953.0 1386.5 953.5 1389.9 954.0 1392.9 954.5 1395.7 955.0 1397.9 955.5 1399.1 956.0 1399.0 956.5 1398.2 957.0 1396.7 957.5 1394.8 958.0 1392.6 958.5 1390.2 959.0 1387.8 959.5 1384.6 960.0 1380.8 960.5 1376.6 961.0 1372.4 961.5 1368.2 962.0 1364.2 962.5 1360.2 963.0 1356.1 963.5 1352.0 964.0 1347.9 964.5 1343.9 965.0 1340.0 965.5 1336.2 966.0 1332.4 966.5 1328.4 967.0 1324.4 967.5 1320.8 968.0 1317.7 968.5 1315.4 969.0 1313.7 969.5 1312.1 970.0 1310.6 970.5 1309.2 971.0 1308.1 971.5 1307.2 972.0 1306.7 972.5 1306.5 973.0 1306.7 973.5 1307.1 974.0 1307.7 974.5 1308.6 975.0 1309.6 975.5 1310.8 976.0 1312.0 976.5 1313.2 977.0 1314.5 977.5 1315.8 978.0 1317.4 978.5 1319.2 979.0 1321.2 979.5 1323.3 980.0 1325.4 980.5 1327.4 981.0 1329.3 981.5 1331.1 982.0 1332.9 982.5 1334.7 983.0 1336.5 983.5 1338.3 984.0 1339.8 984.5 1341.2 985.0 1342.3 985.5 1343.2 986.0 1344.0 986.5 1344.8 987.0 1345.6 987.5 1346.2 988.0 1346.9 988.5 1347.4 989.0 1347.8 989.5 1348.2 990.0 1348.4 990.5 1348.4 991.0 1348.3 991.5 1348.0 992.0 1347.6 992.5 1347.2 993.0 1346.6 993.5 1346.1 994.0 1345.5 994.5 1344.9 995.0 1344.3 995.5 1343.8 996.0 1343.1 996.5 1342.4 997.0 1341.7 997.5 1341.0 998.0 1340.2 998.5 1339.5 999.0 1338.9 999.5 1338.2 1000.0 1337.7 1000.5 1337.3 1001.0 1336.9 1001.5 1336.6 1002.0 1336.2 1002.5 1335.9 1003.0 1335.5 1003.5 1335.2 1004.0 1334.9 1004.5 1334.7 1005.0 1334.4 1005.5 1334.2 1006.0 1334.1 1006.5 1334.0 1007.0 1333.9 1007.5 1333.9 1008.0 1334.0 1008.5 1334.1 1009.0 1334.3 1009.5 1334.5 1010.0 1334.7 1010.5 1335.0 1011.0 1335.3 1011.5 1335.6 1012.0 1335.9 1012.5 1336.2 1013.0 1336.4 1013.5 1336.6 1014.0 1336.8 1014.5 1337.1 1015.0 1337.3 1015.5 1337.5 1016.0 1337.7 1016.5 1337.9 1017.0 1338.1 1017.5 1338.3 1018.0 1338.5 1018.5 1338.6 1019.0 1338.8 1019.5 1338.9 1020.0 1339.0 1020.5 1339.2 1021.0 1339.3 1021.5 1339.4 1022.0 1339.5 1022.5 1339.6 1023.0 1339.6 1023.5 1339.6 1024.0 1339.6 1024.5 1339.5 1025.0 1339.5 1025.5 1339.4 1026.0 1339.3 1026.5 1339.2 1027.0 1339.1 1027.5 1339.0 1028.0 1338.9 1028.5 1338.8 1029.0 1338.7 1029.5 1338.7 1030.0 1338.6 1030.5 1338.5 1031.0 1338.5 1031.5 1338.5 1032.0 1338.4 1032.5 1338.4 1033.0 1338.4 1033.5 1338.4 1034.0 1338.4 1034.5 1338.3 1035.0 1338.3 1035.5 1338.3 1036.0 1338.3 1036.5 1338.3 1037.0 1338.2 1037.5 1338.2 1038.0 1338.2 1038.5 1338.2 1039.0 1338.2 1039.5 1338.1 1040.0 1338.1 1040.5 1338.1 1041.0 1338.1 1041.5 1338.1 1042.0 1338.1 1042.5 1338.1 1043.0 1338.1 1043.5 1338.1 1044.0 1338.0 1044.5 1338.0 1045.0 1338.0 1045.5 1338.0 1046.0 1338.0 1046.5 1338.0 1047.0 1338.0 1047.5 1338.0 1048.0 1338.0 1048.5 1338.0 1049.0 1338.0" stroke="#dc2428" stroke-width="1.4" fill="none" stroke-linejoin="round"/>
<path d="M589.0 1338.3 589.5 1338.3 590.0 1338.3 590.5 1338.3 591.0 1338.3 591.5 1338.3 592.0 1338.3 592.5 1338.3 593.0 1338.3 593.5 1338.3 594.0 1338.3 594.5 1338.3 595.0 1338.3 595.5 1338.3 596.0 1338.3 596.5 1338.3 597.0 1338.3 597.5 1338.3 598.0 1338.3 598.5 1338.3 599.0 1338.3 599.5 1338.3 600.0 1338.3 600.5 1338.3 601.0 1338.3 601.5 1338.3 602.0 1338.3 602.5 1338.3 603.0 1338.3 603.5 1338.3 604.0 1338.3 604.5 1338.3 605.0 1338.3 605.5 1338.3 606.0 1338.3 606.5 1338.3 607.0 1338.3 607.5 1338.3 608.0 1338.3 608.5 1338.3 609.0 1338.3 609.5 1338.3 610.0 1338.3 610.5 1338.3 611.0 1338.3 611.5 1338.3 612.0 1338.3 612.5 1338.3 613.0 1338.3 613.5 1338.3 614.0 1338.3 614.5 1338.3 615.0 1338.3 615.5 1338.3 616.0 1338.3 616.5 1338.3 617.0 1338.3 617.5 1338.3 618.0 1338.3 618.5 1338.3 619.0 1338.3 619.5 1338.3 620.0 1338.3 620.5 1338.3 621.0 1338.3 621.5 1338.3 622.0 1338.3 622.5 1338.3 623.0 1338.3 623.5 1338.3 624.0 1338.3 624.5 1338.3 625.0 1338.3 625.5 1338.3 626.0 1338.3 626.5 1338.3 627.0 1338.3 627.5 1338.3 628.0 1338.3 628.5 1338.3 629.0 1338.3 629.5 1338.3 630.0 1338.3 630.5 1338.3 631.0 1338.2 631.5 1338.2 632.0 1338.2 632.5 1338.2 633.0 1338.2 633.5 1338.2 634.0 1338.2 634.5 1338.2 635.0 1338.2 635.5 1338.2 636.0 1338.2 636.5 1338.2 637.0 1338.2 637.5 1338.2 638.0 1338.2 638.5 1338.2 639.0 1338.2 639.5 1338.2 640.0 1338.2 640.5 1338.2 641.0 1338.2 641.5 1338.2 642.0 1338.2 642.5 1338.2 643.0 1338.2 643.5 1338.2 644.0 1338.2 644.5 1338.2 645.0 1338.2 645.5 1338.2 646.0 1338.2 646.5 1338.2 647.0 1338.2 647.5 1338.2 648.0 1338.2 648.5 1338.2 649.0 1338.2 649.5 1338.2 650.0 1338.2 650.5 1338.2 651.0 1338.2 651.5 1338.2 652.0 1338.2 652.5 1338.2 653.0 1338.2 653.5 1338.2 654.0 1338.2 654.5 1338.2 655.0 1338.2 655.5 1338.2 656.0 1338.2 656.5 1338.2 657.0 1338.2 657.5 1338.2 658.0 1338.2 658.5 1338.2 659.0 1338.2 659.5 1338.2 660.0 1338.2 660.5 1338.2 661.0 1338.2 661.5 1338.2 662.0 1338.2 662.5 1338.2 663.0 1338.2 663.5 1338.2 664.0 1338.2 664.5 1338.1 665.0 1338.1 665.5 1338.1 666.0 1338.1 666.5 1338.1 667.0 1338.1 667.5 1338.1 668.0 1338.1 668.5 1338.1 669.0 1338.1 669.5 1338.1 670.0 1338.1 670.5 1338.1 671.0 1338.1 671.5 1338.1 672.0 1338.1 672.5 1338.1 673.0 1338.1 673.5 1338.1 674.0 1338.1 674.5 1338.1 675.0 1338.1 675.5 1338.1 676.0 1338.1 676.5 1338.1 677.0 1338.1 677.5 1338.1 678.0 1338.1 678.5 1338.1 679.0 1338.1 679.5 1338.1 680.0 1338.1 680.5 1338.1 681.0 1338.1 681.5 1338.1 682.0 1338.1 682.5 1338.1 683.0 1338.1 683.5 1338.1 684.0 1338.1 684.5 1338.1 685.0 1338.1 685.5 1338.1 686.0 1338.1 686.5 1338.1 687.0 1338.1 687.5 1338.1 688.0 1338.1 688.5 1338.1 689.0 1338.0 689.5 1338.0 690.0 1338.0 690.5 1338.0 691.0 1338.0 691.5 1338.0 692.0 1338.0 692.5 1338.0 693.0 1338.0 693.5 1338.0 694.0 1338.0 694.5 1338.0 695.0 1338.0 695.5 1338.0 696.0 1338.0 696.5 1338.0 697.0 1338.0 697.5 1338.0 698.0 1338.0 698.5 1338.0 699.0 1338.0 699.5 1338.0 700.0 1338.0 700.5 1338.0 701.0 1338.0 701.5 1338.0 702.0 1338.0 702.5 1338.0 703.0 1338.0 703.5 1338.0 704.0 1338.0 704.5 1338.0 705.0 1338.0 705.5 1338.0 706.0 1338.0 706.5 1338.0 707.0 1338.0 707.5 1338.0 708.0 1338.0 708.5 1338.0 709.0 1338.0 709.5 1338.0 710.0 1337.9 710.5 1337.9 711.0 1337.9 711.5 1337.9 712.0 1337.9 712.5 1337.9 713.0 1337.9 713.5 1337.9 714.0 1337.9 714.5 1337.9 715.0 1337.9 715.5 1337.9 716.0 1337.9 716.5 1337.9 717.0 1337.9 717.5 1337.9 718.0 1337.9 718.5 1337.9 719.0 1337.9 719.5 1337.9 720.0 1337.9 720.5 1337.9 721.0 1337.9 721.5 1337.9 722.0 1337.9 722.5 1337.9 723.0 1337.9 723.5 1337.9 724.0 1337.8 724.5 1337.8 725.0 1337.8 725.5 1337.8 726.0 1337.8 726.5 1337.8 727.0 1337.8 727.5 1337.8 728.0 1337.8 728.5 1337.8 729.0 1337.8 729.5 1337.8 730.0 1337.8 730.5 1337.8 731.0 1337.8 731.5 1337.8 732.0 1337.8 732.5 1337.8 733.0 1337.8 733.5 1337.8 734.0 1337.8 734.5 1337.7 735.0 1337.7 735.5 1337.7 736.0 1337.7 736.5 1337.7 737.0 1337.7 737.5 1337.7 738.0 1337.7 738.5 1337.7 739.0 1337.7 739.5 1337.7 740.0 1337.7 740.5 1337.7 741.0 1337.7 741.5 1337.7 742.0 1337.7 742.5 1337.7 743.0 1337.7 743.5 1337.6 744.0 1337.6 744.5 1337.6 745.0 1337.6 745.5 1337.6 746.0 1337.6 746.5 1337.6 747.0 1337.6 747.5 1337.6 748.0 1337.6 748.5 1337.6 749.0 1337.6 749.5 1337.6 750.0 1337.6 750.5 1337.5 751.0 1337.5 751.5 1337.5 752.0 1337.5 752.5 1337.5 753.0 1337.5 753.5 1337.5 754.0 1337.5 754.5 1337.5 755.0 1337.5 755.5 1337.5 756.0 1337.5 756.5 1337.5 757.0 1337.4 757.5 1337.4 758.0 1337.4 758.5 1337.4 759.0 1337.4 759.5 1337.4 760.0 1337.4 760.5 1337.4 761.0 1337.4 761.5 1337.4 762.0 1337.4 762.5 1337.4 763.0 1337.3 763.5 1337.3 764.0 1337.3 764.5 1337.3 765.0 1337.3 765.5 1337.3 766.0 1337.3 766.5 1337.3 767.0 1337.3 767.5 1337.3 768.0 1337.3 768.5 1337.2 769.0 1337.2 769.5 1337.2 770.0 1337.2 770.5 1337.2 771.0 1337.2 771.5 1337.2 772.0 1337.2 772.5 1337.2 773.0 1337.1 773.5 1337.1 774.0 1337.1 774.5 1337.1 775.0 1337.1 775.5 1337.1 776.0 1337.1 776.5 1337.1 777.0 1337.1 777.5 1337.0 778.0 1337.0 778.5 1337.0 779.0 1337.0 779.5 1337.0 780.0 1337.0 780.5 1337.0 781.0 1337.0 781.5 1337.0 782.0 1336.9 782.5 1336.9 783.0 1336.9 783.5 1336.9 784.0 1336.9 784.5 1336.9 785.0 1336.9 785.5 1336.9 786.0 1336.8 786.5 1336.8 787.0 1336.8 787.5 1336.8 788.0 1336.8 788.5 1336.8 789.0 1336.8 789.5 1336.7 790.0 1336.7 790.5 1336.7 791.0 1336.7 791.5 1336.7 792.0 1336.7 792.5 1336.7 793.0 1336.6 793.5 1336.6 794.0 1336.6 794.5 1336.6 795.0 1336.6 795.5 1336.6 796.0 1336.5 796.5 1336.5 797.0 1336.5 797.5 1336.4 798.0 1336.4 798.5 1336.3 799.0 1336.3 799.5 1336.2 800.0 1336.2 800.5 1336.1 801.0 1336.1 801.5 1336.1 802.0 1336.0 802.5 1336.0 803.0 1335.9 803.5 1335.9 804.0 1335.9 804.5 1335.8 805.0 1335.8 805.5 1335.8 806.0 1335.8 806.5 1335.8 807.0 1335.8 807.5 1335.8 808.0 1335.9 808.5 1335.9 809.0 1335.9 809.5 1336.0 810.0 1336.0 810.5 1336.1 811.0 1336.1 811.5 1336.2 812.0 1336.2 812.5 1336.3 813.0 1336.3 813.5 1336.4 814.0 1336.4 814.5 1336.5 815.0 1336.6 815.5 1336.7 816.0 1336.8 816.5 1336.9 817.0 1336.9 817.5 1337.0 818.0 1337.1 818.5 1337.2 819.0 1337.3 819.5 1337.4 820.0 1337.5 820.5 1337.6 821.0 1337.7 821.5 1337.9 822.0 1338.0 822.5 1338.1 823.0 1338.3 823.5 1338.4 824.0 1338.5 824.5 1338.7 825.0 1338.8 825.5 1338.9 826.0 1339.0 826.5 1339.1 827.0 1339.1 827.5 1339.2 828.0 1339.2 828.5 1339.2 829.0 1339.2 829.5 1339.2 830.0 1339.2 830.5 1339.2 831.0 1339.2 831.5 1339.2 832.0 1339.1 832.5 1339.1 833.0 1339.1 833.5 1339.1 834.0 1339.1 834.5 1339.0 835.0 1339.0 835.5 1338.9 836.0 1338.5 836.5 1337.9 837.0 1337.1 837.5 1336.1 838.0 1335.0 838.5 1333.8 839.0 1332.5 839.5 1331.2 840.0 1329.9 840.5 1328.6 841.0 1327.4 841.5 1326.0 842.0 1324.4 842.5 1322.7 843.0 1321.0 843.5 1319.3 844.0 1317.8 844.5 1316.5 845.0 1315.5 845.5 1314.7 846.0 1313.9 846.5 1313.2 847.0 1312.5 847.5 1311.9 848.0 1311.4 848.5 1311.0 849.0 1310.8 849.5 1310.8 850.0 1311.3 850.5 1312.1 851.0 1313.3 851.5 1314.8 852.0 1316.6 852.5 1318.4 853.0 1320.4 853.5 1322.4 854.0 1324.4 854.5 1326.2 855.0 1327.9 855.5 1329.5 856.0 1331.2 856.5 1333.0 857.0 1334.8 857.5 1336.6 858.0 1338.3 858.5 1340.1 859.0 1341.8 859.5 1343.4 860.0 1344.9 860.5 1346.3 861.0 1347.6 861.5 1348.9 862.0 1350.3 862.5 1351.6 863.0 1352.9 863.5 1354.2 864.0 1355.3 864.5 1356.2 865.0 1356.9 865.5 1357.3 866.0 1357.5 866.5 1357.4 867.0 1357.2 867.5 1356.8 868.0 1356.2 868.5 1355.6 869.0 1354.9 869.5 1354.1 870.0 1353.2 870.5 1352.4 871.0 1351.5 871.5 1350.6 872.0 1349.6 872.5 1348.4 873.0 1347.1 873.5 1345.7 874.0 1344.2 874.5 1342.6 875.0 1341.0 875.5 1339.5 876.0 1338.0 876.5 1336.6 877.0 1335.3 877.5 1333.9 878.0 1332.6 878.5 1331.3 879.0 1330.0 879.5 1328.6 880.0 1327.3 880.5 1326.0 881.0 1324.7 881.5 1323.3 882.0 1322.0 882.5 1320.6 883.0 1319.0 883.5 1317.5 884.0 1316.0 884.5 1314.6 885.0 1313.5 885.5 1312.6 886.0 1311.7 886.5 1310.9 887.0 1310.1 887.5 1309.5 888.0 1308.9 888.5 1308.6 889.0 1308.4 889.5 1308.5 890.0 1308.8 890.5 1309.3 891.0 1310.0 891.5 1310.8 892.0 1311.7 892.5 1312.7 893.0 1313.7 893.5 1315.0 894.0 1316.5 894.5 1318.3 895.0 1320.2 895.5 1322.2 896.0 1324.2 896.5 1326.2 897.0 1328.4 897.5 1330.6 898.0 1332.9 898.5 1335.2 899.0 1337.4 899.5 1339.5 900.0 1341.7 900.5 1343.9 901.0 1346.1 901.5 1348.2 902.0 1350.1 902.5 1351.9 903.0 1353.3 903.5 1354.6 904.0 1355.9 904.5 1357.2 905.0 1358.4 905.5 1359.4 906.0 1360.3 906.5 1361.0 907.0 1361.4 907.5 1361.5 908.0 1361.2 908.5 1360.6 909.0 1359.7 909.5 1358.6 910.0 1357.4 910.5 1356.1 911.0 1354.8 911.5 1353.1 912.0 1351.1 912.5 1348.9 913.0 1346.6 913.5 1344.4 914.0 1342.2 914.5 1340.3 915.0 1338.5 915.5 1336.7 916.0 1335.0 916.5 1333.2 917.0 1331.5 917.5 1329.9 918.0 1328.3 918.5 1326.8 919.0 1325.3 919.5 1323.9 920.0 1322.6 920.5 1321.4 921.0 1320.2 921.5 1319.1 922.0 1318.0 922.5 1316.9 923.0 1315.8 923.5 1314.6 924.0 1313.3 924.5 1312.0 925.0 1310.9 925.5 1310.0 926.0 1309.3 926.5 1309.0 927.0 1309.1 927.5 1309.5 928.0 1310.2 928.5 1311.1 929.0 1312.1 929.5 1313.3 930.0 1314.6 930.5 1315.8 931.0 1317.1 931.5 1318.2 932.0 1319.4 932.5 1320.6 933.0 1321.9 933.5 1323.3 934.0 1324.8 934.5 1326.3 935.0 1327.9 935.5 1329.7 936.0 1331.7 936.5 1334.0 937.0 1336.4 937.5 1338.8 938.0 1341.2 938.5 1343.4 939.0 1345.3 939.5 1347.1 940.0 1348.8 940.5 1350.5 941.0 1352.0 941.5 1353.4 942.0 1354.4 942.5 1355.3 943.0 1356.2 943.5 1357.0 944.0 1357.6 944.5 1358.0 945.0 1358.2 945.5 1358.1 946.0 1357.8 946.5 1357.4 947.0 1356.8 947.5 1356.2 948.0 1355.5 948.5 1354.8 949.0 1354.1 949.5 1353.2 950.0 1352.2 950.5 1351.0 951.0 1349.7 951.5 1348.4 952.0 1347.1 952.5 1345.8 953.0 1344.6 953.5 1343.6 954.0 1342.6 954.5 1341.6 955.0 1340.6 955.5 1339.6 956.0 1338.7 956.5 1337.8 957.0 1336.9 957.5 1336.2 958.0 1335.5 958.5 1334.9 959.0 1334.4 959.5 1333.9 960.0 1333.5 960.5 1333.0 961.0 1332.6 961.5 1332.3 962.0 1332.0 962.5 1331.8 963.0 1331.7 963.5 1331.7 964.0 1331.8 964.5 1332.0 965.0 1332.2 965.5 1332.5 966.0 1332.8 966.5 1333.2 967.0 1333.6 967.5 1333.9 968.0 1334.3 968.5 1334.6 969.0 1335.0 969.5 1335.3 970.0 1335.8 970.5 1336.2 971.0 1336.6 971.5 1337.1 972.0 1337.5 972.5 1337.9 973.0 1338.3 973.5 1338.7 974.0 1339.0 974.5 1339.3 975.0 1339.5 975.5 1339.7 976.0 1339.9 976.5 1340.1 977.0 1340.4 977.5 1340.5 978.0 1340.7 978.5 1340.9 979.0 1341.0 979.5 1341.1 980.0 1341.2 980.5 1341.3 981.0 1341.3 981.5 1341.3 982.0 1341.2 982.5 1341.1 983.0 1341.0 983.5 1340.8 984.0 1340.7 984.5 1340.5 985.0 1340.3 985.5 1340.1 986.0 1339.9 986.5 1339.7 987.0 1339.5 987.5 1339.3 988.0 1339.1 988.5 1338.9 989.0 1338.6 989.5 1338.4 990.0 1338.1 990.5 1337.9 991.0 1337.7 991.5 1337.5 992.0 1337.4 992.5 1337.3 993.0 1337.3 993.5 1337.3 994.0 1337.3 994.5 1337.3 995.0 1337.3 995.5 1337.3 996.0 1337.3 996.5 1337.3 997.0 1337.3 997.5 1337.3 998.0 1337.3 998.5 1337.3 999.0 1337.3 999.5 1337.3 1000.0 1337.3 1000.5 1337.3 1001.0 1337.3 1001.5 1337.3 1002.0 1337.4 1002.5 1337.4 1003.0 1337.5 1003.5 1337.5 1004.0 1337.6 1004.5 1337.7 1005.0 1337.7 1005.5 1337.8 1006.0 1337.9 1006.5 1337.9 1007.0 1338.0 1007.5 1338.1 1008.0 1338.1 1008.5 1338.1 1009.0 1338.2 1009.5 1338.2 1010.0 1338.2 1010.5 1338.3 1011.0 1338.3 1011.5 1338.3 1012.0 1338.4 1012.5 1338.4 1013.0 1338.4 1013.5 1338.5 1014.0 1338.5 1014.5 1338.5 1015.0 1338.5 1015.5 1338.5 1016.0 1338.5 1016.5 1338.5 1017.0 1338.5 1017.5 1338.5 1018.0 1338.5 1018.5 1338.5 1019.0 1338.5 1019.5 1338.5 1020.0 1338.5 1020.5 1338.5 1021.0 1338.5 1021.5 1338.5 1022.0 1338.5 1022.5 1338.5 1023.0 1338.5 1023.5 1338.5 1024.0 1338.5 1024.5 1338.5 1025.0 1338.5 1025.5 1338.5 1026.0 1338.5 1026.5 1338.5 1027.0 1338.5 1027.5 1338.5 1028.0 1338.5 1028.5 1338.5 1029.0 1338.5 1029.5 1338.5 1030.0 1338.5 1030.5 1338.5 1031.0 1338.5 1031.5 1338.4 1032.0 1338.4 1032.5 1338.4 1033.0 1338.4 1033.5 1338.4 1034.0 1338.4 1034.5 1338.4 1035.0 1338.4 1035.5 1338.4 1036.0 1338.4 1036.5 1338.4 1037.0 1338.4 1037.5 1338.4 1038.0 1338.3 1038.5 1338.3 1039.0 1338.3 1039.5 1338.3 1040.0 1338.3 1040.5 1338.3 1041.0 1338.3 1041.5 1338.3 1042.0 1338.3 1042.5 1338.2 1043.0 1338.2 1043.5 1338.2 1044.0 1338.2 1044.5 1338.2 1045.0 1338.2 1045.5 1338.1 1046.0 1338.1 1046.5 1338.1 1047.0 1338.1 1047.5 1338.1 1048.0 1338.0 1048.5 1338.0 1049.0 1338.0" stroke="#2828b8" stroke-width="1.4" fill="none" stroke-linejoin="round" stroke-dasharray="8.8 4.1"/>
<path d="M589.0 1339.9 589.5 1340.0 590.0 1340.0 590.5 1340.1 591.0 1340.1 591.5 1340.2 592.0 1340.2 592.5 1340.3 593.0 1340.3 593.5 1340.4 594.0 1340.4 594.5 1340.5 595.0 1340.6 595.5 1340.6 596.0 1340.7 596.5 1340.7 597.0 1340.8 597.5 1340.9 598.0 1340.9 598.5 1341.0 599.0 1341.0 599.5 1341.1 600.0 1341.2 600.5 1341.2 601.0 1341.3 601.5 1341.4 602.0 1341.4 602.5 1341.5 603.0 1341.6 603.5 1341.6 604.0 1341.7 604.5 1341.8 605.0 1341.8 605.5 1341.9 606.0 1342.0 606.5 1342.0 607.0 1342.1 607.5 1342.2 608.0 1342.2 608.5 1342.3 609.0 1342.4 609.5 1342.5 610.0 1342.5 610.5 1342.6 611.0 1342.7 611.5 1342.7 612.0 1342.8 612.5 1342.9 613.0 1343.0 613.5 1343.0 614.0 1343.1 614.5 1343.2 615.0 1343.3 615.5 1343.3 616.0 1343.4 616.5 1343.5 617.0 1343.6 617.5 1343.7 618.0 1343.7 618.5 1343.8 619.0 1343.9 619.5 1344.0 620.0 1344.1 620.5 1344.1 621.0 1344.2 621.5 1344.3 622.0 1344.4 622.5 1344.5 623.0 1344.6 623.5 1344.6 624.0 1344.7 624.5 1344.8 625.0 1344.9 625.5 1345.0 626.0 1345.1 626.5 1345.2 627.0 1345.3 627.5 1345.3 628.0 1345.4 628.5 1345.5 629.0 1345.6 629.5 1345.7 630.0 1345.8 630.5 1345.9 631.0 1346.0 631.5 1346.1 632.0 1346.2 632.5 1346.3 633.0 1346.4 633.5 1346.5 634.0 1346.6 634.5 1346.7 635.0 1346.8 635.5 1346.9 636.0 1347.0 636.5 1347.1 637.0 1347.2 637.5 1347.3 638.0 1347.4 638.5 1347.5 639.0 1347.6 639.5 1347.7 640.0 1347.8 640.5 1347.9 641.0 1348.1 641.5 1348.2 642.0 1348.3 642.5 1348.4 643.0 1348.5 643.5 1348.6 644.0 1348.8 644.5 1348.9 645.0 1349.0 645.5 1349.1 646.0 1349.2 646.5 1349.4 647.0 1349.5 647.5 1349.6 648.0 1349.7 648.5 1349.8 649.0 1350.0 649.5 1350.1 650.0 1350.2 650.5 1350.3 651.0 1350.4 651.5 1350.6 652.0 1350.7 652.5 1350.8 653.0 1350.9 653.5 1351.0 654.0 1351.2 654.5 1351.3 655.0 1351.4 655.5 1351.5 656.0 1351.6 656.5 1351.7 657.0 1351.9 657.5 1352.0 658.0 1352.1 658.5 1352.2 659.0 1352.3 659.5 1352.4 660.0 1352.5 660.5 1352.6 661.0 1352.8 661.5 1352.9 662.0 1353.0 662.5 1353.1 663.0 1353.2 663.5 1353.3 664.0 1353.4 664.5 1353.5 665.0 1353.6 665.5 1353.7 666.0 1353.9 666.5 1354.0 667.0 1354.1 667.5 1354.2 668.0 1354.3 668.5 1354.4 669.0 1354.5 669.5 1354.6 670.0 1354.7 670.5 1354.8 671.0 1354.9 671.5 1355.0 672.0 1355.1 672.5 1355.3 673.0 1355.4 673.5 1355.5 674.0 1355.6 674.5 1355.7 675.0 1355.8 675.5 1355.9 676.0 1356.0 676.5 1356.1 677.0 1356.2 677.5 1356.4 678.0 1356.5 678.5 1356.6 679.0 1356.7 679.5 1356.8 680.0 1356.9 680.5 1357.0 681.0 1357.1 681.5 1357.2 682.0 1357.4 682.5 1357.5 683.0 1357.6 683.5 1357.7 684.0 1357.8 684.5 1357.9 685.0 1358.0 685.5 1358.1 686.0 1358.2 686.5 1358.3 687.0 1358.5 687.5 1358.6 688.0 1358.7 688.5 1358.8 689.0 1358.9 689.5 1359.0 690.0 1359.1 690.5 1359.2 691.0 1359.3 691.5 1359.4 692.0 1359.6 692.5 1359.7 693.0 1359.8 693.5 1359.9 694.0 1360.0 694.5 1360.1 695.0 1360.2 695.5 1360.4 696.0 1360.5 696.5 1360.6 697.0 1360.7 697.5 1360.8 698.0 1361.0 698.5 1361.1 699.0 1361.2 699.5 1361.3 700.0 1361.4 700.5 1361.6 701.0 1361.7 701.5 1361.8 702.0 1362.0 702.5 1362.1 703.0 1362.2 703.5 1362.4 704.0 1362.5 704.5 1362.6 705.0 1362.8 705.5 1362.9 706.0 1363.1 706.5 1363.2 707.0 1363.3 707.5 1363.5 708.0 1363.6 708.5 1363.8 709.0 1364.0 709.5 1364.1 710.0 1364.3 710.5 1364.4 711.0 1364.6 711.5 1364.7 712.0 1364.9 712.5 1365.1 713.0 1365.2 713.5 1365.4 714.0 1365.6 714.5 1365.7 715.0 1365.9 715.5 1366.1 716.0 1366.2 716.5 1366.4 717.0 1366.6 717.5 1366.7 718.0 1366.9 718.5 1367.1 719.0 1367.2 719.5 1367.4 720.0 1367.6 720.5 1367.7 721.0 1367.9 721.5 1368.1 722.0 1368.2 722.5 1368.4 723.0 1368.6 723.5 1368.7 724.0 1368.9 724.5 1369.1 725.0 1369.2 725.5 1369.4 726.0 1369.6 726.5 1369.7 727.0 1369.9 727.5 1370.1 728.0 1370.2 728.5 1370.4 729.0 1370.5 729.5 1370.7 730.0 1370.9 730.5 1371.0 731.0 1371.2 731.5 1371.4 732.0 1371.5 732.5 1371.7 733.0 1371.8 733.5 1372.0 734.0 1372.2 734.5 1372.3 735.0 1372.5 735.5 1372.7 736.0 1372.8 736.5 1373.0 737.0 1373.1 737.5 1373.3 738.0 1373.5 738.5 1373.6 739.0 1373.8 739.5 1374.0 740.0 1374.1 740.5 1374.3 741.0 1374.5 741.5 1374.6 742.0 1374.8 742.5 1374.9 743.0 1375.1 743.5 1375.3 744.0 1375.4 744.5 1375.6 745.0 1375.8 745.5 1375.9 746.0 1376.1 746.5 1376.3 747.0 1376.4 747.5 1376.6 748.0 1376.8 748.5 1376.9 749.0 1377.1 749.5 1377.3 750.0 1377.4 750.5 1377.6 751.0 1377.8 751.5 1377.9 752.0 1378.1 752.5 1378.3 753.0 1378.4 753.5 1378.6 754.0 1378.8 754.5 1378.9 755.0 1379.1 755.5 1379.3 756.0 1379.5 756.5 1379.6 757.0 1379.8 757.5 1380.0 758.0 1380.1 758.5 1380.3 759.0 1380.5 759.5 1380.6 760.0 1380.8 760.5 1381.0 761.0 1381.2 761.5 1381.3 762.0 1381.5 762.5 1381.7 763.0 1381.8 763.5 1382.0 764.0 1382.2 764.5 1382.4 765.0 1382.5 765.5 1382.7 766.0 1382.9 766.5 1383.0 767.0 1383.2 767.5 1383.4 768.0 1383.6 768.5 1383.7 769.0 1383.9 769.5 1384.1 770.0 1384.2 770.5 1384.4 771.0 1384.6 771.5 1384.8 772.0 1384.9 772.5 1385.1 773.0 1385.3 773.5 1385.5 774.0 1385.6 774.5 1385.8 775.0 1386.0 775.5 1386.2 776.0 1386.4 776.5 1386.6 777.0 1386.8 777.5 1387.0 778.0 1387.1 778.5 1387.3 779.0 1387.5 779.5 1387.7 780.0 1387.9 780.5 1388.1 781.0 1388.3 781.5 1388.4 782.0 1388.6 782.5 1388.8 783.0 1389.0 783.5 1389.1 784.0 1389.3 784.5 1389.5 785.0 1389.6 785.5 1389.8 786.0 1390.0 786.5 1390.1 787.0 1390.3 787.5 1390.4 788.0 1390.5 788.5 1390.7 789.0 1390.8 789.5 1390.9 790.0 1391.1 790.5 1391.2 791.0 1391.3 791.5 1391.5 792.0 1391.6 792.5 1391.7 793.0 1391.8 793.5 1392.0 794.0 1392.1 794.5 1392.2 795.0 1392.3 795.5 1392.4 796.0 1392.5 796.5 1392.6 797.0 1392.7 797.5 1392.8 798.0 1392.8 798.5 1392.9 799.0 1393.0 799.5 1393.0 800.0 1393.1 800.5 1393.1 801.0 1393.1 801.5 1393.2 802.0 1393.2 802.5 1393.2 803.0 1393.3 803.5 1393.3 804.0 1393.3 804.5 1393.4 805.0 1393.4 805.5 1393.4 806.0 1393.5 806.5 1393.6 807.0 1393.7 807.5 1393.8 808.0 1393.9 808.5 1394.0 809.0 1394.2 809.5 1394.4 810.0 1394.6 810.5 1394.8 811.0 1395.0 811.5 1395.2 812.0 1395.5 812.5 1395.8 813.0 1396.2 813.5 1396.7 814.0 1397.2 814.5 1397.8 815.0 1398.5 815.5 1399.3 816.0 1400.1 816.5 1400.9 817.0 1401.8 817.5 1402.8 818.0 1403.9 818.5 1405.3 819.0 1407.0 819.5 1408.8 820.0 1410.8 820.5 1412.8 821.0 1414.9 821.5 1416.8 822.0 1418.7 822.5 1420.4 823.0 1422.3 823.5 1424.1 824.0 1425.8 824.5 1427.3 825.0 1428.5 825.5 1429.5 826.0 1430.5 826.5 1431.3 827.0 1431.9 827.5 1432.1 828.0 1430.9 828.5 1427.7 829.0 1423.0 829.5 1417.3 830.0 1411.2 830.5 1404.9 831.0 1396.8 831.5 1387.2 832.0 1376.5 832.5 1365.4 833.0 1354.7 833.5 1344.5 834.0 1334.2 834.5 1323.8 835.0 1313.4 835.5 1303.3 836.0 1293.7 836.5 1284.5 837.0 1275.4 837.5 1266.7 838.0 1258.2 838.5 1250.1 839.0 1242.5 839.5 1234.7 840.0 1227.0 840.5 1220.0 841.0 1214.4 841.5 1210.7 842.0 1207.7 842.5 1205.4 843.0 1204.0 843.5 1203.2 844.0 1202.6 844.5 1202.6 845.0 1203.3 845.5 1204.6 846.0 1206.3 846.5 1209.3 847.0 1213.6 847.5 1219.2 848.0 1228.4 848.5 1241.3 849.0 1255.7 849.5 1269.7 850.0 1282.1 850.5 1294.3 851.0 1306.5 851.5 1318.3 852.0 1329.5 852.5 1340.3 853.0 1351.0 853.5 1361.3 854.0 1371.1 854.5 1380.3 855.0 1388.5 855.5 1396.1 856.0 1403.6 856.5 1410.7 857.0 1417.4 857.5 1423.6 858.0 1429.0 858.5 1433.6 859.0 1437.3 859.5 1440.6 860.0 1443.5 860.5 1446.1 861.0 1448.4 861.5 1450.4 862.0 1452.0 862.5 1453.4 863.0 1454.8 863.5 1455.9 864.0 1456.4 864.5 1456.4 865.0 1455.6 865.5 1454.2 866.0 1452.3 866.5 1450.0 867.0 1445.5 867.5 1438.2 868.0 1429.7 868.5 1421.4 869.0 1412.5 869.5 1402.9 870.0 1392.8 870.5 1382.3 871.0 1371.7 871.5 1360.8 872.0 1349.2 872.5 1337.1 873.0 1325.2 873.5 1313.6 874.0 1303.0 874.5 1293.6 875.0 1284.2 875.5 1273.1 876.0 1260.6 876.5 1247.6 877.0 1235.2 877.5 1223.6 878.0 1212.0 878.5 1199.7 879.0 1185.4 879.5 1169.2 880.0 1153.3 880.5 1137.8 881.0 1123.5 881.5 1111.5 882.0 1100.7 882.5 1093.2 883.0 1088.5 883.5 1084.5 884.0 1081.9 884.5 1081.3 885.0 1082.8 885.5 1086.2 886.0 1090.5 886.5 1095.2 887.0 1101.9 887.5 1110.6 888.0 1120.7 888.5 1134.3 889.0 1150.2 889.5 1165.9 890.0 1182.4 890.5 1196.9 891.0 1208.8 891.5 1219.6 892.0 1230.8 892.5 1242.1 893.0 1253.4 893.5 1265.0 894.0 1277.4 894.5 1290.7 895.0 1305.2 895.5 1321.4 896.0 1342.1 896.5 1362.3 897.0 1376.0 897.5 1386.7 898.0 1395.8 898.5 1404.6 899.0 1413.9 899.5 1423.4 900.0 1431.8 900.5 1438.0 901.0 1442.6 901.5 1446.9 902.0 1450.8 902.5 1453.9 903.0 1456.0 903.5 1457.0 904.0 1456.3 904.5 1453.6 905.0 1449.5 905.5 1444.4 906.0 1439.1 906.5 1432.9 907.0 1424.9 907.5 1415.7 908.0 1406.4 908.5 1397.2 909.0 1387.6 909.5 1377.3 910.0 1366.2 910.5 1353.1 911.0 1338.9 911.5 1325.2 912.0 1313.5 912.5 1303.5 913.0 1294.1 913.5 1284.3 914.0 1273.2 914.5 1261.3 915.0 1248.9 915.5 1236.2 916.0 1223.4 916.5 1210.6 917.0 1197.1 917.5 1182.1 918.0 1165.8 918.5 1150.4 919.0 1135.8 919.5 1121.4 920.0 1105.9 920.5 1090.3 921.0 1078.8 921.5 1070.3 922.0 1063.2 922.5 1057.7 923.0 1053.9 923.5 1050.6 924.0 1047.7 924.5 1045.4 925.0 1044.1 925.5 1044.1 926.0 1045.8 926.5 1049.1 927.0 1053.4 927.5 1059.7 928.0 1071.1 928.5 1082.8 929.0 1093.6 929.5 1104.7 930.0 1116.1 930.5 1128.1 931.0 1140.6 931.5 1153.7 932.0 1168.0 932.5 1183.1 933.0 1196.8 933.5 1208.8 934.0 1219.9 934.5 1230.6 935.0 1240.3 935.5 1249.4 936.0 1259.0 936.5 1270.3 937.0 1285.4 937.5 1306.0 938.0 1324.1 938.5 1338.7 939.0 1351.4 939.5 1362.9 940.0 1373.2 940.5 1381.7 941.0 1388.9 941.5 1395.7 942.0 1401.5 942.5 1405.6 943.0 1407.6 943.5 1409.1 944.0 1410.3 944.5 1411.0 945.0 1411.3 945.5 1410.8 946.0 1409.3 946.5 1407.1 947.0 1404.3 947.5 1401.1 948.0 1397.6 948.5 1393.1 949.0 1386.5 949.5 1378.8 950.0 1370.9 950.5 1363.9 951.0 1357.5 951.5 1351.1 952.0 1344.6 952.5 1337.7 953.0 1329.9 953.5 1321.2 954.0 1312.3 954.5 1304.0 955.0 1297.0 955.5 1291.0 956.0 1285.5 956.5 1280.3 957.0 1275.6 957.5 1271.2 958.0 1267.1 958.5 1263.1 959.0 1259.3 959.5 1256.0 960.0 1253.5 960.5 1251.9 961.0 1250.5 961.5 1249.3 962.0 1248.5 962.5 1248.2 963.0 1248.6 963.5 1249.6 964.0 1251.1 964.5 1253.0 965.0 1255.1 965.5 1257.3 966.0 1260.1 966.5 1263.9 967.0 1268.2 967.5 1272.8 968.0 1277.3 968.5 1282.1 969.0 1287.1 969.5 1292.2 970.0 1297.3 970.5 1302.2 971.0 1307.1 971.5 1312.0 972.0 1317.0 972.5 1322.0 973.0 1327.6 973.5 1333.4 974.0 1338.8 974.5 1343.4 975.0 1347.1 975.5 1350.4 976.0 1353.3 976.5 1355.7 977.0 1357.4 977.5 1358.8 978.0 1360.1 978.5 1361.3 979.0 1362.3 979.5 1363.1 980.0 1363.7 980.5 1364.0 981.0 1364.0 981.5 1363.7 982.0 1363.2 982.5 1362.5 983.0 1361.7 983.5 1360.7 984.0 1359.7 984.5 1358.6 985.0 1357.5 985.5 1356.4 986.0 1355.0 986.5 1353.5 987.0 1351.8 987.5 1350.0 988.0 1348.2 988.5 1346.5 989.0 1344.7 989.5 1342.8 990.0 1340.9 990.5 1339.1 991.0 1337.5 991.5 1336.0 992.0 1334.7 992.5 1333.3 993.0 1332.0 993.5 1330.8 994.0 1329.8 994.5 1328.9 995.0 1328.3 995.5 1327.8 996.0 1327.4 996.5 1327.0 997.0 1326.6 997.5 1326.3 998.0 1326.1 998.5 1326.0 999.0 1325.9 999.5 1326.0 1000.0 1326.4 1000.5 1327.0 1001.0 1327.7 1001.5 1328.5 1002.0 1329.3 1002.5 1330.1 1003.0 1330.8 1003.5 1331.6 1004.0 1332.4 1004.5 1333.3 1005.0 1334.2 1005.5 1335.1 1006.0 1335.8 1006.5 1336.5 1007.0 1337.0 1007.5 1337.6 1008.0 1338.1 1008.5 1338.6 1009.0 1339.0 1009.5 1339.4 1010.0 1339.8 1010.5 1340.1 1011.0 1340.4 1011.5 1340.6 1012.0 1340.8 1012.5 1341.0 1013.0 1341.3 1013.5 1341.5 1014.0 1341.7 1014.5 1341.8 1015.0 1342.0 1015.5 1342.1 1016.0 1342.2 1016.5 1342.3 1017.0 1342.3 1017.5 1342.3 1018.0 1342.2 1018.5 1342.0 1019.0 1341.7 1019.5 1341.4 1020.0 1341.0 1020.5 1340.6 1021.0 1340.3 1021.5 1339.9 1022.0 1339.5 1022.5 1339.2 1023.0 1339.0 1023.5 1338.8 1024.0 1338.7 1024.5 1338.5 1025.0 1338.4 1025.5 1338.2 1026.0 1338.1 1026.5 1338.0 1027.0 1337.8 1027.5 1337.7 1028.0 1337.6 1028.5 1337.5 1029.0 1337.4 1029.5 1337.4 1030.0 1337.3 1030.5 1337.3 1031.0 1337.3 1031.5 1337.3 1032.0 1337.3 1032.5 1337.3 1033.0 1337.3 1033.5 1337.3 1034.0 1337.3 1034.5 1337.3 1035.0 1337.3 1035.5 1337.3 1036.0 1337.3 1036.5 1337.3 1037.0 1337.3 1037.5 1337.3 1038.0 1337.3 1038.5 1337.3 1039.0 1337.3 1039.5 1337.3 1040.0 1337.3 1040.5 1337.3 1041.0 1337.3 1041.5 1337.4 1042.0 1337.4 1042.5 1337.4 1043.0 1337.5 1043.5 1337.5 1044.0 1337.5 1044.5 1337.6 1045.0 1337.6 1045.5 1337.7 1046.0 1337.7 1046.5 1337.7 1047.0 1337.8 1047.5 1337.8 1048.0 1337.9 1048.5 1337.9 1049.0 1338.0" stroke="#237623" stroke-width="1.4" fill="none" stroke-linejoin="round" stroke-dasharray="4.7 6"/>
<path d="M589.0 1338.3 589.5 1338.3 590.0 1338.3 590.5 1338.3 591.0 1338.3 591.5 1338.3 592.0 1338.3 592.5 1338.3 593.0 1338.3 593.5 1338.3 594.0 1338.3 594.5 1338.3 595.0 1338.3 595.5 1338.3 596.0 1338.3 596.5 1338.3 597.0 1338.3 597.5 1338.3 598.0 1338.3 598.5 1338.3 599.0 1338.3 599.5 1338.3 600.0 1338.3 600.5 1338.3 601.0 1338.3 601.5 1338.3 602.0 1338.3 602.5 1338.3 603.0 1338.3 603.5 1338.3 604.0 1338.3 604.5 1338.3 605.0 1338.3 605.5 1338.3 606.0 1338.3 606.5 1338.3 607.0 1338.3 607.5 1338.3 608.0 1338.3 608.5 1338.3 609.0 1338.3 609.5 1338.3 610.0 1338.3 610.5 1338.3 611.0 1338.3 611.5 1338.3 612.0 1338.3 612.5 1338.3 613.0 1338.3 613.5 1338.3 614.0 1338.3 614.5 1338.3 615.0 1338.3 615.5 1338.3 616.0 1338.3 616.5 1338.3 617.0 1338.3 617.5 1338.3 618.0 1338.3 618.5 1338.3 619.0 1338.3 619.5 1338.3 620.0 1338.3 620.5 1338.3 621.0 1338.3 621.5 1338.3 622.0 1338.3 622.5 1338.3 623.0 1338.3 623.5 1338.3 624.0 1338.3 624.5 1338.3 625.0 1338.3 625.5 1338.3 626.0 1338.3 626.5 1338.3 627.0 1338.3 627.5 1338.3 628.0 1338.3 628.5 1338.3 629.0 1338.3 629.5 1338.3 630.0 1338.3 630.5 1338.3 631.0 1338.2 631.5 1338.2 632.0 1338.2 632.5 1338.2 633.0 1338.2 633.5 1338.2 634.0 1338.2 634.5 1338.2 635.0 1338.2 635.5 1338.2 636.0 1338.2 636.5 1338.2 637.0 1338.2 637.5 1338.2 638.0 1338.2 638.5 1338.2 639.0 1338.2 639.5 1338.2 640.0 1338.2 640.5 1338.2 641.0 1338.2 641.5 1338.2 642.0 1338.2 642.5 1338.2 643.0 1338.2 643.5 1338.2 644.0 1338.2 644.5 1338.2 645.0 1338.2 645.5 1338.2 646.0 1338.2 646.5 1338.2 647.0 1338.2 647.5 1338.2 648.0 1338.2 648.5 1338.2 649.0 1338.2 649.5 1338.2 650.0 1338.2 650.5 1338.2 651.0 1338.2 651.5 1338.2 652.0 1338.2 652.5 1338.2 653.0 1338.2 653.5 1338.2 654.0 1338.2 654.5 1338.2 655.0 1338.2 655.5 1338.2 656.0 1338.2 656.5 1338.2 657.0 1338.2 657.5 1338.2 658.0 1338.2 658.5 1338.2 659.0 1338.2 659.5 1338.2 660.0 1338.2 660.5 1338.2 661.0 1338.2 661.5 1338.2 662.0 1338.2 662.5 1338.2 663.0 1338.2 663.5 1338.2 664.0 1338.2 664.5 1338.1 665.0 1338.1 665.5 1338.1 666.0 1338.1 666.5 1338.1 667.0 1338.1 667.5 1338.1 668.0 1338.1 668.5 1338.1 669.0 1338.1 669.5 1338.1 670.0 1338.1 670.5 1338.1 671.0 1338.1 671.5 1338.1 672.0 1338.1 672.5 1338.1 673.0 1338.1 673.5 1338.1 674.0 1338.1 674.5 1338.1 675.0 1338.1 675.5 1338.1 676.0 1338.1 676.5 1338.1 677.0 1338.1 677.5 1338.1 678.0 1338.1 678.5 1338.1 679.0 1338.1 679.5 1338.1 680.0 1338.1 680.5 1338.1 681.0 1338.1 681.5 1338.1 682.0 1338.1 682.5 1338.1 683.0 1338.1 683.5 1338.1 684.0 1338.1 684.5 1338.1 685.0 1338.1 685.5 1338.1 686.0 1338.1 686.5 1338.1 687.0 1338.1 687.5 1338.1 688.0 1338.1 688.5 1338.1 689.0 1338.1 689.5 1338.0 690.0 1338.0 690.5 1338.0 691.0 1338.0 691.5 1338.0 692.0 1338.0 692.5 1338.0 693.0 1338.0 693.5 1338.0 694.0 1338.0 694.5 1338.0 695.0 1338.0 695.5 1338.0 696.0 1338.0 696.5 1338.0 697.0 1338.0 697.5 1338.0 698.0 1338.0 698.5 1338.0 699.0 1338.0 699.5 1338.0 700.0 1338.0 700.5 1338.0 701.0 1338.0 701.5 1338.0 702.0 1338.0 702.5 1338.0 703.0 1338.0 703.5 1338.0 704.0 1338.0 704.5 1338.0 705.0 1338.0 705.5 1338.0 706.0 1338.0 706.5 1338.0 707.0 1338.0 707.5 1338.0 708.0 1337.9 708.5 1337.9 709.0 1337.9 709.5 1337.9 710.0 1337.9 710.5 1337.9 711.0 1337.9 711.5 1337.9 712.0 1337.9 712.5 1337.9 713.0 1337.9 713.5 1337.9 714.0 1337.9 714.5 1337.9 715.0 1337.9 715.5 1337.9 716.0 1337.9 716.5 1337.9 717.0 1337.9 717.5 1337.8 718.0 1337.8 718.5 1337.8 719.0 1337.8 719.5 1337.8 720.0 1337.8 720.5 1337.8 721.0 1337.8 721.5 1337.8 722.0 1337.8 722.5 1337.8 723.0 1337.8 723.5 1337.8 724.0 1337.8 724.5 1337.7 725.0 1337.7 725.5 1337.7 726.0 1337.7 726.5 1337.7 727.0 1337.7 727.5 1337.7 728.0 1337.7 728.5 1337.7 729.0 1337.7 729.5 1337.7 730.0 1337.7 730.5 1337.7 731.0 1337.6 731.5 1337.6 732.0 1337.6 732.5 1337.6 733.0 1337.6 733.5 1337.6 734.0 1337.6 734.5 1337.6 735.0 1337.6 735.5 1337.6 736.0 1337.6 736.5 1337.5 737.0 1337.5 737.5 1337.5 738.0 1337.5 738.5 1337.5 739.0 1337.5 739.5 1337.5 740.0 1337.5 740.5 1337.5 741.0 1337.5 741.5 1337.5 742.0 1337.4 742.5 1337.4 743.0 1337.4 743.5 1337.4 744.0 1337.4 744.5 1337.4 745.0 1337.4 745.5 1337.4 746.0 1337.4 746.5 1337.4 747.0 1337.4 747.5 1337.3 748.0 1337.3 748.5 1337.3 749.0 1337.3 749.5 1337.3 750.0 1337.3 750.5 1337.3 751.0 1337.3 751.5 1337.3 752.0 1337.3 752.5 1337.2 753.0 1337.2 753.5 1337.2 754.0 1337.2 754.5 1337.2 755.0 1337.2 755.5 1337.2 756.0 1337.2 756.5 1337.2 757.0 1337.2 757.5 1337.1 758.0 1337.1 758.5 1337.1 759.0 1337.1 759.5 1337.1 760.0 1337.1 760.5 1337.1 761.0 1337.1 761.5 1337.1 762.0 1337.1 762.5 1337.0 763.0 1337.0 763.5 1337.0 764.0 1337.0 764.5 1337.0 765.0 1337.0 765.5 1337.0 766.0 1337.0 766.5 1337.0 767.0 1337.0 767.5 1336.9 768.0 1336.9 768.5 1336.9 769.0 1336.9 769.5 1336.9 770.0 1336.9 770.5 1336.9 771.0 1336.9 771.5 1336.9 772.0 1336.9 772.5 1336.8 773.0 1336.8 773.5 1336.8 774.0 1336.8 774.5 1336.8 775.0 1336.8 775.5 1336.8 776.0 1336.8 776.5 1336.8 777.0 1336.8 777.5 1336.8 778.0 1336.7 778.5 1336.7 779.0 1336.7 779.5 1336.7 780.0 1336.7 780.5 1336.7 781.0 1336.7 781.5 1336.7 782.0 1336.7 782.5 1336.7 783.0 1336.7 783.5 1336.6 784.0 1336.6 784.5 1336.6 785.0 1336.6 785.5 1336.6 786.0 1336.6 786.5 1336.6 787.0 1336.6 787.5 1336.6 788.0 1336.6 788.5 1336.6 789.0 1336.6 789.5 1336.5 790.0 1336.5 790.5 1336.5 791.0 1336.5 791.5 1336.5 792.0 1336.5 792.5 1336.5 793.0 1336.5 793.5 1336.5 794.0 1336.5 794.5 1336.5 795.0 1336.5 795.5 1336.5 796.0 1336.5 796.5 1336.4 797.0 1336.4 797.5 1336.4 798.0 1336.4 798.5 1336.4 799.0 1336.4 799.5 1336.4 800.0 1336.4 800.5 1336.4 801.0 1336.4 801.5 1336.4 802.0 1336.4 802.5 1336.4 803.0 1336.4 803.5 1336.4 804.0 1336.4 804.5 1336.4 805.0 1336.4 805.5 1336.4 806.0 1336.3 806.5 1336.3 807.0 1336.3 807.5 1336.3 808.0 1336.3 808.5 1336.3 809.0 1336.3 809.5 1336.3 810.0 1336.3 810.5 1336.3 811.0 1336.3 811.5 1336.3 812.0 1336.3 812.5 1336.3 813.0 1336.3 813.5 1336.3 814.0 1336.3 814.5 1336.3 815.0 1336.3 815.5 1336.3 816.0 1336.3 816.5 1336.2 817.0 1336.2 817.5 1336.2 818.0 1336.2 818.5 1336.2 819.0 1336.2 819.5 1336.2 820.0 1336.1 820.5 1336.0 821.0 1335.9 821.5 1335.8 822.0 1335.6 822.5 1335.4 823.0 1335.2 823.5 1334.9 824.0 1334.7 824.5 1334.4 825.0 1334.1 825.5 1333.8 826.0 1333.4 826.5 1333.1 827.0 1332.7 827.5 1332.4 828.0 1332.0 828.5 1331.6 829.0 1331.1 829.5 1330.5 830.0 1329.7 830.5 1328.8 831.0 1327.9 831.5 1326.9 832.0 1325.9 832.5 1325.0 833.0 1324.0 833.5 1323.2 834.0 1322.4 834.5 1321.8 835.0 1321.3 835.5 1320.9 836.0 1320.6 836.5 1320.2 837.0 1319.9 837.5 1319.6 838.0 1319.5 838.5 1319.3 839.0 1319.3 839.5 1319.7 840.0 1320.5 840.5 1321.7 841.0 1323.1 841.5 1324.8 842.0 1326.5 842.5 1328.3 843.0 1329.9 843.5 1331.4 844.0 1332.8 844.5 1334.2 845.0 1335.7 845.5 1337.2 846.0 1338.8 846.5 1340.2 847.0 1341.7 847.5 1343.0 848.0 1344.3 848.5 1345.4 849.0 1346.3 849.5 1347.1 850.0 1347.8 850.5 1348.5 851.0 1349.2 851.5 1349.9 852.0 1350.4 852.5 1350.9 853.0 1351.3 853.5 1351.5 854.0 1351.6 854.5 1351.5 855.0 1351.3 855.5 1350.9 856.0 1350.4 856.5 1349.8 857.0 1349.0 857.5 1348.3 858.0 1347.4 858.5 1346.5 859.0 1345.6 859.5 1344.7 860.0 1343.8 860.5 1342.9 861.0 1342.0 861.5 1340.9 862.0 1339.8 862.5 1338.6 863.0 1337.3 863.5 1336.0 864.0 1334.7 864.5 1333.4 865.0 1332.1 865.5 1330.7 866.0 1329.3 866.5 1327.8 867.0 1326.3 867.5 1324.7 868.0 1323.2 868.5 1321.8 869.0 1320.4 869.5 1319.2 870.0 1318.1 870.5 1317.1 871.0 1316.1 871.5 1315.1 872.0 1314.2 872.5 1313.2 873.0 1312.4 873.5 1311.6 874.0 1310.9 874.5 1310.3 875.0 1310.0 875.5 1309.7 876.0 1309.7 876.5 1309.9 877.0 1310.1 877.5 1310.6 878.0 1311.1 878.5 1311.7 879.0 1312.3 879.5 1313.1 880.0 1313.8 880.5 1314.6 881.0 1315.7 881.5 1317.0 882.0 1318.5 882.5 1320.1 883.0 1321.9 883.5 1323.8 884.0 1325.7 884.5 1327.6 885.0 1329.5 885.5 1331.3 886.0 1333.3 886.5 1335.3 887.0 1337.5 887.5 1339.6 888.0 1341.7 888.5 1343.6 889.0 1345.4 889.5 1347.0 890.0 1348.8 890.5 1350.6 891.0 1352.4 891.5 1354.0 892.0 1355.6 892.5 1356.9 893.0 1358.0 893.5 1358.7 894.0 1359.0 894.5 1358.9 895.0 1358.6 895.5 1358.1 896.0 1357.4 896.5 1356.5 897.0 1355.6 897.5 1354.5 898.0 1353.5 898.5 1352.3 899.0 1351.2 899.5 1350.1 900.0 1348.8 900.5 1347.4 901.0 1345.8 901.5 1344.1 902.0 1342.4 902.5 1340.7 903.0 1338.9 903.5 1337.2 904.0 1335.5 904.5 1333.7 905.0 1331.9 905.5 1330.0 906.0 1328.1 906.5 1326.3 907.0 1324.6 907.5 1323.1 908.0 1321.7 908.5 1320.4 909.0 1319.1 909.5 1317.7 910.0 1316.4 910.5 1315.1 911.0 1313.8 911.5 1312.7 912.0 1311.7 912.5 1310.8 913.0 1310.0 913.5 1309.5 914.0 1309.2 914.5 1309.1 915.0 1309.2 915.5 1309.4 916.0 1309.8 916.5 1310.2 917.0 1310.8 917.5 1311.4 918.0 1312.1 918.5 1312.9 919.0 1313.7 919.5 1314.5 920.0 1315.4 920.5 1316.4 921.0 1317.7 921.5 1319.3 922.0 1321.0 922.5 1322.9 923.0 1324.8 923.5 1326.8 924.0 1328.7 924.5 1330.6 925.0 1332.5 925.5 1334.6 926.0 1336.7 926.5 1338.9 927.0 1340.9 927.5 1342.9 928.0 1344.7 928.5 1346.3 929.0 1347.9 929.5 1349.6 930.0 1351.3 930.5 1352.9 931.0 1354.4 931.5 1355.8 932.0 1357.0 932.5 1358.0 933.0 1358.6 933.5 1359.0 934.0 1359.0 934.5 1358.8 935.0 1358.5 935.5 1358.0 936.0 1357.4 936.5 1356.7 937.0 1356.0 937.5 1355.2 938.0 1354.3 938.5 1353.5 939.0 1352.6 939.5 1351.7 940.0 1350.9 940.5 1349.8 941.0 1348.6 941.5 1347.3 942.0 1345.9 942.5 1344.5 943.0 1343.0 943.5 1341.6 944.0 1340.2 944.5 1338.9 945.0 1337.8 945.5 1336.7 946.0 1335.9 946.5 1335.0 947.0 1334.2 947.5 1333.4 948.0 1332.5 948.5 1331.7 949.0 1331.0 949.5 1330.2 950.0 1329.6 950.5 1328.9 951.0 1328.4 951.5 1327.9 952.0 1327.6 952.5 1327.3 953.0 1327.1 953.5 1327.1 954.0 1327.2 954.5 1327.3 955.0 1327.6 955.5 1327.9 956.0 1328.2 956.5 1328.6 957.0 1329.1 957.5 1329.6 958.0 1330.1 958.5 1330.6 959.0 1331.2 959.5 1331.7 960.0 1332.3 960.5 1333.1 961.0 1334.0 961.5 1335.0 962.0 1336.1 962.5 1337.2 963.0 1338.2 963.5 1339.3 964.0 1340.2 964.5 1341.1 965.0 1341.8 965.5 1342.3 966.0 1342.7 966.5 1343.1 967.0 1343.5 967.5 1343.9 968.0 1344.3 968.5 1344.6 969.0 1344.8 969.5 1345.1 970.0 1345.2 970.5 1345.3 971.0 1345.3 971.5 1345.2 972.0 1344.9 972.5 1344.6 973.0 1344.1 973.5 1343.6 974.0 1343.1 974.5 1342.5 975.0 1341.9 975.5 1341.3 976.0 1340.8 976.5 1340.3 977.0 1339.8 977.5 1339.4 978.0 1339.1 978.5 1338.8 979.0 1338.5 979.5 1338.2 980.0 1337.9 980.5 1337.6 981.0 1337.3 981.5 1337.0 982.0 1336.8 982.5 1336.5 983.0 1336.3 983.5 1336.1 984.0 1335.9 984.5 1335.8 985.0 1335.7 985.5 1335.6 986.0 1335.6 986.5 1335.6 987.0 1335.7 987.5 1335.8 988.0 1335.9 988.5 1336.1 989.0 1336.3 989.5 1336.5 990.0 1336.6 990.5 1336.8 991.0 1337.0 991.5 1337.2 992.0 1337.3 992.5 1337.4 993.0 1337.5 993.5 1337.6 994.0 1337.6 994.5 1337.7 995.0 1337.7 995.5 1337.8 996.0 1337.8 996.5 1337.8 997.0 1337.9 997.5 1337.9 998.0 1337.9 998.5 1338.0 999.0 1338.0 999.5 1338.0 1000.0 1338.0 1000.5 1338.0 1001.0 1338.0 1001.5 1338.0 1002.0 1338.0 1002.5 1338.0 1003.0 1338.0 1003.5 1338.0 1004.0 1338.0 1004.5 1338.0 1005.0 1338.0 1005.5 1338.0 1006.0 1338.0 1006.5 1338.0 1007.0 1338.0 1007.5 1338.0 1008.0 1338.0 1008.5 1338.0 1009.0 1338.0 1009.5 1338.0 1010.0 1338.0 1010.5 1338.0 1011.0 1338.0 1011.5 1338.0 1012.0 1338.0 1012.5 1338.0 1013.0 1338.0 1013.5 1338.0 1014.0 1338.0 1014.5 1338.0 1015.0 1338.0 1015.5 1338.0 1016.0 1338.0 1016.5 1338.0 1017.0 1338.0 1017.5 1338.0 1018.0 1338.0 1018.5 1338.0 1019.0 1338.0 1019.5 1338.0 1020.0 1338.0 1020.5 1338.0 1021.0 1338.0 1021.5 1338.0 1022.0 1338.0 1022.5 1338.0 1023.0 1338.0 1023.5 1338.0 1024.0 1338.0 1024.5 1338.0 1025.0 1338.0 1025.5 1338.0 1026.0 1338.0 1026.5 1338.0 1027.0 1338.0 1027.5 1338.0 1028.0 1338.0 1028.5 1338.0 1029.0 1338.0 1029.5 1338.0 1030.0 1338.0 1030.5 1338.0 1031.0 1338.0 1031.5 1338.0 1032.0 1338.0 1032.5 1338.0 1033.0 1338.0 1033.5 1338.0 1034.0 1338.0 1034.5 1338.0 1035.0 1338.0 1035.5 1338.0 1036.0 1338.0 1036.5 1338.0 1037.0 1338.0 1037.5 1338.0 1038.0 1338.0 1038.5 1338.0 1039.0 1338.0 1039.5 1338.0 1040.0 1338.0 1040.5 1338.0 1041.0 1338.0 1041.5 1338.0 1042.0 1338.0 1042.5 1338.0 1043.0 1338.0 1043.5 1338.0 1044.0 1338.0 1044.5 1338.0 1045.0 1338.0 1045.5 1338.0 1046.0 1338.0 1046.5 1338.0 1047.0 1338.0 1047.5 1338.0 1048.0 1338.0 1048.5 1338.0 1049.0 1338.0" stroke="#763a7e" stroke-width="1.4" fill="none" stroke-linejoin="round" stroke-dasharray="2.4 2.96"/>
<path d="M108.80 78.72h13.6M568.90 78.72h-13.6M108.80 222.31h13.6M568.90 222.31h-13.6M108.80 365.91h13.6M568.90 365.91h-13.6M108.80 509.50h13.6M568.90 509.50h-13.6M223.82 50.00v13.6M223.82 509.50v-13.6M415.53 50.00v13.6M415.53 509.50v-13.6" stroke="#000" stroke-width="1.9" fill="none"/>
<rect x="108.80" y="50.00" width="460.10" height="459.50" stroke="#000" stroke-width="2" fill="none"/>
<path d="M108.80 564.72h13.6M568.90 564.72h-13.6M108.80 708.31h13.6M568.90 708.31h-13.6M108.80 851.91h13.6M568.90 851.91h-13.6M108.80 995.50h13.6M568.90 995.50h-13.6M223.82 536.00v13.6M223.82 995.50v-13.6M415.53 536.00v13.6M415.53 995.50v-13.6" stroke="#000" stroke-width="1.9" fill="none"/>
<rect x="108.80" y="536.00" width="460.10" height="459.50" stroke="#000" stroke-width="2" fill="none"/>
<path d="M108.80 1050.72h13.6M568.90 1050.72h-13.6M108.80 1194.31h13.6M568.90 1194.31h-13.6M108.80 1337.91h13.6M568.90 1337.91h-13.6M108.80 1481.50h13.6M568.90 1481.50h-13.6M223.82 1022.00v13.6M223.82 1481.50v-13.6M415.53 1022.00v13.6M415.53 1481.50v-13.6" stroke="#000" stroke-width="1.9" fill="none"/>
<rect x="108.80" y="1022.00" width="460.10" height="459.50" stroke="#000" stroke-width="2" fill="none"/>
<path d="M588.80 78.72h13.6M1048.90 78.72h-13.6M588.80 222.31h13.6M1048.90 222.31h-13.6M588.80 365.91h13.6M1048.90 365.91h-13.6M588.80 509.50h13.6M1048.90 509.50h-13.6M703.82 50.00v13.6M703.82 509.50v-13.6M895.53 50.00v13.6M895.53 509.50v-13.6" stroke="#000" stroke-width="1.9" fill="none"/>
<rect x="588.80" y="50.00" width="460.10" height="459.50" stroke="#000" stroke-width="2" fill="none"/>
<path d="M588.80 564.72h13.6M1048.90 564.72h-13.6M588.80 708.31h13.6M1048.90 708.31h-13.6M588.80 851.91h13.6M1048.90 851.91h-13.6M588.80 995.50h13.6M1048.90 995.50h-13.6M703.82 536.00v13.6M703.82 995.50v-13.6M895.53 536.00v13.6M895.53 995.50v-13.6" stroke="#000" stroke-width="1.9" fill="none"/>
<rect x="588.80" y="536.00" width="460.10" height="459.50" stroke="#000" stroke-width="2" fill="none"/>
<path d="M588.80 1050.72h13.6M1048.90 1050.72h-13.6M588.80 1194.31h13.6M1048.90 1194.31h-13.6M588.80 1337.91h13.6M1048.90 1337.91h-13.6M588.80 1481.50h13.6M1048.90 1481.50h-13.6M703.82 1022.00v13.6M703.82 1481.50v-13.6M895.53 1022.00v13.6M895.53 1481.50v-13.6" stroke="#000" stroke-width="1.9" fill="none"/>
<rect x="588.80" y="1022.00" width="460.10" height="459.50" stroke="#000" stroke-width="2" fill="none"/>
<path d="M82.8 66.12V89.82H80V70.72C78.8 72.12 77 72.92 74.7 73.42V71.02C77.5 70.42 79.2 68.62 80.2 66.12Z" fill="#000"/>
<text x="90.1" y="233.61" text-anchor="end" class="tl">0.5</text>
<text x="90.1" y="377.21" text-anchor="end" class="tl">0</text>
<text x="90.1" y="520.80" text-anchor="end" class="tl">-0.5</text>
<path d="M82.8 552.12V575.82H80V556.72C78.8 558.12 77 558.92 74.7 559.42V557.02C77.5 556.42 79.2 554.62 80.2 552.12Z" fill="#000"/>
<text x="90.1" y="719.61" text-anchor="end" class="tl">0.5</text>
<text x="90.1" y="863.21" text-anchor="end" class="tl">0</text>
<text x="90.1" y="1006.80" text-anchor="end" class="tl">-0.5</text>
<path d="M82.8 1038.12V1061.82H80V1042.72C78.8 1044.12 77 1044.92 74.7 1045.42V1043.02C77.5 1042.42 79.2 1040.62 80.2 1038.12Z" fill="#000"/>
<text x="90.1" y="1205.61" text-anchor="end" class="tl">0.5</text>
<text x="90.1" y="1349.21" text-anchor="end" class="tl">0</text>
<text x="90.1" y="1492.80" text-anchor="end" class="tl">-0.5</text>
<text x="224.12" y="1525.6" text-anchor="middle" class="tl">-50</text>
<text x="420.03" y="1525.6" text-anchor="middle" class="tl">0</text>
<text x="704.12" y="1525.6" text-anchor="middle" class="tl">-50</text>
<text x="900.03" y="1525.6" text-anchor="middle" class="tl">0</text>
<text x="216" y="24" class="ti" textLength="239.5" lengthAdjust="spacingAndGlyphs">two-component</text>
<text x="678.6" y="24" class="ti" textLength="263.7" lengthAdjust="spacingAndGlyphs">three-component</text>
<g transform="translate(23.9 0) rotate(-90)"><text x="-302.77" y="-0.33" font-family="Liberation Serif" font-style="italic" font-size="33.47" textLength="19.25" lengthAdjust="spacingAndGlyphs" fill="#111">a</text><text x="-271.36" y="2.92" font-family="Liberation Serif" font-size="36.80" textLength="23.87" lengthAdjust="spacingAndGlyphs" fill="#111">=</text><text x="-235.05" y="-0.35" font-family="Liberation Serif" font-size="35.11" textLength="17.81" lengthAdjust="spacingAndGlyphs" fill="#111">0</text><text x="-216.43" y="-0.91" font-family="Liberation Serif" font-size="36.44" textLength="8.05" lengthAdjust="spacingAndGlyphs" fill="#111">.</text><text x="-207.01" y="-0.35" font-family="Liberation Serif" font-size="34.82" textLength="17.80" lengthAdjust="spacingAndGlyphs" fill="#111">3</text><text x="-188.92" y="-0.35" font-family="Liberation Serif" font-size="35.49" textLength="18.24" lengthAdjust="spacingAndGlyphs" fill="#111">5</text></g>
<g transform="translate(23.9 0) rotate(-90)"><text x="-788.77" y="-0.33" font-family="Liberation Serif" font-style="italic" font-size="33.47" textLength="19.25" lengthAdjust="spacingAndGlyphs" fill="#111">a</text><text x="-757.36" y="2.92" font-family="Liberation Serif" font-size="36.80" textLength="23.87" lengthAdjust="spacingAndGlyphs" fill="#111">=</text><text x="-721.05" y="-0.35" font-family="Liberation Serif" font-size="35.11" textLength="17.81" lengthAdjust="spacingAndGlyphs" fill="#111">0</text><text x="-702.43" y="-0.91" font-family="Liberation Serif" font-size="36.44" textLength="8.05" lengthAdjust="spacingAndGlyphs" fill="#111">.</text><text x="-692.91" y="0.00" font-family="Liberation Serif" font-size="35.35" textLength="18.33" lengthAdjust="spacingAndGlyphs" fill="#111">2</text><text x="-674.92" y="-0.35" font-family="Liberation Serif" font-size="35.49" textLength="18.24" lengthAdjust="spacingAndGlyphs" fill="#111">5</text></g>
<g transform="translate(23.9 0) rotate(-90)"><text x="-1274.77" y="-0.33" font-family="Liberation Serif" font-style="italic" font-size="33.47" textLength="19.25" lengthAdjust="spacingAndGlyphs" fill="#111">a</text><text x="-1243.36" y="2.92" font-family="Liberation Serif" font-size="36.80" textLength="23.87" lengthAdjust="spacingAndGlyphs" fill="#111">=</text><text x="-1207.05" y="-0.35" font-family="Liberation Serif" font-size="35.11" textLength="17.81" lengthAdjust="spacingAndGlyphs" fill="#111">0</text><text x="-1188.43" y="-0.91" font-family="Liberation Serif" font-size="36.44" textLength="8.05" lengthAdjust="spacingAndGlyphs" fill="#111">.</text><text x="-1178.62" y="-0.35" font-family="Liberation Serif" font-size="34.67" textLength="17.33" lengthAdjust="spacingAndGlyphs" fill="#111">0</text><text x="-1161.20" y="0.00" font-family="Liberation Serif" font-size="36.03" textLength="18.15" lengthAdjust="spacingAndGlyphs" fill="#111">7</text></g>
<text x="311.34" y="1573.70" font-family="Liberation Serif" font-style="italic" font-size="34.20" textLength="17.46" lengthAdjust="spacingAndGlyphs" fill="#111">x</text>
<text x="339.00" y="1577.98" font-family="Liberation Serif" font-size="40.00" textLength="25.94" lengthAdjust="spacingAndGlyphs" fill="#111">−</text>
<text x="376.26" y="1573.50" font-family="Liberation Serif" font-style="italic" font-size="33.99" textLength="17.00" lengthAdjust="spacingAndGlyphs" fill="#111">x</text>
<text x="397.10" y="1577.47" font-family="Liberation Serif" font-style="italic" font-size="22.87" textLength="11.67" lengthAdjust="spacingAndGlyphs" fill="#111">c</text>
<text x="413.49" y="1573.67" font-family="Liberation Serif" font-size="38.15" textLength="11.40" lengthAdjust="spacingAndGlyphs" fill="#111">(</text>
<text x="424.59" y="1573.12" font-family="Liberation Serif" font-style="italic" font-size="37.87" textLength="12.03" lengthAdjust="spacingAndGlyphs" fill="#111">t</text>
<text x="439.92" y="1573.67" font-family="Liberation Serif" font-size="38.15" textLength="11.27" lengthAdjust="spacingAndGlyphs" fill="#111">)</text>
<text x="791.34" y="1573.70" font-family="Liberation Serif" font-style="italic" font-size="34.20" textLength="17.46" lengthAdjust="spacingAndGlyphs" fill="#111">x</text>
<text x="819.00" y="1577.98" font-family="Liberation Serif" font-size="40.00" textLength="25.94" lengthAdjust="spacingAndGlyphs" fill="#111">−</text>
<text x="856.26" y="1573.50" font-family="Liberation Serif" font-style="italic" font-size="33.99" textLength="17.00" lengthAdjust="spacingAndGlyphs" fill="#111">x</text>
<text x="877.10" y="1577.47" font-family="Liberation Serif" font-style="italic" font-size="22.87" textLength="11.67" lengthAdjust="spacingAndGlyphs" fill="#111">c</text>
<text x="893.49" y="1573.67" font-family="Liberation Serif" font-size="38.15" textLength="11.40" lengthAdjust="spacingAndGlyphs" fill="#111">(</text>
<text x="904.59" y="1573.12" font-family="Liberation Serif" font-style="italic" font-size="37.87" textLength="12.03" lengthAdjust="spacingAndGlyphs" fill="#111">t</text>
<text x="919.92" y="1573.67" font-family="Liberation Serif" font-size="38.15" textLength="11.27" lengthAdjust="spacingAndGlyphs" fill="#111">)</text>
<path d="M147.80 88.90H200.00" stroke="#dc2428" stroke-width="1.5"/>
<text x="224.65" y="99.60" font-family="Liberation Serif" font-style="italic" font-size="33.33" textLength="19.17" lengthAdjust="spacingAndGlyphs" fill="#111">u</text><text x="247.51" y="100.17" font-family="Liberation Serif" font-size="38.15" textLength="11.27" lengthAdjust="spacingAndGlyphs" fill="#111">(</text><text x="260.95" y="99.70" font-family="Liberation Serif" font-style="italic" font-size="33.55" textLength="17.13" lengthAdjust="spacingAndGlyphs" fill="#111">x</text><text x="281.82" y="100.13" font-family="Liberation Serif" font-size="40.08" textLength="8.52" lengthAdjust="spacingAndGlyphs" fill="#111">,</text><text x="294.89" y="99.52" font-family="Liberation Serif" font-style="italic" font-size="38.22" textLength="12.03" lengthAdjust="spacingAndGlyphs" fill="#111">t</text><text x="310.08" y="104.60" font-family="Liberation Serif" font-size="26.67" textLength="13.78" lengthAdjust="spacingAndGlyphs" fill="#111">1</text><text x="327.95" y="99.97" font-family="Liberation Serif" font-size="38.15" textLength="10.88" lengthAdjust="spacingAndGlyphs" fill="#111">)</text>
<path d="M147.80 139.60H200.00" stroke="#2828b8" stroke-width="1.5" stroke-dasharray="8.8 4.1"/>
<text x="224.88" y="150.31" font-family="Liberation Serif" font-style="italic" font-size="34.12" textLength="16.52" lengthAdjust="spacingAndGlyphs" fill="#111">v</text><text x="245.41" y="150.92" font-family="Liberation Serif" font-size="38.15" textLength="11.27" lengthAdjust="spacingAndGlyphs" fill="#111">(</text><text x="258.85" y="150.45" font-family="Liberation Serif" font-style="italic" font-size="33.55" textLength="17.13" lengthAdjust="spacingAndGlyphs" fill="#111">x</text><text x="279.72" y="150.88" font-family="Liberation Serif" font-size="40.08" textLength="8.52" lengthAdjust="spacingAndGlyphs" fill="#111">,</text><text x="292.79" y="150.27" font-family="Liberation Serif" font-style="italic" font-size="38.22" textLength="12.03" lengthAdjust="spacingAndGlyphs" fill="#111">t</text><text x="307.97" y="155.35" font-family="Liberation Serif" font-size="26.67" textLength="13.78" lengthAdjust="spacingAndGlyphs" fill="#111">1</text><text x="325.85" y="150.72" font-family="Liberation Serif" font-size="38.15" textLength="10.88" lengthAdjust="spacingAndGlyphs" fill="#111">)</text>
<path d="M147.80 190.30H200.00" stroke="#237623" stroke-width="1.5" stroke-dasharray="4.7 6"/>
<text x="224.65" y="201.10" font-family="Liberation Serif" font-style="italic" font-size="33.33" textLength="19.17" lengthAdjust="spacingAndGlyphs" fill="#111">u</text><text x="247.51" y="201.67" font-family="Liberation Serif" font-size="38.15" textLength="11.27" lengthAdjust="spacingAndGlyphs" fill="#111">(</text><text x="260.95" y="201.20" font-family="Liberation Serif" font-style="italic" font-size="33.55" textLength="17.13" lengthAdjust="spacingAndGlyphs" fill="#111">x</text><text x="281.82" y="201.63" font-family="Liberation Serif" font-size="40.08" textLength="8.52" lengthAdjust="spacingAndGlyphs" fill="#111">,</text><text x="294.89" y="201.02" font-family="Liberation Serif" font-style="italic" font-size="38.22" textLength="12.03" lengthAdjust="spacingAndGlyphs" fill="#111">t</text><text x="310.16" y="205.40" font-family="Liberation Serif" font-size="25.23" textLength="14.51" lengthAdjust="spacingAndGlyphs" fill="#111">2</text><text x="327.95" y="201.47" font-family="Liberation Serif" font-size="38.15" textLength="10.88" lengthAdjust="spacingAndGlyphs" fill="#111">)</text>
<path d="M147.80 241.00H200.00" stroke="#763a7e" stroke-width="1.5" stroke-dasharray="2.4 2.96"/>
<text x="224.88" y="251.81" font-family="Liberation Serif" font-style="italic" font-size="34.12" textLength="16.52" lengthAdjust="spacingAndGlyphs" fill="#111">v</text><text x="245.41" y="252.42" font-family="Liberation Serif" font-size="38.15" textLength="11.27" lengthAdjust="spacingAndGlyphs" fill="#111">(</text><text x="258.85" y="251.95" font-family="Liberation Serif" font-style="italic" font-size="33.55" textLength="17.13" lengthAdjust="spacingAndGlyphs" fill="#111">x</text><text x="279.72" y="252.38" font-family="Liberation Serif" font-size="40.08" textLength="8.52" lengthAdjust="spacingAndGlyphs" fill="#111">,</text><text x="292.79" y="251.77" font-family="Liberation Serif" font-style="italic" font-size="38.22" textLength="12.03" lengthAdjust="spacingAndGlyphs" fill="#111">t</text><text x="308.06" y="256.15" font-family="Liberation Serif" font-size="25.23" textLength="14.51" lengthAdjust="spacingAndGlyphs" fill="#111">2</text><text x="325.85" y="252.22" font-family="Liberation Serif" font-size="38.15" textLength="10.88" lengthAdjust="spacingAndGlyphs" fill="#111">)</text>
<path d="M147.80 574.90H200.00" stroke="#dc2428" stroke-width="1.5"/>
<text x="224.65" y="586.35" font-family="Liberation Serif" font-style="italic" font-size="33.33" textLength="19.17" lengthAdjust="spacingAndGlyphs" fill="#111">u</text><text x="247.51" y="586.92" font-family="Liberation Serif" font-size="38.15" textLength="11.27" lengthAdjust="spacingAndGlyphs" fill="#111">(</text><text x="260.95" y="586.45" font-family="Liberation Serif" font-style="italic" font-size="33.55" textLength="17.13" lengthAdjust="spacingAndGlyphs" fill="#111">x</text><text x="281.82" y="586.88" font-family="Liberation Serif" font-size="40.08" textLength="8.52" lengthAdjust="spacingAndGlyphs" fill="#111">,</text><text x="294.89" y="586.27" font-family="Liberation Serif" font-style="italic" font-size="38.22" textLength="12.03" lengthAdjust="spacingAndGlyphs" fill="#111">t</text><text x="310.07" y="591.35" font-family="Liberation Serif" font-size="26.67" textLength="13.78" lengthAdjust="spacingAndGlyphs" fill="#111">1</text><text x="327.95" y="586.72" font-family="Liberation Serif" font-size="38.15" textLength="10.88" lengthAdjust="spacingAndGlyphs" fill="#111">)</text>
<path d="M147.80 625.60H200.00" stroke="#2828b8" stroke-width="1.5" stroke-dasharray="8.8 4.1"/>
<text x="224.88" y="637.06" font-family="Liberation Serif" font-style="italic" font-size="34.12" textLength="16.52" lengthAdjust="spacingAndGlyphs" fill="#111">v</text><text x="245.41" y="637.67" font-family="Liberation Serif" font-size="38.15" textLength="11.27" lengthAdjust="spacingAndGlyphs" fill="#111">(</text><text x="258.85" y="637.20" font-family="Liberation Serif" font-style="italic" font-size="33.55" textLength="17.13" lengthAdjust="spacingAndGlyphs" fill="#111">x</text><text x="279.72" y="637.63" font-family="Liberation Serif" font-size="40.08" textLength="8.52" lengthAdjust="spacingAndGlyphs" fill="#111">,</text><text x="292.79" y="637.02" font-family="Liberation Serif" font-style="italic" font-size="38.22" textLength="12.03" lengthAdjust="spacingAndGlyphs" fill="#111">t</text><text x="307.97" y="642.10" font-family="Liberation Serif" font-size="26.67" textLength="13.78" lengthAdjust="spacingAndGlyphs" fill="#111">1</text><text x="325.85" y="637.47" font-family="Liberation Serif" font-size="38.15" textLength="10.88" lengthAdjust="spacingAndGlyphs" fill="#111">)</text>
<path d="M147.80 676.30H200.00" stroke="#237623" stroke-width="1.5" stroke-dasharray="4.7 6"/>
<text x="224.65" y="687.85" font-family="Liberation Serif" font-style="italic" font-size="33.33" textLength="19.17" lengthAdjust="spacingAndGlyphs" fill="#111">u</text><text x="247.51" y="688.42" font-family="Liberation Serif" font-size="38.15" textLength="11.27" lengthAdjust="spacingAndGlyphs" fill="#111">(</text><text x="260.95" y="687.95" font-family="Liberation Serif" font-style="italic" font-size="33.55" textLength="17.13" lengthAdjust="spacingAndGlyphs" fill="#111">x</text><text x="281.82" y="688.38" font-family="Liberation Serif" font-size="40.08" textLength="8.52" lengthAdjust="spacingAndGlyphs" fill="#111">,</text><text x="294.89" y="687.77" font-family="Liberation Serif" font-style="italic" font-size="38.22" textLength="12.03" lengthAdjust="spacingAndGlyphs" fill="#111">t</text><text x="310.16" y="692.15" font-family="Liberation Serif" font-size="25.23" textLength="14.51" lengthAdjust="spacingAndGlyphs" fill="#111">2</text><text x="327.95" y="688.22" font-family="Liberation Serif" font-size="38.15" textLength="10.88" lengthAdjust="spacingAndGlyphs" fill="#111">)</text>
<path d="M147.80 727.00H200.00" stroke="#763a7e" stroke-width="1.5" stroke-dasharray="2.4 2.96"/>
<text x="224.88" y="738.56" font-family="Liberation Serif" font-style="italic" font-size="34.12" textLength="16.52" lengthAdjust="spacingAndGlyphs" fill="#111">v</text><text x="245.41" y="739.17" font-family="Liberation Serif" font-size="38.15" textLength="11.27" lengthAdjust="spacingAndGlyphs" fill="#111">(</text><text x="258.85" y="738.70" font-family="Liberation Serif" font-style="italic" font-size="33.55" textLength="17.13" lengthAdjust="spacingAndGlyphs" fill="#111">x</text><text x="279.72" y="739.13" font-family="Liberation Serif" font-size="40.08" textLength="8.52" lengthAdjust="spacingAndGlyphs" fill="#111">,</text><text x="292.79" y="738.52" font-family="Liberation Serif" font-style="italic" font-size="38.22" textLength="12.03" lengthAdjust="spacingAndGlyphs" fill="#111">t</text><text x="308.06" y="742.90" font-family="Liberation Serif" font-size="25.23" textLength="14.51" lengthAdjust="spacingAndGlyphs" fill="#111">2</text><text x="325.85" y="738.97" font-family="Liberation Serif" font-size="38.15" textLength="10.88" lengthAdjust="spacingAndGlyphs" fill="#111">)</text>
<path d="M147.80 1060.90H200.00" stroke="#dc2428" stroke-width="1.5"/>
<text x="224.65" y="1073.10" font-family="Liberation Serif" font-style="italic" font-size="33.33" textLength="19.17" lengthAdjust="spacingAndGlyphs" fill="#111">u</text><text x="247.51" y="1073.67" font-family="Liberation Serif" font-size="38.15" textLength="11.27" lengthAdjust="spacingAndGlyphs" fill="#111">(</text><text x="260.95" y="1073.20" font-family="Liberation Serif" font-style="italic" font-size="33.55" textLength="17.13" lengthAdjust="spacingAndGlyphs" fill="#111">x</text><text x="281.82" y="1073.63" font-family="Liberation Serif" font-size="40.08" textLength="8.52" lengthAdjust="spacingAndGlyphs" fill="#111">,</text><text x="294.89" y="1073.02" font-family="Liberation Serif" font-style="italic" font-size="38.22" textLength="12.03" lengthAdjust="spacingAndGlyphs" fill="#111">t</text><text x="310.07" y="1078.10" font-family="Liberation Serif" font-size="26.67" textLength="13.78" lengthAdjust="spacingAndGlyphs" fill="#111">1</text><text x="327.95" y="1073.47" font-family="Liberation Serif" font-size="38.15" textLength="10.88" lengthAdjust="spacingAndGlyphs" fill="#111">)</text>
<path d="M147.80 1111.60H200.00" stroke="#2828b8" stroke-width="1.5" stroke-dasharray="8.8 4.1"/>
<text x="224.88" y="1123.81" font-family="Liberation Serif" font-style="italic" font-size="34.12" textLength="16.52" lengthAdjust="spacingAndGlyphs" fill="#111">v</text><text x="245.41" y="1124.42" font-family="Liberation Serif" font-size="38.15" textLength="11.27" lengthAdjust="spacingAndGlyphs" fill="#111">(</text><text x="258.85" y="1123.95" font-family="Liberation Serif" font-style="italic" font-size="33.55" textLength="17.13" lengthAdjust="spacingAndGlyphs" fill="#111">x</text><text x="279.72" y="1124.38" font-family="Liberation Serif" font-size="40.08" textLength="8.52" lengthAdjust="spacingAndGlyphs" fill="#111">,</text><text x="292.79" y="1123.77" font-family="Liberation Serif" font-style="italic" font-size="38.22" textLength="12.03" lengthAdjust="spacingAndGlyphs" fill="#111">t</text><text x="307.97" y="1128.85" font-family="Liberation Serif" font-size="26.67" textLength="13.78" lengthAdjust="spacingAndGlyphs" fill="#111">1</text><text x="325.85" y="1124.22" font-family="Liberation Serif" font-size="38.15" textLength="10.88" lengthAdjust="spacingAndGlyphs" fill="#111">)</text>
<path d="M147.80 1162.30H200.00" stroke="#237623" stroke-width="1.5" stroke-dasharray="4.7 6"/>
<text x="224.65" y="1174.60" font-family="Liberation Serif" font-style="italic" font-size="33.33" textLength="19.17" lengthAdjust="spacingAndGlyphs" fill="#111">u</text><text x="247.51" y="1175.17" font-family="Liberation Serif" font-size="38.15" textLength="11.27" lengthAdjust="spacingAndGlyphs" fill="#111">(</text><text x="260.95" y="1174.70" font-family="Liberation Serif" font-style="italic" font-size="33.55" textLength="17.13" lengthAdjust="spacingAndGlyphs" fill="#111">x</text><text x="281.82" y="1175.13" font-family="Liberation Serif" font-size="40.08" textLength="8.52" lengthAdjust="spacingAndGlyphs" fill="#111">,</text><text x="294.89" y="1174.52" font-family="Liberation Serif" font-style="italic" font-size="38.22" textLength="12.03" lengthAdjust="spacingAndGlyphs" fill="#111">t</text><text x="310.16" y="1178.90" font-family="Liberation Serif" font-size="25.23" textLength="14.51" lengthAdjust="spacingAndGlyphs" fill="#111">2</text><text x="327.95" y="1174.97" font-family="Liberation Serif" font-size="38.15" textLength="10.88" lengthAdjust="spacingAndGlyphs" fill="#111">)</text>
<path d="M147.80 1213.00H200.00" stroke="#763a7e" stroke-width="1.5" stroke-dasharray="2.4 2.96"/>
<text x="224.88" y="1225.31" font-family="Liberation Serif" font-style="italic" font-size="34.12" textLength="16.52" lengthAdjust="spacingAndGlyphs" fill="#111">v</text><text x="245.41" y="1225.92" font-family="Liberation Serif" font-size="38.15" textLength="11.27" lengthAdjust="spacingAndGlyphs" fill="#111">(</text><text x="258.85" y="1225.45" font-family="Liberation Serif" font-style="italic" font-size="33.55" textLength="17.13" lengthAdjust="spacingAndGlyphs" fill="#111">x</text><text x="279.72" y="1225.88" font-family="Liberation Serif" font-size="40.08" textLength="8.52" lengthAdjust="spacingAndGlyphs" fill="#111">,</text><text x="292.79" y="1225.27" font-family="Liberation Serif" font-style="italic" font-size="38.22" textLength="12.03" lengthAdjust="spacingAndGlyphs" fill="#111">t</text><text x="308.06" y="1229.65" font-family="Liberation Serif" font-size="25.23" textLength="14.51" lengthAdjust="spacingAndGlyphs" fill="#111">2</text><text x="325.85" y="1225.72" font-family="Liberation Serif" font-size="38.15" textLength="10.88" lengthAdjust="spacingAndGlyphs" fill="#111">)</text>
<path d="M627.80 88.90H680.00" stroke="#dc2428" stroke-width="1.5"/>
<text x="704.65" y="99.60" font-family="Liberation Serif" font-style="italic" font-size="33.33" textLength="19.17" lengthAdjust="spacingAndGlyphs" fill="#111">u</text><text x="727.51" y="100.17" font-family="Liberation Serif" font-size="38.15" textLength="11.27" lengthAdjust="spacingAndGlyphs" fill="#111">(</text><text x="740.95" y="99.70" font-family="Liberation Serif" font-style="italic" font-size="33.55" textLength="17.13" lengthAdjust="spacingAndGlyphs" fill="#111">x</text><text x="761.82" y="100.13" font-family="Liberation Serif" font-size="40.08" textLength="8.52" lengthAdjust="spacingAndGlyphs" fill="#111">,</text><text x="774.89" y="99.52" font-family="Liberation Serif" font-style="italic" font-size="38.22" textLength="12.03" lengthAdjust="spacingAndGlyphs" fill="#111">t</text><text x="790.08" y="104.60" font-family="Liberation Serif" font-size="26.67" textLength="13.78" lengthAdjust="spacingAndGlyphs" fill="#111">1</text><text x="807.95" y="99.97" font-family="Liberation Serif" font-size="38.15" textLength="10.88" lengthAdjust="spacingAndGlyphs" fill="#111">)</text>
<path d="M627.80 139.60H680.00" stroke="#2828b8" stroke-width="1.5" stroke-dasharray="8.8 4.1"/>
<text x="704.88" y="150.31" font-family="Liberation Serif" font-style="italic" font-size="34.12" textLength="16.52" lengthAdjust="spacingAndGlyphs" fill="#111">v</text><text x="725.41" y="150.92" font-family="Liberation Serif" font-size="38.15" textLength="11.27" lengthAdjust="spacingAndGlyphs" fill="#111">(</text><text x="738.85" y="150.45" font-family="Liberation Serif" font-style="italic" font-size="33.55" textLength="17.13" lengthAdjust="spacingAndGlyphs" fill="#111">x</text><text x="759.72" y="150.88" font-family="Liberation Serif" font-size="40.08" textLength="8.52" lengthAdjust="spacingAndGlyphs" fill="#111">,</text><text x="772.79" y="150.27" font-family="Liberation Serif" font-style="italic" font-size="38.22" textLength="12.03" lengthAdjust="spacingAndGlyphs" fill="#111">t</text><text x="787.98" y="155.35" font-family="Liberation Serif" font-size="26.67" textLength="13.78" lengthAdjust="spacingAndGlyphs" fill="#111">1</text><text x="805.85" y="150.72" font-family="Liberation Serif" font-size="38.15" textLength="10.88" lengthAdjust="spacingAndGlyphs" fill="#111">)</text>
<path d="M627.80 190.30H680.00" stroke="#237623" stroke-width="1.5" stroke-dasharray="4.7 6"/>
<text x="704.65" y="201.10" font-family="Liberation Serif" font-style="italic" font-size="33.33" textLength="19.17" lengthAdjust="spacingAndGlyphs" fill="#111">u</text><text x="727.51" y="201.67" font-family="Liberation Serif" font-size="38.15" textLength="11.27" lengthAdjust="spacingAndGlyphs" fill="#111">(</text><text x="740.95" y="201.20" font-family="Liberation Serif" font-style="italic" font-size="33.55" textLength="17.13" lengthAdjust="spacingAndGlyphs" fill="#111">x</text><text x="761.82" y="201.63" font-family="Liberation Serif" font-size="40.08" textLength="8.52" lengthAdjust="spacingAndGlyphs" fill="#111">,</text><text x="774.89" y="201.02" font-family="Liberation Serif" font-style="italic" font-size="38.22" textLength="12.03" lengthAdjust="spacingAndGlyphs" fill="#111">t</text><text x="790.16" y="205.40" font-family="Liberation Serif" font-size="25.23" textLength="14.51" lengthAdjust="spacingAndGlyphs" fill="#111">2</text><text x="807.95" y="201.47" font-family="Liberation Serif" font-size="38.15" textLength="10.88" lengthAdjust="spacingAndGlyphs" fill="#111">)</text>
<path d="M627.80 241.00H680.00" stroke="#763a7e" stroke-width="1.5" stroke-dasharray="2.4 2.96"/>
<text x="704.88" y="251.81" font-family="Liberation Serif" font-style="italic" font-size="34.12" textLength="16.52" lengthAdjust="spacingAndGlyphs" fill="#111">v</text><text x="725.41" y="252.42" font-family="Liberation Serif" font-size="38.15" textLength="11.27" lengthAdjust="spacingAndGlyphs" fill="#111">(</text><text x="738.85" y="251.95" font-family="Liberation Serif" font-style="italic" font-size="33.55" textLength="17.13" lengthAdjust="spacingAndGlyphs" fill="#111">x</text><text x="759.72" y="252.38" font-family="Liberation Serif" font-size="40.08" textLength="8.52" lengthAdjust="spacingAndGlyphs" fill="#111">,</text><text x="772.79" y="251.77" font-family="Liberation Serif" font-style="italic" font-size="38.22" textLength="12.03" lengthAdjust="spacingAndGlyphs" fill="#111">t</text><text x="788.06" y="256.15" font-family="Liberation Serif" font-size="25.23" textLength="14.51" lengthAdjust="spacingAndGlyphs" fill="#111">2</text><text x="805.85" y="252.22" font-family="Liberation Serif" font-size="38.15" textLength="10.88" lengthAdjust="spacingAndGlyphs" fill="#111">)</text>
<path d="M627.80 574.90H680.00" stroke="#dc2428" stroke-width="1.5"/>
<text x="704.65" y="586.35" font-family="Liberation Serif" font-style="italic" font-size="33.33" textLength="19.17" lengthAdjust="spacingAndGlyphs" fill="#111">u</text><text x="727.51" y="586.92" font-family="Liberation Serif" font-size="38.15" textLength="11.27" lengthAdjust="spacingAndGlyphs" fill="#111">(</text><text x="740.95" y="586.45" font-family="Liberation Serif" font-style="italic" font-size="33.55" textLength="17.13" lengthAdjust="spacingAndGlyphs" fill="#111">x</text><text x="761.82" y="586.88" font-family="Liberation Serif" font-size="40.08" textLength="8.52" lengthAdjust="spacingAndGlyphs" fill="#111">,</text><text x="774.89" y="586.27" font-family="Liberation Serif" font-style="italic" font-size="38.22" textLength="12.03" lengthAdjust="spacingAndGlyphs" fill="#111">t</text><text x="790.08" y="591.35" font-family="Liberation Serif" font-size="26.67" textLength="13.78" lengthAdjust="spacingAndGlyphs" fill="#111">1</text><text x="807.95" y="586.72" font-family="Liberation Serif" font-size="38.15" textLength="10.88" lengthAdjust="spacingAndGlyphs" fill="#111">)</text>
<path d="M627.80 625.60H680.00" stroke="#2828b8" stroke-width="1.5" stroke-dasharray="8.8 4.1"/>
<text x="704.88" y="637.06" font-family="Liberation Serif" font-style="italic" font-size="34.12" textLength="16.52" lengthAdjust="spacingAndGlyphs" fill="#111">v</text><text x="725.41" y="637.67" font-family="Liberation Serif" font-size="38.15" textLength="11.27" lengthAdjust="spacingAndGlyphs" fill="#111">(</text><text x="738.85" y="637.20" font-family="Liberation Serif" font-style="italic" font-size="33.55" textLength="17.13" lengthAdjust="spacingAndGlyphs" fill="#111">x</text><text x="759.72" y="637.63" font-family="Liberation Serif" font-size="40.08" textLength="8.52" lengthAdjust="spacingAndGlyphs" fill="#111">,</text><text x="772.79" y="637.02" font-family="Liberation Serif" font-style="italic" font-size="38.22" textLength="12.03" lengthAdjust="spacingAndGlyphs" fill="#111">t</text><text x="787.98" y="642.10" font-family="Liberation Serif" font-size="26.67" textLength="13.78" lengthAdjust="spacingAndGlyphs" fill="#111">1</text><text x="805.85" y="637.47" font-family="Liberation Serif" font-size="38.15" textLength="10.88" lengthAdjust="spacingAndGlyphs" fill="#111">)</text>
<path d="M627.80 676.30H680.00" stroke="#237623" stroke-width="1.5" stroke-dasharray="4.7 6"/>
<text x="704.65" y="687.85" font-family="Liberation Serif" font-style="italic" font-size="33.33" textLength="19.17" lengthAdjust="spacingAndGlyphs" fill="#111">u</text><text x="727.51" y="688.42" font-family="Liberation Serif" font-size="38.15" textLength="11.27" lengthAdjust="spacingAndGlyphs" fill="#111">(</text><text x="740.95" y="687.95" font-family="Liberation Serif" font-style="italic" font-size="33.55" textLength="17.13" lengthAdjust="spacingAndGlyphs" fill="#111">x</text><text x="761.82" y="688.38" font-family="Liberation Serif" font-size="40.08" textLength="8.52" lengthAdjust="spacingAndGlyphs" fill="#111">,</text><text x="774.89" y="687.77" font-family="Liberation Serif" font-style="italic" font-size="38.22" textLength="12.03" lengthAdjust="spacingAndGlyphs" fill="#111">t</text><text x="790.16" y="692.15" font-family="Liberation Serif" font-size="25.23" textLength="14.51" lengthAdjust="spacingAndGlyphs" fill="#111">2</text><text x="807.95" y="688.22" font-family="Liberation Serif" font-size="38.15" textLength="10.88" lengthAdjust="spacingAndGlyphs" fill="#111">)</text>
<path d="M627.80 727.00H680.00" stroke="#763a7e" stroke-width="1.5" stroke-dasharray="2.4 2.96"/>
<text x="704.88" y="738.56" font-family="Liberation Serif" font-style="italic" font-size="34.12" textLength="16.52" lengthAdjust="spacingAndGlyphs" fill="#111">v</text><text x="725.41" y="739.17" font-family="Liberation Serif" font-size="38.15" textLength="11.27" lengthAdjust="spacingAndGlyphs" fill="#111">(</text><text x="738.85" y="738.70" font-family="Liberation Serif" font-style="italic" font-size="33.55" textLength="17.13" lengthAdjust="spacingAndGlyphs" fill="#111">x</text><text x="759.72" y="739.13" font-family="Liberation Serif" font-size="40.08" textLength="8.52" lengthAdjust="spacingAndGlyphs" fill="#111">,</text><text x="772.79" y="738.52" font-family="Liberation Serif" font-style="italic" font-size="38.22" textLength="12.03" lengthAdjust="spacingAndGlyphs" fill="#111">t</text><text x="788.06" y="742.90" font-family="Liberation Serif" font-size="25.23" textLength="14.51" lengthAdjust="spacingAndGlyphs" fill="#111">2</text><text x="805.85" y="738.97" font-family="Liberation Serif" font-size="38.15" textLength="10.88" lengthAdjust="spacingAndGlyphs" fill="#111">)</text>
<path d="M627.80 1060.90H680.00" stroke="#dc2428" stroke-width="1.5"/>
<text x="704.65" y="1073.10" font-family="Liberation Serif" font-style="italic" font-size="33.33" textLength="19.17" lengthAdjust="spacingAndGlyphs" fill="#111">u</text><text x="727.51" y="1073.67" font-family="Liberation Serif" font-size="38.15" textLength="11.27" lengthAdjust="spacingAndGlyphs" fill="#111">(</text><text x="740.95" y="1073.20" font-family="Liberation Serif" font-style="italic" font-size="33.55" textLength="17.13" lengthAdjust="spacingAndGlyphs" fill="#111">x</text><text x="761.82" y="1073.63" font-family="Liberation Serif" font-size="40.08" textLength="8.52" lengthAdjust="spacingAndGlyphs" fill="#111">,</text><text x="774.89" y="1073.02" font-family="Liberation Serif" font-style="italic" font-size="38.22" textLength="12.03" lengthAdjust="spacingAndGlyphs" fill="#111">t</text><text x="790.08" y="1078.10" font-family="Liberation Serif" font-size="26.67" textLength="13.78" lengthAdjust="spacingAndGlyphs" fill="#111">1</text><text x="807.95" y="1073.47" font-family="Liberation Serif" font-size="38.15" textLength="10.88" lengthAdjust="spacingAndGlyphs" fill="#111">)</text>
<path d="M627.80 1111.60H680.00" stroke="#2828b8" stroke-width="1.5" stroke-dasharray="8.8 4.1"/>
<text x="704.88" y="1123.81" font-family="Liberation Serif" font-style="italic" font-size="34.12" textLength="16.52" lengthAdjust="spacingAndGlyphs" fill="#111">v</text><text x="725.41" y="1124.42" font-family="Liberation Serif" font-size="38.15" textLength="11.27" lengthAdjust="spacingAndGlyphs" fill="#111">(</text><text x="738.85" y="1123.95" font-family="Liberation Serif" font-style="italic" font-size="33.55" textLength="17.13" lengthAdjust="spacingAndGlyphs" fill="#111">x</text><text x="759.72" y="1124.38" font-family="Liberation Serif" font-size="40.08" textLength="8.52" lengthAdjust="spacingAndGlyphs" fill="#111">,</text><text x="772.79" y="1123.77" font-family="Liberation Serif" font-style="italic" font-size="38.22" textLength="12.03" lengthAdjust="spacingAndGlyphs" fill="#111">t</text><text x="787.98" y="1128.85" font-family="Liberation Serif" font-size="26.67" textLength="13.78" lengthAdjust="spacingAndGlyphs" fill="#111">1</text><text x="805.85" y="1124.22" font-family="Liberation Serif" font-size="38.15" textLength="10.88" lengthAdjust="spacingAndGlyphs" fill="#111">)</text>
<path d="M627.80 1162.30H680.00" stroke="#237623" stroke-width="1.5" stroke-dasharray="4.7 6"/>
<text x="704.65" y="1174.60" font-family="Liberation Serif" font-style="italic" font-size="33.33" textLength="19.17" lengthAdjust="spacingAndGlyphs" fill="#111">u</text><text x="727.51" y="1175.17" font-family="Liberation Serif" font-size="38.15" textLength="11.27" lengthAdjust="spacingAndGlyphs" fill="#111">(</text><text x="740.95" y="1174.70" font-family="Liberation Serif" font-style="italic" font-size="33.55" textLength="17.13" lengthAdjust="spacingAndGlyphs" fill="#111">x</text><text x="761.82" y="1175.13" font-family="Liberation Serif" font-size="40.08" textLength="8.52" lengthAdjust="spacingAndGlyphs" fill="#111">,</text><text x="774.89" y="1174.52" font-family="Liberation Serif" font-style="italic" font-size="38.22" textLength="12.03" lengthAdjust="spacingAndGlyphs" fill="#111">t</text><text x="790.16" y="1178.90" font-family="Liberation Serif" font-size="25.23" textLength="14.51" lengthAdjust="spacingAndGlyphs" fill="#111">2</text><text x="807.95" y="1174.97" font-family="Liberation Serif" font-size="38.15" textLength="10.88" lengthAdjust="spacingAndGlyphs" fill="#111">)</text>
<path d="M627.80 1213.00H680.00" stroke="#763a7e" stroke-width="1.5" stroke-dasharray="2.4 2.96"/>
<text x="704.88" y="1225.31" font-family="Liberation Serif" font-style="italic" font-size="34.12" textLength="16.52" lengthAdjust="spacingAndGlyphs" fill="#111">v</text><text x="725.41" y="1225.92" font-family="Liberation Serif" font-size="38.15" textLength="11.27" lengthAdjust="spacingAndGlyphs" fill="#111">(</text><text x="738.85" y="1225.45" font-family="Liberation Serif" font-style="italic" font-size="33.55" textLength="17.13" lengthAdjust="spacingAndGlyphs" fill="#111">x</text><text x="759.72" y="1225.88" font-family="Liberation Serif" font-size="40.08" textLength="8.52" lengthAdjust="spacingAndGlyphs" fill="#111">,</text><text x="772.79" y="1225.27" font-family="Liberation Serif" font-style="italic" font-size="38.22" textLength="12.03" lengthAdjust="spacingAndGlyphs" fill="#111">t</text><text x="788.06" y="1229.65" font-family="Liberation Serif" font-size="25.23" textLength="14.51" lengthAdjust="spacingAndGlyphs" fill="#111">2</text><text x="805.85" y="1225.72" font-family="Liberation Serif" font-size="38.15" textLength="10.88" lengthAdjust="spacingAndGlyphs" fill="#111">)</text>
</svg>
</body></html>
